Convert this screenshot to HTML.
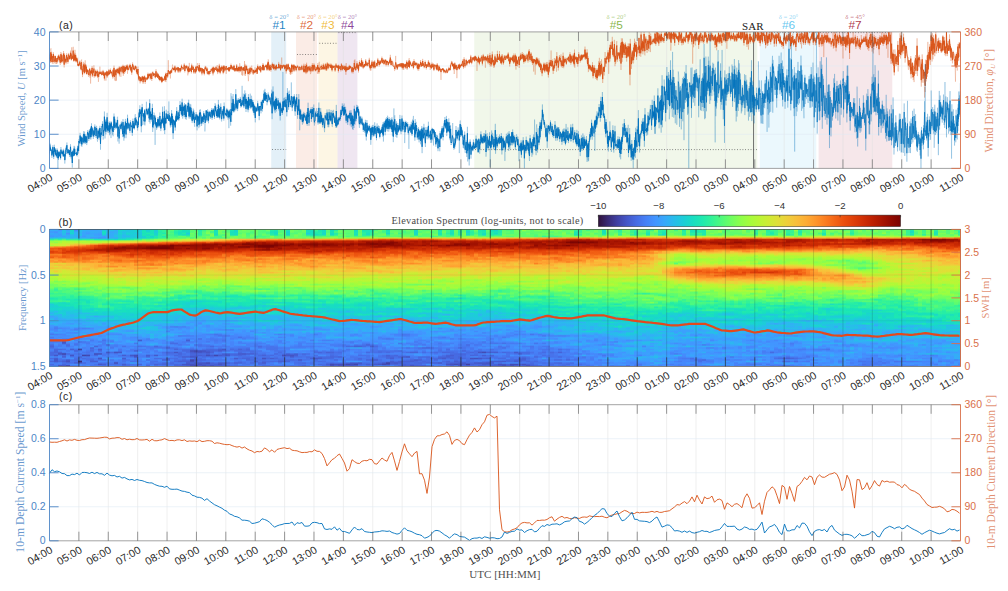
<!DOCTYPE html>
<html><head><meta charset="utf-8"><style>
html,body{margin:0;padding:0;background:#fff;width:1008px;height:591px;overflow:hidden}
#sp{position:absolute;left:49.5px;top:229.4px;width:911px;height:137px;overflow:hidden}
#sp i{position:absolute;top:0;height:100%;display:block}
svg{position:absolute;left:0;top:0}
</style></head><body>
<div id="sp"><i style="left:0px;width:4.3px;background:linear-gradient(#35abf8,#35abf8,#4196ff,#37a8fa,#3ba0fd,#4196ff,#2cb7f0,#2aefa1,#92ff47,#a1fd3d,#cdec34,#acfb38,#fe962b,#ec530f,#f05b12,#dd3d08,#e2430a,#fb7e21,#f56918,#f15d13,#fea130,#fe932a,#fe992c,#ebd339,#f4c73a,#ebd339,#f8be39,#e1dd37,#e1dd37,#d2e935,#bcf534,#b1f936,#b7f735,#a4fc3c,#b4f836,#92ff47,#88ff4e,#6dfe62,#75fe5c,#75fe5c,#59fb73,#43f787,#43f787,#2ff19b,#46f884,#38f491,#1ce6b4,#25eca7,#38f491,#1ce6b4,#1ecbda,#1ad2d2,#1bd0d5,#18d9c8,#1bd0d5,#23c3e4,#2fb2f4,#22c5e2,#3d9efe,#35abf8,#2cb7f0,#25c0e7,#3aa3fc,#2ab9ee,#4099ff,#4294ff,#458cfd,#4687fb,#3d9efe,#448ffe,#4776ee,#3e9bfe,#4778f0,#4687fb,#458cfd,#4778f0,#4680f6,#476ee6,#4664da,#4771e9,#4680f6,#467df4,#4669e0,#4669e0,#4669e0,#4391fe,#466be3,#4680f6,#4664da,#4687fb,#466be3,#4778f0)"></i><i style="left:4px;width:4.3px;background:linear-gradient(#3aa3fc,#35abf8,#4391fe,#3ba0fd,#38a5fb,#3d9efe,#28bceb,#3ff68a,#a7fc3a,#8fff49,#c6f034,#c1f334,#fc8423,#ed5510,#f46617,#e4450a,#ea4e0d,#fb8122,#f46617,#fb7e21,#fe932a,#fea431,#fd8a26,#dbe236,#f9bc39,#d9e436,#f7c13a,#d9e436,#f4c73a,#e1dd37,#bcf534,#c6f034,#b4f836,#a9fb39,#9ffd3f,#75fe5c,#9cfe40,#71fe5f,#7dff56,#52fa7a,#32f298,#32f298,#55fa76,#38f491,#43f787,#38f491,#20eaac,#25eca7,#3cf58e,#1de7b2,#18dec0,#1ad2d2,#1ad4d0,#18d7ca,#1bd0d5,#2cb7f0,#1ccdd8,#25c0e7,#31aff5,#38a5fb,#3d9efe,#23c3e4,#37a8fa,#2cb7f0,#35abf8,#4682f8,#477bf2,#4687fb,#4687fb,#37a8fa,#467df4,#448ffe,#458cfd,#4687fb,#4391fe,#4778f0,#448ffe,#448ffe,#4680f6,#4682f8,#4669e0,#4664da,#4664da,#4773eb,#4456c7,#458afc,#455ed3,#4456c7,#4559cb,#467df4,#4680f6,#4771e9)"></i><i style="left:8px;width:4.3px;background:linear-gradient(#31aff5,#4099ff,#35abf8,#3aa3fc,#3e9bfe,#3aa3fc,#25c0e7,#2aefa1,#a4fc3c,#a7fc3a,#cbed34,#d0ea34,#fd8a26,#e5470b,#ef5811,#ed5510,#e4450a,#fc8423,#f76f1a,#f56918,#fe962b,#fd8a26,#fe9e2f,#e9d539,#faba39,#e9d539,#f2c93a,#dde037,#e3db38,#d7e535,#bcf534,#b9f635,#c6f034,#b4f836,#c1f334,#80ff53,#8fff49,#88ff4e,#80ff53,#5dfc6f,#65fd69,#3ff68a,#46f884,#35f394,#4af880,#32f298,#2aefa1,#2ff19b,#43f787,#18ddc2,#18e0bd,#18e0bd,#1bd0d5,#18dec0,#1ad4d0,#1ecbda,#1ad4d0,#2fb2f4,#28bceb,#2fb2f4,#33adf7,#33adf7,#2eb4f2,#37a8fa,#38a5fb,#3e9bfe,#4682f8,#3aa3fc,#4391fe,#3d9efe,#4682f8,#4391fe,#4687fb,#4294ff,#4773eb,#4680f6,#4685fa,#467df4,#477bf2,#4294ff,#4669e0,#4687fb,#4664da,#434eba,#4778f0,#4391fe,#4778f0,#4771e9,#4666dd,#4685fa,#4778f0,#4249b1)"></i><i style="left:12px;width:4.3px;background:linear-gradient(#3d9efe,#25c0e7,#22c5e2,#28bceb,#2ab9ee,#3ba0fd,#28bceb,#46f884,#affa37,#bcf534,#cbed34,#c8ef34,#fa7b1f,#e5470b,#dd3d08,#e14109,#d43305,#f56918,#ed5510,#f15d13,#fe9e2f,#fe932a,#fc8725,#e1dd37,#f7c13a,#f2c93a,#f7c13a,#dbe236,#cdec34,#d2e935,#c6f034,#d0ea34,#cdec34,#b4f836,#acfb38,#79fe59,#a9fb39,#71fe5f,#8fff49,#59fb73,#4ef97d,#4af880,#55fa76,#35f394,#43f787,#27eea4,#27eea4,#25eca7,#3cf58e,#18d7ca,#18e0bd,#18e0bd,#18d7ca,#1ad4d0,#1ccdd8,#1ecbda,#1bd0d5,#1ccdd8,#23c3e4,#27bee9,#37a8fa,#31aff5,#35abf8,#3ba0fd,#38a5fb,#3e9bfe,#4687fb,#448ffe,#448ffe,#3e9bfe,#4685fa,#458afc,#448ffe,#4680f6,#4099ff,#4451bf,#455ccf,#4687fb,#4685fa,#458afc,#476ee6,#458afc,#467df4,#4040a2,#4669e0,#455ed3,#4685fa,#466be3,#455ed3,#4773eb,#4666dd,#4454c3)"></i><i style="left:16px;width:4.3px;background:linear-gradient(#4391fe,#3ba0fd,#2eb4f2,#4391fe,#38a5fb,#31aff5,#33adf7,#27eea4,#a4fc3c,#b4f836,#d7e535,#e7d739,#f66c19,#ec530f,#e7490c,#d23105,#e14109,#f36315,#f36315,#f36315,#fc8725,#fe962b,#fe992c,#f4c73a,#faba39,#e9d539,#f8be39,#e3db38,#d4e735,#d2e935,#c8ef34,#c8ef34,#c1f334,#bef434,#affa37,#8bff4b,#9cfe40,#8fff49,#8bff4b,#69fd66,#43f787,#55fa76,#52fa7a,#43f787,#3cf58e,#35f394,#2ff19b,#1ae4b6,#43f787,#1ae4b6,#18dbc5,#1ce6b4,#1ad4d0,#19d5cd,#1bd0d5,#23c3e4,#27bee9,#22c5e2,#28bceb,#25c0e7,#2eb4f2,#37a8fa,#3aa3fc,#4099ff,#35abf8,#4099ff,#458afc,#4196ff,#4099ff,#4685fa,#3e9bfe,#4687fb,#4294ff,#477bf2,#4099ff,#4391fe,#4680f6,#4669e0,#4771e9,#458cfd,#4682f8,#4773eb,#4685fa,#4666dd,#4680f6,#458cfd,#458cfd,#4559cb,#4451bf,#466be3,#4773eb,#3f3b97)"></i><i style="left:20px;width:4.3px;background:linear-gradient(#38a5fb,#18d7ca,#1bd0d5,#19d5cd,#2ab9ee,#2ab9ee,#35abf8,#2ff19b,#a9fb39,#c1f334,#dbe236,#fcb136,#f46617,#e5470b,#da3907,#d83706,#e2430a,#f36315,#f76f1a,#f66c19,#fc8725,#fd8a26,#fe9b2d,#f6c33a,#fbb838,#ecd13a,#ecd13a,#f1cb3a,#dde037,#dde037,#d0ea34,#dfdf37,#c6f034,#c6f034,#b7f735,#99fe42,#a4fc3c,#7dff56,#a7fc3a,#5dfc6f,#59fb73,#52fa7a,#4af880,#4ef97d,#32f298,#27eea4,#2cf09e,#1fe9af,#1fe9af,#1de7b2,#1ae4b6,#19e2bb,#1ad2d2,#18d9c8,#1bd0d5,#1fc9dd,#20c7df,#2ab9ee,#2cb7f0,#25c0e7,#35abf8,#37a8fa,#33adf7,#4294ff,#31aff5,#38a5fb,#4099ff,#4687fb,#3d9efe,#4687fb,#3e9bfe,#4294ff,#4294ff,#458afc,#37a8fa,#4391fe,#458afc,#4391fe,#4680f6,#458afc,#455ed3,#4687fb,#4685fa,#477bf2,#4454c3,#4778f0,#4391fe,#476ee6,#4776ee,#476ee6,#458cfd,#4773eb)"></i><i style="left:24px;width:4.3px;background:linear-gradient(#33adf7,#458cfd,#33adf7,#2fb2f4,#31aff5,#31aff5,#2cb7f0,#2ff19b,#a4fc3c,#b9f635,#eecf3a,#fea933,#ea4e0d,#e5470b,#d63506,#d43305,#dc3b07,#eb500e,#f26014,#f76f1a,#f66c19,#f9781e,#fe992c,#f7c13a,#f4c73a,#ecd13a,#f7c13a,#f4c73a,#d4e735,#e9d539,#cbed34,#dbe236,#c3f134,#c3f134,#b1f936,#92ff47,#96fe44,#88ff4e,#a4fc3c,#59fb73,#38f491,#69fd66,#4ef97d,#3ff68a,#43f787,#35f394,#2cf09e,#19e3b9,#22ebaa,#19e2bb,#1de7b2,#1ce6b4,#19e2bb,#18dbc5,#20c7df,#1ad2d2,#23c3e4,#23c3e4,#2cb7f0,#1ccdd8,#35abf8,#3aa3fc,#3ba0fd,#37a8fa,#33adf7,#33adf7,#4685fa,#477bf2,#37a8fa,#4682f8,#3aa3fc,#3e9bfe,#458afc,#4391fe,#4680f6,#4294ff,#4778f0,#4771e9,#448ffe,#4391fe,#4773eb,#455ed3,#467df4,#4773eb,#467df4,#4778f0,#4771e9,#466be3,#4771e9,#455ccf,#448ffe,#4773eb)"></i><i style="left:28px;width:4.3px;background:linear-gradient(#38a5fb,#27bee9,#27bee9,#2eb4f2,#22c5e2,#35abf8,#31aff5,#20eaac,#affa37,#b9f635,#ebd339,#fe962b,#f15d13,#e4450a,#d23105,#d43305,#e7490c,#ef5811,#f8721c,#fb7e21,#fb8122,#fc8423,#fe9b2d,#faba39,#f7c13a,#f1cb3a,#f1cb3a,#f5c53a,#d9e436,#e7d739,#dde037,#cdec34,#cdec34,#c6f034,#c1f334,#b4f836,#8fff49,#8bff4b,#a1fd3d,#6dfe62,#43f787,#71fe5f,#3cf58e,#55fa76,#46f884,#1de7b2,#27eea4,#18e0bd,#20eaac,#1de7b2,#25eca7,#18d9c8,#18dec0,#18d9c8,#1ecbda,#1fc9dd,#2ab9ee,#1ecbda,#1fc9dd,#1ccdd8,#35abf8,#33adf7,#35abf8,#4099ff,#35abf8,#3ba0fd,#4685fa,#4391fe,#3e9bfe,#4099ff,#37a8fa,#4391fe,#3ba0fd,#477bf2,#3e9bfe,#466be3,#4687fb,#4687fb,#448ffe,#4294ff,#4040a2,#467df4,#4685fa,#476ee6,#477bf2,#4661d6,#4776ee,#4682f8,#3b2f80,#4559cb,#458afc,#4687fb)"></i><i style="left:32px;width:4.3px;background:linear-gradient(#35abf8,#2fb2f4,#38a5fb,#38a5fb,#38a5fb,#3e9bfe,#35abf8,#2aefa1,#bcf534,#affa37,#e1dd37,#fd8a26,#ec530f,#da3907,#d02f05,#d23105,#f36315,#f05b12,#f8721c,#f46617,#f46617,#fc8423,#fb8122,#f9bc39,#f8be39,#f1cb3a,#fbb838,#f8be39,#dbe236,#e7d739,#d4e735,#d0ea34,#bef434,#affa37,#c6f034,#acfb38,#7dff56,#88ff4e,#9ffd3f,#69fd66,#4af880,#75fe5c,#52fa7a,#5dfc6f,#46f884,#27eea4,#27eea4,#19e2bb,#1fe9af,#25eca7,#27eea4,#19e2bb,#1de7b2,#1ae4b6,#18d9c8,#18d9c8,#25c0e7,#1fc9dd,#1fc9dd,#19d5cd,#2eb4f2,#2cb7f0,#38a5fb,#2fb2f4,#3ba0fd,#33adf7,#467df4,#4294ff,#38a5fb,#4294ff,#28bceb,#4687fb,#3d9efe,#4682f8,#4099ff,#4773eb,#4682f8,#4196ff,#448ffe,#477bf2,#4687fb,#4685fa,#4776ee,#4682f8,#4143a7,#4685fa,#466be3,#467df4,#4682f8,#4666dd,#4680f6,#4680f6)"></i><i style="left:36px;width:4.3px;background:linear-gradient(#3aa3fc,#33adf7,#3aa3fc,#3e9bfe,#33adf7,#33adf7,#38a5fb,#2aefa1,#a9fb39,#b1f936,#e3db38,#f66c19,#eb500e,#df3f08,#be2102,#d83706,#ed5510,#f05b12,#fb7e21,#f76f1a,#f56918,#fc8725,#fe9029,#faba39,#faba39,#f5c53a,#faba39,#fbb838,#e1dd37,#e1dd37,#d9e436,#c6f034,#c8ef34,#c1f334,#b7f735,#a7fc3a,#79fe59,#9cfe40,#9ffd3f,#6dfe62,#65fd69,#75fe5c,#52fa7a,#59fb73,#52fa7a,#25eca7,#2cf09e,#1de7b2,#18e0bd,#18e0bd,#25eca7,#19e2bb,#1fe9af,#18e0bd,#19d5cd,#18dbc5,#28bceb,#1bd0d5,#28bceb,#20c7df,#38a5fb,#22c5e2,#37a8fa,#33adf7,#37a8fa,#2ab9ee,#4680f6,#4099ff,#3aa3fc,#4099ff,#4099ff,#4196ff,#4196ff,#4682f8,#3aa3fc,#467df4,#4778f0,#4687fb,#4685fa,#4685fa,#4682f8,#4778f0,#4771e9,#4778f0,#4249b1,#477bf2,#4771e9,#476ee6,#467df4,#467df4,#4680f6,#4391fe)"></i><i style="left:40px;width:4.3px;background:linear-gradient(#37a8fa,#3aa3fc,#33adf7,#38a5fb,#35abf8,#35abf8,#4294ff,#2ff19b,#b4f836,#affa37,#fbb838,#ef5811,#e7490c,#df3f08,#af1801,#d43305,#e7490c,#f56918,#f8721c,#f76f1a,#f76f1a,#fea130,#fd8a26,#faba39,#faba39,#faba39,#f6c33a,#ecd13a,#f1cb3a,#dde037,#e1dd37,#bef434,#bef434,#b4f836,#c8ef34,#a1fd3d,#8fff49,#acfb38,#84ff51,#69fd66,#7dff56,#7dff56,#59fb73,#69fd66,#55fa76,#2ff19b,#2ff19b,#1fe9af,#2aefa1,#1fe9af,#32f298,#20eaac,#1fe9af,#19d5cd,#19d5cd,#18dec0,#1ecbda,#19d5cd,#2cb7f0,#1fc9dd,#2cb7f0,#25c0e7,#2fb2f4,#2eb4f2,#38a5fb,#33adf7,#4687fb,#4294ff,#4196ff,#3ba0fd,#3aa3fc,#458cfd,#3e9bfe,#458afc,#4778f0,#4687fb,#4391fe,#4682f8,#4196ff,#4661d6,#476ee6,#4669e0,#477bf2,#467df4,#4776ee,#4687fb,#4771e9,#4666dd,#455ed3,#467df4,#477bf2,#4778f0)"></i><i style="left:44px;width:4.3px;background:linear-gradient(#3ba0fd,#38a5fb,#35abf8,#3aa3fc,#3d9efe,#37a8fa,#4294ff,#1de7b2,#affa37,#b1f936,#faba39,#e5470b,#df3f08,#c82803,#a11201,#d63506,#ea4e0d,#f56918,#fb7e21,#f9751d,#fb8122,#fea130,#fe992c,#fbb838,#fcb336,#fcb336,#fbb838,#f2c93a,#e7d739,#e3db38,#dbe236,#c8ef34,#c1f334,#affa37,#b9f635,#a1fd3d,#9ffd3f,#a9fb39,#84ff51,#80ff53,#6dfe62,#61fc6c,#79fe59,#52fa7a,#6dfe62,#43f787,#32f298,#2aefa1,#27eea4,#2cf09e,#2aefa1,#2aefa1,#2aefa1,#18d9c8,#1fe9af,#18d7ca,#1ccdd8,#18d7ca,#38a5fb,#22c5e2,#28bceb,#1fc9dd,#25c0e7,#31aff5,#37a8fa,#3ba0fd,#3d9efe,#3ba0fd,#3e9bfe,#4196ff,#3e9bfe,#4099ff,#3e9bfe,#448ffe,#458afc,#4687fb,#448ffe,#4294ff,#4661d6,#4391fe,#477bf2,#4687fb,#4682f8,#4249b1,#4669e0,#458cfd,#4776ee,#477bf2,#455ccf,#4682f8,#4771e9,#477bf2)"></i><i style="left:48px;width:4.3px;background:linear-gradient(#2fb2f4,#37a8fa,#37a8fa,#3d9efe,#4099ff,#38a5fb,#458cfd,#1de7b2,#9ffd3f,#b9f635,#fea130,#d63506,#d43305,#c82803,#a71401,#ce2d04,#dd3d08,#f9781e,#fb8122,#fc8725,#fc8423,#fe9e2f,#fa7b1f,#f9bc39,#fea130,#fea431,#f4c73a,#eecf3a,#f8be39,#e7d739,#d7e535,#cbed34,#c1f334,#c1f334,#b1f936,#b9f635,#affa37,#99fe42,#8fff49,#96fe44,#8bff4b,#61fc6c,#7dff56,#61fc6c,#5dfc6f,#46f884,#46f884,#2ff19b,#2ff19b,#38f491,#32f298,#46f884,#3cf58e,#18dbc5,#18e0bd,#18dbc5,#19d5cd,#19d5cd,#2fb2f4,#28bceb,#22c5e2,#23c3e4,#2fb2f4,#2eb4f2,#2eb4f2,#3e9bfe,#3ba0fd,#35abf8,#35abf8,#4391fe,#3aa3fc,#4685fa,#4294ff,#3d9efe,#4196ff,#4776ee,#4099ff,#477bf2,#477bf2,#458afc,#455ccf,#466be3,#467df4,#424bb5,#458afc,#4687fb,#4454c3,#476ee6,#4687fb,#4771e9,#4456c7,#4682f8)"></i><i style="left:52px;width:4.3px;background:linear-gradient(#3e9bfe,#1ecbda,#18e0bd,#18dbc5,#1ccdd8,#3e9bfe,#4391fe,#1ce6b4,#a9fb39,#c8ef34,#fe9029,#d23105,#d02f05,#be2102,#af1801,#cc2b04,#dd3d08,#fb7e21,#f56918,#fc8725,#fc8725,#fb7e21,#fd8d27,#fbb637,#fcb136,#fea933,#f1cb3a,#eecf3a,#fbb637,#e5d938,#dfdf37,#c3f134,#cdec34,#bef434,#c1f334,#b9f635,#b7f735,#99fe42,#8fff49,#7dff56,#71fe5f,#88ff4e,#71fe5f,#4ef97d,#3ff68a,#3ff68a,#52fa7a,#35f394,#38f491,#2ff19b,#1ce6b4,#35f394,#38f491,#18e0bd,#1ae4b6,#18d7ca,#1ccdd8,#18d7ca,#2fb2f4,#23c3e4,#1ecbda,#19d5cd,#35abf8,#3e9bfe,#33adf7,#3ba0fd,#3ba0fd,#35abf8,#2cb7f0,#3ba0fd,#4099ff,#448ffe,#3e9bfe,#4687fb,#4771e9,#4680f6,#477bf2,#4680f6,#458afc,#458afc,#4687fb,#458cfd,#4682f8,#4776ee,#4776ee,#4685fa,#448ffe,#4669e0,#4687fb,#4773eb,#455ed3,#4776ee)"></i><i style="left:56px;width:4.3px;background:linear-gradient(#2eb4f2,#2cb7f0,#28bceb,#2eb4f2,#37a8fa,#35abf8,#3ba0fd,#18ddc2,#a7fc3a,#cbed34,#fd8a26,#d43305,#c12302,#b21a01,#a91601,#b41b01,#e5470b,#f8721c,#f36315,#fc8423,#fa7b1f,#fd8a26,#fd8a26,#f9bc39,#fcb136,#fe932a,#ebd339,#f7c13a,#f6c33a,#e7d739,#ebd339,#d9e436,#dde037,#c1f334,#b9f635,#c3f134,#b7f735,#a9fb39,#99fe42,#65fd69,#88ff4e,#79fe59,#8bff4b,#43f787,#4ef97d,#46f884,#6dfe62,#46f884,#2cf09e,#22ebaa,#1de7b2,#38f491,#32f298,#18dbc5,#18e0bd,#1ad4d0,#1ad4d0,#1ad4d0,#2cb7f0,#1bd0d5,#1fc9dd,#25c0e7,#31aff5,#2eb4f2,#33adf7,#4099ff,#4196ff,#37a8fa,#28bceb,#4099ff,#458afc,#38a5fb,#3aa3fc,#4196ff,#4687fb,#458cfd,#3aa3fc,#4664da,#4687fb,#3aa3fc,#4682f8,#448ffe,#4559cb,#4776ee,#4680f6,#477bf2,#3ba0fd,#4685fa,#458afc,#4773eb,#4776ee,#467df4)"></i><i style="left:60px;width:4.3px;background:linear-gradient(#2eb4f2,#28bceb,#3aa3fc,#33adf7,#35abf8,#35abf8,#35abf8,#19e2bb,#b4f836,#e3db38,#f9781e,#c82803,#b21a01,#a71401,#a91601,#be2102,#eb500e,#ed5510,#fb8122,#fc8725,#f9781e,#f8721c,#fe962b,#fe962b,#fea732,#fc8725,#f2c93a,#f7c13a,#fdae35,#ebd339,#e5d938,#d4e735,#d4e735,#b4f836,#b7f735,#b9f635,#bcf534,#a1fd3d,#a1fd3d,#71fe5f,#92ff47,#7dff56,#80ff53,#52fa7a,#61fc6c,#69fd66,#55fa76,#32f298,#2aefa1,#2cf09e,#19e2bb,#1ce6b4,#2ff19b,#25eca7,#1fe9af,#18dbc5,#1ad4d0,#18d7ca,#27bee9,#28bceb,#1bd0d5,#20c7df,#2cb7f0,#2fb2f4,#22c5e2,#3e9bfe,#2ab9ee,#2cb7f0,#1ccdd8,#4294ff,#458afc,#3aa3fc,#3d9efe,#33adf7,#4682f8,#477bf2,#31aff5,#4682f8,#467df4,#4773eb,#458cfd,#4196ff,#4669e0,#4680f6,#4685fa,#477bf2,#4099ff,#4771e9,#4680f6,#4776ee,#4771e9,#4687fb)"></i><i style="left:64px;width:4.3px;background:linear-gradient(#23c3e4,#33adf7,#33adf7,#2fb2f4,#28bceb,#27bee9,#38a5fb,#18dbc5,#a9fb39,#d4e735,#f8721c,#d83706,#a91601,#880802,#af1801,#bc2002,#e7490c,#ea4e0d,#f56918,#fa7b1f,#f9781e,#f66c19,#fb8122,#fea130,#fdae35,#fc8725,#f5c53a,#fea933,#fcb136,#e1dd37,#eecf3a,#d7e535,#e5d938,#c8ef34,#cbed34,#bef434,#b9f635,#a9fb39,#9ffd3f,#75fe5c,#9ffd3f,#88ff4e,#8bff4b,#4ef97d,#61fc6c,#71fe5f,#5dfc6f,#2ff19b,#1fe9af,#32f298,#1ce6b4,#20eaac,#20eaac,#1ce6b4,#18ddc2,#18ddc2,#18dbc5,#1bd0d5,#1ccdd8,#1ad4d0,#1bd0d5,#2ab9ee,#22c5e2,#38a5fb,#25c0e7,#2cb7f0,#2ab9ee,#37a8fa,#25c0e7,#3e9bfe,#458afc,#37a8fa,#3ba0fd,#3aa3fc,#37a8fa,#448ffe,#4196ff,#467df4,#477bf2,#448ffe,#4391fe,#4391fe,#4451bf,#477bf2,#4682f8,#4682f8,#3e9bfe,#458afc,#477bf2,#4249b1,#476ee6,#4680f6)"></i><i style="left:68px;width:4.3px;background:linear-gradient(#35abf8,#19d5cd,#1ecbda,#1ad4d0,#20c7df,#1fc9dd,#22c5e2,#1ce6b4,#b4f836,#e5d938,#f26014,#ce2d04,#9b0f01,#950d01,#ac1701,#c32503,#e7490c,#e7490c,#f36315,#fb7e21,#f9781e,#f36315,#f9781e,#fea431,#fe9e2f,#fdac34,#f6c33a,#fea933,#faba39,#dde037,#e5d938,#e1dd37,#e7d739,#b4f836,#d0ea34,#acfb38,#b4f836,#b7f735,#99fe42,#6dfe62,#96fe44,#71fe5f,#88ff4e,#52fa7a,#5dfc6f,#69fd66,#69fd66,#2aefa1,#1ce6b4,#43f787,#1ae4b6,#20eaac,#1ce6b4,#22ebaa,#18dbc5,#19e2bb,#19d5cd,#18dbc5,#1fc9dd,#1ccdd8,#1fc9dd,#20c7df,#20c7df,#2cb7f0,#22c5e2,#31aff5,#2cb7f0,#3aa3fc,#31aff5,#37a8fa,#4687fb,#3aa3fc,#4099ff,#3ba0fd,#4099ff,#458cfd,#3d9efe,#4685fa,#4687fb,#458afc,#4776ee,#4776ee,#4456c7,#448ffe,#4773eb,#4680f6,#4099ff,#467df4,#467df4,#4778f0,#4773eb,#467df4)"></i><i style="left:72px;width:4.3px;background:linear-gradient(#22c5e2,#1bd0d5,#25c0e7,#22c5e2,#28bceb,#2cb7f0,#25c0e7,#1ce6b4,#bef434,#e3db38,#f15d13,#ca2a04,#880802,#950d01,#a91601,#d02f05,#eb500e,#e5470b,#ec530f,#f9751d,#fc8725,#fa7b1f,#fc8423,#fea130,#fea431,#fe9029,#f2c93a,#fcb136,#f7c13a,#e1dd37,#f5c53a,#ebd339,#dde037,#c1f334,#c1f334,#affa37,#acfb38,#b7f735,#99fe42,#59fb73,#8fff49,#96fe44,#8fff49,#55fa76,#80ff53,#59fb73,#61fc6c,#3cf58e,#19e3b9,#38f491,#19e3b9,#1de7b2,#19e3b9,#19e2bb,#18e0bd,#18e0bd,#1ad2d2,#1ad4d0,#1ad2d2,#1ad4d0,#27bee9,#20c7df,#25c0e7,#22c5e2,#22c5e2,#35abf8,#28bceb,#38a5fb,#3ba0fd,#2eb4f2,#4099ff,#4391fe,#4391fe,#4391fe,#4196ff,#4099ff,#4099ff,#448ffe,#476ee6,#448ffe,#4687fb,#4682f8,#448ffe,#458cfd,#455ccf,#4685fa,#455ccf,#4771e9,#4771e9,#467df4,#455ccf,#476ee6)"></i><i style="left:76px;width:4.3px;background:linear-gradient(#25c0e7,#23c3e4,#20c7df,#1ad4d0,#1fc9dd,#2ab9ee,#1ad4d0,#1fe9af,#bef434,#ebd339,#f36315,#b91e02,#9b0f01,#950d01,#c32503,#ca2a04,#f15d13,#dd3d08,#eb500e,#f26014,#fc8725,#fa7b1f,#fb8122,#fea130,#fea130,#fea933,#fbb637,#fbb637,#f6c33a,#eecf3a,#e9d539,#dfdf37,#d2e935,#d0ea34,#d4e735,#c3f134,#bcf534,#c6f034,#a9fb39,#55fa76,#84ff51,#88ff4e,#79fe59,#52fa7a,#71fe5f,#38f491,#55fa76,#2ff19b,#1ae4b6,#2ff19b,#1ae4b6,#25eca7,#1de7b2,#19e3b9,#18dbc5,#18dec0,#18d7ca,#18d7ca,#1ad2d2,#1bd0d5,#1ccdd8,#28bceb,#37a8fa,#23c3e4,#1ccdd8,#35abf8,#27bee9,#3d9efe,#4196ff,#28bceb,#3d9efe,#3aa3fc,#4294ff,#448ffe,#3aa3fc,#37a8fa,#448ffe,#448ffe,#4682f8,#4685fa,#448ffe,#4778f0,#4685fa,#458cfd,#4771e9,#4778f0,#4687fb,#476ee6,#4680f6,#4687fb,#476ee6,#476ee6)"></i><i style="left:80px;width:4.3px;background:linear-gradient(#1ecbda,#1ecbda,#1ccdd8,#1bd0d5,#1fc9dd,#1fc9dd,#1ccdd8,#27eea4,#c8ef34,#f1cb3a,#ec530f,#b41b01,#a41301,#9b0f01,#ca2a04,#d63506,#df3f08,#d43305,#df3f08,#f05b12,#fe962b,#f8721c,#fd8a26,#fdae35,#fea732,#fdae35,#fdae35,#f9bc39,#f1cb3a,#f1cb3a,#dde037,#e7d739,#cbed34,#b9f635,#d7e535,#cdec34,#b7f735,#c6f034,#9cfe40,#75fe5c,#65fd69,#88ff4e,#75fe5c,#59fb73,#7dff56,#3ff68a,#59fb73,#3ff68a,#1de7b2,#27eea4,#25eca7,#22ebaa,#25eca7,#18d9c8,#19e2bb,#19e2bb,#1ad4d0,#1ecbda,#1ad2d2,#1ad4d0,#25c0e7,#19d5cd,#28bceb,#20c7df,#1ecbda,#31aff5,#1fc9dd,#3ba0fd,#4196ff,#27bee9,#3d9efe,#3ba0fd,#458afc,#448ffe,#448ffe,#2fb2f4,#4294ff,#4391fe,#4680f6,#4294ff,#4778f0,#4778f0,#458afc,#458afc,#4456c7,#4771e9,#458afc,#4682f8,#476ee6,#35abf8,#4773eb,#477bf2)"></i><i style="left:84px;width:4.3px;background:linear-gradient(#18ddc2,#19d5cd,#1ad2d2,#22c5e2,#1ad4d0,#20c7df,#1ad2d2,#3cf58e,#cbed34,#f4c73a,#e7490c,#c12302,#9b0f01,#950d01,#bc2002,#d23105,#e14109,#dc3b07,#f26014,#f56918,#fc8423,#f56918,#f8721c,#fe992c,#fc8423,#fcb136,#fea130,#fdae35,#ecd13a,#f2c93a,#dfdf37,#e9d539,#cbed34,#c1f334,#d0ea34,#cdec34,#b7f735,#bef434,#affa37,#65fd69,#80ff53,#80ff53,#69fd66,#6dfe62,#6dfe62,#38f491,#3cf58e,#38f491,#32f298,#43f787,#22ebaa,#20eaac,#1ce6b4,#18dec0,#19e3b9,#18dbc5,#18dec0,#1bd0d5,#18d9c8,#1bd0d5,#20c7df,#1ad2d2,#31aff5,#18ddc2,#25c0e7,#2fb2f4,#20c7df,#2eb4f2,#38a5fb,#22c5e2,#3e9bfe,#3aa3fc,#4687fb,#448ffe,#4391fe,#3aa3fc,#4776ee,#4099ff,#467df4,#4685fa,#467df4,#455ccf,#458cfd,#4687fb,#434eba,#4454c3,#467df4,#4776ee,#4771e9,#3d9efe,#4778f0,#4776ee)"></i><i style="left:88px;width:4.3px;background:linear-gradient(#19d5cd,#1fc9dd,#1bd0d5,#20c7df,#1ccdd8,#22c5e2,#1ccdd8,#3cf58e,#b9f635,#fcb336,#d83706,#a41301,#950d01,#950d01,#c52603,#da3907,#dc3b07,#dc3b07,#ec530f,#f26014,#fe9029,#f46617,#fe9029,#fe992c,#fb8122,#fbb838,#fd8d27,#faba39,#efcd3a,#efcd3a,#e5d938,#ecd13a,#dbe236,#cdec34,#d2e935,#c3f134,#b4f836,#bcf534,#b9f635,#79fe59,#8fff49,#9ffd3f,#65fd69,#52fa7a,#75fe5c,#4ef97d,#2ff19b,#3cf58e,#2aefa1,#2cf09e,#25eca7,#1de7b2,#1fe9af,#1de7b2,#18e0bd,#18e0bd,#1bd0d5,#1ecbda,#19d5cd,#1ecbda,#22c5e2,#1ad2d2,#2ab9ee,#1ecbda,#27bee9,#37a8fa,#1ecbda,#35abf8,#2fb2f4,#2cb7f0,#37a8fa,#3ba0fd,#4391fe,#4294ff,#4559cb,#4196ff,#3e9bfe,#458afc,#476ee6,#448ffe,#4778f0,#477bf2,#3d9efe,#4682f8,#467df4,#477bf2,#4687fb,#4680f6,#477bf2,#458afc,#4666dd,#4685fa)"></i><i style="left:92px;width:4.3px;background:linear-gradient(#18dbc5,#19e2bb,#1ce6b4,#19e2bb,#1de7b2,#19d5cd,#1ccdd8,#65fd69,#cbed34,#fea732,#d63506,#ac1701,#980e01,#8b0902,#d23105,#cc2b04,#e4450a,#e7490c,#f15d13,#ef5811,#fb8122,#f76f1a,#fc8423,#fd8a26,#fb7e21,#fbb637,#fd8d27,#fbb838,#ebd339,#f8be39,#ebd339,#eecf3a,#d9e436,#d0ea34,#bcf534,#bcf534,#b9f635,#b9f635,#acfb38,#8bff4b,#9cfe40,#88ff4e,#61fc6c,#6dfe62,#71fe5f,#32f298,#32f298,#27eea4,#2aefa1,#2cf09e,#38f491,#1fe9af,#2aefa1,#20eaac,#18ddc2,#19d5cd,#1bd0d5,#23c3e4,#18dec0,#1ecbda,#28bceb,#1ad4d0,#2cb7f0,#25c0e7,#31aff5,#2ab9ee,#19d5cd,#33adf7,#2fb2f4,#33adf7,#35abf8,#33adf7,#3d9efe,#458afc,#4685fa,#4391fe,#448ffe,#4391fe,#4773eb,#4196ff,#4778f0,#4682f8,#4682f8,#458cfd,#477bf2,#4778f0,#4196ff,#4294ff,#4680f6,#458afc,#4685fa,#458afc)"></i><i style="left:96px;width:4.3px;background:linear-gradient(#19e2bb,#1ccdd8,#18d9c8,#1fe9af,#18d9c8,#1de7b2,#18dbc5,#5dfc6f,#a7fc3a,#fea130,#dd3d08,#a91601,#850702,#850702,#c32503,#d83706,#d43305,#e14109,#e84b0c,#f05b12,#f46617,#f9781e,#fe992c,#fa7b1f,#fb8122,#f8be39,#fd8a26,#fea933,#f1cb3a,#f7c13a,#dde037,#dfdf37,#d7e535,#cbed34,#acfb38,#c6f034,#a1fd3d,#affa37,#96fe44,#96fe44,#96fe44,#8bff4b,#69fd66,#4ef97d,#80ff53,#3ff68a,#2cf09e,#35f394,#2cf09e,#32f298,#35f394,#1ae4b6,#27eea4,#2aefa1,#18dec0,#20c7df,#1ad4d0,#1fc9dd,#19d5cd,#23c3e4,#20c7df,#19d5cd,#37a8fa,#27bee9,#2fb2f4,#1fc9dd,#1bd0d5,#25c0e7,#31aff5,#28bceb,#38a5fb,#3d9efe,#3ba0fd,#477bf2,#4682f8,#4196ff,#4099ff,#3aa3fc,#4778f0,#467df4,#4685fa,#4682f8,#467df4,#458afc,#455ccf,#4666dd,#3e9bfe,#4666dd,#448ffe,#4682f8,#4773eb,#4666dd)"></i><i style="left:100px;width:4.3px;background:linear-gradient(#18e0bd,#1ae4b6,#19e3b9,#1ae4b6,#22ebaa,#19d5cd,#18e0bd,#6dfe62,#a9fb39,#fe992c,#dc3b07,#9e1001,#7a0403,#7a0403,#b71d02,#cc2b04,#c82803,#dd3d08,#f36315,#f36315,#f56918,#f76f1a,#fd8d27,#fa7b1f,#f76f1a,#f5c53a,#fe9029,#fbb838,#ecd13a,#f7c13a,#ecd13a,#ecd13a,#d4e735,#cdec34,#bcf534,#c3f134,#affa37,#92ff47,#a7fc3a,#8fff49,#96fe44,#96fe44,#69fd66,#61fc6c,#88ff4e,#59fb73,#2cf09e,#2cf09e,#2cf09e,#22ebaa,#2aefa1,#1ae4b6,#25eca7,#1ae4b6,#18ddc2,#1ccdd8,#18d7ca,#18d7ca,#1ccdd8,#2ab9ee,#20c7df,#1ad2d2,#2eb4f2,#2cb7f0,#2fb2f4,#20c7df,#23c3e4,#27bee9,#31aff5,#37a8fa,#27bee9,#2fb2f4,#27bee9,#3d9efe,#4682f8,#4196ff,#3aa3fc,#2eb4f2,#467df4,#4776ee,#467df4,#4687fb,#448ffe,#458afc,#4773eb,#4685fa,#4682f8,#4680f6,#4771e9,#4771e9,#4773eb,#4391fe)"></i><i style="left:104px;width:4.3px;background:linear-gradient(#22ebaa,#1bd0d5,#1fc9dd,#19d5cd,#1ad2d2,#20eaac,#1ce6b4,#8bff4b,#bef434,#fe992c,#da3907,#ac1701,#7a0403,#7a0403,#b71d02,#cc2b04,#d43305,#dc3b07,#ea4e0d,#f15d13,#f76f1a,#f9751d,#fe9029,#fe992c,#fb8122,#fbb838,#fe932a,#f7c13a,#ecd13a,#fbb838,#e3db38,#ebd339,#c8ef34,#c8ef34,#b9f635,#d4e735,#b4f836,#affa37,#a7fc3a,#88ff4e,#92ff47,#96fe44,#5dfc6f,#52fa7a,#79fe59,#43f787,#32f298,#3cf58e,#32f298,#1ce6b4,#43f787,#18dec0,#1de7b2,#20eaac,#19d5cd,#1ccdd8,#1ccdd8,#1ad2d2,#1fc9dd,#22c5e2,#22c5e2,#20c7df,#27bee9,#27bee9,#3d9efe,#22c5e2,#28bceb,#20c7df,#31aff5,#2fb2f4,#37a8fa,#3aa3fc,#2fb2f4,#458cfd,#4196ff,#4391fe,#37a8fa,#3ba0fd,#4666dd,#4776ee,#448ffe,#4778f0,#4680f6,#458afc,#4559cb,#4391fe,#466be3,#4682f8,#476ee6,#477bf2,#4661d6,#4776ee)"></i><i style="left:108px;width:4.3px;background:linear-gradient(#4af880,#2aefa1,#22ebaa,#2aefa1,#2aefa1,#2ff19b,#32f298,#8bff4b,#b9f635,#f9781e,#da3907,#920b01,#7a0403,#7a0403,#bc2002,#d63506,#da3907,#d83706,#e84b0c,#f05b12,#f76f1a,#fc8423,#fe9e2f,#fd8a26,#fb7e21,#fbb838,#fdac34,#f8be39,#eecf3a,#faba39,#dfdf37,#efcd3a,#cdec34,#cdec34,#b9f635,#bcf534,#c3f134,#a9fb39,#99fe42,#a1fd3d,#75fe5c,#7dff56,#7dff56,#4ef97d,#79fe59,#4ef97d,#32f298,#52fa7a,#32f298,#18dec0,#2ff19b,#1ad4d0,#1fe9af,#1fe9af,#19e3b9,#22c5e2,#1bd0d5,#1ccdd8,#27bee9,#25c0e7,#22c5e2,#1ccdd8,#27bee9,#2eb4f2,#3ba0fd,#31aff5,#38a5fb,#27bee9,#38a5fb,#2fb2f4,#35abf8,#33adf7,#2eb4f2,#3ba0fd,#448ffe,#4391fe,#4391fe,#3ba0fd,#4778f0,#4771e9,#3d9efe,#4294ff,#477bf2,#4685fa,#4778f0,#4196ff,#466be3,#458cfd,#4680f6,#4773eb,#4669e0,#4680f6)"></i><i style="left:112px;width:4.3px;background:linear-gradient(#22ebaa,#32f298,#2ff19b,#1fe9af,#43f787,#1fe9af,#35f394,#8bff4b,#cdec34,#f76f1a,#e14109,#880802,#7a0403,#7a0403,#bc2002,#d23105,#e5470b,#d23105,#f15d13,#ed5510,#f76f1a,#f9781e,#fe9b2d,#fe9e2f,#fe9029,#efcd3a,#fdac34,#fdae35,#f7c13a,#efcd3a,#e9d539,#dfdf37,#c6f034,#d4e735,#bef434,#c1f334,#bef434,#acfb38,#92ff47,#a4fc3c,#71fe5f,#84ff51,#52fa7a,#4af880,#61fc6c,#69fd66,#35f394,#2ff19b,#20eaac,#1ce6b4,#2cf09e,#19e3b9,#1fe9af,#18dbc5,#1ce6b4,#1ad4d0,#1bd0d5,#1ecbda,#2ab9ee,#23c3e4,#2cb7f0,#27bee9,#20c7df,#31aff5,#2fb2f4,#4294ff,#3aa3fc,#2eb4f2,#37a8fa,#37a8fa,#2ab9ee,#28bceb,#3ba0fd,#38a5fb,#4687fb,#458cfd,#4687fb,#3e9bfe,#4682f8,#476ee6,#458afc,#4391fe,#476ee6,#4778f0,#4778f0,#458afc,#4773eb,#455ccf,#4682f8,#4666dd,#4664da,#477bf2)"></i><i style="left:116px;width:4.3px;background:linear-gradient(#3cf58e,#52fa7a,#52fa7a,#5dfc6f,#3ff68a,#52fa7a,#4ef97d,#7dff56,#d9e436,#f46617,#d83706,#920b01,#7e0502,#7e0502,#bc2002,#d83706,#dd3d08,#e14109,#ec530f,#eb500e,#f9751d,#fd8a26,#fd8d27,#fe992c,#fea130,#f8be39,#fbb838,#fdae35,#faba39,#e9d539,#e7d739,#e9d539,#bef434,#cdec34,#cdec34,#b9f635,#bef434,#a7fc3a,#99fe42,#a9fb39,#6dfe62,#88ff4e,#4af880,#59fb73,#46f884,#5dfc6f,#25eca7,#32f298,#22ebaa,#25eca7,#19e2bb,#18ddc2,#25eca7,#18e0bd,#1ad2d2,#19d5cd,#1ecbda,#1bd0d5,#22c5e2,#25c0e7,#20c7df,#2ab9ee,#1bd0d5,#33adf7,#35abf8,#448ffe,#448ffe,#38a5fb,#4682f8,#33adf7,#2cb7f0,#3d9efe,#4294ff,#4196ff,#3ba0fd,#4685fa,#4685fa,#4196ff,#4778f0,#455ccf,#4680f6,#4685fa,#4664da,#476ee6,#4778f0,#4294ff,#4664da,#4661d6,#458cfd,#4773eb,#4773eb,#467df4)"></i><i style="left:120px;width:4.3px;background:linear-gradient(#69fd66,#55fa76,#3ff68a,#4ef97d,#43f787,#4ef97d,#55fa76,#96fe44,#dfdf37,#f76f1a,#c52603,#7a0403,#850702,#850702,#a91601,#d02f05,#d02f05,#d23105,#eb500e,#f8721c,#fd8a26,#fc8423,#fb7e21,#fe962b,#fe9b2d,#faba39,#fea732,#fea130,#f5c53a,#f1cb3a,#e9d539,#dde037,#c6f034,#d9e436,#c6f034,#a7fc3a,#c8ef34,#bcf534,#8bff4b,#96fe44,#6dfe62,#69fd66,#46f884,#5dfc6f,#7dff56,#38f491,#1de7b2,#32f298,#1de7b2,#18e0bd,#18dbc5,#18dbc5,#19e3b9,#18dbc5,#19d5cd,#18dbc5,#1bd0d5,#1fc9dd,#28bceb,#22c5e2,#27bee9,#28bceb,#22c5e2,#33adf7,#38a5fb,#477bf2,#4099ff,#458afc,#3d9efe,#3d9efe,#2fb2f4,#35abf8,#458cfd,#3ba0fd,#3d9efe,#4778f0,#4669e0,#458afc,#458afc,#476ee6,#4778f0,#4680f6,#4669e0,#476ee6,#4776ee,#4682f8,#476ee6,#4682f8,#4776ee,#4666dd,#476ee6,#4682f8)"></i><i style="left:124px;width:4.3px;background:linear-gradient(#69fd66,#2cf09e,#20eaac,#25eca7,#2ff19b,#43f787,#59fb73,#a4fc3c,#e5d938,#ef5811,#d02f05,#8b0902,#a41301,#9b0f01,#a91601,#ca2a04,#e14109,#dc3b07,#f05b12,#f46617,#fa7b1f,#fb8122,#fe992c,#fa7b1f,#faba39,#f9bc39,#fdae35,#fea431,#f1cb3a,#e1dd37,#efcd3a,#dfdf37,#c6f034,#d0ea34,#cbed34,#b4f836,#c3f134,#acfb38,#92ff47,#9ffd3f,#7dff56,#61fc6c,#3cf58e,#59fb73,#38f491,#2aefa1,#25eca7,#4af880,#19e3b9,#18ddc2,#18dec0,#18d7ca,#19e3b9,#1ad4d0,#18d9c8,#18d9c8,#20c7df,#25c0e7,#23c3e4,#2fb2f4,#28bceb,#33adf7,#2cb7f0,#37a8fa,#2fb2f4,#4776ee,#4196ff,#3e9bfe,#3d9efe,#4196ff,#35abf8,#4391fe,#4391fe,#4294ff,#4685fa,#4687fb,#466be3,#4680f6,#4687fb,#4773eb,#4661d6,#4685fa,#4454c3,#4778f0,#4666dd,#467df4,#466be3,#4771e9,#4666dd,#477bf2,#4666dd,#4664da)"></i><i style="left:128px;width:4.3px;background:linear-gradient(#55fa76,#22ebaa,#19e3b9,#19e2bb,#1de7b2,#5dfc6f,#52fa7a,#acfb38,#e3db38,#f66c19,#c12302,#8e0a01,#a41301,#9b0f01,#b21a01,#cc2b04,#d43305,#e5470b,#e5470b,#f8721c,#fc8423,#fe9029,#fd8d27,#fe9029,#f9bc39,#f7c13a,#fbb838,#fea732,#faba39,#e5d938,#dde037,#ecd13a,#cdec34,#d2e935,#c3f134,#a1fd3d,#c1f334,#b4f836,#8fff49,#88ff4e,#80ff53,#59fb73,#43f787,#5dfc6f,#25eca7,#22ebaa,#18e0bd,#2ff19b,#18dbc5,#18ddc2,#18d9c8,#1ae4b6,#18dec0,#1fc9dd,#20c7df,#1ad2d2,#18d9c8,#23c3e4,#2eb4f2,#25c0e7,#20c7df,#27bee9,#2ab9ee,#3ba0fd,#33adf7,#4680f6,#458cfd,#4294ff,#3aa3fc,#448ffe,#35abf8,#4773eb,#4391fe,#4294ff,#4685fa,#4680f6,#4680f6,#4771e9,#458afc,#467df4,#4771e9,#477bf2,#4669e0,#4664da,#466be3,#466be3,#4778f0,#476ee6,#455ed3,#477bf2,#4669e0,#4666dd)"></i><i style="left:132px;width:4.3px;background:linear-gradient(#4ef97d,#19e2bb,#18dec0,#22ebaa,#18dbc5,#5dfc6f,#52fa7a,#c3f134,#f1cb3a,#f15d13,#c82803,#7e0502,#a41301,#a71401,#b41b01,#c82803,#e4450a,#e84b0c,#f26014,#f8721c,#fe9029,#fc8423,#fe9029,#fd8d27,#f9bc39,#fcb136,#f4c73a,#fea933,#f8be39,#e5d938,#eecf3a,#eecf3a,#cdec34,#c8ef34,#b7f735,#99fe42,#bcf534,#a9fb39,#7dff56,#79fe59,#7dff56,#55fa76,#69fd66,#5dfc6f,#35f394,#1ce6b4,#25eca7,#2ff19b,#18dbc5,#18d9c8,#1ad4d0,#18ddc2,#18d7ca,#1fc9dd,#1ad2d2,#1ad2d2,#1ad2d2,#1bd0d5,#35abf8,#2cb7f0,#31aff5,#28bceb,#2fb2f4,#3aa3fc,#38a5fb,#477bf2,#4196ff,#3d9efe,#4391fe,#4391fe,#3d9efe,#4776ee,#4294ff,#4687fb,#4687fb,#4778f0,#4680f6,#467df4,#4099ff,#458afc,#466be3,#4666dd,#4778f0,#476ee6,#4773eb,#455ccf,#4771e9,#4664da,#4661d6,#4680f6,#4456c7,#4669e0)"></i><i style="left:136px;width:4.3px;background:linear-gradient(#61fc6c,#19e2bb,#18e0bd,#1ccdd8,#18dec0,#3ff68a,#75fe5c,#c1f334,#ebd339,#ed5510,#c52603,#850702,#ac1701,#8b0902,#be2102,#d43305,#e4450a,#e7490c,#f05b12,#fa7b1f,#fe9e2f,#fc8423,#fe9029,#fc8423,#fbb838,#fdac34,#f8be39,#fbb838,#e9d539,#e7d739,#d9e436,#e3db38,#d0ea34,#cdec34,#b7f735,#a7fc3a,#acfb38,#affa37,#80ff53,#80ff53,#6dfe62,#43f787,#3ff68a,#6dfe62,#1ae4b6,#25eca7,#2ff19b,#20eaac,#19e2bb,#1bd0d5,#19d5cd,#19d5cd,#18d7ca,#20c7df,#1ccdd8,#22c5e2,#1ccdd8,#19d5cd,#28bceb,#28bceb,#2ab9ee,#2fb2f4,#3d9efe,#4294ff,#35abf8,#458cfd,#458cfd,#4099ff,#3e9bfe,#4294ff,#4391fe,#4778f0,#448ffe,#467df4,#455ccf,#4778f0,#4391fe,#4778f0,#3ba0fd,#448ffe,#466be3,#4666dd,#466be3,#4778f0,#4773eb,#455ccf,#4682f8,#466be3,#455ed3,#455ccf,#4454c3,#4661d6)"></i><i style="left:140px;width:4.3px;background:linear-gradient(#4ef97d,#5dfc6f,#4ef97d,#6dfe62,#61fc6c,#69fd66,#43f787,#c6f034,#f6c33a,#e84b0c,#b41b01,#8e0a01,#9e1001,#a11201,#b71d02,#d83706,#dd3d08,#e2430a,#ef5811,#f66c19,#fe9b2d,#fd8a26,#fe9029,#fc8725,#fbb637,#fea431,#f2c93a,#fdac34,#e9d539,#e1dd37,#dfdf37,#f1cb3a,#d7e535,#cbed34,#b7f735,#a7fc3a,#a7fc3a,#9cfe40,#75fe5c,#75fe5c,#79fe59,#43f787,#3ff68a,#61fc6c,#2aefa1,#2cf09e,#52fa7a,#1ce6b4,#1ecbda,#18d7ca,#18d7ca,#19e2bb,#18dbc5,#27bee9,#1bd0d5,#1fc9dd,#1ecbda,#1ccdd8,#31aff5,#2eb4f2,#2cb7f0,#35abf8,#4196ff,#35abf8,#3aa3fc,#4099ff,#4196ff,#33adf7,#35abf8,#4196ff,#3d9efe,#477bf2,#458cfd,#4680f6,#4196ff,#477bf2,#458afc,#3e9bfe,#448ffe,#477bf2,#4669e0,#424bb5,#455ccf,#4666dd,#4664da,#4451bf,#4776ee,#4143a7,#434eba,#4664da,#4451bf,#434eba)"></i><i style="left:144px;width:4.3px;background:linear-gradient(#6dfe62,#4ef97d,#69fd66,#55fa76,#5dfc6f,#52fa7a,#5dfc6f,#c3f134,#fbb838,#e4450a,#a91601,#920b01,#9b0f01,#9e1001,#a91601,#d83706,#ec530f,#eb500e,#ea4e0d,#f8721c,#fe9e2f,#fc8725,#fc8725,#fe932a,#fea130,#fdae35,#eecf3a,#f1cb3a,#e1dd37,#ecd13a,#e3db38,#d9e436,#dbe236,#bcf534,#b1f936,#b4f836,#a1fd3d,#92ff47,#88ff4e,#8fff49,#71fe5f,#38f491,#2cf09e,#59fb73,#25eca7,#38f491,#4ef97d,#1ae4b6,#1ad4d0,#18ddc2,#18d9c8,#19e2bb,#19d5cd,#27bee9,#1ad4d0,#28bceb,#1ecbda,#27bee9,#2eb4f2,#38a5fb,#38a5fb,#3aa3fc,#3e9bfe,#3d9efe,#4294ff,#38a5fb,#31aff5,#3ba0fd,#3e9bfe,#4196ff,#4196ff,#4687fb,#458cfd,#4687fb,#4682f8,#4680f6,#4294ff,#476ee6,#4685fa,#448ffe,#4771e9,#4143a7,#4456c7,#4669e0,#4661d6,#4456c7,#4666dd,#4456c7,#455ed3,#4559cb,#4454c3,#4146ac)"></i><i style="left:148px;width:4.3px;background:linear-gradient(#5dfc6f,#20eaac,#2aefa1,#27eea4,#27eea4,#52fa7a,#69fd66,#b7f735,#f7c13a,#e2430a,#a91601,#950d01,#9e1001,#a41301,#af1801,#d23105,#ec530f,#e2430a,#ef5811,#f8721c,#fe9b2d,#fc8423,#fe9029,#fe932a,#fea933,#faba39,#f6c33a,#f4c73a,#e1dd37,#f1cb3a,#e1dd37,#cbed34,#d7e535,#b7f735,#92ff47,#c1f334,#96fe44,#9ffd3f,#84ff51,#6dfe62,#71fe5f,#3cf58e,#32f298,#35f394,#43f787,#3cf58e,#3ff68a,#20eaac,#1bd0d5,#18e0bd,#18ddc2,#18d9c8,#18d9c8,#27bee9,#22c5e2,#1ecbda,#25c0e7,#25c0e7,#31aff5,#3d9efe,#2fb2f4,#38a5fb,#4196ff,#458cfd,#35abf8,#3d9efe,#3d9efe,#3e9bfe,#38a5fb,#4196ff,#448ffe,#4685fa,#4391fe,#466be3,#4682f8,#4682f8,#4682f8,#476ee6,#4773eb,#4685fa,#4680f6,#434eba,#4454c3,#476ee6,#455ed3,#4778f0,#466be3,#4666dd,#476ee6,#4456c7,#4451bf,#455ccf)"></i><i style="left:152px;width:4.3px;background:linear-gradient(#4ef97d,#3ff68a,#55fa76,#59fb73,#52fa7a,#61fc6c,#4af880,#b9f635,#fcb336,#dd3d08,#950d01,#880802,#980e01,#8b0902,#a91601,#e4450a,#f05b12,#e84b0c,#ec530f,#fc8423,#fe992c,#fb7e21,#f9781e,#fe932a,#fdac34,#f9bc39,#f7c13a,#f5c53a,#ecd13a,#ebd339,#e9d539,#d0ea34,#dde037,#a9fb39,#9ffd3f,#c6f034,#a7fc3a,#99fe42,#5dfc6f,#84ff51,#6dfe62,#5dfc6f,#43f787,#35f394,#22ebaa,#2ff19b,#2ff19b,#1de7b2,#18d9c8,#19e3b9,#19e2bb,#18d9c8,#18d7ca,#27bee9,#19d5cd,#2ab9ee,#28bceb,#22c5e2,#33adf7,#35abf8,#37a8fa,#4099ff,#3aa3fc,#31aff5,#3e9bfe,#4196ff,#37a8fa,#3ba0fd,#37a8fa,#3ba0fd,#4687fb,#458afc,#4687fb,#458afc,#4685fa,#4682f8,#458cfd,#4778f0,#4776ee,#4685fa,#4771e9,#4451bf,#455ccf,#476ee6,#4664da,#466be3,#4776ee,#4664da,#4778f0,#4454c3,#4559cb,#434eba)"></i><i style="left:156px;width:4.3px;background:linear-gradient(#65fd69,#61fc6c,#75fe5c,#80ff53,#4af880,#71fe5f,#6dfe62,#d0ea34,#fea933,#ef5811,#950d01,#920b01,#980e01,#880802,#b71d02,#dc3b07,#ef5811,#ed5510,#f26014,#f8721c,#fd8a26,#f9781e,#fd8a26,#fcb136,#fdae35,#f1cb3a,#f6c33a,#e5d938,#dfdf37,#dde037,#e1dd37,#c8ef34,#dbe236,#affa37,#a7fc3a,#bcf534,#92ff47,#b4f836,#7dff56,#71fe5f,#79fe59,#79fe59,#3cf58e,#32f298,#27eea4,#2ff19b,#3ff68a,#22ebaa,#18dbc5,#1de7b2,#19e3b9,#18d9c8,#18dbc5,#1ad4d0,#18dbc5,#1fc9dd,#2cb7f0,#1ccdd8,#37a8fa,#31aff5,#33adf7,#33adf7,#33adf7,#2eb4f2,#448ffe,#448ffe,#3e9bfe,#4196ff,#4099ff,#37a8fa,#4682f8,#448ffe,#4196ff,#467df4,#4682f8,#4776ee,#4294ff,#4778f0,#4771e9,#467df4,#4669e0,#455ed3,#4456c7,#4666dd,#434eba,#4773eb,#4685fa,#4771e9,#4776ee,#4249b1,#455ccf,#4559cb)"></i><i style="left:160px;width:4.3px;background:linear-gradient(#43f787,#69fd66,#35f394,#69fd66,#84ff51,#71fe5f,#38f491,#cdec34,#faba39,#e4450a,#9b0f01,#920b01,#980e01,#9e1001,#bc2002,#dc3b07,#eb500e,#eb500e,#f05b12,#f36315,#fc8725,#fd8d27,#fd8d27,#fcb136,#fbb838,#f8be39,#faba39,#eecf3a,#e3db38,#e1dd37,#dbe236,#d2e935,#d7e535,#cbed34,#a9fb39,#acfb38,#9cfe40,#9ffd3f,#88ff4e,#8bff4b,#69fd66,#84ff51,#46f884,#32f298,#2ff19b,#1fe9af,#38f491,#25eca7,#18ddc2,#1ce6b4,#19e2bb,#18dbc5,#1bd0d5,#22c5e2,#19d5cd,#23c3e4,#2eb4f2,#1fc9dd,#27bee9,#31aff5,#23c3e4,#37a8fa,#37a8fa,#23c3e4,#3d9efe,#3e9bfe,#3e9bfe,#4294ff,#31aff5,#2cb7f0,#467df4,#458cfd,#4682f8,#4778f0,#467df4,#4685fa,#458afc,#4685fa,#4666dd,#467df4,#4666dd,#4664da,#4661d6,#4776ee,#455ccf,#466be3,#477bf2,#4776ee,#467df4,#4661d6,#4661d6,#434eba)"></i><i style="left:164px;width:4.3px;background:linear-gradient(#4ef97d,#19e3b9,#1ae4b6,#1ae4b6,#18dec0,#43f787,#43f787,#e1dd37,#fea431,#d23105,#8b0902,#980e01,#a11201,#b91e02,#b71d02,#d83706,#ec530f,#eb500e,#f15d13,#f76f1a,#fe9029,#fd8d27,#fc8725,#f6c33a,#fbb637,#f8be39,#f7c13a,#f1cb3a,#eecf3a,#e3db38,#d9e436,#e3db38,#d7e535,#cdec34,#a9fb39,#9ffd3f,#99fe42,#a9fb39,#8bff4b,#8bff4b,#55fa76,#71fe5f,#61fc6c,#4af880,#35f394,#20eaac,#43f787,#2ff19b,#18d9c8,#1ae4b6,#19e2bb,#18dec0,#1ad4d0,#1ecbda,#18d7ca,#1ad4d0,#28bceb,#25c0e7,#2fb2f4,#27bee9,#28bceb,#35abf8,#37a8fa,#38a5fb,#37a8fa,#38a5fb,#4196ff,#4391fe,#38a5fb,#38a5fb,#4773eb,#4680f6,#4687fb,#477bf2,#4776ee,#477bf2,#4680f6,#4294ff,#4776ee,#458cfd,#4669e0,#4664da,#467df4,#4680f6,#4146ac,#4776ee,#4680f6,#466be3,#4680f6,#4669e0,#455ed3,#455ed3)"></i><i style="left:168px;width:4.3px;background:linear-gradient(#46f884,#71fe5f,#6dfe62,#6dfe62,#55fa76,#43f787,#46f884,#efcd3a,#fe9b2d,#d63506,#980e01,#a71401,#950d01,#a11201,#b71d02,#d63506,#e84b0c,#ec530f,#f56918,#f66c19,#fe932a,#fe992c,#fe9029,#f4c73a,#f6c33a,#fcb336,#f4c73a,#fbb838,#ecd13a,#e7d739,#dde037,#dbe236,#cbed34,#c3f134,#a4fc3c,#96fe44,#92ff47,#88ff4e,#84ff51,#79fe59,#61fc6c,#69fd66,#59fb73,#38f491,#32f298,#22ebaa,#2aefa1,#22ebaa,#18dbc5,#18dec0,#1de7b2,#19e3b9,#19d5cd,#1ccdd8,#1bd0d5,#19d5cd,#1ecbda,#1fc9dd,#2fb2f4,#31aff5,#23c3e4,#3ba0fd,#35abf8,#35abf8,#3d9efe,#3d9efe,#3e9bfe,#4687fb,#35abf8,#3ba0fd,#477bf2,#4771e9,#4391fe,#467df4,#467df4,#4680f6,#4685fa,#458cfd,#4778f0,#477bf2,#455ed3,#4559cb,#4778f0,#4773eb,#4559cb,#4776ee,#477bf2,#4773eb,#467df4,#4559cb,#4454c3,#4661d6)"></i><i style="left:172px;width:4.3px;background:linear-gradient(#59fb73,#6dfe62,#4af880,#6dfe62,#3ff68a,#6dfe62,#46f884,#e7d739,#fe9029,#dd3d08,#980e01,#8b0902,#b21a01,#b41b01,#c32503,#cc2b04,#e7490c,#f9751d,#fb7e21,#f66c19,#fd8d27,#fd8a26,#fea130,#fbb637,#faba39,#fdae35,#e7d739,#f9bc39,#f9bc39,#e5d938,#dde037,#e9d539,#d2e935,#cdec34,#affa37,#a7fc3a,#affa37,#92ff47,#6dfe62,#8fff49,#61fc6c,#6dfe62,#32f298,#38f491,#32f298,#20eaac,#3cf58e,#1ae4b6,#1fe9af,#1ce6b4,#1de7b2,#19e3b9,#18d9c8,#18d7ca,#28bceb,#1fc9dd,#18dbc5,#25c0e7,#20c7df,#25c0e7,#25c0e7,#3d9efe,#37a8fa,#4099ff,#38a5fb,#4196ff,#38a5fb,#4685fa,#37a8fa,#38a5fb,#458afc,#4771e9,#4680f6,#477bf2,#4771e9,#477bf2,#4294ff,#467df4,#4776ee,#458afc,#4454c3,#4666dd,#458afc,#455ed3,#455ed3,#4776ee,#4687fb,#4771e9,#4682f8,#4559cb,#455ed3,#4661d6)"></i><i style="left:176px;width:4.3px;background:linear-gradient(#65fd69,#4ef97d,#55fa76,#69fd66,#6dfe62,#65fd69,#59fb73,#e9d539,#fa7b1f,#d83706,#8e0a01,#9b0f01,#a91601,#a71401,#be2102,#ca2a04,#ea4e0d,#f15d13,#f26014,#fb8122,#fe932a,#fe992c,#fe9029,#fcb336,#faba39,#f8be39,#f2c93a,#fdae35,#f1cb3a,#e5d938,#e7d739,#e5d938,#d2e935,#c6f034,#b9f635,#a4fc3c,#b7f735,#80ff53,#6dfe62,#5dfc6f,#61fc6c,#61fc6c,#43f787,#46f884,#2cf09e,#18dec0,#3ff68a,#1ce6b4,#2cf09e,#1ae4b6,#18ddc2,#18e0bd,#18dbc5,#20c7df,#1ccdd8,#1ad4d0,#18d7ca,#23c3e4,#28bceb,#35abf8,#2cb7f0,#4196ff,#2fb2f4,#4196ff,#37a8fa,#3ba0fd,#2eb4f2,#4680f6,#3d9efe,#4196ff,#448ffe,#4773eb,#4391fe,#448ffe,#458cfd,#458cfd,#458cfd,#4294ff,#477bf2,#4680f6,#467df4,#476ee6,#4294ff,#455ccf,#4456c7,#4682f8,#4682f8,#4682f8,#467df4,#455ed3,#4771e9,#4661d6)"></i><i style="left:180px;width:4.3px;background:linear-gradient(#6dfe62,#1fe9af,#18dec0,#19e3b9,#1ae4b6,#65fd69,#84ff51,#f2c93a,#f56918,#e14109,#980e01,#8e0a01,#9e1001,#a91601,#c12302,#ca2a04,#ed5510,#f05b12,#fd8a26,#fd8a26,#fe9029,#fea732,#fe9e2f,#faba39,#fcb136,#f8be39,#f8be39,#fbb637,#eecf3a,#e5d938,#e5d938,#d9e436,#dbe236,#c8ef34,#b4f836,#a7fc3a,#96fe44,#8bff4b,#5dfc6f,#80ff53,#61fc6c,#71fe5f,#65fd69,#4ef97d,#1fe9af,#19e3b9,#2cf09e,#18e0bd,#25eca7,#19e2bb,#22ebaa,#18e0bd,#1bd0d5,#27bee9,#18dbc5,#1ad4d0,#18dbc5,#2cb7f0,#1ad2d2,#2fb2f4,#25c0e7,#3ba0fd,#23c3e4,#3ba0fd,#38a5fb,#4196ff,#2cb7f0,#467df4,#3e9bfe,#4391fe,#3e9bfe,#4682f8,#4685fa,#467df4,#448ffe,#4685fa,#4685fa,#4685fa,#4687fb,#4778f0,#4669e0,#477bf2,#4391fe,#4666dd,#466be3,#458cfd,#4776ee,#477bf2,#4687fb,#4669e0,#4776ee,#466be3)"></i><i style="left:184px;width:4.3px;background:linear-gradient(#69fd66,#18d9c8,#18d7ca,#19e2bb,#18d9c8,#75fe5c,#75fe5c,#f7c13a,#f66c19,#d43305,#8b0902,#ac1701,#9b0f01,#af1801,#c52603,#dc3b07,#ef5811,#f66c19,#fb7e21,#fd8a26,#f9751d,#fe9029,#fe9b2d,#fcb136,#fea431,#f1cb3a,#f6c33a,#fbb637,#f5c53a,#e1dd37,#ebd339,#cdec34,#d9e436,#c6f034,#b9f635,#a7fc3a,#a1fd3d,#acfb38,#5dfc6f,#7dff56,#69fd66,#88ff4e,#4ef97d,#4ef97d,#1de7b2,#1ce6b4,#25eca7,#20eaac,#1fe9af,#19e2bb,#1ce6b4,#1ae4b6,#1ecbda,#25c0e7,#18dec0,#19d5cd,#18ddc2,#28bceb,#19d5cd,#3d9efe,#23c3e4,#3d9efe,#25c0e7,#2cb7f0,#3aa3fc,#4294ff,#31aff5,#3e9bfe,#3d9efe,#4196ff,#458afc,#4687fb,#4682f8,#4685fa,#4099ff,#4391fe,#458cfd,#4294ff,#4680f6,#477bf2,#4771e9,#4669e0,#4685fa,#4666dd,#4666dd,#4687fb,#4559cb,#4778f0,#4776ee,#455ccf,#4771e9,#4669e0)"></i><i style="left:188px;width:4.3px;background:linear-gradient(#69fd66,#61fc6c,#65fd69,#55fa76,#71fe5f,#69fd66,#71fe5f,#fcb336,#f9751d,#ca2a04,#9b0f01,#a71401,#7e0502,#b71d02,#d02f05,#d63506,#ea4e0d,#f76f1a,#fc8423,#fb8122,#fb7e21,#fc8423,#fe992c,#fdae35,#fdae35,#fbb637,#f8be39,#f2c93a,#ebd339,#ebd339,#dfdf37,#c8ef34,#dbe236,#d7e535,#bcf534,#b1f936,#9cfe40,#b7f735,#59fb73,#75fe5c,#79fe59,#80ff53,#52fa7a,#46f884,#35f394,#1ae4b6,#2cf09e,#20eaac,#2aefa1,#18dec0,#19e3b9,#18d7ca,#25c0e7,#1ecbda,#19e2bb,#19d5cd,#22c5e2,#22c5e2,#23c3e4,#37a8fa,#1bd0d5,#33adf7,#23c3e4,#1ecbda,#3aa3fc,#4391fe,#2eb4f2,#4196ff,#3d9efe,#4196ff,#448ffe,#458afc,#476ee6,#448ffe,#3d9efe,#467df4,#4680f6,#4196ff,#467df4,#4778f0,#4661d6,#476ee6,#4669e0,#4559cb,#4666dd,#4776ee,#466be3,#467df4,#476ee6,#455ed3,#4685fa,#476ee6)"></i><i style="left:192px;width:4.3px;background:linear-gradient(#6dfe62,#75fe5c,#61fc6c,#6dfe62,#79fe59,#79fe59,#69fd66,#fcb336,#ec530f,#c12302,#7a0403,#9e1001,#810602,#b91e02,#cc2b04,#e2430a,#f05b12,#f15d13,#fb8122,#fd8a26,#fb7e21,#fb7e21,#fcb136,#fe9e2f,#fbb637,#eecf3a,#f8be39,#ecd13a,#e5d938,#e9d539,#dde037,#dbe236,#d7e535,#cbed34,#b9f635,#bcf534,#a4fc3c,#acfb38,#71fe5f,#7dff56,#79fe59,#88ff4e,#75fe5c,#4af880,#4af880,#1fe9af,#1fe9af,#27eea4,#22ebaa,#1ae4b6,#19e3b9,#18e0bd,#1ecbda,#23c3e4,#19e3b9,#1ad2d2,#22c5e2,#20c7df,#1ad2d2,#38a5fb,#1bd0d5,#25c0e7,#2fb2f4,#27bee9,#38a5fb,#3aa3fc,#35abf8,#4196ff,#4391fe,#4196ff,#4391fe,#448ffe,#4680f6,#4778f0,#3ba0fd,#4391fe,#467df4,#3ba0fd,#467df4,#4776ee,#476ee6,#466be3,#4776ee,#4454c3,#476ee6,#4771e9,#4664da,#458afc,#4776ee,#466be3,#4776ee,#4776ee)"></i><i style="left:196px;width:4.3px;background:linear-gradient(#79fe59,#65fd69,#65fd69,#46f884,#4ef97d,#59fb73,#65fd69,#fdac34,#f26014,#a71401,#7a0403,#9e1001,#7a0403,#be2102,#d23105,#e4450a,#ec530f,#eb500e,#f15d13,#fe992c,#fb8122,#f8721c,#fbb637,#fe9e2f,#fdac34,#fbb838,#f6c33a,#eecf3a,#e5d938,#eecf3a,#e3db38,#d9e436,#d7e535,#bcf534,#a9fb39,#b1f936,#a9fb39,#b4f836,#71fe5f,#79fe59,#6dfe62,#92ff47,#65fd69,#55fa76,#32f298,#20eaac,#22ebaa,#1ce6b4,#20eaac,#19e3b9,#1ce6b4,#19e3b9,#1ccdd8,#20c7df,#1fe9af,#1ccdd8,#1fc9dd,#1fc9dd,#23c3e4,#33adf7,#20c7df,#27bee9,#2fb2f4,#2cb7f0,#35abf8,#3e9bfe,#2eb4f2,#3e9bfe,#3aa3fc,#448ffe,#4391fe,#4685fa,#4680f6,#4685fa,#38a5fb,#4391fe,#4682f8,#4680f6,#4682f8,#4771e9,#4666dd,#4669e0,#477bf2,#455ccf,#4776ee,#476ee6,#4664da,#4664da,#4778f0,#4778f0,#4773eb,#467df4)"></i><i style="left:200px;width:4.3px;background:linear-gradient(#6dfe62,#65fd69,#4af880,#52fa7a,#6dfe62,#71fe5f,#5dfc6f,#fcb336,#e5470b,#b41b01,#810602,#950d01,#980e01,#c32503,#c12302,#e4450a,#eb500e,#ec530f,#eb500e,#fd8a26,#fd8d27,#fc8423,#fea431,#fea431,#fbb838,#fbb637,#f1cb3a,#ebd339,#efcd3a,#e9d539,#e7d739,#dbe236,#c6f034,#bef434,#c3f134,#bcf534,#a4fc3c,#a1fd3d,#96fe44,#84ff51,#69fd66,#8fff49,#79fe59,#46f884,#25eca7,#2ff19b,#35f394,#1ce6b4,#1ae4b6,#19e3b9,#1fe9af,#19d5cd,#1ccdd8,#1bd0d5,#18e0bd,#23c3e4,#19d5cd,#1ecbda,#22c5e2,#2eb4f2,#22c5e2,#25c0e7,#31aff5,#35abf8,#38a5fb,#2eb4f2,#27bee9,#4099ff,#4685fa,#3ba0fd,#4196ff,#4099ff,#4682f8,#4685fa,#3aa3fc,#448ffe,#4680f6,#4685fa,#467df4,#4391fe,#4687fb,#4669e0,#476ee6,#455ccf,#4685fa,#466be3,#476ee6,#4669e0,#4773eb,#4666dd,#477bf2,#4685fa)"></i><i style="left:204px;width:4.3px;background:linear-gradient(#52fa7a,#69fd66,#69fd66,#61fc6c,#6dfe62,#3ff68a,#55fa76,#fe992c,#eb500e,#a11201,#920b01,#850702,#8b0902,#b91e02,#a11201,#e84b0c,#e84b0c,#ec530f,#f05b12,#fe992c,#fb7e21,#fc8725,#fc8725,#fea933,#fdae35,#fea732,#f2c93a,#f5c53a,#efcd3a,#eecf3a,#e5d938,#d7e535,#d9e436,#a4fc3c,#b7f735,#b9f635,#9ffd3f,#a7fc3a,#92ff47,#71fe5f,#52fa7a,#a1fd3d,#75fe5c,#59fb73,#25eca7,#2ff19b,#3ff68a,#1ce6b4,#19e3b9,#1de7b2,#1ae4b6,#1ccdd8,#1bd0d5,#18dbc5,#1ad4d0,#1ccdd8,#18dbc5,#1ccdd8,#20c7df,#27bee9,#1ccdd8,#1ecbda,#28bceb,#33adf7,#37a8fa,#2eb4f2,#2eb4f2,#4196ff,#4099ff,#4294ff,#2cb7f0,#4196ff,#4391fe,#4685fa,#4099ff,#458afc,#467df4,#4778f0,#4776ee,#4682f8,#4680f6,#4773eb,#4773eb,#466be3,#4773eb,#4773eb,#4669e0,#4773eb,#455ed3,#467df4,#4685fa,#4771e9)"></i><i style="left:208px;width:4.3px;background:linear-gradient(#5dfc6f,#52fa7a,#4ef97d,#52fa7a,#4ef97d,#4af880,#65fd69,#fe992c,#dd3d08,#a91601,#a11201,#7a0403,#7e0502,#b21a01,#980e01,#e14109,#e5470b,#ea4e0d,#f56918,#fd8d27,#f56918,#fea130,#fd8d27,#fdac34,#f7c13a,#fe932a,#f4c73a,#fbb637,#efcd3a,#f9bc39,#dde037,#dbe236,#d7e535,#acfb38,#c3f134,#a9fb39,#a1fd3d,#9ffd3f,#7dff56,#96fe44,#3cf58e,#92ff47,#59fb73,#4af880,#20eaac,#22ebaa,#4ef97d,#1fe9af,#18dbc5,#1ae4b6,#18dec0,#1ad4d0,#18dbc5,#1ce6b4,#23c3e4,#25c0e7,#18e0bd,#23c3e4,#28bceb,#28bceb,#23c3e4,#18dec0,#2ab9ee,#35abf8,#33adf7,#33adf7,#2fb2f4,#3e9bfe,#35abf8,#4294ff,#2cb7f0,#38a5fb,#4099ff,#4196ff,#38a5fb,#458afc,#477bf2,#4687fb,#4669e0,#4773eb,#448ffe,#4771e9,#477bf2,#4776ee,#4669e0,#4776ee,#4773eb,#476ee6,#4773eb,#4664da,#466be3,#477bf2)"></i><i style="left:212px;width:4.3px;background:linear-gradient(#5dfc6f,#4ef97d,#4af880,#59fb73,#6dfe62,#4af880,#59fb73,#fe9b2d,#e4450a,#9e1001,#950d01,#7a0403,#7a0403,#a91601,#8b0902,#e84b0c,#e2430a,#f15d13,#f26014,#fe932a,#fa7b1f,#fe9029,#fd8a26,#fea130,#fdac34,#fea130,#f8be39,#f6c33a,#f2c93a,#f8be39,#d9e436,#c6f034,#e7d739,#acfb38,#cbed34,#b4f836,#acfb38,#99fe42,#80ff53,#79fe59,#4ef97d,#99fe42,#61fc6c,#4ef97d,#25eca7,#18ddc2,#52fa7a,#19e2bb,#19e2bb,#1ad4d0,#1ae4b6,#20c7df,#18d7ca,#18dbc5,#1ad2d2,#28bceb,#18d9c8,#2cb7f0,#22c5e2,#25c0e7,#31aff5,#18d9c8,#28bceb,#2fb2f4,#3ba0fd,#22c5e2,#25c0e7,#3d9efe,#33adf7,#458afc,#2eb4f2,#4099ff,#31aff5,#4391fe,#3ba0fd,#3e9bfe,#4680f6,#458afc,#4778f0,#467df4,#458cfd,#458afc,#477bf2,#4773eb,#4661d6,#4778f0,#4451bf,#4773eb,#4664da,#4456c7,#476ee6,#466be3)"></i><i style="left:216px;width:4.3px;background:linear-gradient(#65fd69,#69fd66,#43f787,#3ff68a,#61fc6c,#52fa7a,#69fd66,#fe9029,#d43305,#b21a01,#980e01,#7a0403,#7a0403,#950d01,#8e0a01,#df3f08,#e7490c,#ef5811,#f05b12,#fe9b2d,#fb8122,#fea130,#fe9029,#fea933,#faba39,#fcb336,#f2c93a,#f7c13a,#f2c93a,#f7c13a,#d9e436,#c3f134,#dfdf37,#affa37,#dde037,#a7fc3a,#a9fb39,#9ffd3f,#84ff51,#80ff53,#43f787,#84ff51,#55fa76,#5dfc6f,#38f491,#20eaac,#55fa76,#19e3b9,#19e2bb,#18d9c8,#25eca7,#1bd0d5,#18dec0,#19e3b9,#19d5cd,#23c3e4,#27eea4,#2cb7f0,#27bee9,#27bee9,#2eb4f2,#18ddc2,#2cb7f0,#2eb4f2,#2fb2f4,#33adf7,#35abf8,#4294ff,#3e9bfe,#3e9bfe,#3d9efe,#3e9bfe,#37a8fa,#4196ff,#3ba0fd,#4685fa,#4099ff,#467df4,#4776ee,#4773eb,#4773eb,#448ffe,#467df4,#4682f8,#476ee6,#4771e9,#4666dd,#4778f0,#4669e0,#4776ee,#467df4,#4666dd)"></i><i style="left:220px;width:4.3px;background:linear-gradient(#59fb73,#25eca7,#19e2bb,#1fe9af,#27eea4,#84ff51,#71fe5f,#fe992c,#d23105,#b91e02,#a11201,#7a0403,#7e0502,#b41b01,#a41301,#e4450a,#e14109,#ec530f,#f36315,#fe9e2f,#fe962b,#fe9e2f,#fe9e2f,#fe992c,#f7c13a,#fdac34,#f8be39,#f2c93a,#e5d938,#faba39,#dbe236,#d4e735,#e3db38,#c3f134,#d0ea34,#a9fb39,#b1f936,#92ff47,#71fe5f,#7dff56,#65fd69,#75fe5c,#5dfc6f,#65fd69,#2ff19b,#1fe9af,#4ef97d,#1ae4b6,#1fe9af,#18e0bd,#2cf09e,#1ad2d2,#18dec0,#1ad4d0,#1ccdd8,#1bd0d5,#19e2bb,#23c3e4,#2fb2f4,#2cb7f0,#31aff5,#1bd0d5,#25c0e7,#1ecbda,#2ab9ee,#2fb2f4,#2cb7f0,#4099ff,#35abf8,#3ba0fd,#3d9efe,#3aa3fc,#458cfd,#3aa3fc,#4196ff,#458afc,#4391fe,#448ffe,#4773eb,#4773eb,#4771e9,#4680f6,#4682f8,#4682f8,#4669e0,#4682f8,#455ccf,#467df4,#4669e0,#4682f8,#477bf2,#467df4)"></i><i style="left:224px;width:4.3px;background:linear-gradient(#71fe5f,#1de7b2,#18dec0,#18ddc2,#1ce6b4,#59fb73,#61fc6c,#fe992c,#d83706,#a41301,#8b0902,#810602,#9b0f01,#a91601,#a41301,#dd3d08,#e7490c,#ef5811,#f8721c,#fea431,#fd8d27,#fd8d27,#fe962b,#fea130,#f6c33a,#f9bc39,#efcd3a,#f5c53a,#e7d739,#f5c53a,#d9e436,#cdec34,#e9d539,#b9f635,#d9e436,#a7fc3a,#a4fc3c,#88ff4e,#84ff51,#69fd66,#61fc6c,#69fd66,#46f884,#43f787,#38f491,#22ebaa,#55fa76,#2aefa1,#2cf09e,#1ad4d0,#35f394,#1ad4d0,#1bd0d5,#20c7df,#18d9c8,#18dbc5,#18dbc5,#22c5e2,#2fb2f4,#2eb4f2,#2ab9ee,#19d5cd,#1fc9dd,#27bee9,#2fb2f4,#3ba0fd,#3d9efe,#4099ff,#3aa3fc,#2cb7f0,#4687fb,#37a8fa,#4196ff,#4294ff,#458afc,#458cfd,#458afc,#4685fa,#4778f0,#4771e9,#4773eb,#4773eb,#477bf2,#4666dd,#4778f0,#4773eb,#4666dd,#4778f0,#466be3,#4391fe,#4687fb,#4773eb)"></i><i style="left:228px;width:4.3px;background:linear-gradient(#65fd69,#52fa7a,#4af880,#65fd69,#4af880,#5dfc6f,#6dfe62,#fd8a26,#dd3d08,#bc2002,#950d01,#8e0a01,#a71401,#950d01,#b71d02,#df3f08,#e2430a,#ed5510,#f56918,#fe9b2d,#fb8122,#fe9029,#fea130,#fe9b2d,#fcb336,#fdae35,#f9bc39,#fbb637,#e1dd37,#f1cb3a,#d4e735,#dfdf37,#e5d938,#bef434,#d4e735,#a9fb39,#b7f735,#8fff49,#9cfe40,#79fe59,#75fe5c,#84ff51,#61fc6c,#55fa76,#46f884,#32f298,#69fd66,#27eea4,#38f491,#1ad2d2,#2aefa1,#18dec0,#19d5cd,#1fc9dd,#18d7ca,#19d5cd,#18ddc2,#22c5e2,#2fb2f4,#2fb2f4,#37a8fa,#1ad4d0,#2fb2f4,#23c3e4,#2fb2f4,#4196ff,#35abf8,#38a5fb,#38a5fb,#28bceb,#467df4,#3d9efe,#4680f6,#3aa3fc,#4682f8,#467df4,#4687fb,#3e9bfe,#458afc,#4776ee,#4680f6,#4773eb,#466be3,#4776ee,#4771e9,#477bf2,#4771e9,#466be3,#455ed3,#4776ee,#4687fb,#4771e9)"></i><i style="left:232px;width:4.3px;background:linear-gradient(#4af880,#4af880,#52fa7a,#55fa76,#52fa7a,#61fc6c,#65fd69,#fea431,#df3f08,#b71d02,#a41301,#880802,#b71d02,#b21a01,#c12302,#d83706,#dd3d08,#f15d13,#f36315,#fd8a26,#f9781e,#fe932a,#fe9e2f,#fea933,#fea933,#f7c13a,#fbb838,#f9bc39,#d0ea34,#f1cb3a,#cdec34,#ecd13a,#d4e735,#c6f034,#dfdf37,#acfb38,#b7f735,#8bff4b,#9cfe40,#61fc6c,#79fe59,#80ff53,#55fa76,#52fa7a,#55fa76,#32f298,#52fa7a,#1de7b2,#25eca7,#18d9c8,#25eca7,#18e0bd,#22c5e2,#1bd0d5,#1ccdd8,#18d9c8,#1bd0d5,#23c3e4,#2eb4f2,#2cb7f0,#33adf7,#1fc9dd,#33adf7,#25c0e7,#37a8fa,#2cb7f0,#3d9efe,#4294ff,#33adf7,#33adf7,#4685fa,#4099ff,#4687fb,#4099ff,#458cfd,#4294ff,#4682f8,#3ba0fd,#458afc,#4778f0,#4680f6,#4773eb,#4778f0,#4771e9,#434eba,#4773eb,#476ee6,#466be3,#455ed3,#458cfd,#467df4,#4771e9)"></i><i style="left:236px;width:4.3px;background:linear-gradient(#4ef97d,#1ce6b4,#1ad2d2,#18dec0,#18d9c8,#52fa7a,#80ff53,#fea933,#d83706,#bc2002,#920b01,#8e0a01,#b21a01,#af1801,#b71d02,#e14109,#e7490c,#fa7b1f,#f9751d,#fc8423,#f56918,#fe962b,#fe9b2d,#fea431,#fdae35,#f7c13a,#f2c93a,#faba39,#d9e436,#e9d539,#c6f034,#f1cb3a,#d9e436,#c8ef34,#d7e535,#a9fb39,#acfb38,#8bff4b,#acfb38,#5dfc6f,#8bff4b,#5dfc6f,#65fd69,#5dfc6f,#38f491,#2ff19b,#55fa76,#25eca7,#2cf09e,#18dbc5,#1ae4b6,#18d7ca,#1bd0d5,#1fc9dd,#25c0e7,#1ad2d2,#1ecbda,#27bee9,#27bee9,#2fb2f4,#35abf8,#2eb4f2,#2cb7f0,#2fb2f4,#38a5fb,#2eb4f2,#38a5fb,#3ba0fd,#35abf8,#2fb2f4,#448ffe,#4391fe,#4099ff,#4196ff,#3ba0fd,#4687fb,#4294ff,#4294ff,#4391fe,#4778f0,#4680f6,#4687fb,#458afc,#455ed3,#4456c7,#4773eb,#4778f0,#4669e0,#4664da,#4687fb,#4685fa,#4773eb)"></i><i style="left:240px;width:4.3px;background:linear-gradient(#7dff56,#6dfe62,#6dfe62,#55fa76,#61fc6c,#61fc6c,#71fe5f,#fea130,#d63506,#be2102,#810602,#9e1001,#ac1701,#ac1701,#c12302,#e5470b,#ed5510,#f8721c,#f15d13,#fc8423,#f56918,#fe992c,#fe9029,#fdae35,#fea130,#f6c33a,#f4c73a,#f8be39,#d4e735,#f2c93a,#d7e535,#e1dd37,#cdec34,#cbed34,#d0ea34,#b4f836,#acfb38,#7dff56,#acfb38,#6dfe62,#75fe5c,#69fd66,#69fd66,#61fc6c,#25eca7,#3cf58e,#52fa7a,#25eca7,#2ff19b,#18dbc5,#18dec0,#18d9c8,#1ad2d2,#18ddc2,#20c7df,#18d9c8,#25c0e7,#27bee9,#2ab9ee,#2cb7f0,#27bee9,#2cb7f0,#23c3e4,#37a8fa,#3e9bfe,#33adf7,#38a5fb,#4391fe,#31aff5,#2fb2f4,#458afc,#4682f8,#4196ff,#4099ff,#4099ff,#4099ff,#4196ff,#4391fe,#4682f8,#477bf2,#3aa3fc,#4685fa,#458cfd,#4669e0,#4454c3,#455ccf,#4778f0,#4664da,#4778f0,#4680f6,#458cfd,#466be3)"></i><i style="left:244px;width:4.3px;background:linear-gradient(#43f787,#65fd69,#59fb73,#52fa7a,#79fe59,#75fe5c,#6dfe62,#fe9b2d,#d63506,#cc2b04,#a11201,#a41301,#b41b01,#a71401,#ca2a04,#e14109,#e7490c,#f76f1a,#f26014,#fc8423,#f9751d,#fbb838,#fe9e2f,#fe932a,#fdae35,#faba39,#efcd3a,#f5c53a,#e3db38,#e7d739,#dbe236,#e3db38,#bef434,#c3f134,#d2e935,#affa37,#acfb38,#96fe44,#b4f836,#59fb73,#84ff51,#65fd69,#65fd69,#6dfe62,#2aefa1,#4af880,#4af880,#25eca7,#35f394,#1de7b2,#18d9c8,#1ae4b6,#1ae4b6,#1ad2d2,#1ecbda,#1ccdd8,#25c0e7,#20c7df,#27bee9,#28bceb,#2fb2f4,#2ab9ee,#1ecbda,#38a5fb,#4196ff,#31aff5,#33adf7,#4391fe,#33adf7,#35abf8,#38a5fb,#4196ff,#3d9efe,#4391fe,#3e9bfe,#458afc,#4196ff,#4685fa,#467df4,#467df4,#4099ff,#4685fa,#4294ff,#455ccf,#455ed3,#476ee6,#467df4,#466be3,#4773eb,#476ee6,#4776ee,#4776ee)"></i><i style="left:248px;width:4.3px;background:linear-gradient(#61fc6c,#59fb73,#59fb73,#6dfe62,#69fd66,#65fd69,#75fe5c,#fe9e2f,#ce2d04,#c32503,#950d01,#8e0a01,#ac1701,#b71d02,#d23105,#d02f05,#e84b0c,#f8721c,#f36315,#fd8d27,#fc8725,#fd8a26,#fea431,#fd8d27,#fe992c,#faba39,#f7c13a,#f7c13a,#dfdf37,#e1dd37,#dbe236,#dbe236,#bcf534,#b1f936,#d4e735,#affa37,#b1f936,#b4f836,#b9f635,#59fb73,#6dfe62,#6dfe62,#5dfc6f,#52fa7a,#2aefa1,#2cf09e,#2cf09e,#1ce6b4,#32f298,#1de7b2,#19d5cd,#19e3b9,#18d9c8,#1ad4d0,#27bee9,#20c7df,#27bee9,#1ccdd8,#20c7df,#2ab9ee,#27bee9,#2eb4f2,#23c3e4,#2fb2f4,#3e9bfe,#37a8fa,#37a8fa,#4391fe,#35abf8,#3d9efe,#3ba0fd,#4196ff,#4685fa,#4391fe,#4099ff,#4685fa,#467df4,#467df4,#4778f0,#467df4,#3d9efe,#4687fb,#4687fb,#4771e9,#4778f0,#476ee6,#477bf2,#4454c3,#4771e9,#466be3,#4771e9,#476ee6)"></i><i style="left:252px;width:4.3px;background:linear-gradient(#6dfe62,#6dfe62,#69fd66,#59fb73,#55fa76,#65fd69,#65fd69,#fe992c,#c12302,#bc2002,#8b0902,#a11201,#9e1001,#af1801,#d23105,#ce2d04,#e4450a,#f56918,#f66c19,#f9781e,#fe9e2f,#fea933,#fdac34,#fe9b2d,#fe9b2d,#fea732,#f5c53a,#f5c53a,#e3db38,#e9d539,#e1dd37,#e1dd37,#c3f134,#acfb38,#d4e735,#a7fc3a,#acfb38,#9ffd3f,#affa37,#71fe5f,#71fe5f,#4ef97d,#55fa76,#46f884,#2aefa1,#3ff68a,#43f787,#1ce6b4,#3ff68a,#20eaac,#18ddc2,#19e2bb,#1ae4b6,#1bd0d5,#20c7df,#18dbc5,#25c0e7,#1ad4d0,#1bd0d5,#33adf7,#25c0e7,#2eb4f2,#2cb7f0,#2eb4f2,#2eb4f2,#38a5fb,#2cb7f0,#448ffe,#28bceb,#35abf8,#4099ff,#3aa3fc,#4687fb,#458afc,#4294ff,#4682f8,#4687fb,#4294ff,#477bf2,#467df4,#3d9efe,#4682f8,#4391fe,#4664da,#4773eb,#4773eb,#477bf2,#476ee6,#4680f6,#4664da,#4773eb,#4661d6)"></i><i style="left:256px;width:4.3px;background:linear-gradient(#55fa76,#18dec0,#19e3b9,#1fc9dd,#1ce6b4,#55fa76,#84ff51,#fe992c,#c32503,#b91e02,#880802,#9b0f01,#b91e02,#a71401,#d63506,#c32503,#da3907,#f05b12,#f8721c,#f8721c,#fbb838,#fe9b2d,#fea130,#fea431,#fea130,#fea130,#f6c33a,#f7c13a,#dbe236,#dde037,#d0ea34,#d9e436,#d4e735,#c6f034,#d4e735,#a4fc3c,#b1f936,#9ffd3f,#affa37,#80ff53,#84ff51,#71fe5f,#61fc6c,#4ef97d,#27eea4,#3ff68a,#3ff68a,#1ce6b4,#3cf58e,#27eea4,#18ddc2,#19e2bb,#27eea4,#18d7ca,#20c7df,#19d5cd,#1ecbda,#1ccdd8,#1ad2d2,#2fb2f4,#2cb7f0,#2cb7f0,#28bceb,#2eb4f2,#22c5e2,#4196ff,#33adf7,#3ba0fd,#2fb2f4,#4196ff,#4294ff,#448ffe,#4294ff,#448ffe,#4391fe,#4099ff,#4680f6,#458cfd,#477bf2,#4687fb,#3e9bfe,#4682f8,#4687fb,#466be3,#467df4,#4669e0,#4771e9,#4773eb,#4682f8,#4773eb,#467df4,#4773eb)"></i><i style="left:260px;width:4.3px;background:linear-gradient(#52fa7a,#18e0bd,#18d9c8,#18e0bd,#19e2bb,#43f787,#84ff51,#fea130,#c82803,#ac1701,#850702,#950d01,#a91601,#c12302,#c52603,#c52603,#d43305,#f36315,#fb8122,#fc8423,#fcb136,#fb8122,#fe9e2f,#fe9b2d,#fea933,#fd8d27,#fcb136,#f8be39,#e1dd37,#d0ea34,#d2e935,#e5d938,#e1dd37,#b4f836,#b4f836,#acfb38,#affa37,#88ff4e,#b1f936,#8bff4b,#88ff4e,#75fe5c,#55fa76,#4af880,#32f298,#25eca7,#3ff68a,#1de7b2,#1fe9af,#27eea4,#18d7ca,#18dec0,#22ebaa,#1ad4d0,#1ccdd8,#19e3b9,#25c0e7,#19d5cd,#18d9c8,#25c0e7,#27bee9,#2cb7f0,#22c5e2,#27bee9,#23c3e4,#2eb4f2,#37a8fa,#38a5fb,#28bceb,#2fb2f4,#4391fe,#4294ff,#4196ff,#4099ff,#477bf2,#3e9bfe,#4680f6,#458afc,#4778f0,#4682f8,#458cfd,#4778f0,#4685fa,#467df4,#4680f6,#4771e9,#455ed3,#4680f6,#477bf2,#4771e9,#4778f0,#3e9bfe)"></i><i style="left:264px;width:4.3px;background:linear-gradient(#65fd69,#38f491,#25eca7,#20eaac,#18dec0,#55fa76,#75fe5c,#fe9b2d,#ce2d04,#a91601,#850702,#8b0902,#a11201,#c32503,#c32503,#be2102,#df3f08,#ef5811,#fd8a26,#fb7e21,#fdae35,#fe932a,#fea130,#fea732,#fdac34,#fe992c,#faba39,#f6c33a,#e1dd37,#dbe236,#d7e535,#dde037,#e5d938,#b9f635,#b9f635,#bcf534,#a9fb39,#7dff56,#b1f936,#92ff47,#92ff47,#7dff56,#59fb73,#65fd69,#2aefa1,#38f491,#35f394,#27eea4,#1de7b2,#2aefa1,#18dec0,#18ddc2,#1fe9af,#18d9c8,#18dbc5,#1ad4d0,#1ad2d2,#18d7ca,#20c7df,#2cb7f0,#20c7df,#27bee9,#2eb4f2,#27bee9,#1ecbda,#3aa3fc,#4391fe,#4099ff,#31aff5,#3e9bfe,#467df4,#4391fe,#4196ff,#3ba0fd,#4196ff,#37a8fa,#4685fa,#4196ff,#4682f8,#4294ff,#458afc,#476ee6,#4669e0,#458afc,#476ee6,#4776ee,#4456c7,#476ee6,#4771e9,#4680f6,#4776ee,#4685fa)"></i><i style="left:268px;width:4.3px;background:linear-gradient(#6dfe62,#1ce6b4,#1fe9af,#27eea4,#1ce6b4,#4ef97d,#7dff56,#fe992c,#ca2a04,#b71d02,#8e0a01,#a11201,#a71401,#c32503,#cc2b04,#bc2002,#e14109,#f9751d,#fd8d27,#f8721c,#fe9e2f,#fea933,#fea933,#fe992c,#fea933,#fdac34,#f6c33a,#f5c53a,#e7d739,#e1dd37,#dde037,#dde037,#e9d539,#c8ef34,#c8ef34,#b7f735,#b4f836,#88ff4e,#b9f635,#92ff47,#79fe59,#79fe59,#65fd69,#69fd66,#4af880,#35f394,#55fa76,#1de7b2,#18ddc2,#27eea4,#18ddc2,#18e0bd,#19e2bb,#22c5e2,#18dec0,#19d5cd,#1ecbda,#19e2bb,#19d5cd,#2cb7f0,#23c3e4,#27bee9,#2fb2f4,#31aff5,#20c7df,#37a8fa,#4196ff,#4294ff,#28bceb,#448ffe,#458cfd,#4294ff,#4391fe,#3aa3fc,#4687fb,#3ba0fd,#4682f8,#4196ff,#4680f6,#448ffe,#4294ff,#4685fa,#4664da,#4778f0,#458cfd,#4666dd,#4559cb,#4685fa,#466be3,#4680f6,#4669e0,#4685fa)"></i><i style="left:272px;width:4.3px;background:linear-gradient(#4af880,#18d9c8,#18e0bd,#1ad4d0,#19e3b9,#59fb73,#8fff49,#fe932a,#bc2002,#ac1701,#850702,#920b01,#a91601,#c12302,#bc2002,#d83706,#e4450a,#f46617,#fc8423,#f9781e,#fea431,#fdac34,#fe9e2f,#fe9e2f,#faba39,#fea130,#f7c13a,#ecd13a,#e3db38,#ebd339,#d7e535,#d7e535,#e9d539,#cdec34,#bef434,#bef434,#a9fb39,#88ff4e,#acfb38,#84ff51,#84ff51,#61fc6c,#5dfc6f,#7dff56,#43f787,#2ff19b,#4ef97d,#20eaac,#18e0bd,#1de7b2,#1ad2d2,#19d5cd,#18e0bd,#23c3e4,#18d9c8,#1ccdd8,#19e2bb,#18dbc5,#22c5e2,#20c7df,#1ecbda,#1bd0d5,#2eb4f2,#35abf8,#1ccdd8,#2fb2f4,#38a5fb,#448ffe,#2cb7f0,#38a5fb,#4294ff,#4294ff,#3d9efe,#4099ff,#467df4,#4099ff,#4680f6,#4099ff,#4685fa,#448ffe,#4294ff,#4776ee,#476ee6,#4778f0,#458afc,#466be3,#4666dd,#477bf2,#476ee6,#4778f0,#476ee6,#476ee6)"></i><i style="left:276px;width:4.3px;background:linear-gradient(#6dfe62,#59fb73,#4ef97d,#65fd69,#61fc6c,#59fb73,#99fe42,#fe9029,#c12302,#b41b01,#8e0a01,#8b0902,#b21a01,#c32503,#af1801,#ca2a04,#ea4e0d,#ed5510,#fa7b1f,#fc8423,#fe962b,#fe992c,#fea933,#fea431,#eecf3a,#fcb136,#f7c13a,#efcd3a,#e5d938,#ebd339,#ecd13a,#cbed34,#efcd3a,#c6f034,#cbed34,#b7f735,#a1fd3d,#96fe44,#acfb38,#88ff4e,#96fe44,#7dff56,#55fa76,#71fe5f,#46f884,#2aefa1,#3ff68a,#20eaac,#27eea4,#32f298,#18e0bd,#18dbc5,#1ad4d0,#1ad2d2,#1ecbda,#20c7df,#18dbc5,#18d7ca,#23c3e4,#19d5cd,#1ccdd8,#1fc9dd,#31aff5,#2cb7f0,#27bee9,#31aff5,#37a8fa,#4391fe,#35abf8,#3e9bfe,#3d9efe,#38a5fb,#2eb4f2,#37a8fa,#477bf2,#3ba0fd,#4685fa,#458cfd,#4391fe,#4687fb,#4391fe,#4682f8,#4661d6,#4778f0,#477bf2,#4669e0,#4669e0,#4680f6,#477bf2,#476ee6,#455ed3,#476ee6)"></i><i style="left:280px;width:4.3px;background:linear-gradient(#4af880,#18dec0,#1ae4b6,#18dbc5,#18ddc2,#65fd69,#a1fd3d,#fe962b,#ca2a04,#b21a01,#8e0a01,#950d01,#a91601,#be2102,#b41b01,#cc2b04,#e5470b,#f66c19,#fa7b1f,#fb7e21,#fd8d27,#fdae35,#fcb336,#fea431,#f4c73a,#fbb838,#f7c13a,#f6c33a,#efcd3a,#eecf3a,#ebd339,#c6f034,#e5d938,#c8ef34,#cbed34,#acfb38,#b1f936,#80ff53,#acfb38,#79fe59,#8fff49,#71fe5f,#6dfe62,#69fd66,#35f394,#20eaac,#4af880,#2cf09e,#22ebaa,#2ff19b,#19e3b9,#18ddc2,#18ddc2,#1ad4d0,#1ccdd8,#1ccdd8,#18e0bd,#1bd0d5,#1fc9dd,#1fc9dd,#1bd0d5,#28bceb,#37a8fa,#28bceb,#1fc9dd,#3aa3fc,#2cb7f0,#35abf8,#2ab9ee,#3ba0fd,#38a5fb,#37a8fa,#35abf8,#3ba0fd,#4680f6,#3e9bfe,#458cfd,#4778f0,#458afc,#4196ff,#4778f0,#4776ee,#4664da,#4771e9,#466be3,#4664da,#466be3,#4778f0,#477bf2,#466be3,#4249b1,#4454c3)"></i><i style="left:284px;width:4.3px;background:linear-gradient(#6dfe62,#27eea4,#4ef97d,#27eea4,#2cf09e,#6dfe62,#92ff47,#fc8725,#c82803,#b41b01,#9b0f01,#950d01,#ac1701,#bc2002,#b91e02,#d63506,#f05b12,#fb7e21,#f66c19,#fb7e21,#fb7e21,#fe992c,#fdae35,#fea130,#f4c73a,#fbb637,#f8be39,#e3db38,#efcd3a,#ecd13a,#e7d739,#c8ef34,#cdec34,#d0ea34,#d2e935,#a9fb39,#a9fb39,#88ff4e,#a4fc3c,#84ff51,#7dff56,#46f884,#75fe5c,#8bff4b,#32f298,#20eaac,#2ff19b,#2ff19b,#20eaac,#1de7b2,#18ddc2,#18d9c8,#18ddc2,#19d5cd,#1ad2d2,#20c7df,#18d9c8,#18d9c8,#20c7df,#1fc9dd,#22c5e2,#1ad2d2,#33adf7,#2cb7f0,#22c5e2,#31aff5,#33adf7,#4099ff,#2eb4f2,#38a5fb,#3d9efe,#4099ff,#2ab9ee,#4099ff,#448ffe,#448ffe,#4687fb,#467df4,#467df4,#3d9efe,#448ffe,#467df4,#476ee6,#4776ee,#4773eb,#4666dd,#467df4,#4664da,#4680f6,#4771e9,#4451bf,#4664da)"></i><i style="left:288px;width:4.3px;background:linear-gradient(#3ff68a,#65fd69,#71fe5f,#52fa7a,#71fe5f,#5dfc6f,#7dff56,#fc8423,#c32503,#bc2002,#9b0f01,#ac1701,#a71401,#be2102,#c12302,#df3f08,#ec530f,#f76f1a,#f66c19,#fc8725,#fd8a26,#fea732,#fcb336,#fdae35,#fbb838,#fcb336,#f9bc39,#e9d539,#f6c33a,#dde037,#e7d739,#d9e436,#d4e735,#c6f034,#cdec34,#affa37,#a9fb39,#88ff4e,#a4fc3c,#80ff53,#9ffd3f,#55fa76,#69fd66,#71fe5f,#38f491,#25eca7,#38f491,#32f298,#1fe9af,#2cf09e,#18dec0,#18d9c8,#19e3b9,#1ad2d2,#1ad2d2,#28bceb,#1ccdd8,#19d5cd,#22c5e2,#1ecbda,#1ccdd8,#1ecbda,#27bee9,#37a8fa,#2fb2f4,#2ab9ee,#37a8fa,#38a5fb,#31aff5,#3aa3fc,#4196ff,#4196ff,#2cb7f0,#4294ff,#458afc,#4294ff,#4687fb,#4778f0,#467df4,#4294ff,#467df4,#4776ee,#466be3,#4773eb,#467df4,#455ed3,#477bf2,#477bf2,#4391fe,#4771e9,#434eba,#4456c7)"></i><i style="left:292px;width:4.3px;background:linear-gradient(#4af880,#55fa76,#69fd66,#5dfc6f,#6dfe62,#61fc6c,#9ffd3f,#fe9029,#be2102,#b71d02,#9e1001,#a11201,#bc2002,#cc2b04,#c32503,#da3907,#ed5510,#f76f1a,#f9781e,#f36315,#fd8d27,#fcb336,#fe992c,#fea933,#f5c53a,#fcb336,#faba39,#e9d539,#f9bc39,#e3db38,#e5d938,#d9e436,#e5d938,#c8ef34,#b9f635,#b1f936,#b1f936,#96fe44,#99fe42,#65fd69,#96fe44,#65fd69,#7dff56,#69fd66,#3ff68a,#43f787,#2cf09e,#20eaac,#20eaac,#32f298,#1de7b2,#18ddc2,#1fe9af,#18d7ca,#1ad4d0,#22c5e2,#1ad2d2,#1ad2d2,#28bceb,#22c5e2,#22c5e2,#1ad4d0,#2fb2f4,#3e9bfe,#38a5fb,#2eb4f2,#3aa3fc,#3ba0fd,#33adf7,#4099ff,#3e9bfe,#4294ff,#2cb7f0,#3e9bfe,#4294ff,#4682f8,#458cfd,#4773eb,#4776ee,#448ffe,#458afc,#4771e9,#4682f8,#458afc,#458afc,#4778f0,#4687fb,#4778f0,#4778f0,#466be3,#4451bf,#455ed3)"></i><i style="left:296px;width:4.3px;background:linear-gradient(#69fd66,#59fb73,#61fc6c,#52fa7a,#61fc6c,#4af880,#9cfe40,#fc8423,#bc2002,#be2102,#980e01,#950d01,#b91e02,#af1801,#c12302,#d43305,#ef5811,#f26014,#ea4e0d,#fc8725,#fe962b,#fea933,#fe992c,#fea130,#faba39,#fdae35,#fcb136,#f6c33a,#f7c13a,#ebd339,#e5d938,#e3db38,#d9e436,#bef434,#b7f735,#b7f735,#affa37,#a4fc3c,#96fe44,#79fe59,#92ff47,#65fd69,#69fd66,#61fc6c,#65fd69,#52fa7a,#25eca7,#19e3b9,#19e2bb,#2aefa1,#1ce6b4,#18e0bd,#20eaac,#18d9c8,#1ecbda,#2eb4f2,#18dbc5,#18ddc2,#23c3e4,#2cb7f0,#22c5e2,#27bee9,#35abf8,#38a5fb,#33adf7,#2ab9ee,#4099ff,#33adf7,#3d9efe,#3d9efe,#3e9bfe,#3d9efe,#3aa3fc,#35abf8,#3e9bfe,#467df4,#458cfd,#4682f8,#4666dd,#4099ff,#4773eb,#467df4,#4687fb,#4685fa,#4680f6,#4685fa,#477bf2,#4776ee,#4294ff,#4666dd,#4146ac,#4664da)"></i><i style="left:300px;width:4.3px;background:linear-gradient(#65fd69,#5dfc6f,#5dfc6f,#5dfc6f,#5dfc6f,#65fd69,#9cfe40,#fd8a26,#be2102,#b41b01,#8e0a01,#a91601,#b71d02,#b71d02,#c52603,#d43305,#f36315,#f26014,#f66c19,#fa7b1f,#fd8d27,#fe962b,#fdac34,#fcb336,#fbb838,#fcb336,#fea933,#f4c73a,#f5c53a,#e3db38,#dfdf37,#e3db38,#d7e535,#affa37,#b1f936,#bcf534,#9ffd3f,#99fe42,#a4fc3c,#84ff51,#96fe44,#61fc6c,#61fc6c,#80ff53,#59fb73,#4af880,#27eea4,#27eea4,#27eea4,#25eca7,#19e3b9,#19e3b9,#1ce6b4,#1ad4d0,#18d9c8,#22c5e2,#1ad4d0,#1ccdd8,#20c7df,#27bee9,#1bd0d5,#23c3e4,#25c0e7,#3e9bfe,#38a5fb,#2eb4f2,#37a8fa,#33adf7,#3aa3fc,#33adf7,#458cfd,#4685fa,#35abf8,#37a8fa,#4099ff,#4773eb,#4682f8,#4391fe,#4669e0,#33adf7,#4680f6,#458afc,#448ffe,#4294ff,#4680f6,#4773eb,#477bf2,#4778f0,#4196ff,#4559cb,#434eba,#455ed3)"></i><i style="left:304px;width:4.3px;background:linear-gradient(#69fd66,#18ddc2,#19e3b9,#1ce6b4,#18ddc2,#4ef97d,#9cfe40,#fc8725,#d23105,#be2102,#a11201,#bc2002,#b91e02,#bc2002,#d02f05,#d43305,#eb500e,#ed5510,#ef5811,#f9751d,#fe962b,#fc8725,#fe992c,#fdae35,#fdac34,#f9bc39,#fea130,#eecf3a,#f1cb3a,#e7d739,#d7e535,#d9e436,#d7e535,#affa37,#bef434,#b4f836,#a9fb39,#a1fd3d,#9cfe40,#75fe5c,#88ff4e,#65fd69,#3ff68a,#61fc6c,#65fd69,#52fa7a,#1de7b2,#32f298,#27eea4,#1ce6b4,#18e0bd,#18d9c8,#1ae4b6,#18ddc2,#18d7ca,#1ad2d2,#1ad4d0,#18dec0,#20c7df,#2cb7f0,#22c5e2,#23c3e4,#1fc9dd,#4294ff,#3aa3fc,#35abf8,#35abf8,#28bceb,#31aff5,#35abf8,#4685fa,#448ffe,#2fb2f4,#38a5fb,#448ffe,#4682f8,#4099ff,#4776ee,#455ed3,#37a8fa,#4682f8,#4687fb,#477bf2,#448ffe,#4685fa,#4776ee,#4773eb,#4771e9,#4099ff,#455ccf,#4146ac,#4669e0)"></i><i style="left:308px;width:4.3px;background:linear-gradient(#69fd66,#65fd69,#5dfc6f,#65fd69,#6dfe62,#59fb73,#a9fb39,#f8721c,#b71d02,#b41b01,#8e0a01,#a41301,#c32503,#b41b01,#be2102,#d63506,#eb500e,#ef5811,#f36315,#f8721c,#fe962b,#fc8423,#fe962b,#fea431,#fdae35,#f9bc39,#fea933,#f4c73a,#f1cb3a,#dde037,#d9e436,#dbe236,#d0ea34,#acfb38,#c1f334,#a7fc3a,#a7fc3a,#b1f936,#92ff47,#88ff4e,#6dfe62,#80ff53,#55fa76,#80ff53,#5dfc6f,#2ff19b,#2cf09e,#27eea4,#2aefa1,#1ae4b6,#19d5cd,#18d7ca,#19e3b9,#18d7ca,#19d5cd,#1fc9dd,#18d9c8,#1ce6b4,#20c7df,#25c0e7,#27bee9,#2ab9ee,#20c7df,#37a8fa,#3ba0fd,#2eb4f2,#33adf7,#3aa3fc,#3ba0fd,#3aa3fc,#4196ff,#458afc,#3aa3fc,#35abf8,#4682f8,#458afc,#448ffe,#467df4,#455ed3,#2eb4f2,#4680f6,#4682f8,#467df4,#4680f6,#476ee6,#4682f8,#4669e0,#466be3,#4196ff,#4454c3,#4664da,#477bf2)"></i><i style="left:312px;width:4.3px;background:linear-gradient(#65fd69,#1ae4b6,#22ebaa,#2cf09e,#22ebaa,#4ef97d,#b4f836,#f9751d,#a91601,#b21a01,#920b01,#a41301,#b91e02,#b41b01,#ca2a04,#d83706,#f05b12,#f36315,#f56918,#f66c19,#fd8d27,#fa7b1f,#fd8a26,#fdae35,#fdac34,#f4c73a,#fea933,#f5c53a,#f2c93a,#e1dd37,#d9e436,#cdec34,#c6f034,#a9fb39,#bef434,#affa37,#92ff47,#acfb38,#88ff4e,#84ff51,#6dfe62,#69fd66,#5dfc6f,#79fe59,#4af880,#3ff68a,#2cf09e,#32f298,#22ebaa,#19e2bb,#18dec0,#1ad2d2,#20eaac,#1ae4b6,#18dec0,#1ad4d0,#1bd0d5,#1ae4b6,#1ecbda,#20c7df,#1ad2d2,#31aff5,#1ccdd8,#3ba0fd,#37a8fa,#37a8fa,#35abf8,#2eb4f2,#33adf7,#448ffe,#3aa3fc,#3ba0fd,#3aa3fc,#3ba0fd,#3d9efe,#458afc,#467df4,#4771e9,#4669e0,#4294ff,#458afc,#458afc,#4680f6,#4391fe,#4771e9,#4680f6,#4776ee,#477bf2,#4680f6,#476ee6,#466be3,#4680f6)"></i><i style="left:316px;width:4.3px;background:linear-gradient(#55fa76,#1ce6b4,#1de7b2,#19e2bb,#19e2bb,#59fb73,#affa37,#f9781e,#af1801,#950d01,#8e0a01,#9e1001,#b21a01,#be2102,#d43305,#d63506,#ec530f,#ed5510,#fa7b1f,#f8721c,#fe962b,#fa7b1f,#fd8a26,#fea431,#fbb637,#ecd13a,#f5c53a,#f6c33a,#fbb838,#dbe236,#dfdf37,#c8ef34,#c8ef34,#b1f936,#bef434,#affa37,#99fe42,#b1f936,#92ff47,#8bff4b,#52fa7a,#5dfc6f,#52fa7a,#5dfc6f,#65fd69,#52fa7a,#22ebaa,#43f787,#22ebaa,#18dbc5,#18ddc2,#18d9c8,#18ddc2,#18d7ca,#1ad4d0,#1ad2d2,#19d5cd,#1ae4b6,#25c0e7,#1bd0d5,#23c3e4,#2cb7f0,#1ad2d2,#38a5fb,#35abf8,#3aa3fc,#35abf8,#37a8fa,#33adf7,#4391fe,#35abf8,#37a8fa,#3d9efe,#3e9bfe,#3ba0fd,#458cfd,#477bf2,#455ed3,#4778f0,#4294ff,#458afc,#4685fa,#4669e0,#4687fb,#4773eb,#4773eb,#4776ee,#4661d6,#467df4,#4771e9,#455ed3,#477bf2)"></i><i style="left:320px;width:4.3px;background:linear-gradient(#59fb73,#1fe9af,#25eca7,#2ff19b,#2ff19b,#75fe5c,#b4f836,#f66c19,#b21a01,#980e01,#7a0403,#9e1001,#a11201,#c52603,#ca2a04,#d02f05,#ef5811,#f36315,#f56918,#ec530f,#fe9b2d,#fd8a26,#fd8d27,#fe962b,#fea933,#f2c93a,#f7c13a,#f2c93a,#fcb136,#e5d938,#e7d739,#cbed34,#cbed34,#bef434,#bef434,#a4fc3c,#92ff47,#b9f635,#99fe42,#8fff49,#59fb73,#35f394,#55fa76,#52fa7a,#38f491,#4ef97d,#19e2bb,#32f298,#2cf09e,#19e3b9,#1ae4b6,#18dec0,#1ce6b4,#1ae4b6,#20c7df,#1fc9dd,#18e0bd,#1bd0d5,#27bee9,#1bd0d5,#22c5e2,#2eb4f2,#20c7df,#2cb7f0,#38a5fb,#4391fe,#3ba0fd,#35abf8,#31aff5,#458afc,#3d9efe,#4294ff,#4099ff,#4294ff,#4391fe,#448ffe,#458afc,#4771e9,#455ccf,#4680f6,#4776ee,#4773eb,#4773eb,#448ffe,#477bf2,#4680f6,#4778f0,#455ed3,#4771e9,#4778f0,#4669e0,#4778f0)"></i><i style="left:324px;width:4.3px;background:linear-gradient(#52fa7a,#4af880,#75fe5c,#59fb73,#61fc6c,#6dfe62,#c1f334,#f15d13,#a91601,#9e1001,#7a0403,#a11201,#920b01,#c82803,#ce2d04,#df3f08,#ea4e0d,#f26014,#f9751d,#f26014,#fd8a26,#fb8122,#fa7b1f,#fe932a,#fea732,#eecf3a,#ecd13a,#f7c13a,#fbb838,#e1dd37,#d9e436,#b9f635,#d0ea34,#acfb38,#c8ef34,#a7fc3a,#a1fd3d,#b4f836,#9cfe40,#8bff4b,#6dfe62,#55fa76,#46f884,#2ff19b,#46f884,#4ef97d,#22ebaa,#35f394,#1ce6b4,#1ce6b4,#1ae4b6,#19e2bb,#18dec0,#18d7ca,#18e0bd,#22c5e2,#18d7ca,#18e0bd,#2eb4f2,#1ccdd8,#22c5e2,#27bee9,#28bceb,#2cb7f0,#33adf7,#448ffe,#37a8fa,#3ba0fd,#37a8fa,#4196ff,#3ba0fd,#3d9efe,#3e9bfe,#4294ff,#4391fe,#4687fb,#3aa3fc,#477bf2,#4669e0,#4778f0,#4776ee,#4773eb,#476ee6,#4687fb,#4687fb,#4680f6,#4773eb,#4456c7,#4771e9,#4669e0,#4559cb,#4682f8)"></i><i style="left:328px;width:4.3px;background:linear-gradient(#55fa76,#69fd66,#55fa76,#5dfc6f,#71fe5f,#5dfc6f,#c6f034,#e5470b,#9e1001,#980e01,#8b0902,#920b01,#950d01,#d02f05,#ce2d04,#ea4e0d,#ed5510,#f56918,#f36315,#f46617,#fea130,#fdac34,#fd8d27,#fe9b2d,#fea431,#f5c53a,#e9d539,#f2c93a,#fbb838,#f7c13a,#d9e436,#cbed34,#dbe236,#cbed34,#b1f936,#b4f836,#a1fd3d,#b4f836,#acfb38,#8fff49,#69fd66,#65fd69,#55fa76,#32f298,#3cf58e,#46f884,#1ce6b4,#2cf09e,#25eca7,#1de7b2,#2cf09e,#1ce6b4,#18e0bd,#19d5cd,#18d9c8,#22c5e2,#1de7b2,#1ad2d2,#35abf8,#1ad4d0,#18d9c8,#23c3e4,#28bceb,#2fb2f4,#3ba0fd,#4196ff,#2fb2f4,#31aff5,#31aff5,#3ba0fd,#3ba0fd,#4099ff,#4680f6,#4682f8,#4391fe,#448ffe,#458afc,#4682f8,#477bf2,#4685fa,#4687fb,#466be3,#4669e0,#4687fb,#4776ee,#4771e9,#4778f0,#476ee6,#4771e9,#4666dd,#4454c3,#4294ff)"></i><i style="left:332px;width:4.3px;background:linear-gradient(#7dff56,#46f884,#3cf58e,#61fc6c,#75fe5c,#52fa7a,#d0ea34,#e2430a,#ac1701,#a11201,#7a0403,#980e01,#9e1001,#d63506,#cc2b04,#e14109,#ea4e0d,#f15d13,#f56918,#f66c19,#fe9029,#fea130,#fe962b,#fd8d27,#fea130,#f4c73a,#f2c93a,#e9d539,#f8be39,#ecd13a,#dfdf37,#d4e735,#d7e535,#affa37,#bcf534,#c1f334,#a7fc3a,#9ffd3f,#a9fb39,#8fff49,#79fe59,#55fa76,#55fa76,#2aefa1,#65fd69,#4af880,#27eea4,#2aefa1,#1de7b2,#2ff19b,#32f298,#22ebaa,#1ce6b4,#19d5cd,#18dbc5,#1fc9dd,#18e0bd,#18dec0,#27bee9,#18dec0,#18dec0,#20c7df,#33adf7,#35abf8,#35abf8,#37a8fa,#2fb2f4,#37a8fa,#27bee9,#37a8fa,#3e9bfe,#448ffe,#458cfd,#4778f0,#4294ff,#458afc,#38a5fb,#448ffe,#4687fb,#4778f0,#467df4,#476ee6,#4771e9,#4687fb,#476ee6,#476ee6,#477bf2,#477bf2,#4776ee,#4559cb,#4249b1,#4687fb)"></i><i style="left:336px;width:4.3px;background:linear-gradient(#61fc6c,#1ae4b6,#20eaac,#18ddc2,#32f298,#55fa76,#d0ea34,#ea4e0d,#ac1701,#8e0a01,#7a0403,#980e01,#b41b01,#d63506,#dc3b07,#eb500e,#e7490c,#f15d13,#f76f1a,#fe992c,#fe9029,#fea130,#fd8d27,#fe9b2d,#fea732,#f5c53a,#fbb637,#ecd13a,#f7c13a,#f1cb3a,#d0ea34,#d4e735,#dde037,#b9f635,#affa37,#cdec34,#9ffd3f,#8fff49,#a4fc3c,#a7fc3a,#61fc6c,#65fd69,#52fa7a,#38f491,#43f787,#46f884,#35f394,#2cf09e,#35f394,#1ae4b6,#35f394,#27eea4,#18ddc2,#22c5e2,#19d5cd,#1ccdd8,#19d5cd,#18d9c8,#2cb7f0,#18ddc2,#18ddc2,#28bceb,#25c0e7,#3d9efe,#2fb2f4,#37a8fa,#38a5fb,#37a8fa,#35abf8,#3e9bfe,#3e9bfe,#3e9bfe,#458cfd,#4771e9,#448ffe,#4391fe,#4196ff,#4687fb,#4099ff,#448ffe,#4685fa,#4771e9,#4669e0,#4687fb,#4661d6,#4666dd,#4669e0,#4685fa,#4773eb,#3f3e9c,#434eba,#4685fa)"></i><i style="left:340px;width:4.3px;background:linear-gradient(#6dfe62,#59fb73,#65fd69,#52fa7a,#69fd66,#61fc6c,#dfdf37,#dc3b07,#a11201,#850702,#850702,#920b01,#b91e02,#c82803,#e14109,#e2430a,#e2430a,#f9751d,#f8721c,#fd8d27,#fe992c,#fe9e2f,#fe9029,#fea933,#fe9e2f,#f8be39,#f8be39,#ebd339,#f6c33a,#fbb838,#d2e935,#dde037,#c6f034,#c6f034,#b7f735,#d0ea34,#9ffd3f,#99fe42,#99fe42,#8bff4b,#6dfe62,#65fd69,#65fd69,#4ef97d,#46f884,#3cf58e,#2ff19b,#25eca7,#25eca7,#2ff19b,#46f884,#19e3b9,#18e0bd,#22c5e2,#1ad4d0,#1fc9dd,#18d7ca,#19e3b9,#27bee9,#1bd0d5,#19d5cd,#20c7df,#25c0e7,#3e9bfe,#33adf7,#3ba0fd,#2ab9ee,#37a8fa,#35abf8,#3ba0fd,#458afc,#4099ff,#4391fe,#4776ee,#4391fe,#3d9efe,#458cfd,#3aa3fc,#458cfd,#4685fa,#458cfd,#476ee6,#4773eb,#4687fb,#466be3,#4666dd,#455ed3,#477bf2,#455ed3,#4559cb,#4666dd,#448ffe)"></i><i style="left:344px;width:4.3px;background:linear-gradient(#52fa7a,#59fb73,#69fd66,#71fe5f,#61fc6c,#61fc6c,#d9e436,#dc3b07,#bc2002,#8e0a01,#9b0f01,#920b01,#a71401,#c32503,#e2430a,#e14109,#e5470b,#f05b12,#f76f1a,#fc8423,#fe9e2f,#fea431,#fe962b,#fea130,#fcb336,#f6c33a,#fbb838,#dde037,#eecf3a,#f2c93a,#d9e436,#d9e436,#c6f034,#b9f635,#a4fc3c,#d7e535,#a1fd3d,#99fe42,#a7fc3a,#96fe44,#65fd69,#7dff56,#71fe5f,#43f787,#3cf58e,#3ff68a,#4af880,#2cf09e,#1ae4b6,#32f298,#22ebaa,#22ebaa,#20eaac,#23c3e4,#1fc9dd,#1ecbda,#19d5cd,#19e3b9,#2fb2f4,#22c5e2,#23c3e4,#28bceb,#22c5e2,#37a8fa,#23c3e4,#37a8fa,#25c0e7,#33adf7,#37a8fa,#37a8fa,#4682f8,#4687fb,#3e9bfe,#4687fb,#38a5fb,#4099ff,#3aa3fc,#3e9bfe,#4099ff,#4680f6,#4687fb,#4669e0,#477bf2,#4687fb,#4666dd,#476ee6,#4773eb,#4680f6,#466be3,#4454c3,#4664da,#4778f0)"></i><i style="left:348px;width:4.3px;background:linear-gradient(#69fd66,#4ef97d,#59fb73,#3cf58e,#61fc6c,#55fa76,#d4e735,#e5470b,#bc2002,#a41301,#980e01,#920b01,#b41b01,#cc2b04,#e4450a,#eb500e,#e4450a,#f76f1a,#fc8423,#fd8d27,#fea732,#fe9e2f,#fe962b,#fcb136,#fcb136,#f8be39,#fcb336,#e7d739,#ecd13a,#f5c53a,#dde037,#d0ea34,#c6f034,#c8ef34,#b1f936,#c6f034,#99fe42,#8fff49,#a4fc3c,#79fe59,#6dfe62,#79fe59,#79fe59,#52fa7a,#4ef97d,#27eea4,#35f394,#1fe9af,#18e0bd,#3cf58e,#2cf09e,#27eea4,#1de7b2,#27bee9,#1ad4d0,#22c5e2,#1bd0d5,#18dbc5,#28bceb,#2eb4f2,#2cb7f0,#38a5fb,#2fb2f4,#3aa3fc,#20c7df,#3ba0fd,#38a5fb,#458cfd,#4294ff,#448ffe,#4682f8,#4685fa,#4099ff,#458afc,#4294ff,#33adf7,#4776ee,#3d9efe,#3e9bfe,#467df4,#4294ff,#4664da,#467df4,#4682f8,#4776ee,#4661d6,#4773eb,#4682f8,#455ed3,#455ed3,#466be3,#4666dd)"></i><i style="left:352px;width:4.3px;background:linear-gradient(#69fd66,#55fa76,#3ff68a,#55fa76,#61fc6c,#79fe59,#dbe236,#e4450a,#a91601,#b21a01,#af1801,#a41301,#a41301,#c12302,#df3f08,#e84b0c,#e84b0c,#ed5510,#f66c19,#fb7e21,#fd8a26,#fea933,#fe992c,#fe962b,#fcb336,#f5c53a,#fbb637,#e3db38,#eecf3a,#dfdf37,#d2e935,#d4e735,#b4f836,#bef434,#affa37,#c3f134,#8fff49,#8bff4b,#96fe44,#8fff49,#6dfe62,#80ff53,#69fd66,#55fa76,#65fd69,#2ff19b,#4af880,#25eca7,#1fe9af,#2aefa1,#32f298,#1de7b2,#22ebaa,#25c0e7,#1ad2d2,#1ecbda,#18dec0,#1ad2d2,#1fc9dd,#22c5e2,#27bee9,#4196ff,#25c0e7,#37a8fa,#2ab9ee,#37a8fa,#2fb2f4,#2eb4f2,#4196ff,#4196ff,#4776ee,#477bf2,#4294ff,#458afc,#38a5fb,#35abf8,#458afc,#4685fa,#3d9efe,#4776ee,#458cfd,#467df4,#4773eb,#458cfd,#4778f0,#4456c7,#477bf2,#4773eb,#4661d6,#466be3,#4661d6,#455ed3)"></i><i style="left:356px;width:4.3px;background:linear-gradient(#59fb73,#69fd66,#55fa76,#55fa76,#65fd69,#71fe5f,#dfdf37,#e4450a,#b71d02,#af1801,#950d01,#ac1701,#b41b01,#c52603,#d83706,#f36315,#ed5510,#f46617,#f9751d,#f9781e,#fd8a26,#fe9b2d,#fdac34,#fd8d27,#f7c13a,#faba39,#f8be39,#e1dd37,#ecd13a,#d0ea34,#cdec34,#d0ea34,#bcf534,#d2e935,#affa37,#bcf534,#a9fb39,#6dfe62,#9ffd3f,#a4fc3c,#6dfe62,#75fe5c,#5dfc6f,#61fc6c,#75fe5c,#32f298,#4af880,#2aefa1,#1ce6b4,#2cf09e,#1ae4b6,#1fe9af,#25eca7,#23c3e4,#19d5cd,#18dec0,#18e0bd,#19d5cd,#1ecbda,#22c5e2,#2cb7f0,#31aff5,#25c0e7,#2eb4f2,#27bee9,#33adf7,#2fb2f4,#37a8fa,#4099ff,#4196ff,#4778f0,#467df4,#458cfd,#458afc,#4196ff,#4294ff,#467df4,#4391fe,#3d9efe,#466be3,#4687fb,#4687fb,#4669e0,#4294ff,#4680f6,#434eba,#477bf2,#476ee6,#4661d6,#466be3,#4666dd,#4661d6)"></i><i style="left:360px;width:4.3px;background:linear-gradient(#43f787,#4ef97d,#52fa7a,#5dfc6f,#65fd69,#55fa76,#dfdf37,#e84b0c,#a91601,#b71d02,#a41301,#a91601,#c52603,#b71d02,#d83706,#f26014,#f46617,#f66c19,#f56918,#f9751d,#fe9029,#fe9b2d,#fea732,#fc8725,#f7c13a,#efcd3a,#f7c13a,#f1cb3a,#e3db38,#d2e935,#c8ef34,#d7e535,#bcf534,#c1f334,#affa37,#bef434,#a9fb39,#6dfe62,#9cfe40,#a1fd3d,#75fe5c,#75fe5c,#6dfe62,#75fe5c,#4ef97d,#32f298,#4ef97d,#3cf58e,#1ae4b6,#46f884,#18e0bd,#19e3b9,#1de7b2,#1ccdd8,#18ddc2,#19e2bb,#1bd0d5,#18dbc5,#1bd0d5,#25c0e7,#2fb2f4,#31aff5,#22c5e2,#1bd0d5,#37a8fa,#2ab9ee,#33adf7,#33adf7,#4391fe,#4196ff,#4685fa,#4687fb,#4391fe,#4391fe,#3e9bfe,#4196ff,#4682f8,#4680f6,#33adf7,#4776ee,#4687fb,#4682f8,#4661d6,#4391fe,#4680f6,#4778f0,#4773eb,#4664da,#455ed3,#4771e9,#4664da,#434eba)"></i><i style="left:364px;width:4.3px;background:linear-gradient(#59fb73,#18dbc5,#18d9c8,#18dbc5,#18dec0,#69fd66,#d4e735,#eb500e,#a71401,#af1801,#b21a01,#a91601,#c82803,#c32503,#d83706,#f05b12,#f9781e,#f76f1a,#f05b12,#f46617,#fb7e21,#fdae35,#fcb336,#fe9029,#f6c33a,#f6c33a,#f4c73a,#ecd13a,#e9d539,#cdec34,#c6f034,#d4e735,#bcf534,#bef434,#b1f936,#bef434,#a7fc3a,#69fd66,#a1fd3d,#9cfe40,#99fe42,#79fe59,#88ff4e,#65fd69,#4af880,#3cf58e,#52fa7a,#35f394,#1de7b2,#32f298,#19e3b9,#18dbc5,#1de7b2,#1ad4d0,#18e0bd,#1ae4b6,#1ad4d0,#18d7ca,#19d5cd,#23c3e4,#27bee9,#33adf7,#2eb4f2,#22c5e2,#37a8fa,#25c0e7,#31aff5,#38a5fb,#3d9efe,#3d9efe,#4687fb,#458afc,#4099ff,#458cfd,#458afc,#4778f0,#4685fa,#4778f0,#458cfd,#4773eb,#4680f6,#4778f0,#4661d6,#3d9efe,#4391fe,#4773eb,#4680f6,#4456c7,#4666dd,#4669e0,#4669e0,#455ccf)"></i><i style="left:368px;width:4.3px;background:linear-gradient(#4ef97d,#65fd69,#46f884,#6dfe62,#69fd66,#52fa7a,#dde037,#df3f08,#b71d02,#b71d02,#b71d02,#a41301,#c82803,#cc2b04,#d02f05,#ef5811,#f05b12,#f15d13,#f9781e,#f76f1a,#fc8725,#fe9b2d,#f9bc39,#fe932a,#f9bc39,#efcd3a,#f7c13a,#f7c13a,#ebd339,#dde037,#d0ea34,#dde037,#bef434,#d2e935,#96fe44,#99fe42,#a9fb39,#6dfe62,#bcf534,#92ff47,#a9fb39,#61fc6c,#71fe5f,#65fd69,#46f884,#32f298,#3ff68a,#22ebaa,#2ff19b,#27eea4,#1ae4b6,#18dec0,#18e0bd,#19e3b9,#19e3b9,#1ae4b6,#22c5e2,#18d7ca,#19e3b9,#27bee9,#1fc9dd,#31aff5,#1fc9dd,#1ecbda,#2ab9ee,#1fc9dd,#25c0e7,#3aa3fc,#4294ff,#4196ff,#4391fe,#3aa3fc,#448ffe,#458cfd,#4680f6,#4687fb,#477bf2,#4680f6,#3aa3fc,#466be3,#477bf2,#458afc,#477bf2,#4196ff,#4099ff,#4666dd,#476ee6,#455ed3,#476ee6,#4664da,#466be3,#455ccf)"></i><i style="left:372px;width:4.3px;background:linear-gradient(#52fa7a,#55fa76,#65fd69,#61fc6c,#55fa76,#61fc6c,#d2e935,#e2430a,#a11201,#a41301,#ac1701,#980e01,#d43305,#c12302,#cc2b04,#e4450a,#ef5811,#f56918,#f66c19,#fc8725,#fd8a26,#fe962b,#fea732,#fea732,#fcb336,#f4c73a,#f4c73a,#f5c53a,#ecd13a,#e1dd37,#d4e735,#d2e935,#d0ea34,#d7e535,#a7fc3a,#affa37,#a4fc3c,#75fe5c,#bcf534,#9cfe40,#99fe42,#3ff68a,#69fd66,#4ef97d,#3ff68a,#35f394,#20eaac,#2ff19b,#32f298,#1ce6b4,#19e3b9,#19d5cd,#1de7b2,#1ecbda,#1ae4b6,#18dbc5,#23c3e4,#18e0bd,#18d7ca,#28bceb,#1fc9dd,#31aff5,#28bceb,#27bee9,#35abf8,#1ccdd8,#25c0e7,#3ba0fd,#3ba0fd,#4294ff,#3e9bfe,#3ba0fd,#4099ff,#3ba0fd,#4682f8,#448ffe,#4687fb,#4773eb,#4294ff,#4661d6,#4680f6,#477bf2,#466be3,#458afc,#448ffe,#4664da,#467df4,#4771e9,#4666dd,#4669e0,#4778f0,#4456c7)"></i><i style="left:376px;width:4.3px;background:linear-gradient(#55fa76,#52fa7a,#75fe5c,#5dfc6f,#55fa76,#61fc6c,#dde037,#e7490c,#a91601,#ac1701,#a11201,#af1801,#c52603,#ce2d04,#d63506,#dd3d08,#e7490c,#f56918,#f46617,#fc8423,#fc8423,#fea732,#fcb136,#fdae35,#fbb838,#efcd3a,#f7c13a,#f7c13a,#dfdf37,#e3db38,#dbe236,#c3f134,#e5d938,#d0ea34,#99fe42,#acfb38,#b1f936,#65fd69,#b1f936,#96fe44,#a4fc3c,#59fb73,#75fe5c,#3cf58e,#46f884,#3ff68a,#22ebaa,#2ff19b,#52fa7a,#19e3b9,#1ce6b4,#19e2bb,#1ce6b4,#20c7df,#18dbc5,#19e2bb,#20c7df,#1ccdd8,#1ad4d0,#25c0e7,#25c0e7,#2ab9ee,#28bceb,#2ab9ee,#27bee9,#25c0e7,#31aff5,#3d9efe,#38a5fb,#3aa3fc,#3ba0fd,#3aa3fc,#4099ff,#4196ff,#458afc,#467df4,#4294ff,#4687fb,#4685fa,#455ed3,#4687fb,#4391fe,#4778f0,#458afc,#4687fb,#4664da,#476ee6,#476ee6,#466be3,#4661d6,#4391fe,#455ed3)"></i><i style="left:380px;width:4.3px;background:linear-gradient(#69fd66,#69fd66,#43f787,#61fc6c,#65fd69,#3ff68a,#dde037,#e5470b,#9b0f01,#b71d02,#c12302,#980e01,#d23105,#cc2b04,#dc3b07,#e2430a,#e5470b,#fb8122,#f26014,#fe992c,#fea732,#fe992c,#fcb136,#fdac34,#f9bc39,#f6c33a,#f6c33a,#f7c13a,#e5d938,#dbe236,#c8ef34,#d2e935,#e5d938,#d4e735,#a7fc3a,#9ffd3f,#a1fd3d,#65fd69,#b1f936,#99fe42,#8fff49,#61fc6c,#5dfc6f,#35f394,#3ff68a,#3cf58e,#27eea4,#27eea4,#3ff68a,#18d7ca,#19e3b9,#1ae4b6,#19e2bb,#20c7df,#19e3b9,#18dbc5,#1ccdd8,#1ecbda,#20c7df,#31aff5,#1ad4d0,#22c5e2,#2cb7f0,#2ab9ee,#28bceb,#2ab9ee,#38a5fb,#28bceb,#4294ff,#3d9efe,#38a5fb,#35abf8,#4687fb,#448ffe,#458afc,#4196ff,#4687fb,#458afc,#4687fb,#4666dd,#467df4,#458cfd,#476ee6,#4682f8,#458cfd,#4773eb,#4669e0,#4776ee,#4778f0,#455ccf,#4685fa,#4664da)"></i><i style="left:384px;width:4.3px;background:linear-gradient(#6dfe62,#61fc6c,#61fc6c,#5dfc6f,#80ff53,#4ef97d,#dfdf37,#ef5811,#980e01,#b71d02,#b21a01,#a41301,#ca2a04,#c52603,#df3f08,#ec530f,#e4450a,#f66c19,#f9781e,#fa7b1f,#fe9b2d,#fea130,#fea431,#fea933,#f9bc39,#f8be39,#f4c73a,#faba39,#cdec34,#e3db38,#dfdf37,#d2e935,#ebd339,#bcf534,#9ffd3f,#a1fd3d,#b1f936,#8bff4b,#b1f936,#96fe44,#80ff53,#65fd69,#71fe5f,#3cf58e,#65fd69,#35f394,#27eea4,#25eca7,#35f394,#19e3b9,#1ce6b4,#20eaac,#19e3b9,#25c0e7,#18dbc5,#18dbc5,#20c7df,#25c0e7,#1ad2d2,#31aff5,#20c7df,#1bd0d5,#2cb7f0,#35abf8,#2eb4f2,#23c3e4,#3d9efe,#27bee9,#458cfd,#3e9bfe,#38a5fb,#35abf8,#4682f8,#4391fe,#3e9bfe,#4682f8,#4685fa,#4682f8,#4391fe,#4773eb,#4682f8,#4682f8,#4669e0,#4778f0,#458afc,#467df4,#4669e0,#4666dd,#4778f0,#455ccf,#467df4,#4682f8)"></i><i style="left:388px;width:4.3px;background:linear-gradient(#59fb73,#19e2bb,#22ebaa,#1ae4b6,#20eaac,#5dfc6f,#dde037,#f36315,#ac1701,#bc2002,#b91e02,#980e01,#b21a01,#d63506,#d63506,#ed5510,#ec530f,#f9751d,#f9751d,#fa7b1f,#fea933,#fe9b2d,#fcb336,#fe9e2f,#f4c73a,#f8be39,#eecf3a,#f4c73a,#dde037,#d9e436,#e7d739,#c8ef34,#e9d539,#cdec34,#96fe44,#8fff49,#affa37,#96fe44,#a1fd3d,#99fe42,#79fe59,#69fd66,#71fe5f,#32f298,#61fc6c,#3cf58e,#2cf09e,#2cf09e,#2aefa1,#19e3b9,#2aefa1,#20eaac,#18dec0,#1bd0d5,#19e2bb,#22ebaa,#23c3e4,#1ecbda,#1ad4d0,#1ccdd8,#25c0e7,#1ecbda,#1ecbda,#2cb7f0,#31aff5,#1ccdd8,#458afc,#33adf7,#4391fe,#35abf8,#33adf7,#4196ff,#4680f6,#4685fa,#3aa3fc,#4685fa,#4776ee,#4680f6,#4680f6,#4776ee,#4773eb,#476ee6,#4773eb,#4685fa,#467df4,#4664da,#4661d6,#4682f8,#4680f6,#4451bf,#477bf2,#4776ee)"></i><i style="left:392px;width:4.3px;background:linear-gradient(#52fa7a,#59fb73,#71fe5f,#59fb73,#52fa7a,#59fb73,#e9d539,#f8721c,#b21a01,#c32503,#b21a01,#a11201,#b21a01,#ce2d04,#d63506,#ea4e0d,#e84b0c,#f8721c,#fa7b1f,#fe992c,#fdac34,#fc8725,#fea431,#fcb136,#fcb136,#fdae35,#eecf3a,#eecf3a,#d4e735,#dde037,#e3db38,#d4e735,#d9e436,#acfb38,#8fff49,#9ffd3f,#acfb38,#8fff49,#9cfe40,#a4fc3c,#9ffd3f,#88ff4e,#79fe59,#5dfc6f,#43f787,#52fa7a,#32f298,#2cf09e,#2ff19b,#19e2bb,#2cf09e,#1fe9af,#22ebaa,#18d9c8,#23c3e4,#19e2bb,#1ad4d0,#2eb4f2,#18e0bd,#1ccdd8,#1ad4d0,#27bee9,#23c3e4,#25c0e7,#33adf7,#23c3e4,#4099ff,#37a8fa,#448ffe,#3d9efe,#2eb4f2,#3e9bfe,#4778f0,#458afc,#3d9efe,#4391fe,#4682f8,#467df4,#458afc,#467df4,#4685fa,#467df4,#4664da,#4685fa,#476ee6,#4666dd,#4559cb,#477bf2,#4669e0,#4771e9,#4771e9,#458afc)"></i><i style="left:396px;width:4.3px;background:linear-gradient(#55fa76,#3ff68a,#3cf58e,#2cf09e,#43f787,#46f884,#dbe236,#f66c19,#ac1701,#c12302,#b71d02,#850702,#b71d02,#d02f05,#dd3d08,#e2430a,#f36315,#f05b12,#fb7e21,#fd8d27,#fea732,#fc8423,#fea933,#fcb336,#fea933,#fea933,#ebd339,#ebd339,#d2e935,#e1dd37,#e3db38,#d4e735,#d9e436,#b4f836,#a4fc3c,#96fe44,#bef434,#a7fc3a,#a4fc3c,#88ff4e,#8fff49,#6dfe62,#79fe59,#52fa7a,#59fb73,#4ef97d,#20eaac,#1fe9af,#35f394,#18dbc5,#1ce6b4,#19e3b9,#18d7ca,#18e0bd,#23c3e4,#18dec0,#18d7ca,#35abf8,#18dec0,#1fc9dd,#18dbc5,#2cb7f0,#28bceb,#2eb4f2,#2cb7f0,#28bceb,#3d9efe,#3e9bfe,#448ffe,#33adf7,#38a5fb,#4099ff,#4687fb,#458afc,#37a8fa,#4196ff,#4680f6,#4680f6,#4391fe,#477bf2,#466be3,#4773eb,#4666dd,#4680f6,#4661d6,#455ed3,#466be3,#477bf2,#4661d6,#4666dd,#4454c3,#4773eb)"></i><i style="left:400px;width:4.3px;background:linear-gradient(#59fb73,#1ae4b6,#19e3b9,#18ddc2,#20eaac,#52fa7a,#dde037,#f36315,#b71d02,#ac1701,#a41301,#950d01,#c32503,#ce2d04,#d23105,#f36315,#ef5811,#f26014,#fc8423,#fb7e21,#fea431,#fc8725,#fea130,#fdae35,#fea732,#fea130,#efcd3a,#e3db38,#d9e436,#dbe236,#e9d539,#e1dd37,#c8ef34,#acfb38,#b1f936,#80ff53,#c3f134,#a4fc3c,#a4fc3c,#a4fc3c,#8bff4b,#59fb73,#71fe5f,#61fc6c,#3ff68a,#46f884,#19e3b9,#20eaac,#2ff19b,#18e0bd,#22ebaa,#20eaac,#1ae4b6,#1fc9dd,#1ecbda,#18ddc2,#18dec0,#22c5e2,#19e2bb,#1ccdd8,#1ccdd8,#23c3e4,#23c3e4,#2fb2f4,#35abf8,#2fb2f4,#3ba0fd,#4687fb,#448ffe,#33adf7,#3e9bfe,#4099ff,#3e9bfe,#4776ee,#4294ff,#448ffe,#467df4,#4294ff,#448ffe,#477bf2,#458cfd,#4773eb,#466be3,#476ee6,#455ed3,#4669e0,#4661d6,#477bf2,#4771e9,#4661d6,#4451bf,#466be3)"></i><i style="left:404px;width:4.3px;background:linear-gradient(#69fd66,#69fd66,#69fd66,#61fc6c,#5dfc6f,#65fd69,#d2e935,#ec530f,#c12302,#b41b01,#880802,#920b01,#c82803,#c82803,#da3907,#f26014,#f26014,#ef5811,#fd8a26,#fc8725,#fe9029,#fe9029,#fea933,#fcb136,#fea732,#fea431,#efcd3a,#e1dd37,#d9e436,#e7d739,#dde037,#e5d938,#c3f134,#bef434,#acfb38,#acfb38,#bcf534,#a4fc3c,#99fe42,#a9fb39,#8bff4b,#5dfc6f,#79fe59,#4af880,#2ff19b,#59fb73,#1ae4b6,#25eca7,#55fa76,#18e0bd,#1fe9af,#18ddc2,#1ce6b4,#1de7b2,#1ad4d0,#1ad2d2,#1ad4d0,#1ccdd8,#1ad2d2,#18d9c8,#1ccdd8,#28bceb,#25c0e7,#2cb7f0,#2fb2f4,#3aa3fc,#35abf8,#3e9bfe,#4391fe,#3aa3fc,#4687fb,#4687fb,#4391fe,#4687fb,#4294ff,#458afc,#458cfd,#458afc,#4685fa,#4778f0,#4680f6,#4773eb,#4771e9,#4669e0,#466be3,#466be3,#466be3,#466be3,#455ccf,#4664da,#424bb5,#4685fa)"></i><i style="left:408px;width:4.3px;background:linear-gradient(#4ef97d,#27eea4,#20eaac,#2aefa1,#27eea4,#6dfe62,#c8ef34,#ed5510,#b41b01,#b21a01,#8b0902,#9b0f01,#c82803,#ca2a04,#e14109,#e84b0c,#f46617,#f8721c,#fd8a26,#fc8725,#fd8d27,#fe962b,#fea933,#fea933,#fea732,#fea130,#f5c53a,#e1dd37,#e1dd37,#c3f134,#dfdf37,#dbe236,#bcf534,#c1f334,#affa37,#affa37,#b4f836,#a7fc3a,#9ffd3f,#99fe42,#71fe5f,#6dfe62,#69fd66,#6dfe62,#25eca7,#43f787,#18d7ca,#32f298,#43f787,#18dbc5,#2ff19b,#1de7b2,#18d9c8,#20eaac,#1ccdd8,#18d7ca,#18e0bd,#20c7df,#19d5cd,#1bd0d5,#25c0e7,#28bceb,#27bee9,#27bee9,#25c0e7,#37a8fa,#2ab9ee,#4687fb,#3e9bfe,#4099ff,#4294ff,#4687fb,#4391fe,#4778f0,#448ffe,#4687fb,#4682f8,#4778f0,#4680f6,#4666dd,#4685fa,#4776ee,#467df4,#4666dd,#466be3,#4664da,#4666dd,#4773eb,#4664da,#455ed3,#4451bf,#455ccf)"></i><i style="left:412px;width:4.3px;background:linear-gradient(#6dfe62,#5dfc6f,#69fd66,#7dff56,#79fe59,#7dff56,#c6f034,#ea4e0d,#b21a01,#a41301,#950d01,#8b0902,#ca2a04,#cc2b04,#dd3d08,#e7490c,#f36315,#f76f1a,#fd8d27,#fc8423,#fe9029,#fea130,#fea431,#fea933,#fbb637,#fcb336,#e9d539,#d9e436,#e7d739,#d0ea34,#e9d539,#e3db38,#bef434,#c8ef34,#9cfe40,#a9fb39,#a7fc3a,#a1fd3d,#a1fd3d,#84ff51,#84ff51,#92ff47,#75fe5c,#5dfc6f,#2ff19b,#32f298,#1ae4b6,#2aefa1,#3ff68a,#22ebaa,#27eea4,#18ddc2,#19e3b9,#1ae4b6,#19d5cd,#1ad4d0,#18e0bd,#18d7ca,#18dbc5,#1fc9dd,#1fc9dd,#28bceb,#2eb4f2,#22c5e2,#20c7df,#3e9bfe,#3ba0fd,#448ffe,#4099ff,#37a8fa,#4687fb,#448ffe,#3e9bfe,#477bf2,#4391fe,#477bf2,#467df4,#467df4,#4778f0,#4771e9,#4778f0,#4661d6,#467df4,#4664da,#466be3,#4771e9,#4666dd,#4680f6,#4771e9,#4456c7,#4559cb,#476ee6)"></i><i style="left:416px;width:4.3px;background:linear-gradient(#71fe5f,#1ae4b6,#1bd0d5,#1ae4b6,#18dbc5,#88ff4e,#c8ef34,#f66c19,#b91e02,#b71d02,#810602,#8e0a01,#b71d02,#b21a01,#dc3b07,#e7490c,#ed5510,#ef5811,#fc8423,#fc8423,#fe9029,#fd8a26,#fcb336,#fea933,#faba39,#f7c13a,#e5d938,#ecd13a,#dde037,#d4e735,#dbe236,#cdec34,#bef434,#c8ef34,#99fe42,#b4f836,#acfb38,#a7fc3a,#92ff47,#7dff56,#8fff49,#79fe59,#75fe5c,#4ef97d,#46f884,#43f787,#25eca7,#2cf09e,#35f394,#22ebaa,#20eaac,#19e2bb,#1de7b2,#18d7ca,#1bd0d5,#18dbc5,#1ad2d2,#1bd0d5,#1ccdd8,#1ccdd8,#1ecbda,#2eb4f2,#38a5fb,#2fb2f4,#1ad2d2,#38a5fb,#2eb4f2,#4099ff,#3aa3fc,#4099ff,#4196ff,#458cfd,#4099ff,#4685fa,#4687fb,#477bf2,#4682f8,#4669e0,#4776ee,#467df4,#4682f8,#4773eb,#466be3,#4771e9,#4776ee,#4776ee,#476ee6,#476ee6,#4669e0,#466be3,#4040a2,#476ee6)"></i><i style="left:420px;width:4.3px;background:linear-gradient(#71fe5f,#38f491,#27eea4,#2cf09e,#35f394,#8bff4b,#d0ea34,#f8721c,#b71d02,#a71401,#9e1001,#a71401,#b41b01,#be2102,#df3f08,#ea4e0d,#ec530f,#f46617,#f66c19,#fc8423,#fc8725,#fea933,#fea933,#f4c73a,#f8be39,#fbb838,#e9d539,#e7d739,#e9d539,#e3db38,#e5d938,#c8ef34,#b9f635,#c3f134,#a1fd3d,#acfb38,#9cfe40,#8fff49,#a4fc3c,#80ff53,#8bff4b,#65fd69,#71fe5f,#59fb73,#4af880,#35f394,#2cf09e,#22ebaa,#2cf09e,#1ae4b6,#35f394,#20eaac,#18d9c8,#19e3b9,#23c3e4,#19e2bb,#22c5e2,#1ccdd8,#1ecbda,#22c5e2,#20c7df,#23c3e4,#37a8fa,#28bceb,#18dbc5,#38a5fb,#3ba0fd,#4391fe,#3e9bfe,#3e9bfe,#3d9efe,#458cfd,#3d9efe,#4682f8,#458cfd,#4687fb,#4778f0,#4685fa,#4687fb,#4776ee,#4778f0,#4680f6,#4666dd,#477bf2,#4664da,#458cfd,#4451bf,#4773eb,#4773eb,#4666dd,#4661d6,#476ee6)"></i><i style="left:424px;width:4.3px;background:linear-gradient(#61fc6c,#71fe5f,#55fa76,#46f884,#69fd66,#71fe5f,#cdec34,#f36315,#af1801,#a41301,#9e1001,#a71401,#c32503,#bc2002,#d43305,#e4450a,#f46617,#fd8a26,#fd8a26,#fb8122,#f9781e,#fe9b2d,#fea431,#efcd3a,#f7c13a,#faba39,#e7d739,#f4c73a,#e7d739,#e9d539,#e5d938,#c8ef34,#cdec34,#bcf534,#8bff4b,#a7fc3a,#9cfe40,#9cfe40,#99fe42,#75fe5c,#9cfe40,#69fd66,#65fd69,#5dfc6f,#69fd66,#2ff19b,#2cf09e,#1de7b2,#35f394,#19e2bb,#2ff19b,#18d7ca,#18e0bd,#18e0bd,#2ab9ee,#18d9c8,#1ad2d2,#1ecbda,#1ccdd8,#1fc9dd,#1fc9dd,#2ab9ee,#3d9efe,#25c0e7,#18d9c8,#3e9bfe,#4196ff,#38a5fb,#4687fb,#3ba0fd,#4294ff,#4685fa,#38a5fb,#458cfd,#458afc,#4685fa,#4685fa,#4773eb,#4682f8,#4685fa,#4687fb,#466be3,#476ee6,#476ee6,#4666dd,#448ffe,#434eba,#4680f6,#4776ee,#4456c7,#4666dd,#4771e9)"></i><i style="left:428px;width:4.3px;background:linear-gradient(#5dfc6f,#1fe9af,#20eaac,#27eea4,#27eea4,#5dfc6f,#c8ef34,#f9781e,#c32503,#a91601,#af1801,#af1801,#c32503,#b71d02,#d23105,#ea4e0d,#ef5811,#f9751d,#f9751d,#fe992c,#fc8423,#fcb136,#fe9e2f,#f5c53a,#f2c93a,#f8be39,#efcd3a,#eecf3a,#e7d739,#e5d938,#dbe236,#d7e535,#dfdf37,#cdec34,#96fe44,#acfb38,#a7fc3a,#92ff47,#99fe42,#84ff51,#a4fc3c,#7dff56,#6dfe62,#59fb73,#79fe59,#35f394,#25eca7,#22ebaa,#32f298,#1de7b2,#1fe9af,#19e3b9,#18dbc5,#19e2bb,#22c5e2,#1bd0d5,#22c5e2,#2eb4f2,#23c3e4,#1ecbda,#1ccdd8,#28bceb,#35abf8,#23c3e4,#18ddc2,#31aff5,#4196ff,#4196ff,#4099ff,#4099ff,#448ffe,#4687fb,#3d9efe,#458afc,#4294ff,#4680f6,#467df4,#4778f0,#4685fa,#4294ff,#4773eb,#4771e9,#4454c3,#4680f6,#4771e9,#477bf2,#4456c7,#4778f0,#467df4,#4451bf,#4666dd,#4661d6)"></i><i style="left:432px;width:4.3px;background:linear-gradient(#55fa76,#19e2bb,#20eaac,#18ddc2,#18dec0,#65fd69,#d7e535,#f26014,#c32503,#a91601,#a11201,#ac1701,#ac1701,#bc2002,#e4450a,#ed5510,#ec530f,#f8721c,#fa7b1f,#fc8423,#fc8725,#fea130,#fea431,#f5c53a,#f7c13a,#fbb637,#e5d938,#e7d739,#efcd3a,#dfdf37,#d4e735,#d9e436,#d0ea34,#c3f134,#a7fc3a,#b9f635,#9ffd3f,#a7fc3a,#92ff47,#88ff4e,#96fe44,#69fd66,#80ff53,#46f884,#5dfc6f,#27eea4,#3cf58e,#19e2bb,#1de7b2,#27eea4,#25eca7,#19e3b9,#19e3b9,#19e2bb,#19d5cd,#1ecbda,#1fc9dd,#22c5e2,#1ecbda,#28bceb,#25c0e7,#2eb4f2,#33adf7,#25c0e7,#1ecbda,#33adf7,#4099ff,#4099ff,#3ba0fd,#4680f6,#4099ff,#4685fa,#4099ff,#4687fb,#3e9bfe,#4773eb,#467df4,#4196ff,#467df4,#4391fe,#4680f6,#477bf2,#4249b1,#458afc,#455ed3,#4776ee,#4661d6,#4687fb,#4771e9,#4456c7,#4559cb,#4669e0)"></i><i style="left:436px;width:4.3px;background:linear-gradient(#65fd69,#65fd69,#59fb73,#4ef97d,#55fa76,#5dfc6f,#d4e735,#f8721c,#cc2b04,#bc2002,#920b01,#ac1701,#b91e02,#c52603,#e5470b,#e7490c,#f05b12,#f9751d,#f8721c,#fea130,#fb7e21,#fdac34,#fdae35,#fbb838,#faba39,#f8be39,#e7d739,#f4c73a,#dfdf37,#d7e535,#d0ea34,#e1dd37,#c6f034,#b9f635,#bef434,#9cfe40,#9ffd3f,#92ff47,#75fe5c,#88ff4e,#84ff51,#5dfc6f,#65fd69,#52fa7a,#43f787,#35f394,#32f298,#1ae4b6,#20eaac,#18dec0,#22ebaa,#1fe9af,#19e3b9,#1ce6b4,#27bee9,#2ab9ee,#20c7df,#1ccdd8,#23c3e4,#27bee9,#2ab9ee,#2fb2f4,#2fb2f4,#2eb4f2,#31aff5,#38a5fb,#3d9efe,#33adf7,#3d9efe,#458cfd,#4099ff,#458cfd,#4687fb,#4685fa,#4682f8,#448ffe,#4680f6,#458afc,#4687fb,#4196ff,#477bf2,#467df4,#455ed3,#448ffe,#476ee6,#4773eb,#455ed3,#4687fb,#476ee6,#4451bf,#455ccf,#476ee6)"></i><i style="left:440px;width:4.3px;background:linear-gradient(#79fe59,#18e0bd,#1fe9af,#22ebaa,#22ebaa,#61fc6c,#d0ea34,#f15d13,#c82803,#a41301,#8e0a01,#a91601,#a41301,#ce2d04,#e5470b,#e2430a,#ed5510,#f26014,#ef5811,#fea431,#fe932a,#fea732,#fea431,#f9bc39,#faba39,#f2c93a,#eecf3a,#f7c13a,#f8be39,#dfdf37,#cdec34,#e1dd37,#bef434,#bcf534,#bef434,#a1fd3d,#acfb38,#8fff49,#84ff51,#92ff47,#80ff53,#3ff68a,#55fa76,#5dfc6f,#4ef97d,#25eca7,#3cf58e,#25eca7,#1de7b2,#1ae4b6,#2aefa1,#2cf09e,#19e2bb,#18ddc2,#18d7ca,#27bee9,#1fc9dd,#20c7df,#1ccdd8,#22c5e2,#2ab9ee,#38a5fb,#2ab9ee,#2ab9ee,#37a8fa,#2ab9ee,#35abf8,#3e9bfe,#4196ff,#3d9efe,#3aa3fc,#4687fb,#448ffe,#4778f0,#458cfd,#467df4,#4773eb,#4099ff,#4687fb,#4294ff,#476ee6,#4778f0,#455ed3,#4099ff,#4664da,#476ee6,#467df4,#4294ff,#455ccf,#455ed3,#4664da,#455ed3)"></i><i style="left:444px;width:4.3px;background:linear-gradient(#5dfc6f,#19d5cd,#1de7b2,#18dec0,#2aefa1,#69fd66,#e3db38,#ec530f,#ca2a04,#c12302,#810602,#b41b01,#a71401,#d43305,#f05b12,#df3f08,#ec530f,#f05b12,#f36315,#fe932a,#fe9e2f,#fe9e2f,#fea130,#fbb637,#faba39,#f4c73a,#e9d539,#f6c33a,#f8be39,#d7e535,#d2e935,#d9e436,#c1f334,#b1f936,#b9f635,#92ff47,#92ff47,#8fff49,#88ff4e,#92ff47,#88ff4e,#3cf58e,#4ef97d,#46f884,#35f394,#38f491,#55fa76,#27eea4,#19e2bb,#1ce6b4,#2cf09e,#25eca7,#1ae4b6,#18d9c8,#19d5cd,#20c7df,#18d7ca,#22c5e2,#28bceb,#1fc9dd,#31aff5,#38a5fb,#37a8fa,#28bceb,#4099ff,#2fb2f4,#38a5fb,#4196ff,#4391fe,#35abf8,#4294ff,#467df4,#458afc,#4391fe,#4294ff,#458afc,#4771e9,#3ba0fd,#4687fb,#4680f6,#4778f0,#477bf2,#455ccf,#4391fe,#467df4,#4771e9,#4771e9,#4687fb,#455ccf,#4680f6,#4661d6,#455ed3)"></i><i style="left:448px;width:4.3px;background:linear-gradient(#75fe5c,#25eca7,#20eaac,#2aefa1,#27eea4,#65fd69,#e9d539,#ef5811,#c52603,#b21a01,#a11201,#a91601,#a41301,#c32503,#e84b0c,#d63506,#f66c19,#f36315,#fb7e21,#fe992c,#fd8a26,#fe992c,#fbb838,#fdae35,#f6c33a,#f8be39,#eecf3a,#f2c93a,#efcd3a,#d4e735,#cbed34,#d7e535,#affa37,#b9f635,#a4fc3c,#c1f334,#99fe42,#96fe44,#8fff49,#80ff53,#65fd69,#2aefa1,#3ff68a,#7dff56,#3ff68a,#5dfc6f,#4ef97d,#2ff19b,#1de7b2,#18d9c8,#1fe9af,#38f491,#18d7ca,#18d7ca,#19d5cd,#1bd0d5,#27bee9,#1bd0d5,#23c3e4,#1fc9dd,#2fb2f4,#37a8fa,#25c0e7,#2cb7f0,#4099ff,#2fb2f4,#37a8fa,#4391fe,#33adf7,#37a8fa,#3e9bfe,#458cfd,#4687fb,#4685fa,#458afc,#458afc,#4778f0,#4391fe,#4773eb,#4776ee,#477bf2,#4685fa,#4773eb,#4687fb,#4680f6,#477bf2,#4669e0,#4680f6,#455ccf,#4776ee,#4451bf,#455ccf)"></i><i style="left:452px;width:4.3px;background:linear-gradient(#52fa7a,#5dfc6f,#65fd69,#65fd69,#79fe59,#61fc6c,#e3db38,#e84b0c,#ca2a04,#b21a01,#9e1001,#a91601,#ac1701,#d43305,#e5470b,#dd3d08,#ef5811,#f26014,#f9751d,#fd8d27,#fe9029,#fe992c,#fcb136,#fea933,#f9bc39,#fdae35,#f2c93a,#f1cb3a,#ecd13a,#dde037,#cbed34,#cdec34,#bcf534,#cbed34,#b4f836,#b9f635,#99fe42,#a4fc3c,#7dff56,#92ff47,#61fc6c,#3cf58e,#43f787,#7dff56,#3cf58e,#32f298,#38f491,#2cf09e,#1ae4b6,#18e0bd,#1ae4b6,#38f491,#1de7b2,#18dbc5,#18d7ca,#18d7ca,#22c5e2,#1ad4d0,#25c0e7,#1ad2d2,#3aa3fc,#31aff5,#20c7df,#2eb4f2,#3ba0fd,#3aa3fc,#37a8fa,#3ba0fd,#3ba0fd,#3ba0fd,#4099ff,#458afc,#4776ee,#3e9bfe,#4294ff,#4685fa,#476ee6,#3e9bfe,#4682f8,#4669e0,#4685fa,#458cfd,#4666dd,#448ffe,#4778f0,#4776ee,#4669e0,#467df4,#4559cb,#458cfd,#4454c3,#434eba)"></i><i style="left:456px;width:4.3px;background:linear-gradient(#61fc6c,#4ef97d,#65fd69,#55fa76,#6dfe62,#59fb73,#f1cb3a,#da3907,#ca2a04,#b21a01,#9e1001,#950d01,#be2102,#ca2a04,#e84b0c,#da3907,#ea4e0d,#f15d13,#fb7e21,#fc8423,#fe932a,#fe9029,#fdae35,#fbb637,#f1cb3a,#fcb336,#faba39,#e9d539,#e5d938,#dde037,#d0ea34,#d2e935,#b9f635,#c3f134,#b7f735,#a9fb39,#88ff4e,#9ffd3f,#75fe5c,#79fe59,#52fa7a,#46f884,#43f787,#61fc6c,#3cf58e,#43f787,#46f884,#32f298,#19e3b9,#19e3b9,#1de7b2,#25eca7,#20eaac,#19e2bb,#18dec0,#18dbc5,#1ccdd8,#18d7ca,#1fc9dd,#19d5cd,#37a8fa,#37a8fa,#20c7df,#22c5e2,#4294ff,#4196ff,#37a8fa,#458afc,#3aa3fc,#4391fe,#458afc,#4682f8,#4685fa,#38a5fb,#3d9efe,#4687fb,#477bf2,#4685fa,#4778f0,#4682f8,#458afc,#4687fb,#466be3,#4773eb,#4773eb,#476ee6,#4682f8,#4666dd,#4666dd,#448ffe,#4661d6,#455ccf)"></i><i style="left:460px;width:4.3px;background:linear-gradient(#4af880,#46f884,#4ef97d,#4ef97d,#71fe5f,#55fa76,#f4c73a,#e14109,#cc2b04,#c12302,#a11201,#a91601,#be2102,#b91e02,#e84b0c,#d63506,#ea4e0d,#f15d13,#f9781e,#f8721c,#fe9e2f,#fe932a,#faba39,#f9bc39,#f8be39,#fcb336,#f8be39,#e5d938,#dde037,#e9d539,#cdec34,#cdec34,#b7f735,#c6f034,#c3f134,#acfb38,#99fe42,#92ff47,#75fe5c,#84ff51,#71fe5f,#4ef97d,#61fc6c,#69fd66,#55fa76,#65fd69,#2ff19b,#3cf58e,#19e2bb,#18d9c8,#1de7b2,#1fe9af,#1de7b2,#1bd0d5,#18d7ca,#18dec0,#2cb7f0,#1ecbda,#22c5e2,#19e2bb,#33adf7,#35abf8,#31aff5,#2cb7f0,#4196ff,#4196ff,#37a8fa,#4196ff,#3e9bfe,#4687fb,#458cfd,#4680f6,#4099ff,#3d9efe,#3aa3fc,#458afc,#4778f0,#4391fe,#458afc,#458cfd,#4687fb,#4391fe,#4771e9,#4778f0,#448ffe,#4776ee,#4771e9,#466be3,#4669e0,#458afc,#424bb5,#4454c3)"></i><i style="left:464px;width:4.3px;background:linear-gradient(#55fa76,#71fe5f,#69fd66,#65fd69,#61fc6c,#6dfe62,#f4c73a,#dc3b07,#d02f05,#a91601,#8e0a01,#af1801,#ca2a04,#d43305,#d83706,#dd3d08,#f36315,#f9781e,#fb7e21,#f9781e,#fe9b2d,#fe962b,#fbb637,#f2c93a,#f1cb3a,#fcb336,#f2c93a,#e7d739,#ebd339,#ebd339,#d2e935,#bcf534,#c3f134,#b9f635,#bcf534,#9cfe40,#b4f836,#8fff49,#6dfe62,#88ff4e,#8fff49,#55fa76,#61fc6c,#55fa76,#55fa76,#43f787,#2ff19b,#46f884,#25eca7,#18e0bd,#18e0bd,#18e0bd,#1ce6b4,#18ddc2,#1ecbda,#19e3b9,#20c7df,#1ccdd8,#1fc9dd,#18dec0,#38a5fb,#31aff5,#20c7df,#2ab9ee,#3aa3fc,#4196ff,#38a5fb,#3aa3fc,#4685fa,#4196ff,#467df4,#458cfd,#4294ff,#38a5fb,#31aff5,#448ffe,#477bf2,#458cfd,#4391fe,#4196ff,#458afc,#448ffe,#4559cb,#4771e9,#4685fa,#4776ee,#4778f0,#4664da,#455ccf,#4391fe,#424bb5,#4666dd)"></i><i style="left:468px;width:4.3px;background:linear-gradient(#61fc6c,#59fb73,#6dfe62,#5dfc6f,#69fd66,#6dfe62,#fbb838,#dd3d08,#ca2a04,#a41301,#ac1701,#b91e02,#b21a01,#ce2d04,#df3f08,#e14109,#ec530f,#f9781e,#fb7e21,#f9751d,#fd8d27,#fea431,#faba39,#fcb336,#f4c73a,#fdae35,#f9bc39,#e5d938,#e5d938,#e1dd37,#c3f134,#c8ef34,#b7f735,#b7f735,#c3f134,#80ff53,#c6f034,#a4fc3c,#79fe59,#8fff49,#79fe59,#75fe5c,#4af880,#5dfc6f,#6dfe62,#27eea4,#3ff68a,#5dfc6f,#27eea4,#1ce6b4,#1ae4b6,#18dec0,#1ad4d0,#18ddc2,#1fc9dd,#1ae4b6,#18d9c8,#22c5e2,#1ccdd8,#18e0bd,#35abf8,#37a8fa,#27bee9,#23c3e4,#2ab9ee,#37a8fa,#3e9bfe,#3d9efe,#458cfd,#4391fe,#4687fb,#4196ff,#3e9bfe,#3e9bfe,#3aa3fc,#38a5fb,#467df4,#3e9bfe,#458cfd,#3e9bfe,#458afc,#4391fe,#4669e0,#455ccf,#458cfd,#4773eb,#4666dd,#455ed3,#4666dd,#477bf2,#455ccf,#476ee6)"></i><i style="left:472px;width:4.3px;background:linear-gradient(#61fc6c,#8fff49,#5dfc6f,#61fc6c,#61fc6c,#61fc6c,#f2c93a,#e5470b,#b91e02,#ac1701,#b21a01,#c32503,#b71d02,#c12302,#df3f08,#e4450a,#eb500e,#fa7b1f,#fb7e21,#f8721c,#fc8423,#fe962b,#fea933,#fdae35,#f5c53a,#fbb838,#eecf3a,#ebd339,#e7d739,#d9e436,#dbe236,#d4e735,#b4f836,#b4f836,#c3f134,#88ff4e,#bef434,#a4fc3c,#92ff47,#80ff53,#9ffd3f,#4ef97d,#5dfc6f,#6dfe62,#55fa76,#2aefa1,#4af880,#55fa76,#35f394,#20eaac,#18e0bd,#19e3b9,#19e3b9,#19d5cd,#1ecbda,#19d5cd,#1bd0d5,#25c0e7,#22c5e2,#18dbc5,#31aff5,#2ab9ee,#27bee9,#28bceb,#3ba0fd,#3aa3fc,#38a5fb,#33adf7,#458cfd,#4099ff,#4682f8,#448ffe,#448ffe,#31aff5,#4294ff,#38a5fb,#4685fa,#4391fe,#467df4,#458cfd,#448ffe,#448ffe,#466be3,#476ee6,#448ffe,#466be3,#455ed3,#455ed3,#476ee6,#477bf2,#4451bf,#4666dd)"></i><i style="left:476px;width:4.3px;background:linear-gradient(#6dfe62,#71fe5f,#5dfc6f,#75fe5c,#65fd69,#61fc6c,#f7c13a,#dd3d08,#c52603,#9e1001,#b21a01,#c82803,#a91601,#b71d02,#df3f08,#e14109,#f15d13,#f36315,#f9751d,#f8721c,#f9751d,#fbb838,#fcb336,#fdae35,#f4c73a,#faba39,#f2c93a,#ecd13a,#ecd13a,#dde037,#e3db38,#d7e535,#a9fb39,#b1f936,#b7f735,#96fe44,#bcf534,#a7fc3a,#a4fc3c,#75fe5c,#99fe42,#61fc6c,#6dfe62,#75fe5c,#3ff68a,#25eca7,#4ef97d,#4ef97d,#38f491,#25eca7,#19e2bb,#25eca7,#18dec0,#18d9c8,#20c7df,#19d5cd,#18dec0,#1fc9dd,#22c5e2,#18dec0,#37a8fa,#33adf7,#1ccdd8,#2eb4f2,#33adf7,#37a8fa,#3aa3fc,#3aa3fc,#2eb4f2,#3aa3fc,#458cfd,#4391fe,#3d9efe,#4294ff,#4196ff,#37a8fa,#4196ff,#3d9efe,#477bf2,#4294ff,#4682f8,#467df4,#466be3,#466be3,#4294ff,#4771e9,#466be3,#4771e9,#4666dd,#4778f0,#455ed3,#434eba)"></i><i style="left:480px;width:4.3px;background:linear-gradient(#69fd66,#59fb73,#5dfc6f,#55fa76,#61fc6c,#5dfc6f,#f1cb3a,#e5470b,#a91601,#980e01,#a91601,#b71d02,#9b0f01,#c32503,#e14109,#e4450a,#ed5510,#f56918,#fc8725,#fc8423,#fc8725,#fea130,#fe9e2f,#fea732,#f2c93a,#faba39,#f5c53a,#e3db38,#efcd3a,#ebd339,#dfdf37,#d0ea34,#c3f134,#b7f735,#b9f635,#8bff4b,#c8ef34,#99fe42,#b1f936,#80ff53,#a9fb39,#69fd66,#55fa76,#8fff49,#59fb73,#27eea4,#3cf58e,#52fa7a,#3cf58e,#2aefa1,#1ce6b4,#20eaac,#19e3b9,#18ddc2,#1ad4d0,#18dbc5,#18dec0,#25c0e7,#1ad4d0,#1ad2d2,#2cb7f0,#37a8fa,#3aa3fc,#2eb4f2,#3ba0fd,#3e9bfe,#4196ff,#2eb4f2,#3ba0fd,#3aa3fc,#4773eb,#4294ff,#3aa3fc,#458afc,#458cfd,#4196ff,#458afc,#4196ff,#4773eb,#4778f0,#467df4,#4682f8,#4771e9,#477bf2,#458afc,#4680f6,#4773eb,#477bf2,#476ee6,#466be3,#4666dd,#455ccf)"></i><i style="left:484px;width:4.3px;background:linear-gradient(#61fc6c,#79fe59,#59fb73,#5dfc6f,#4ef97d,#4ef97d,#faba39,#df3f08,#b41b01,#9b0f01,#9e1001,#920b01,#a11201,#cc2b04,#e2430a,#e7490c,#ea4e0d,#f46617,#fd8d27,#fc8423,#fc8725,#fe932a,#fea130,#fb7e21,#f6c33a,#faba39,#f6c33a,#e5d938,#e9d539,#ecd13a,#dde037,#c1f334,#b1f936,#b4f836,#b1f936,#a7fc3a,#b9f635,#9ffd3f,#b1f936,#8bff4b,#99fe42,#59fb73,#61fc6c,#75fe5c,#4af880,#32f298,#3cf58e,#4ef97d,#2ff19b,#22ebaa,#18e0bd,#27eea4,#18dec0,#18d9c8,#1ccdd8,#18dbc5,#18d7ca,#1bd0d5,#1fc9dd,#1fc9dd,#1ecbda,#28bceb,#33adf7,#38a5fb,#4196ff,#4391fe,#4196ff,#3aa3fc,#2fb2f4,#4099ff,#4682f8,#4196ff,#3ba0fd,#4682f8,#3d9efe,#4294ff,#4773eb,#4294ff,#4687fb,#4685fa,#4687fb,#4680f6,#4680f6,#467df4,#477bf2,#4664da,#467df4,#4778f0,#4669e0,#4776ee,#4771e9,#455ed3)"></i><i style="left:488px;width:4.3px;background:linear-gradient(#80ff53,#7dff56,#55fa76,#65fd69,#6dfe62,#5dfc6f,#fea933,#ed5510,#ac1701,#9b0f01,#a11201,#a71401,#a91601,#bc2002,#d63506,#e4450a,#ec530f,#f66c19,#fe9b2d,#fc8725,#fd8d27,#fe962b,#fea933,#fe962b,#f6c33a,#f9bc39,#f2c93a,#f1cb3a,#e7d739,#e9d539,#dde037,#b9f635,#bcf534,#cbed34,#b1f936,#9cfe40,#acfb38,#96fe44,#a4fc3c,#88ff4e,#9cfe40,#65fd69,#5dfc6f,#88ff4e,#52fa7a,#25eca7,#2ff19b,#4ef97d,#2aefa1,#32f298,#1ce6b4,#1ae4b6,#18ddc2,#1ae4b6,#18d9c8,#20eaac,#19e3b9,#23c3e4,#28bceb,#1ecbda,#23c3e4,#2fb2f4,#3d9efe,#3aa3fc,#3d9efe,#458afc,#38a5fb,#37a8fa,#35abf8,#2ab9ee,#467df4,#4685fa,#3e9bfe,#4687fb,#4391fe,#4196ff,#4685fa,#458cfd,#4680f6,#467df4,#4778f0,#4687fb,#4773eb,#4773eb,#4680f6,#4773eb,#458afc,#4682f8,#4776ee,#4771e9,#4680f6,#455ed3)"></i><i style="left:492px;width:4.3px;background:linear-gradient(#59fb73,#65fd69,#6dfe62,#61fc6c,#65fd69,#35f394,#fcb336,#e5470b,#a71401,#b91e02,#920b01,#a41301,#b21a01,#be2102,#da3907,#e5470b,#e5470b,#eb500e,#fe992c,#fd8d27,#fa7b1f,#fdac34,#fe9e2f,#fea732,#fcb336,#f7c13a,#f8be39,#ecd13a,#e7d739,#e7d739,#dfdf37,#bcf534,#c3f134,#d0ea34,#a7fc3a,#a1fd3d,#b7f735,#9ffd3f,#b7f735,#8bff4b,#8bff4b,#46f884,#65fd69,#79fe59,#52fa7a,#22ebaa,#2aefa1,#35f394,#35f394,#22ebaa,#2aefa1,#18e0bd,#18e0bd,#22ebaa,#18dec0,#19e3b9,#1ae4b6,#18d9c8,#1fc9dd,#25c0e7,#31aff5,#23c3e4,#2cb7f0,#2eb4f2,#2eb4f2,#4294ff,#31aff5,#31aff5,#23c3e4,#38a5fb,#458afc,#4773eb,#3e9bfe,#4687fb,#35abf8,#4391fe,#4778f0,#4294ff,#4776ee,#458afc,#4773eb,#4778f0,#466be3,#467df4,#476ee6,#4680f6,#3aa3fc,#4771e9,#467df4,#466be3,#4778f0,#4773eb)"></i><i style="left:496px;width:4.3px;background:linear-gradient(#7dff56,#69fd66,#71fe5f,#55fa76,#75fe5c,#43f787,#fea431,#dd3d08,#a11201,#ac1701,#b91e02,#980e01,#bc2002,#ac1701,#dd3d08,#ec530f,#e4450a,#f26014,#fe992c,#fe9029,#fa7b1f,#fea431,#fea130,#fe9e2f,#f8be39,#f8be39,#f5c53a,#e9d539,#f2c93a,#e5d938,#dfdf37,#c8ef34,#d0ea34,#d2e935,#8fff49,#a9fb39,#affa37,#92ff47,#99fe42,#79fe59,#80ff53,#4af880,#5dfc6f,#71fe5f,#59fb73,#2ff19b,#46f884,#2aefa1,#35f394,#25eca7,#25eca7,#18e0bd,#18ddc2,#22ebaa,#18e0bd,#1fe9af,#1fe9af,#20c7df,#1bd0d5,#23c3e4,#25c0e7,#2ab9ee,#2eb4f2,#22c5e2,#3aa3fc,#4099ff,#35abf8,#31aff5,#27bee9,#35abf8,#458cfd,#4687fb,#3aa3fc,#4196ff,#27bee9,#458cfd,#458cfd,#4294ff,#4776ee,#467df4,#4773eb,#467df4,#477bf2,#4685fa,#4776ee,#4773eb,#458cfd,#477bf2,#4682f8,#4771e9,#4778f0,#476ee6)"></i><i style="left:500px;width:4.3px;background:linear-gradient(#3ff68a,#7dff56,#4ef97d,#69fd66,#59fb73,#46f884,#fdae35,#df3f08,#a41301,#a91601,#b91e02,#950d01,#be2102,#b91e02,#dc3b07,#ec530f,#e84b0c,#f56918,#fe932a,#f8721c,#fb8122,#fea130,#fea130,#fcb336,#fdac34,#f8be39,#fbb838,#e9d539,#f2c93a,#e7d739,#dbe236,#c8ef34,#d0ea34,#d7e535,#96fe44,#bef434,#bcf534,#a7fc3a,#b4f836,#8fff49,#8bff4b,#75fe5c,#55fa76,#3ff68a,#3cf58e,#22ebaa,#55fa76,#1de7b2,#38f491,#19e2bb,#2cf09e,#1ce6b4,#18d7ca,#20eaac,#18dbc5,#1ae4b6,#1de7b2,#1fc9dd,#18dec0,#1fc9dd,#25c0e7,#27bee9,#27bee9,#31aff5,#2fb2f4,#3d9efe,#33adf7,#35abf8,#2ab9ee,#31aff5,#4099ff,#4680f6,#4294ff,#458cfd,#31aff5,#448ffe,#458afc,#3e9bfe,#3d9efe,#4778f0,#477bf2,#4680f6,#4669e0,#4773eb,#4773eb,#4771e9,#4682f8,#4778f0,#4685fa,#476ee6,#466be3,#476ee6)"></i><i style="left:504px;width:4.3px;background:linear-gradient(#69fd66,#75fe5c,#71fe5f,#65fd69,#71fe5f,#43f787,#fdae35,#c82803,#a41301,#b41b01,#a71401,#920b01,#a91601,#a91601,#dd3d08,#e84b0c,#e7490c,#f46617,#fe932a,#f46617,#f76f1a,#fe962b,#fe9029,#fcb336,#f6c33a,#f5c53a,#fdac34,#ebd339,#f2c93a,#e5d938,#dbe236,#d7e535,#cbed34,#c3f134,#a4fc3c,#a4fc3c,#b9f635,#a4fc3c,#8fff49,#88ff4e,#80ff53,#80ff53,#61fc6c,#4ef97d,#61fc6c,#32f298,#4ef97d,#2aefa1,#2cf09e,#22ebaa,#35f394,#18e0bd,#18ddc2,#22ebaa,#19e3b9,#1ad2d2,#1de7b2,#1ad4d0,#18dec0,#1ad2d2,#1ecbda,#31aff5,#31aff5,#2eb4f2,#3aa3fc,#35abf8,#2ab9ee,#37a8fa,#38a5fb,#31aff5,#31aff5,#4680f6,#4099ff,#4687fb,#38a5fb,#4682f8,#4687fb,#35abf8,#4196ff,#4685fa,#4680f6,#4685fa,#4773eb,#477bf2,#4776ee,#4773eb,#467df4,#4666dd,#4685fa,#4664da,#4778f0,#4773eb)"></i><i style="left:508px;width:4.3px;background:linear-gradient(#59fb73,#75fe5c,#5dfc6f,#61fc6c,#6dfe62,#55fa76,#fea933,#d63506,#b71d02,#9b0f01,#b21a01,#9e1001,#b21a01,#b41b01,#df3f08,#f15d13,#f05b12,#f26014,#fd8a26,#f9781e,#f9751d,#fa7b1f,#fe9b2d,#f9bc39,#f6c33a,#eecf3a,#f7c13a,#efcd3a,#f1cb3a,#dde037,#dbe236,#cbed34,#cdec34,#c3f134,#b1f936,#c1f334,#c8ef34,#a1fd3d,#84ff51,#99fe42,#80ff53,#99fe42,#5dfc6f,#52fa7a,#61fc6c,#3cf58e,#4af880,#35f394,#3ff68a,#25eca7,#38f491,#22ebaa,#1ad4d0,#1ce6b4,#20eaac,#1ad4d0,#20eaac,#1ad2d2,#25eca7,#1ad4d0,#1bd0d5,#33adf7,#2cb7f0,#2eb4f2,#31aff5,#28bceb,#25c0e7,#38a5fb,#3d9efe,#27bee9,#33adf7,#477bf2,#3ba0fd,#3d9efe,#3d9efe,#458cfd,#458cfd,#37a8fa,#448ffe,#458afc,#466be3,#467df4,#4661d6,#4687fb,#467df4,#4666dd,#4680f6,#4664da,#4687fb,#4661d6,#4771e9,#476ee6)"></i><i style="left:512px;width:4.3px;background:linear-gradient(#75fe5c,#59fb73,#71fe5f,#84ff51,#79fe59,#6dfe62,#fdae35,#ca2a04,#a71401,#9b0f01,#a91601,#920b01,#b41b01,#bc2002,#df3f08,#ea4e0d,#f15d13,#ed5510,#fa7b1f,#fc8423,#fc8725,#fc8725,#fe932a,#f9bc39,#f4c73a,#f1cb3a,#efcd3a,#e3db38,#efcd3a,#d4e735,#d4e735,#d2e935,#c1f334,#c6f034,#a9fb39,#cdec34,#b7f735,#9cfe40,#7dff56,#79fe59,#88ff4e,#88ff4e,#52fa7a,#4ef97d,#75fe5c,#46f884,#43f787,#2ff19b,#3ff68a,#27eea4,#32f298,#2aefa1,#18d9c8,#19e2bb,#27eea4,#18d7ca,#1de7b2,#18d7ca,#1ce6b4,#18ddc2,#18d7ca,#37a8fa,#28bceb,#31aff5,#2fb2f4,#22c5e2,#25c0e7,#27bee9,#35abf8,#2cb7f0,#2fb2f4,#477bf2,#4099ff,#2eb4f2,#3e9bfe,#448ffe,#3e9bfe,#3d9efe,#4099ff,#4099ff,#4776ee,#4687fb,#4776ee,#4680f6,#467df4,#4778f0,#4685fa,#4776ee,#4687fb,#4773eb,#476ee6,#4669e0)"></i><i style="left:516px;width:4.3px;background:linear-gradient(#52fa7a,#61fc6c,#5dfc6f,#52fa7a,#71fe5f,#7dff56,#fea130,#b71d02,#a11201,#810602,#b21a01,#810602,#b91e02,#c32503,#dd3d08,#ec530f,#f66c19,#f15d13,#fc8725,#fe9029,#fb8122,#fd8d27,#fa7b1f,#faba39,#faba39,#f7c13a,#eecf3a,#efcd3a,#f9bc39,#e1dd37,#dde037,#d2e935,#affa37,#b1f936,#b9f635,#d7e535,#c3f134,#88ff4e,#8fff49,#79fe59,#80ff53,#80ff53,#75fe5c,#43f787,#80ff53,#4ef97d,#4af880,#35f394,#2ff19b,#3cf58e,#25eca7,#2cf09e,#18d9c8,#20eaac,#22ebaa,#18d7ca,#2aefa1,#19e3b9,#1ad4d0,#19d5cd,#1ad4d0,#2eb4f2,#28bceb,#2cb7f0,#31aff5,#2ab9ee,#27bee9,#27bee9,#31aff5,#2cb7f0,#33adf7,#4682f8,#38a5fb,#37a8fa,#3ba0fd,#4099ff,#448ffe,#3ba0fd,#458cfd,#4294ff,#4773eb,#467df4,#477bf2,#4685fa,#4680f6,#4778f0,#4776ee,#4661d6,#458cfd,#476ee6,#4669e0,#4776ee)"></i><i style="left:520px;width:4.3px;background:linear-gradient(#69fd66,#5dfc6f,#80ff53,#65fd69,#65fd69,#8bff4b,#fe992c,#c32503,#8e0a01,#7a0403,#a11201,#980e01,#be2102,#b41b01,#d63506,#e7490c,#f9751d,#f15d13,#f76f1a,#fea130,#fd8a26,#fe932a,#fd8a26,#f6c33a,#f6c33a,#f5c53a,#e9d539,#eecf3a,#eecf3a,#dde037,#d9e436,#cbed34,#c1f334,#b1f936,#b1f936,#bef434,#b4f836,#96fe44,#92ff47,#79fe59,#7dff56,#84ff51,#61fc6c,#52fa7a,#55fa76,#4af880,#75fe5c,#43f787,#2ff19b,#4ef97d,#38f491,#2ff19b,#18d9c8,#27eea4,#18e0bd,#1ae4b6,#18dec0,#18d9c8,#19e3b9,#19d5cd,#18dbc5,#28bceb,#2fb2f4,#28bceb,#37a8fa,#2fb2f4,#27bee9,#2ab9ee,#2eb4f2,#28bceb,#3d9efe,#448ffe,#38a5fb,#33adf7,#4294ff,#3ba0fd,#3aa3fc,#33adf7,#448ffe,#448ffe,#4682f8,#4294ff,#4687fb,#477bf2,#4687fb,#4778f0,#4685fa,#4771e9,#448ffe,#4669e0,#4778f0,#4778f0)"></i><i style="left:524px;width:4.3px;background:linear-gradient(#5dfc6f,#35f394,#1ce6b4,#1fe9af,#18e0bd,#84ff51,#fe9b2d,#bc2002,#8e0a01,#7e0502,#a41301,#9e1001,#bc2002,#d02f05,#da3907,#e7490c,#f8721c,#f9751d,#f8721c,#fe962b,#fe9029,#fc8423,#fea431,#fbb637,#f1cb3a,#f5c53a,#f6c33a,#dfdf37,#e3db38,#ebd339,#e5d938,#bef434,#b4f836,#b7f735,#b9f635,#affa37,#a4fc3c,#a9fb39,#92ff47,#75fe5c,#7dff56,#65fd69,#7dff56,#69fd66,#5dfc6f,#5dfc6f,#55fa76,#32f298,#43f787,#59fb73,#43f787,#1de7b2,#19e3b9,#1fe9af,#20eaac,#20eaac,#19d5cd,#18ddc2,#18d7ca,#18d9c8,#18d9c8,#25c0e7,#2ab9ee,#27bee9,#2fb2f4,#1fc9dd,#23c3e4,#31aff5,#20c7df,#2ab9ee,#3aa3fc,#458afc,#3d9efe,#38a5fb,#4294ff,#3ba0fd,#35abf8,#2cb7f0,#458cfd,#4099ff,#4685fa,#448ffe,#4680f6,#4778f0,#3e9bfe,#4682f8,#4778f0,#476ee6,#4685fa,#4685fa,#467df4,#467df4)"></i><i style="left:528px;width:4.3px;background:linear-gradient(#59fb73,#35f394,#32f298,#4af880,#27eea4,#84ff51,#fea130,#b21a01,#9b0f01,#7a0403,#af1801,#b41b01,#b91e02,#c52603,#d23105,#ef5811,#f56918,#fa7b1f,#f8721c,#fe962b,#fe9029,#fb7e21,#fea933,#fbb637,#f5c53a,#faba39,#f1cb3a,#e9d539,#efcd3a,#ecd13a,#d4e735,#c1f334,#c1f334,#b9f635,#b9f635,#cdec34,#a7fc3a,#b9f635,#8bff4b,#6dfe62,#88ff4e,#84ff51,#7dff56,#79fe59,#59fb73,#4ef97d,#79fe59,#3ff68a,#43f787,#5dfc6f,#38f491,#19e3b9,#18d7ca,#27eea4,#19e3b9,#35f394,#18dec0,#1ad4d0,#18ddc2,#18dec0,#19d5cd,#18d7ca,#33adf7,#1ccdd8,#2ab9ee,#22c5e2,#27bee9,#28bceb,#25c0e7,#28bceb,#35abf8,#3e9bfe,#35abf8,#3d9efe,#3d9efe,#458cfd,#31aff5,#2eb4f2,#4196ff,#4294ff,#458afc,#448ffe,#4196ff,#4778f0,#4294ff,#467df4,#467df4,#4685fa,#4099ff,#477bf2,#476ee6,#467df4)"></i><i style="left:532px;width:4.3px;background:linear-gradient(#59fb73,#61fc6c,#61fc6c,#65fd69,#71fe5f,#80ff53,#fe962b,#c32503,#950d01,#7a0403,#a91601,#ac1701,#b21a01,#ca2a04,#d83706,#eb500e,#ed5510,#f9781e,#fa7b1f,#fd8d27,#fe932a,#fd8d27,#fe9b2d,#fcb136,#faba39,#f4c73a,#eecf3a,#e9d539,#dde037,#e7d739,#eecf3a,#b4f836,#c1f334,#b1f936,#b9f635,#bef434,#a4fc3c,#b7f735,#a4fc3c,#69fd66,#7dff56,#88ff4e,#75fe5c,#61fc6c,#75fe5c,#55fa76,#61fc6c,#4af880,#38f491,#4ef97d,#20eaac,#1fe9af,#19e3b9,#2ff19b,#1ce6b4,#25eca7,#18dec0,#1ad4d0,#18ddc2,#1ce6b4,#1fc9dd,#18d9c8,#2eb4f2,#22c5e2,#28bceb,#2ab9ee,#22c5e2,#3aa3fc,#1ccdd8,#2eb4f2,#3d9efe,#458cfd,#37a8fa,#4099ff,#3ba0fd,#38a5fb,#38a5fb,#3aa3fc,#448ffe,#4196ff,#35abf8,#4680f6,#4685fa,#4687fb,#35abf8,#4771e9,#467df4,#458afc,#4294ff,#467df4,#4778f0,#4680f6)"></i><i style="left:536px;width:4.3px;background:linear-gradient(#65fd69,#43f787,#79fe59,#59fb73,#5dfc6f,#92ff47,#fe962b,#b21a01,#9e1001,#8b0902,#9b0f01,#af1801,#b21a01,#d43305,#e7490c,#e5470b,#ef5811,#fd8a26,#fb8122,#f76f1a,#fe962b,#fcb336,#fcb336,#f6c33a,#faba39,#f5c53a,#ecd13a,#eecf3a,#e9d539,#eecf3a,#d2e935,#c6f034,#cdec34,#b7f735,#bef434,#b4f836,#a1fd3d,#affa37,#b1f936,#88ff4e,#7dff56,#84ff51,#88ff4e,#5dfc6f,#75fe5c,#7dff56,#52fa7a,#4af880,#38f491,#52fa7a,#2ff19b,#2aefa1,#1ce6b4,#1fe9af,#22ebaa,#25eca7,#18d7ca,#1bd0d5,#19e3b9,#18dec0,#20c7df,#1ccdd8,#20c7df,#22c5e2,#23c3e4,#27bee9,#23c3e4,#2ab9ee,#1ad2d2,#2ab9ee,#38a5fb,#4196ff,#3e9bfe,#38a5fb,#458afc,#4391fe,#2fb2f4,#4196ff,#4391fe,#3aa3fc,#38a5fb,#4687fb,#458cfd,#467df4,#4391fe,#4685fa,#4687fb,#4680f6,#4685fa,#4685fa,#467df4,#476ee6)"></i><i style="left:540px;width:4.3px;background:linear-gradient(#71fe5f,#5dfc6f,#65fd69,#79fe59,#75fe5c,#80ff53,#fea732,#ce2d04,#980e01,#850702,#af1801,#a71401,#c32503,#d02f05,#e84b0c,#f26014,#f05b12,#f56918,#f9751d,#fa7b1f,#fea431,#fe9e2f,#fea732,#fcb336,#fcb136,#f5c53a,#ecd13a,#eecf3a,#dbe236,#d9e436,#ecd13a,#cbed34,#d0ea34,#bcf534,#b1f936,#a9fb39,#b7f735,#b1f936,#a9fb39,#7dff56,#8bff4b,#84ff51,#6dfe62,#65fd69,#71fe5f,#79fe59,#59fb73,#43f787,#3ff68a,#55fa76,#1fe9af,#35f394,#1de7b2,#20eaac,#1ce6b4,#22ebaa,#18dbc5,#18dec0,#1bd0d5,#18ddc2,#27bee9,#18d7ca,#1ccdd8,#25c0e7,#23c3e4,#33adf7,#2ab9ee,#37a8fa,#1bd0d5,#2fb2f4,#35abf8,#4294ff,#3d9efe,#38a5fb,#4294ff,#448ffe,#3d9efe,#3e9bfe,#4196ff,#3d9efe,#3ba0fd,#3d9efe,#4294ff,#4685fa,#4294ff,#4680f6,#467df4,#477bf2,#448ffe,#458cfd,#4685fa,#4778f0)"></i><i style="left:544px;width:4.3px;background:linear-gradient(#61fc6c,#6dfe62,#79fe59,#52fa7a,#6dfe62,#99fe42,#fcb136,#d43305,#9b0f01,#8e0a01,#a71401,#9e1001,#b21a01,#ce2d04,#e84b0c,#f15d13,#f26014,#f36315,#fc8423,#f8721c,#fe992c,#f7c13a,#fcb336,#faba39,#fea933,#f2c93a,#e3db38,#e9d539,#d4e735,#dbe236,#e3db38,#c8ef34,#d9e436,#b7f735,#b9f635,#b7f735,#9cfe40,#b4f836,#a9fb39,#99fe42,#88ff4e,#a1fd3d,#79fe59,#43f787,#80ff53,#6dfe62,#6dfe62,#3cf58e,#35f394,#52fa7a,#2ff19b,#32f298,#1de7b2,#2aefa1,#2aefa1,#19e3b9,#19d5cd,#1ce6b4,#1ad4d0,#18d7ca,#23c3e4,#18d9c8,#1ad2d2,#2fb2f4,#23c3e4,#2cb7f0,#23c3e4,#28bceb,#1ecbda,#31aff5,#3e9bfe,#38a5fb,#3aa3fc,#458afc,#4682f8,#4294ff,#3d9efe,#448ffe,#3d9efe,#3e9bfe,#37a8fa,#4196ff,#3d9efe,#4687fb,#458afc,#4685fa,#4294ff,#4391fe,#4685fa,#4680f6,#4685fa,#448ffe)"></i><i style="left:548px;width:4.3px;background:linear-gradient(#71fe5f,#59fb73,#61fc6c,#5dfc6f,#59fb73,#75fe5c,#fdac34,#b41b01,#a41301,#a41301,#ac1701,#a91601,#b21a01,#ca2a04,#e7490c,#f15d13,#f15d13,#f56918,#fc8423,#fc8423,#fdac34,#f9bc39,#fbb637,#fbb637,#fea431,#e9d539,#e1dd37,#e9d539,#dfdf37,#d0ea34,#dfdf37,#c8ef34,#c8ef34,#cdec34,#bef434,#a9fb39,#9ffd3f,#b9f635,#9ffd3f,#96fe44,#99fe42,#92ff47,#5dfc6f,#55fa76,#71fe5f,#8fff49,#55fa76,#3ff68a,#35f394,#38f491,#2cf09e,#32f298,#25eca7,#1ce6b4,#19e3b9,#27eea4,#1ad4d0,#1fe9af,#1bd0d5,#1ae4b6,#1fc9dd,#1ad2d2,#1ecbda,#23c3e4,#1ecbda,#25c0e7,#2cb7f0,#2cb7f0,#1ecbda,#23c3e4,#3aa3fc,#3e9bfe,#3e9bfe,#4099ff,#4391fe,#3e9bfe,#3ba0fd,#4687fb,#4099ff,#3d9efe,#4294ff,#3e9bfe,#35abf8,#477bf2,#458afc,#4196ff,#3e9bfe,#4778f0,#4687fb,#4682f8,#4685fa,#467df4)"></i><i style="left:552px;width:4.3px;background:linear-gradient(#52fa7a,#19e2bb,#18e0bd,#19e3b9,#2cf09e,#b1f936,#f6c33a,#be2102,#a91601,#a41301,#af1801,#ac1701,#af1801,#dd3d08,#e2430a,#f66c19,#f56918,#f36315,#fb8122,#fa7b1f,#fe9b2d,#f6c33a,#f6c33a,#fea933,#fdac34,#ebd339,#e1dd37,#e1dd37,#d2e935,#c8ef34,#e3db38,#d0ea34,#cdec34,#b7f735,#bcf534,#b1f936,#a4fc3c,#c1f334,#9cfe40,#79fe59,#99fe42,#92ff47,#65fd69,#5dfc6f,#6dfe62,#4ef97d,#52fa7a,#38f491,#4af880,#38f491,#27eea4,#3cf58e,#19e2bb,#1ce6b4,#2aefa1,#1de7b2,#18e0bd,#2cf09e,#1ecbda,#18d9c8,#1fc9dd,#28bceb,#18d7ca,#25c0e7,#1ad2d2,#25c0e7,#28bceb,#1ecbda,#25c0e7,#2cb7f0,#37a8fa,#38a5fb,#4196ff,#4294ff,#3e9bfe,#4196ff,#4391fe,#4680f6,#2eb4f2,#37a8fa,#4196ff,#37a8fa,#2eb4f2,#458afc,#4776ee,#4687fb,#3ba0fd,#4687fb,#4391fe,#4680f6,#4196ff,#4687fb)"></i><i style="left:556px;width:4.3px;background:linear-gradient(#61fc6c,#75fe5c,#61fc6c,#59fb73,#71fe5f,#bef434,#f9bc39,#c82803,#9b0f01,#a11201,#b71d02,#af1801,#a91601,#d83706,#f05b12,#f9751d,#f9751d,#f8721c,#fc8423,#f9751d,#fea933,#f5c53a,#f4c73a,#fdae35,#fbb637,#f9bc39,#e7d739,#e3db38,#e5d938,#cdec34,#d7e535,#dde037,#d0ea34,#bef434,#acfb38,#b4f836,#a1fd3d,#bef434,#a9fb39,#80ff53,#99fe42,#99fe42,#69fd66,#71fe5f,#52fa7a,#75fe5c,#59fb73,#3ff68a,#52fa7a,#3ff68a,#32f298,#2ff19b,#19e2bb,#20eaac,#1ae4b6,#2ff19b,#1ad4d0,#20eaac,#1ecbda,#18ddc2,#18dec0,#20c7df,#19d5cd,#2cb7f0,#19d5cd,#1fc9dd,#25c0e7,#1fc9dd,#2fb2f4,#20c7df,#35abf8,#35abf8,#4099ff,#3e9bfe,#37a8fa,#4391fe,#3aa3fc,#448ffe,#31aff5,#37a8fa,#4099ff,#3ba0fd,#35abf8,#458afc,#458afc,#3e9bfe,#31aff5,#4687fb,#4099ff,#467df4,#448ffe,#4685fa)"></i><i style="left:560px;width:4.3px;background:linear-gradient(#4ef97d,#69fd66,#61fc6c,#5dfc6f,#5dfc6f,#a1fd3d,#f8be39,#b71d02,#a91601,#a91601,#a11201,#b41b01,#a71401,#e2430a,#e7490c,#f46617,#f56918,#f76f1a,#fc8725,#fc8423,#fe9e2f,#fdac34,#f7c13a,#fcb136,#fdac34,#f5c53a,#e9d539,#ebd339,#e5d938,#c8ef34,#d7e535,#dfdf37,#d4e735,#acfb38,#affa37,#a1fd3d,#a9fb39,#b7f735,#a1fd3d,#7dff56,#a1fd3d,#99fe42,#75fe5c,#75fe5c,#6dfe62,#71fe5f,#4af880,#35f394,#59fb73,#38f491,#25eca7,#35f394,#22ebaa,#1ae4b6,#1fe9af,#1ce6b4,#18ddc2,#2ff19b,#18d7ca,#20c7df,#1ad4d0,#27bee9,#18e0bd,#25c0e7,#18d7ca,#1ccdd8,#25c0e7,#23c3e4,#35abf8,#2cb7f0,#28bceb,#33adf7,#35abf8,#3d9efe,#2fb2f4,#4685fa,#4294ff,#4685fa,#3aa3fc,#3ba0fd,#4294ff,#3aa3fc,#2eb4f2,#4685fa,#4682f8,#458cfd,#31aff5,#3e9bfe,#4196ff,#4685fa,#4196ff,#4771e9)"></i><i style="left:564px;width:4.3px;background:linear-gradient(#75fe5c,#52fa7a,#52fa7a,#6dfe62,#88ff4e,#9cfe40,#fcb336,#c52603,#9b0f01,#a91601,#ac1701,#b71d02,#a41301,#e14109,#e84b0c,#f56918,#f76f1a,#f8721c,#fa7b1f,#f9751d,#f8be39,#fdac34,#f7c13a,#fcb136,#fcb336,#f5c53a,#e1dd37,#e1dd37,#ebd339,#d4e735,#dbe236,#d2e935,#dfdf37,#b1f936,#b1f936,#acfb38,#a1fd3d,#acfb38,#a4fc3c,#88ff4e,#84ff51,#92ff47,#84ff51,#6dfe62,#69fd66,#69fd66,#69fd66,#3cf58e,#59fb73,#46f884,#19e3b9,#3ff68a,#1ce6b4,#20eaac,#1ce6b4,#2aefa1,#1ce6b4,#2cf09e,#18dbc5,#1ad4d0,#18ddc2,#27bee9,#1ad4d0,#1ecbda,#23c3e4,#18e0bd,#31aff5,#2cb7f0,#38a5fb,#25c0e7,#2ab9ee,#2ab9ee,#38a5fb,#4391fe,#3d9efe,#467df4,#35abf8,#448ffe,#4294ff,#28bceb,#3ba0fd,#38a5fb,#37a8fa,#4196ff,#3e9bfe,#458afc,#37a8fa,#3ba0fd,#3d9efe,#448ffe,#448ffe,#467df4)"></i><i style="left:568px;width:4.3px;background:linear-gradient(#6dfe62,#2aefa1,#2ff19b,#3cf58e,#2aefa1,#bef434,#fea732,#be2102,#a11201,#ac1701,#a71401,#bc2002,#a41301,#dc3b07,#ea4e0d,#f8721c,#f8721c,#fe932a,#f9781e,#fb7e21,#f9bc39,#fdae35,#fbb637,#fea732,#fe9b2d,#f5c53a,#f1cb3a,#f2c93a,#e1dd37,#d2e935,#d9e436,#d4e735,#cdec34,#a9fb39,#b7f735,#acfb38,#96fe44,#a1fd3d,#99fe42,#8fff49,#a4fc3c,#7dff56,#80ff53,#5dfc6f,#6dfe62,#6dfe62,#59fb73,#4ef97d,#4af880,#4af880,#1ce6b4,#3ff68a,#19e2bb,#22ebaa,#19e2bb,#2aefa1,#1ce6b4,#32f298,#22ebaa,#1bd0d5,#1ccdd8,#1ecbda,#1ad2d2,#27bee9,#1ad4d0,#1ae4b6,#20c7df,#23c3e4,#38a5fb,#2fb2f4,#22c5e2,#28bceb,#35abf8,#3aa3fc,#3e9bfe,#3d9efe,#2fb2f4,#3e9bfe,#448ffe,#31aff5,#3ba0fd,#37a8fa,#3e9bfe,#4196ff,#4099ff,#4196ff,#35abf8,#3d9efe,#4099ff,#458cfd,#4099ff,#477bf2)"></i><i style="left:572px;width:4.3px;background:linear-gradient(#65fd69,#71fe5f,#59fb73,#80ff53,#75fe5c,#a9fb39,#fdac34,#c32503,#a11201,#9e1001,#a11201,#b71d02,#ac1701,#d63506,#e84b0c,#f15d13,#f76f1a,#fe9029,#fc8423,#fa7b1f,#fbb838,#faba39,#faba39,#fbb838,#fcb136,#f2c93a,#e9d539,#ecd13a,#e5d938,#e5d938,#dfdf37,#d4e735,#cdec34,#a1fd3d,#c8ef34,#b9f635,#7dff56,#96fe44,#9cfe40,#9cfe40,#96fe44,#8bff4b,#88ff4e,#59fb73,#7dff56,#69fd66,#3cf58e,#65fd69,#55fa76,#27eea4,#38f491,#32f298,#22ebaa,#1de7b2,#1de7b2,#2aefa1,#22ebaa,#22ebaa,#1fe9af,#1ccdd8,#19d5cd,#1ad4d0,#19d5cd,#23c3e4,#20c7df,#19d5cd,#27bee9,#20c7df,#35abf8,#2ab9ee,#22c5e2,#28bceb,#33adf7,#37a8fa,#4099ff,#4196ff,#35abf8,#33adf7,#3e9bfe,#2eb4f2,#35abf8,#2fb2f4,#4294ff,#3aa3fc,#3d9efe,#3e9bfe,#33adf7,#448ffe,#3d9efe,#4685fa,#4099ff,#4680f6)"></i><i style="left:576px;width:4.3px;background:linear-gradient(#65fd69,#75fe5c,#65fd69,#61fc6c,#79fe59,#acfb38,#fe932a,#bc2002,#b71d02,#a41301,#9e1001,#c32503,#b41b01,#d83706,#df3f08,#f66c19,#fb7e21,#fe9029,#fd8d27,#fc8725,#fdac34,#fbb838,#fbb838,#f9bc39,#fcb336,#f9bc39,#ebd339,#e1dd37,#d4e735,#ecd13a,#d9e436,#dde037,#c3f134,#acfb38,#cdec34,#affa37,#84ff51,#92ff47,#9cfe40,#a7fc3a,#92ff47,#75fe5c,#80ff53,#69fd66,#75fe5c,#59fb73,#4ef97d,#61fc6c,#3ff68a,#3cf58e,#35f394,#55fa76,#25eca7,#20eaac,#1de7b2,#27eea4,#19e2bb,#25eca7,#20eaac,#18dbc5,#18d7ca,#18d7ca,#1ecbda,#1fc9dd,#18d9c8,#1fc9dd,#31aff5,#25c0e7,#31aff5,#1fc9dd,#1ccdd8,#25c0e7,#31aff5,#33adf7,#458cfd,#3d9efe,#27bee9,#38a5fb,#4099ff,#23c3e4,#2eb4f2,#37a8fa,#37a8fa,#3ba0fd,#4099ff,#3aa3fc,#33adf7,#4391fe,#458afc,#458afc,#458cfd,#4664da)"></i><i style="left:580px;width:4.3px;background:linear-gradient(#55fa76,#3ff68a,#35f394,#4af880,#2ff19b,#b7f735,#fd8d27,#c12302,#cc2b04,#880802,#9b0f01,#be2102,#ca2a04,#d43305,#d23105,#f76f1a,#fd8d27,#fe9b2d,#fb7e21,#fe9e2f,#fe9029,#fea732,#f5c53a,#fdac34,#eecf3a,#f1cb3a,#efcd3a,#ebd339,#dde037,#ebd339,#e7d739,#dde037,#cbed34,#acfb38,#c3f134,#acfb38,#8fff49,#80ff53,#8fff49,#acfb38,#8bff4b,#71fe5f,#65fd69,#61fc6c,#65fd69,#6dfe62,#59fb73,#55fa76,#3ff68a,#32f298,#3ff68a,#55fa76,#25eca7,#20eaac,#1ae4b6,#19e2bb,#20eaac,#27eea4,#19e3b9,#19e2bb,#18d7ca,#19d5cd,#19d5cd,#18d7ca,#1fc9dd,#22c5e2,#20c7df,#20c7df,#31aff5,#20c7df,#20c7df,#2cb7f0,#2ab9ee,#28bceb,#448ffe,#37a8fa,#2ab9ee,#35abf8,#4294ff,#27bee9,#2ab9ee,#2cb7f0,#31aff5,#2fb2f4,#4196ff,#35abf8,#3e9bfe,#4099ff,#458cfd,#4682f8,#458cfd,#4687fb)"></i><i style="left:584px;width:4.3px;background:linear-gradient(#6dfe62,#32f298,#1fe9af,#22ebaa,#20eaac,#a9fb39,#fea431,#b71d02,#c52603,#a11201,#8e0a01,#c12302,#cc2b04,#dd3d08,#df3f08,#f36315,#fd8a26,#fe962b,#fe9029,#fe9029,#fe962b,#fcb136,#fcb136,#f8be39,#e9d539,#f4c73a,#e5d938,#e7d739,#dde037,#e3db38,#e1dd37,#d9e436,#acfb38,#a4fc3c,#b7f735,#affa37,#88ff4e,#8bff4b,#8fff49,#a1fd3d,#79fe59,#69fd66,#6dfe62,#35f394,#7dff56,#71fe5f,#4af880,#61fc6c,#3ff68a,#3cf58e,#46f884,#3ff68a,#32f298,#27eea4,#22ebaa,#1ae4b6,#1fe9af,#18dbc5,#18ddc2,#18ddc2,#19e2bb,#18e0bd,#1ccdd8,#18d7ca,#19d5cd,#27bee9,#28bceb,#23c3e4,#1ccdd8,#1ad2d2,#28bceb,#28bceb,#2eb4f2,#2eb4f2,#3e9bfe,#27bee9,#28bceb,#33adf7,#38a5fb,#2fb2f4,#25c0e7,#38a5fb,#4196ff,#4099ff,#4391fe,#4099ff,#31aff5,#4196ff,#458cfd,#4687fb,#4682f8,#4776ee)"></i><i style="left:588px;width:4.3px;background:linear-gradient(#71fe5f,#6dfe62,#61fc6c,#55fa76,#5dfc6f,#a4fc3c,#fe962b,#b41b01,#d02f05,#a11201,#a41301,#ca2a04,#cc2b04,#ca2a04,#ec530f,#f9751d,#fc8423,#fe9e2f,#fc8725,#fea431,#fea431,#fdae35,#f9bc39,#fdac34,#f2c93a,#f7c13a,#d7e535,#efcd3a,#d9e436,#e9d539,#ebd339,#c6f034,#acfb38,#96fe44,#b1f936,#b1f936,#9ffd3f,#75fe5c,#92ff47,#9ffd3f,#92ff47,#79fe59,#6dfe62,#35f394,#7dff56,#65fd69,#61fc6c,#5dfc6f,#55fa76,#52fa7a,#46f884,#46f884,#2cf09e,#20eaac,#25eca7,#18d9c8,#1de7b2,#18dbc5,#18dbc5,#25eca7,#18dec0,#19e3b9,#1bd0d5,#18d9c8,#1ad2d2,#33adf7,#20c7df,#20c7df,#22c5e2,#27bee9,#22c5e2,#31aff5,#2eb4f2,#2cb7f0,#4391fe,#2ab9ee,#33adf7,#2fb2f4,#37a8fa,#31aff5,#31aff5,#35abf8,#4099ff,#3e9bfe,#4682f8,#2cb7f0,#2fb2f4,#38a5fb,#4294ff,#458afc,#4778f0,#4680f6)"></i><i style="left:592px;width:4.3px;background:linear-gradient(#6dfe62,#5dfc6f,#61fc6c,#4ef97d,#6dfe62,#a9fb39,#fe932a,#be2102,#be2102,#950d01,#980e01,#ca2a04,#d63506,#d63506,#e84b0c,#f9751d,#fb7e21,#fdae35,#fb7e21,#fe9e2f,#fe962b,#faba39,#f7c13a,#fea933,#ecd13a,#ecd13a,#e3db38,#e5d938,#d7e535,#ecd13a,#e9d539,#c6f034,#a9fb39,#acfb38,#b7f735,#9ffd3f,#acfb38,#88ff4e,#92ff47,#7dff56,#84ff51,#88ff4e,#79fe59,#22ebaa,#7dff56,#6dfe62,#5dfc6f,#80ff53,#59fb73,#59fb73,#3cf58e,#38f491,#3cf58e,#1fe9af,#1fe9af,#18dbc5,#27eea4,#18dec0,#22c5e2,#18dec0,#18e0bd,#1de7b2,#1ccdd8,#1ad4d0,#19d5cd,#31aff5,#1ecbda,#27bee9,#20c7df,#28bceb,#35abf8,#38a5fb,#2cb7f0,#2eb4f2,#3d9efe,#2ab9ee,#27bee9,#33adf7,#4682f8,#35abf8,#3ba0fd,#2ab9ee,#3ba0fd,#3d9efe,#4196ff,#2ab9ee,#3aa3fc,#38a5fb,#4196ff,#458afc,#458afc,#4196ff)"></i><i style="left:596px;width:4.3px;background:linear-gradient(#80ff53,#32f298,#25eca7,#1ce6b4,#1de7b2,#b7f735,#fe962b,#d02f05,#c82803,#af1801,#a11201,#ce2d04,#c12302,#d23105,#ec530f,#fc8423,#fb7e21,#fbb637,#fe9b2d,#fe9e2f,#fcb136,#fbb637,#f7c13a,#fcb136,#f4c73a,#f1cb3a,#e3db38,#dfdf37,#d7e535,#e1dd37,#efcd3a,#b1f936,#b9f635,#b4f836,#a7fc3a,#a7fc3a,#9ffd3f,#88ff4e,#99fe42,#84ff51,#7dff56,#9ffd3f,#80ff53,#27eea4,#7dff56,#75fe5c,#4ef97d,#80ff53,#55fa76,#71fe5f,#3cf58e,#46f884,#35f394,#2cf09e,#1ae4b6,#18dbc5,#1ce6b4,#19e3b9,#1ad2d2,#18ddc2,#18e0bd,#1ae4b6,#18d7ca,#25c0e7,#18d7ca,#3aa3fc,#1ad2d2,#23c3e4,#28bceb,#2cb7f0,#2cb7f0,#31aff5,#35abf8,#35abf8,#3d9efe,#27bee9,#2ab9ee,#2eb4f2,#3aa3fc,#3aa3fc,#3e9bfe,#3d9efe,#3d9efe,#3aa3fc,#3e9bfe,#33adf7,#3aa3fc,#3ba0fd,#4196ff,#448ffe,#4391fe,#4391fe)"></i><i style="left:600px;width:4.3px;background:linear-gradient(#46f884,#43f787,#69fd66,#65fd69,#71fe5f,#c8ef34,#fe9b2d,#d63506,#c52603,#ac1701,#ac1701,#ca2a04,#c52603,#d83706,#f36315,#fe932a,#fc8423,#fcb136,#faba39,#fea732,#fea130,#fbb838,#f1cb3a,#f6c33a,#ecd13a,#ebd339,#e9d539,#d7e535,#cbed34,#e9d539,#e5d938,#b9f635,#a4fc3c,#c1f334,#b1f936,#96fe44,#a1fd3d,#8fff49,#9ffd3f,#96fe44,#84ff51,#a4fc3c,#8bff4b,#3ff68a,#75fe5c,#7dff56,#4ef97d,#61fc6c,#52fa7a,#88ff4e,#2ff19b,#4af880,#43f787,#32f298,#22ebaa,#18ddc2,#27eea4,#18ddc2,#18d7ca,#18dec0,#18d7ca,#18ddc2,#1ae4b6,#1fc9dd,#18dec0,#28bceb,#1ad2d2,#1ecbda,#1fc9dd,#1fc9dd,#2eb4f2,#33adf7,#28bceb,#2cb7f0,#4294ff,#1fc9dd,#3ba0fd,#35abf8,#4099ff,#28bceb,#4099ff,#33adf7,#4196ff,#4391fe,#3ba0fd,#2ab9ee,#38a5fb,#3aa3fc,#35abf8,#458afc,#3d9efe,#4680f6)"></i><i style="left:604px;width:4.3px;background:linear-gradient(#71fe5f,#84ff51,#71fe5f,#52fa7a,#61fc6c,#cbed34,#fea431,#d23105,#bc2002,#bc2002,#b41b01,#d63506,#c82803,#d23105,#f15d13,#fcb136,#fe992c,#f4c73a,#f9bc39,#faba39,#f9bc39,#efcd3a,#efcd3a,#dde037,#e9d539,#d7e535,#d9e436,#dbe236,#c8ef34,#e3db38,#ecd13a,#cbed34,#b7f735,#c1f334,#b9f635,#8fff49,#88ff4e,#79fe59,#a1fd3d,#9ffd3f,#7dff56,#9cfe40,#84ff51,#46f884,#59fb73,#7dff56,#84ff51,#71fe5f,#4ef97d,#61fc6c,#32f298,#4ef97d,#1fe9af,#35f394,#20eaac,#1ae4b6,#22ebaa,#18dec0,#18dbc5,#19d5cd,#1ad4d0,#2aefa1,#18e0bd,#1fc9dd,#1ecbda,#23c3e4,#23c3e4,#1bd0d5,#22c5e2,#27bee9,#2ab9ee,#2fb2f4,#23c3e4,#23c3e4,#3aa3fc,#27bee9,#37a8fa,#2cb7f0,#33adf7,#2eb4f2,#33adf7,#33adf7,#4196ff,#3ba0fd,#2fb2f4,#25c0e7,#35abf8,#3d9efe,#4196ff,#2fb2f4,#3d9efe,#458cfd)"></i><i style="left:608px;width:4.3px;background:linear-gradient(#6dfe62,#2ff19b,#25eca7,#32f298,#19e3b9,#d9e436,#fea933,#ca2a04,#c52603,#b71d02,#a71401,#ca2a04,#c12302,#ca2a04,#f05b12,#fe9e2f,#fea933,#e5d938,#e9d539,#ecd13a,#fbb637,#ebd339,#d9e436,#b9f635,#dbe236,#d9e436,#dfdf37,#e1dd37,#e1dd37,#dbe236,#e7d739,#d4e735,#d0ea34,#c6f034,#c3f134,#96fe44,#a1fd3d,#84ff51,#9cfe40,#84ff51,#96fe44,#92ff47,#88ff4e,#59fb73,#3cf58e,#80ff53,#79fe59,#88ff4e,#46f884,#35f394,#35f394,#59fb73,#32f298,#32f298,#1ce6b4,#19e2bb,#19d5cd,#18d9c8,#18dbc5,#1ad4d0,#18ddc2,#1ae4b6,#18d9c8,#22c5e2,#18e0bd,#20c7df,#27bee9,#1ad4d0,#35abf8,#1ecbda,#2cb7f0,#2ab9ee,#22c5e2,#28bceb,#4099ff,#23c3e4,#2fb2f4,#25c0e7,#38a5fb,#35abf8,#33adf7,#28bceb,#3e9bfe,#3e9bfe,#38a5fb,#2eb4f2,#4099ff,#2fb2f4,#4196ff,#2fb2f4,#4391fe,#4680f6)"></i><i style="left:612px;width:4.3px;background:linear-gradient(#75fe5c,#27eea4,#1ce6b4,#19e3b9,#18dbc5,#d4e735,#fe9b2d,#d23105,#d02f05,#b91e02,#b21a01,#d43305,#cc2b04,#d02f05,#f05b12,#fbb838,#fbb637,#e7d739,#e5d938,#e5d938,#f4c73a,#dde037,#bef434,#affa37,#d0ea34,#dbe236,#ecd13a,#f1cb3a,#f9bc39,#f9bc39,#eecf3a,#dfdf37,#d2e935,#c3f134,#cdec34,#92ff47,#a7fc3a,#9ffd3f,#a4fc3c,#84ff51,#8bff4b,#96fe44,#88ff4e,#69fd66,#35f394,#61fc6c,#75fe5c,#80ff53,#4ef97d,#4ef97d,#35f394,#43f787,#20eaac,#22ebaa,#1ae4b6,#1ae4b6,#1ae4b6,#18d7ca,#1bd0d5,#18dec0,#18d7ca,#18dec0,#1ad4d0,#25c0e7,#1ad2d2,#25c0e7,#31aff5,#1ecbda,#31aff5,#25c0e7,#31aff5,#37a8fa,#2ab9ee,#31aff5,#33adf7,#2fb2f4,#3aa3fc,#31aff5,#2fb2f4,#3aa3fc,#27bee9,#3aa3fc,#3d9efe,#3ba0fd,#35abf8,#38a5fb,#4294ff,#4099ff,#4687fb,#3aa3fc,#458cfd,#4294ff)"></i><i style="left:616px;width:4.3px;background:linear-gradient(#52fa7a,#65fd69,#69fd66,#6dfe62,#6dfe62,#c1f334,#fdac34,#d23105,#ca2a04,#b71d02,#bc2002,#d02f05,#cc2b04,#e84b0c,#f8721c,#fbb637,#f9bc39,#d4e735,#d9e436,#d0ea34,#cbed34,#c8ef34,#a1fd3d,#9cfe40,#cdec34,#d7e535,#eecf3a,#fbb838,#fdac34,#fcb336,#fbb838,#f5c53a,#eecf3a,#d9e436,#cbed34,#a9fb39,#a1fd3d,#a7fc3a,#a7fc3a,#9ffd3f,#80ff53,#84ff51,#7dff56,#69fd66,#55fa76,#61fc6c,#75fe5c,#65fd69,#65fd69,#3ff68a,#27eea4,#35f394,#35f394,#22ebaa,#1de7b2,#25eca7,#1ad2d2,#18d7ca,#1ad2d2,#18d7ca,#1ad4d0,#18dbc5,#1ad2d2,#27bee9,#18ddc2,#20c7df,#33adf7,#25c0e7,#37a8fa,#2cb7f0,#2ab9ee,#31aff5,#27bee9,#33adf7,#2eb4f2,#3ba0fd,#3ba0fd,#27bee9,#2cb7f0,#38a5fb,#2cb7f0,#3ba0fd,#4294ff,#4196ff,#3aa3fc,#38a5fb,#448ffe,#38a5fb,#458afc,#3ba0fd,#4682f8,#448ffe)"></i><i style="left:620px;width:4.3px;background:linear-gradient(#65fd69,#71fe5f,#5dfc6f,#79fe59,#7dff56,#bcf534,#f7c13a,#d63506,#ca2a04,#a71401,#af1801,#d43305,#da3907,#e7490c,#f66c19,#f9bc39,#e5d938,#cdec34,#cbed34,#b9f635,#a7fc3a,#b9f635,#88ff4e,#92ff47,#d2e935,#e3db38,#f9bc39,#fcb136,#fdac34,#fe9e2f,#fcb336,#fbb838,#f8be39,#dbe236,#d0ea34,#b4f836,#b4f836,#9cfe40,#9ffd3f,#a1fd3d,#69fd66,#6dfe62,#80ff53,#59fb73,#61fc6c,#43f787,#65fd69,#69fd66,#52fa7a,#22ebaa,#25eca7,#2ff19b,#3ff68a,#1de7b2,#22ebaa,#19e3b9,#1ad4d0,#1bd0d5,#22c5e2,#1ad2d2,#18d7ca,#1ad4d0,#22c5e2,#2cb7f0,#1fc9dd,#1ccdd8,#38a5fb,#2eb4f2,#3ba0fd,#28bceb,#2cb7f0,#37a8fa,#25c0e7,#2ab9ee,#3aa3fc,#37a8fa,#4294ff,#37a8fa,#2ab9ee,#448ffe,#3aa3fc,#4196ff,#4687fb,#4682f8,#3d9efe,#3e9bfe,#4391fe,#35abf8,#458cfd,#4391fe,#467df4,#458cfd)"></i><i style="left:624px;width:4.3px;background:linear-gradient(#69fd66,#46f884,#6dfe62,#61fc6c,#69fd66,#cbed34,#fbb838,#d83706,#b91e02,#b71d02,#be2102,#c52603,#dc3b07,#ed5510,#fc8423,#fbb838,#dfdf37,#b1f936,#b4f836,#9ffd3f,#92ff47,#b1f936,#80ff53,#52fa7a,#cdec34,#ebd339,#fea130,#fe932a,#fe9029,#fb7e21,#fe992c,#fea431,#faba39,#ecd13a,#d0ea34,#c8ef34,#c1f334,#a9fb39,#88ff4e,#8bff4b,#71fe5f,#71fe5f,#80ff53,#61fc6c,#5dfc6f,#55fa76,#61fc6c,#6dfe62,#59fb73,#32f298,#25eca7,#20eaac,#38f491,#19e3b9,#1ae4b6,#2aefa1,#1ad2d2,#1ad2d2,#1ecbda,#1fc9dd,#1fc9dd,#1ccdd8,#20c7df,#20c7df,#1bd0d5,#2cb7f0,#2eb4f2,#35abf8,#3ba0fd,#3d9efe,#28bceb,#3aa3fc,#33adf7,#31aff5,#35abf8,#35abf8,#458afc,#35abf8,#35abf8,#4196ff,#3ba0fd,#4687fb,#4391fe,#4778f0,#2eb4f2,#4196ff,#4687fb,#3d9efe,#4680f6,#448ffe,#4687fb,#4680f6)"></i><i style="left:628px;width:4.3px;background:linear-gradient(#6dfe62,#71fe5f,#65fd69,#61fc6c,#5dfc6f,#bcf534,#faba39,#da3907,#a11201,#bc2002,#af1801,#c82803,#d23105,#f36315,#fe992c,#fbb637,#d7e535,#a9fb39,#affa37,#96fe44,#9cfe40,#a1fd3d,#65fd69,#8fff49,#b9f635,#f2c93a,#fcb136,#fe932a,#fd8a26,#f9781e,#fe9029,#fe9e2f,#fbb637,#f2c93a,#e1dd37,#d4e735,#d0ea34,#84ff51,#8fff49,#a7fc3a,#7dff56,#7dff56,#84ff51,#6dfe62,#71fe5f,#69fd66,#52fa7a,#55fa76,#2cf09e,#2aefa1,#20eaac,#1fe9af,#27eea4,#27eea4,#22ebaa,#1ae4b6,#19d5cd,#25c0e7,#22c5e2,#18d9c8,#1ccdd8,#18dbc5,#1ecbda,#20c7df,#23c3e4,#35abf8,#37a8fa,#3aa3fc,#3ba0fd,#28bceb,#38a5fb,#3e9bfe,#2fb2f4,#38a5fb,#3ba0fd,#37a8fa,#4391fe,#3d9efe,#3aa3fc,#4391fe,#4294ff,#458cfd,#4294ff,#4682f8,#33adf7,#4685fa,#467df4,#4687fb,#477bf2,#448ffe,#4680f6,#477bf2)"></i><i style="left:632px;width:4.3px;background:linear-gradient(#65fd69,#20eaac,#2cf09e,#27eea4,#2aefa1,#bcf534,#efcd3a,#ca2a04,#980e01,#ac1701,#af1801,#bc2002,#dd3d08,#f46617,#fea130,#fdae35,#d7e535,#acfb38,#acfb38,#a9fb39,#8fff49,#92ff47,#75fe5c,#84ff51,#b9f635,#eecf3a,#fea130,#fb7e21,#fc8725,#fb8122,#fe962b,#fea130,#fcb136,#eecf3a,#dde037,#d7e535,#bef434,#a1fd3d,#8bff4b,#92ff47,#7dff56,#6dfe62,#80ff53,#75fe5c,#59fb73,#61fc6c,#6dfe62,#2ff19b,#43f787,#2cf09e,#25eca7,#1fe9af,#1ce6b4,#20eaac,#19e3b9,#18d9c8,#1ad2d2,#22c5e2,#1ad2d2,#1ad4d0,#18d7ca,#18d9c8,#1fc9dd,#22c5e2,#28bceb,#2ab9ee,#2ab9ee,#3ba0fd,#3ba0fd,#3ba0fd,#2fb2f4,#4294ff,#27bee9,#31aff5,#3aa3fc,#38a5fb,#3e9bfe,#458afc,#33adf7,#4391fe,#448ffe,#4196ff,#3ba0fd,#458cfd,#458cfd,#4687fb,#4778f0,#4685fa,#4687fb,#458afc,#4687fb,#4680f6)"></i><i style="left:636px;width:4.3px;background:linear-gradient(#5dfc6f,#69fd66,#75fe5c,#69fd66,#61fc6c,#c6f034,#f5c53a,#d02f05,#920b01,#a91601,#a91601,#ce2d04,#e2430a,#f36315,#fe9029,#fcb136,#dfdf37,#bcf534,#b4f836,#b4f836,#a1fd3d,#99fe42,#7dff56,#affa37,#b4f836,#f1cb3a,#fe9b2d,#fb8122,#fb7e21,#f36315,#fe9029,#fe932a,#fdae35,#fcb136,#ebd339,#d9e436,#c6f034,#affa37,#84ff51,#a7fc3a,#8bff4b,#7dff56,#75fe5c,#69fd66,#71fe5f,#5dfc6f,#61fc6c,#4af880,#52fa7a,#27eea4,#38f491,#1ce6b4,#1ae4b6,#22ebaa,#18ddc2,#18ddc2,#1ecbda,#18d7ca,#1ecbda,#1ad2d2,#1fc9dd,#19e3b9,#23c3e4,#1fc9dd,#2ab9ee,#1fc9dd,#20c7df,#3ba0fd,#3ba0fd,#2cb7f0,#2eb4f2,#3aa3fc,#27bee9,#38a5fb,#3d9efe,#3d9efe,#4099ff,#3d9efe,#25c0e7,#458cfd,#4391fe,#3e9bfe,#4294ff,#4294ff,#3d9efe,#4294ff,#4778f0,#458afc,#4685fa,#4196ff,#458afc,#467df4)"></i><i style="left:640px;width:4.3px;background:linear-gradient(#75fe5c,#19e3b9,#1ae4b6,#2aefa1,#22ebaa,#b4f836,#fbb637,#d63506,#950d01,#a91601,#b71d02,#ce2d04,#d63506,#f05b12,#fb8122,#fe962b,#dfdf37,#cbed34,#a9fb39,#a9fb39,#9cfe40,#a7fc3a,#8bff4b,#b9f635,#c1f334,#f4c73a,#fdac34,#f9751d,#fa7b1f,#f05b12,#fe9b2d,#fe962b,#fe992c,#fcb336,#e5d938,#d9e436,#c6f034,#affa37,#9ffd3f,#a9fb39,#7dff56,#a7fc3a,#61fc6c,#65fd69,#71fe5f,#4ef97d,#55fa76,#3ff68a,#4af880,#4af880,#52fa7a,#27eea4,#1fe9af,#18ddc2,#18dec0,#18ddc2,#19d5cd,#1ccdd8,#1ccdd8,#1fc9dd,#18d9c8,#1ad4d0,#23c3e4,#23c3e4,#2fb2f4,#33adf7,#2ab9ee,#38a5fb,#3ba0fd,#2fb2f4,#4196ff,#4196ff,#25c0e7,#4099ff,#2ab9ee,#4099ff,#4196ff,#4099ff,#31aff5,#458afc,#4196ff,#458cfd,#4099ff,#3d9efe,#38a5fb,#3e9bfe,#476ee6,#467df4,#4680f6,#4196ff,#467df4,#4685fa)"></i><i style="left:644px;width:4.3px;background:linear-gradient(#79fe59,#1ae4b6,#1ce6b4,#2aefa1,#1de7b2,#b7f735,#fcb136,#ca2a04,#a11201,#a71401,#b21a01,#d02f05,#d02f05,#ea4e0d,#fb7e21,#fea130,#e5d938,#c8ef34,#c1f334,#a9fb39,#9cfe40,#8fff49,#9cfe40,#cbed34,#bef434,#f8be39,#fdae35,#f76f1a,#f15d13,#f46617,#fd8a26,#fe932a,#fe992c,#f9bc39,#f4c73a,#ebd339,#c1f334,#acfb38,#acfb38,#b7f735,#84ff51,#a4fc3c,#59fb73,#61fc6c,#79fe59,#52fa7a,#75fe5c,#43f787,#4ef97d,#4ef97d,#3ff68a,#2ff19b,#1de7b2,#1ae4b6,#1fe9af,#18dbc5,#18e0bd,#20c7df,#18e0bd,#1ecbda,#25c0e7,#1ad4d0,#20c7df,#1ad4d0,#27bee9,#27bee9,#25c0e7,#2eb4f2,#31aff5,#37a8fa,#3ba0fd,#458cfd,#1fc9dd,#3aa3fc,#38a5fb,#3e9bfe,#4099ff,#4294ff,#38a5fb,#3e9bfe,#3ba0fd,#448ffe,#3d9efe,#3ba0fd,#4099ff,#3e9bfe,#4682f8,#4773eb,#4687fb,#458cfd,#4685fa,#477bf2)"></i><i style="left:648px;width:4.3px;background:linear-gradient(#52fa7a,#27eea4,#1ce6b4,#3ff68a,#2ff19b,#b4f836,#fbb637,#dd3d08,#a11201,#a41301,#b91e02,#dd3d08,#d02f05,#e5470b,#f8721c,#fe992c,#e9d539,#d7e535,#c1f334,#c8ef34,#9cfe40,#a7fc3a,#b1f936,#cdec34,#cdec34,#f6c33a,#fea933,#f9751d,#ea4e0d,#f66c19,#f8721c,#fd8a26,#fd8d27,#fea732,#fbb838,#f1cb3a,#d0ea34,#b1f936,#92ff47,#b4f836,#9cfe40,#96fe44,#79fe59,#71fe5f,#75fe5c,#46f884,#61fc6c,#59fb73,#2aefa1,#52fa7a,#3ff68a,#32f298,#2cf09e,#18ddc2,#2aefa1,#1ad4d0,#18dec0,#19d5cd,#18dbc5,#28bceb,#1ecbda,#1ecbda,#27bee9,#1bd0d5,#2cb7f0,#23c3e4,#31aff5,#3ba0fd,#33adf7,#2ab9ee,#4391fe,#3d9efe,#25c0e7,#3aa3fc,#31aff5,#448ffe,#3ba0fd,#458cfd,#38a5fb,#4391fe,#38a5fb,#3ba0fd,#3aa3fc,#4294ff,#4196ff,#3ba0fd,#4687fb,#466be3,#476ee6,#4682f8,#4687fb,#4778f0)"></i><i style="left:652px;width:4.3px;background:linear-gradient(#65fd69,#1de7b2,#20eaac,#20eaac,#1ce6b4,#b1f936,#fea130,#dd3d08,#af1801,#b41b01,#af1801,#e14109,#dc3b07,#da3907,#f8721c,#fcb136,#ebd339,#e3db38,#bef434,#c6f034,#a1fd3d,#acfb38,#bef434,#cbed34,#e5d938,#f1cb3a,#fe9b2d,#f66c19,#f56918,#f26014,#f9751d,#fd8a26,#fe9029,#fea431,#faba39,#e3db38,#d9e436,#c1f334,#b1f936,#b4f836,#9cfe40,#99fe42,#6dfe62,#84ff51,#69fd66,#4af880,#55fa76,#61fc6c,#35f394,#4ef97d,#3cf58e,#2aefa1,#27eea4,#20eaac,#35f394,#18dec0,#18dec0,#1ccdd8,#18e0bd,#1fc9dd,#1ecbda,#20c7df,#1fc9dd,#1bd0d5,#28bceb,#2eb4f2,#1bd0d5,#37a8fa,#37a8fa,#2eb4f2,#3aa3fc,#3e9bfe,#28bceb,#4196ff,#35abf8,#38a5fb,#33adf7,#4776ee,#31aff5,#4391fe,#3d9efe,#3e9bfe,#31aff5,#4391fe,#3aa3fc,#3d9efe,#4294ff,#4661d6,#4680f6,#4685fa,#4196ff,#4771e9)"></i><i style="left:656px;width:4.3px;background:linear-gradient(#65fd69,#84ff51,#65fd69,#6dfe62,#69fd66,#c6f034,#fea130,#e5470b,#b71d02,#b41b01,#c52603,#d23105,#e14109,#d63506,#f8721c,#fe9e2f,#f2c93a,#e3db38,#d0ea34,#b9f635,#a1fd3d,#acfb38,#affa37,#c1f334,#e5d938,#f2c93a,#fd8d27,#f76f1a,#f26014,#ed5510,#f9751d,#fa7b1f,#fc8423,#fdae35,#fcb336,#f1cb3a,#e1dd37,#c1f334,#b1f936,#b1f936,#9ffd3f,#92ff47,#69fd66,#9cfe40,#71fe5f,#5dfc6f,#59fb73,#59fb73,#2aefa1,#4ef97d,#2ff19b,#27eea4,#2cf09e,#2cf09e,#3ff68a,#18d9c8,#18dec0,#1ae4b6,#18dbc5,#22c5e2,#22c5e2,#1ad2d2,#23c3e4,#1fc9dd,#20c7df,#25c0e7,#1ad2d2,#35abf8,#33adf7,#22c5e2,#3aa3fc,#4196ff,#2eb4f2,#3d9efe,#37a8fa,#33adf7,#4196ff,#4682f8,#37a8fa,#467df4,#4294ff,#3ba0fd,#4391fe,#4099ff,#3d9efe,#3e9bfe,#3d9efe,#467df4,#4778f0,#4687fb,#3ba0fd,#4776ee)"></i><i style="left:660px;width:4.3px;background:linear-gradient(#7dff56,#75fe5c,#61fc6c,#7dff56,#5dfc6f,#b7f735,#fea130,#d23105,#b71d02,#a11201,#b91e02,#dc3b07,#dd3d08,#df3f08,#fc8423,#fea130,#f2c93a,#cbed34,#c3f134,#cbed34,#a4fc3c,#b9f635,#a4fc3c,#affa37,#dbe236,#f4c73a,#fe9b2d,#fa7b1f,#f56918,#f26014,#fc8725,#fb7e21,#fc8725,#fea732,#fbb838,#eecf3a,#d9e436,#b7f735,#bef434,#acfb38,#9cfe40,#71fe5f,#75fe5c,#80ff53,#75fe5c,#69fd66,#65fd69,#69fd66,#38f491,#52fa7a,#3cf58e,#2cf09e,#1de7b2,#2cf09e,#46f884,#18dec0,#1ae4b6,#18dbc5,#19e3b9,#22c5e2,#20c7df,#1ad2d2,#18d9c8,#20c7df,#1ad4d0,#22c5e2,#1ad2d2,#2eb4f2,#27bee9,#27bee9,#3aa3fc,#38a5fb,#38a5fb,#4099ff,#4687fb,#37a8fa,#2fb2f4,#4687fb,#2fb2f4,#477bf2,#35abf8,#3e9bfe,#4196ff,#4391fe,#33adf7,#448ffe,#3d9efe,#4680f6,#467df4,#4685fa,#3ba0fd,#448ffe)"></i><i style="left:664px;width:4.3px;background:linear-gradient(#7dff56,#6dfe62,#79fe59,#6dfe62,#59fb73,#affa37,#fe9b2d,#c32503,#b21a01,#a71401,#b41b01,#dc3b07,#dd3d08,#e4450a,#fe992c,#fea933,#eecf3a,#c8ef34,#c8ef34,#c3f134,#affa37,#b1f936,#a7fc3a,#c1f334,#e7d739,#f6c33a,#fe962b,#f15d13,#f76f1a,#eb500e,#fb7e21,#f26014,#fd8a26,#fdae35,#f9bc39,#f5c53a,#dfdf37,#c1f334,#b9f635,#affa37,#96fe44,#a1fd3d,#79fe59,#80ff53,#75fe5c,#7dff56,#59fb73,#4af880,#20eaac,#4af880,#2cf09e,#22ebaa,#2ff19b,#1fe9af,#35f394,#19e2bb,#18dbc5,#19d5cd,#18d7ca,#1ccdd8,#22c5e2,#18d9c8,#1ad4d0,#25c0e7,#19d5cd,#1fc9dd,#1ad2d2,#35abf8,#31aff5,#1fc9dd,#2fb2f4,#3aa3fc,#38a5fb,#38a5fb,#4196ff,#33adf7,#38a5fb,#4294ff,#3aa3fc,#4687fb,#458cfd,#3ba0fd,#458cfd,#4099ff,#3d9efe,#4099ff,#458afc,#448ffe,#448ffe,#3e9bfe,#33adf7,#458afc)"></i><i style="left:668px;width:4.3px;background:linear-gradient(#5dfc6f,#7dff56,#8fff49,#59fb73,#52fa7a,#b4f836,#fdae35,#bc2002,#b91e02,#a41301,#9b0f01,#d83706,#dd3d08,#e4450a,#fe9029,#fcb136,#eecf3a,#c8ef34,#cdec34,#b1f936,#a7fc3a,#a7fc3a,#a1fd3d,#a7fc3a,#e3db38,#fcb136,#fa7b1f,#fc8423,#fb8122,#ef5811,#f9751d,#f56918,#fe9029,#fdac34,#f4c73a,#eecf3a,#e7d739,#c1f334,#cbed34,#b7f735,#9cfe40,#96fe44,#8bff4b,#8fff49,#84ff51,#80ff53,#65fd69,#55fa76,#38f491,#3cf58e,#2aefa1,#38f491,#25eca7,#18dec0,#32f298,#1de7b2,#1ad4d0,#20c7df,#18ddc2,#1ad4d0,#23c3e4,#1ecbda,#18e0bd,#2ab9ee,#22c5e2,#23c3e4,#22c5e2,#38a5fb,#2fb2f4,#37a8fa,#33adf7,#35abf8,#35abf8,#4099ff,#37a8fa,#35abf8,#35abf8,#4391fe,#33adf7,#448ffe,#4196ff,#3ba0fd,#458afc,#4196ff,#3aa3fc,#3ba0fd,#4687fb,#458afc,#458cfd,#4294ff,#33adf7,#4682f8)"></i><i style="left:672px;width:4.3px;background:linear-gradient(#71fe5f,#5dfc6f,#4ef97d,#61fc6c,#6dfe62,#b7f735,#fe962b,#b91e02,#b41b01,#b21a01,#980e01,#d23105,#d23105,#e7490c,#fe962b,#f8be39,#e5d938,#d7e535,#cdec34,#c1f334,#affa37,#a1fd3d,#96fe44,#b1f936,#dfdf37,#fcb136,#fe962b,#f8721c,#f9751d,#ed5510,#f66c19,#f15d13,#fc8725,#f8be39,#f6c33a,#f1cb3a,#eecf3a,#bef434,#dbe236,#b4f836,#a1fd3d,#9cfe40,#96fe44,#84ff51,#92ff47,#80ff53,#59fb73,#5dfc6f,#43f787,#2cf09e,#2cf09e,#2ff19b,#2aefa1,#18dec0,#2ff19b,#18e0bd,#1ecbda,#25c0e7,#18dec0,#18d9c8,#28bceb,#1ad2d2,#19e2bb,#23c3e4,#22c5e2,#2eb4f2,#1ccdd8,#3aa3fc,#37a8fa,#23c3e4,#33adf7,#33adf7,#3d9efe,#38a5fb,#3e9bfe,#31aff5,#38a5fb,#3d9efe,#4196ff,#4778f0,#4391fe,#31aff5,#4391fe,#3aa3fc,#31aff5,#4196ff,#448ffe,#4685fa,#3e9bfe,#4196ff,#3aa3fc,#4680f6)"></i><i style="left:676px;width:4.3px;background:linear-gradient(#61fc6c,#55fa76,#61fc6c,#65fd69,#65fd69,#a4fc3c,#fea732,#a71401,#c82803,#b41b01,#ac1701,#dc3b07,#d43305,#e5470b,#fd8a26,#fea933,#f2c93a,#d4e735,#c1f334,#b9f635,#bcf534,#9cfe40,#a7fc3a,#a4fc3c,#ecd13a,#fdae35,#fe962b,#f66c19,#eb500e,#f15d13,#f36315,#f76f1a,#fe962b,#fdac34,#faba39,#e5d938,#e9d539,#c3f134,#d4e735,#b4f836,#b9f635,#b7f735,#96fe44,#8fff49,#88ff4e,#88ff4e,#79fe59,#6dfe62,#43f787,#3ff68a,#27eea4,#3cf58e,#27eea4,#18dec0,#1ae4b6,#18ddc2,#20c7df,#28bceb,#18e0bd,#18e0bd,#25c0e7,#1ecbda,#18d7ca,#1ccdd8,#27bee9,#37a8fa,#22c5e2,#38a5fb,#2eb4f2,#2cb7f0,#2ab9ee,#2eb4f2,#35abf8,#4196ff,#38a5fb,#35abf8,#33adf7,#3e9bfe,#3e9bfe,#458afc,#3e9bfe,#38a5fb,#4196ff,#35abf8,#4294ff,#4685fa,#448ffe,#4776ee,#3e9bfe,#4685fa,#3e9bfe,#477bf2)"></i><i style="left:680px;width:4.3px;background:linear-gradient(#71fe5f,#71fe5f,#5dfc6f,#61fc6c,#59fb73,#c8ef34,#fea933,#af1801,#b41b01,#a71401,#a91601,#d43305,#be2102,#df3f08,#fa7b1f,#f5c53a,#ebd339,#cdec34,#c6f034,#a9fb39,#b1f936,#8fff49,#b1f936,#9ffd3f,#d9e436,#fdac34,#fe932a,#f15d13,#ed5510,#e5470b,#ef5811,#f66c19,#fd8d27,#fdac34,#fcb336,#e1dd37,#e9d539,#bcf534,#cbed34,#bcf534,#b9f635,#a9fb39,#8fff49,#8bff4b,#7dff56,#8fff49,#96fe44,#69fd66,#2ff19b,#2ff19b,#22ebaa,#35f394,#2ff19b,#18dbc5,#20eaac,#18d9c8,#1ccdd8,#22c5e2,#18d9c8,#18e0bd,#28bceb,#19d5cd,#1bd0d5,#1bd0d5,#2fb2f4,#38a5fb,#1fc9dd,#35abf8,#2ab9ee,#2ab9ee,#3ba0fd,#35abf8,#3ba0fd,#3ba0fd,#4099ff,#2eb4f2,#2cb7f0,#37a8fa,#3d9efe,#458cfd,#3e9bfe,#3aa3fc,#4294ff,#38a5fb,#31aff5,#4773eb,#448ffe,#4685fa,#4687fb,#4294ff,#4294ff,#4294ff)"></i><i style="left:684px;width:4.3px;background:linear-gradient(#71fe5f,#61fc6c,#65fd69,#5dfc6f,#75fe5c,#b9f635,#fea933,#ac1701,#a91601,#950d01,#b91e02,#c82803,#bc2002,#e2430a,#fb7e21,#fcb336,#dfdf37,#d0ea34,#b7f735,#b1f936,#affa37,#a9fb39,#acfb38,#a7fc3a,#d9e436,#fea933,#fe962b,#f46617,#eb500e,#eb500e,#e84b0c,#f9781e,#fd8d27,#fbb838,#f9bc39,#ebd339,#ecd13a,#d0ea34,#c1f334,#c1f334,#a7fc3a,#acfb38,#96fe44,#88ff4e,#61fc6c,#80ff53,#88ff4e,#80ff53,#4af880,#3ff68a,#2cf09e,#43f787,#38f491,#18d9c8,#19e2bb,#18e0bd,#18d7ca,#1ccdd8,#18ddc2,#1ad2d2,#2cb7f0,#18dbc5,#18ddc2,#1ad2d2,#1fc9dd,#35abf8,#23c3e4,#25c0e7,#35abf8,#35abf8,#35abf8,#2eb4f2,#38a5fb,#3e9bfe,#3d9efe,#37a8fa,#35abf8,#31aff5,#4196ff,#4294ff,#4099ff,#4099ff,#4391fe,#38a5fb,#3d9efe,#458afc,#4099ff,#477bf2,#4294ff,#4680f6,#4685fa,#477bf2)"></i><i style="left:688px;width:4.3px;background:linear-gradient(#52fa7a,#69fd66,#69fd66,#5dfc6f,#65fd69,#bef434,#fea933,#b91e02,#a91601,#950d01,#c12302,#c32503,#b41b01,#e4450a,#fd8a26,#fdac34,#ebd339,#dde037,#c6f034,#a9fb39,#a9fb39,#8bff4b,#affa37,#acfb38,#c6f034,#fcb336,#fb8122,#ec530f,#f05b12,#f05b12,#ea4e0d,#f8721c,#fe9b2d,#fea431,#f8be39,#e3db38,#e1dd37,#d2e935,#b7f735,#b7f735,#9ffd3f,#b7f735,#99fe42,#88ff4e,#71fe5f,#79fe59,#79fe59,#61fc6c,#38f491,#2cf09e,#22ebaa,#3cf58e,#35f394,#18e0bd,#18dbc5,#19e2bb,#18dec0,#1ad2d2,#19d5cd,#1ad4d0,#28bceb,#1ad2d2,#1bd0d5,#1fc9dd,#1ecbda,#35abf8,#33adf7,#1ecbda,#2eb4f2,#2cb7f0,#3ba0fd,#35abf8,#37a8fa,#3e9bfe,#37a8fa,#3aa3fc,#2fb2f4,#2ab9ee,#458cfd,#4685fa,#4196ff,#4099ff,#4391fe,#4391fe,#4099ff,#4687fb,#4196ff,#477bf2,#4294ff,#4196ff,#4680f6,#4685fa)"></i><i style="left:692px;width:4.3px;background:linear-gradient(#7dff56,#88ff4e,#79fe59,#79fe59,#59fb73,#b9f635,#fe992c,#c82803,#af1801,#a11201,#ac1701,#ce2d04,#c52603,#df3f08,#fb8122,#fe9029,#efcd3a,#d9e436,#bcf534,#affa37,#a7fc3a,#96fe44,#affa37,#acfb38,#d2e935,#fcb136,#fd8d27,#ed5510,#ec530f,#df3f08,#ed5510,#f8721c,#fe932a,#fea130,#f4c73a,#efcd3a,#d7e535,#c6f034,#a1fd3d,#a9fb39,#96fe44,#affa37,#96fe44,#9cfe40,#84ff51,#80ff53,#75fe5c,#52fa7a,#3cf58e,#43f787,#2ff19b,#38f491,#2cf09e,#19e3b9,#18dbc5,#22ebaa,#1ae4b6,#18d9c8,#20c7df,#19d5cd,#23c3e4,#18d7ca,#1ad2d2,#1ecbda,#1ecbda,#1fc9dd,#27bee9,#2eb4f2,#31aff5,#2eb4f2,#3d9efe,#3ba0fd,#2fb2f4,#4099ff,#4196ff,#4099ff,#3aa3fc,#33adf7,#3e9bfe,#3d9efe,#3e9bfe,#35abf8,#458cfd,#3ba0fd,#37a8fa,#4391fe,#4294ff,#4687fb,#4196ff,#458cfd,#4682f8,#4682f8)"></i><i style="left:696px;width:4.3px;background:linear-gradient(#7dff56,#55fa76,#59fb73,#75fe5c,#65fd69,#a9fb39,#fe9e2f,#b91e02,#b71d02,#ac1701,#bc2002,#d83706,#ce2d04,#e2430a,#fd8d27,#fd8a26,#f5c53a,#d2e935,#bef434,#a1fd3d,#a9fb39,#9ffd3f,#bcf534,#affa37,#cbed34,#eecf3a,#fe932a,#ea4e0d,#ed5510,#eb500e,#f8721c,#fc8725,#fd8a26,#fea431,#f6c33a,#f1cb3a,#e5d938,#c8ef34,#99fe42,#affa37,#79fe59,#b7f735,#99fe42,#92ff47,#6dfe62,#92ff47,#65fd69,#43f787,#32f298,#32f298,#20eaac,#22ebaa,#25eca7,#25eca7,#1ce6b4,#1de7b2,#19e3b9,#1bd0d5,#1ccdd8,#20c7df,#18d7ca,#19d5cd,#1ad2d2,#18dbc5,#1fc9dd,#2eb4f2,#2fb2f4,#1fc9dd,#2fb2f4,#31aff5,#4099ff,#448ffe,#3ba0fd,#3d9efe,#458cfd,#4099ff,#4294ff,#31aff5,#458afc,#4685fa,#4099ff,#4685fa,#4196ff,#4391fe,#33adf7,#448ffe,#458cfd,#448ffe,#33adf7,#477bf2,#477bf2,#4682f8)"></i><i style="left:700px;width:4.3px;background:linear-gradient(#80ff53,#65fd69,#7dff56,#7dff56,#69fd66,#a9fb39,#fe962b,#b91e02,#a11201,#ac1701,#b41b01,#d83706,#d02f05,#ea4e0d,#fe992c,#fe9e2f,#eecf3a,#cdec34,#b7f735,#99fe42,#9cfe40,#8bff4b,#a4fc3c,#92ff47,#cdec34,#e7d739,#fe9e2f,#ec530f,#e84b0c,#dd3d08,#f9781e,#fb8122,#fe9029,#fea431,#f8be39,#ecd13a,#dfdf37,#a7fc3a,#a7fc3a,#b1f936,#75fe5c,#bcf534,#a9fb39,#5dfc6f,#80ff53,#79fe59,#69fd66,#3cf58e,#43f787,#4af880,#27eea4,#2ff19b,#25eca7,#22ebaa,#18dec0,#27eea4,#18e0bd,#1ccdd8,#18dbc5,#20c7df,#1ad2d2,#19e2bb,#18d7ca,#1ad4d0,#22c5e2,#27bee9,#2ab9ee,#1ecbda,#2eb4f2,#2ab9ee,#3d9efe,#4099ff,#37a8fa,#3e9bfe,#4682f8,#3ba0fd,#4294ff,#3ba0fd,#4687fb,#4687fb,#37a8fa,#4099ff,#458afc,#4099ff,#38a5fb,#4687fb,#458afc,#4776ee,#38a5fb,#458afc,#4778f0,#4687fb)"></i><i style="left:704px;width:4.3px;background:linear-gradient(#69fd66,#2cf09e,#38f491,#27eea4,#3cf58e,#a4fc3c,#fe9b2d,#b91e02,#9e1001,#b41b01,#b71d02,#dd3d08,#d23105,#ec530f,#fe962b,#fea130,#e3db38,#d2e935,#96fe44,#acfb38,#88ff4e,#99fe42,#b1f936,#8bff4b,#cdec34,#ecd13a,#fe932a,#e7490c,#e14109,#dc3b07,#f9751d,#f9751d,#fc8725,#fea431,#fcb336,#e9d539,#e5d938,#acfb38,#a1fd3d,#99fe42,#61fc6c,#b1f936,#99fe42,#75fe5c,#99fe42,#79fe59,#65fd69,#55fa76,#43f787,#35f394,#20eaac,#27eea4,#1ce6b4,#22ebaa,#2aefa1,#20eaac,#18d7ca,#18dbc5,#18d9c8,#20c7df,#18d7ca,#18d7ca,#1bd0d5,#1ad4d0,#1bd0d5,#22c5e2,#27bee9,#22c5e2,#25c0e7,#2fb2f4,#4294ff,#38a5fb,#3ba0fd,#3d9efe,#4294ff,#4294ff,#3aa3fc,#4196ff,#448ffe,#4196ff,#35abf8,#4687fb,#4680f6,#458afc,#3ba0fd,#4680f6,#4294ff,#4682f8,#2fb2f4,#4687fb,#467df4,#4294ff)"></i><i style="left:708px;width:4.3px;background:linear-gradient(#6dfe62,#61fc6c,#75fe5c,#75fe5c,#88ff4e,#b4f836,#fe992c,#c52603,#a11201,#b91e02,#b21a01,#ce2d04,#d43305,#e7490c,#fe962b,#fdae35,#ebd339,#cbed34,#b7f735,#a4fc3c,#9cfe40,#92ff47,#8bff4b,#75fe5c,#cdec34,#e3db38,#fe9e2f,#ed5510,#ec530f,#d63506,#f9781e,#fa7b1f,#fc8423,#fdae35,#fcb136,#e7d739,#e3db38,#b4f836,#a9fb39,#acfb38,#79fe59,#b4f836,#a9fb39,#7dff56,#84ff51,#80ff53,#79fe59,#4af880,#4af880,#2aefa1,#27eea4,#2aefa1,#19e3b9,#19e2bb,#18e0bd,#1de7b2,#19e2bb,#1fc9dd,#19d5cd,#1fc9dd,#18dbc5,#19d5cd,#1bd0d5,#1ad2d2,#20c7df,#22c5e2,#2fb2f4,#22c5e2,#23c3e4,#28bceb,#4196ff,#4099ff,#2fb2f4,#3d9efe,#4294ff,#458afc,#3d9efe,#448ffe,#37a8fa,#4294ff,#3d9efe,#448ffe,#4391fe,#458cfd,#2eb4f2,#467df4,#38a5fb,#4391fe,#37a8fa,#4687fb,#477bf2,#4294ff)"></i><i style="left:712px;width:4.3px;background:linear-gradient(#59fb73,#6dfe62,#75fe5c,#5dfc6f,#65fd69,#a9fb39,#fcb136,#c32503,#be2102,#a41301,#c12302,#d02f05,#d02f05,#f15d13,#fd8d27,#fcb136,#f2c93a,#d0ea34,#bef434,#affa37,#99fe42,#92ff47,#99fe42,#84ff51,#dfdf37,#ebd339,#fd8d27,#f46617,#e84b0c,#da3907,#fb7e21,#fb7e21,#fe992c,#fea933,#f7c13a,#e1dd37,#f2c93a,#affa37,#affa37,#a9fb39,#75fe5c,#a1fd3d,#9cfe40,#80ff53,#84ff51,#7dff56,#5dfc6f,#65fd69,#43f787,#46f884,#22ebaa,#32f298,#19e3b9,#25eca7,#1ae4b6,#19e3b9,#18dec0,#1ecbda,#18ddc2,#1bd0d5,#1ad2d2,#1ecbda,#1ecbda,#1ccdd8,#22c5e2,#2cb7f0,#22c5e2,#27bee9,#27bee9,#25c0e7,#31aff5,#3ba0fd,#33adf7,#3d9efe,#3aa3fc,#4294ff,#4391fe,#38a5fb,#3ba0fd,#4687fb,#4099ff,#467df4,#467df4,#4685fa,#37a8fa,#4687fb,#4294ff,#4680f6,#3d9efe,#4685fa,#448ffe,#4682f8)"></i><i style="left:716px;width:4.3px;background:linear-gradient(#75fe5c,#27eea4,#2aefa1,#32f298,#27eea4,#b7f735,#fea431,#ca2a04,#c52603,#a71401,#c82803,#cc2b04,#c12302,#ea4e0d,#f9781e,#f9bc39,#ebd339,#d4e735,#a1fd3d,#a4fc3c,#9ffd3f,#92ff47,#92ff47,#79fe59,#e1dd37,#ecd13a,#fd8a26,#f05b12,#eb500e,#d02f05,#fa7b1f,#fb8122,#fd8d27,#fea732,#fcb336,#d2e935,#e7d739,#c1f334,#b4f836,#9ffd3f,#88ff4e,#84ff51,#75fe5c,#79fe59,#52fa7a,#7dff56,#4ef97d,#6dfe62,#61fc6c,#2cf09e,#2aefa1,#1de7b2,#38f491,#27eea4,#19e3b9,#18ddc2,#1ad4d0,#1fc9dd,#19e2bb,#19d5cd,#1ad2d2,#1ccdd8,#22c5e2,#2ab9ee,#25c0e7,#2cb7f0,#28bceb,#2cb7f0,#35abf8,#37a8fa,#3e9bfe,#3e9bfe,#3aa3fc,#3aa3fc,#4294ff,#4685fa,#3d9efe,#4196ff,#38a5fb,#448ffe,#458cfd,#458cfd,#4680f6,#458cfd,#3e9bfe,#4391fe,#4294ff,#4391fe,#4099ff,#448ffe,#4778f0,#458afc)"></i><i style="left:720px;width:4.3px;background:linear-gradient(#3ff68a,#3cf58e,#25eca7,#1de7b2,#2cf09e,#b9f635,#fdac34,#c52603,#c12302,#af1801,#bc2002,#c82803,#d83706,#ed5510,#f9751d,#f8be39,#e9d539,#c8ef34,#acfb38,#a4fc3c,#a7fc3a,#9ffd3f,#6dfe62,#80ff53,#ebd339,#f5c53a,#fe9e2f,#f56918,#e7490c,#d23105,#f46617,#fa7b1f,#fe932a,#fe9b2d,#f9bc39,#d7e535,#dbe236,#bcf534,#bcf534,#99fe42,#8fff49,#88ff4e,#88ff4e,#84ff51,#52fa7a,#8bff4b,#3ff68a,#61fc6c,#65fd69,#35f394,#4af880,#1de7b2,#2cf09e,#2aefa1,#1fe9af,#1fe9af,#18ddc2,#25c0e7,#18ddc2,#1ad2d2,#19d5cd,#22c5e2,#27bee9,#35abf8,#22c5e2,#2ab9ee,#25c0e7,#2fb2f4,#2ab9ee,#35abf8,#3aa3fc,#38a5fb,#3e9bfe,#35abf8,#4391fe,#4391fe,#4196ff,#4196ff,#4099ff,#4196ff,#3e9bfe,#4687fb,#4669e0,#4391fe,#4196ff,#4682f8,#458afc,#4685fa,#4680f6,#458afc,#4685fa,#4771e9)"></i><i style="left:724px;width:4.3px;background:linear-gradient(#52fa7a,#3cf58e,#3cf58e,#3ff68a,#38f491,#b7f735,#fe9029,#c12302,#ce2d04,#a91601,#c52603,#c32503,#cc2b04,#f36315,#fa7b1f,#f9bc39,#eecf3a,#e1dd37,#b7f735,#9cfe40,#a7fc3a,#99fe42,#75fe5c,#a1fd3d,#f1cb3a,#f1cb3a,#fe932a,#f8721c,#dd3d08,#dd3d08,#f26014,#f8721c,#fea130,#fea732,#f6c33a,#d9e436,#d7e535,#cdec34,#b4f836,#affa37,#a7fc3a,#96fe44,#7dff56,#6dfe62,#5dfc6f,#71fe5f,#35f394,#5dfc6f,#55fa76,#3cf58e,#35f394,#19e3b9,#2ff19b,#1fe9af,#19e2bb,#18ddc2,#18e0bd,#20c7df,#18d7ca,#1bd0d5,#20c7df,#1bd0d5,#1ecbda,#3d9efe,#22c5e2,#25c0e7,#2ab9ee,#3ba0fd,#33adf7,#37a8fa,#3d9efe,#4294ff,#3aa3fc,#33adf7,#4685fa,#4294ff,#4196ff,#4294ff,#4196ff,#4687fb,#4680f6,#4685fa,#467df4,#4196ff,#4196ff,#467df4,#476ee6,#458cfd,#458cfd,#35abf8,#4682f8,#4778f0)"></i><i style="left:728px;width:4.3px;background:linear-gradient(#61fc6c,#61fc6c,#4ef97d,#6dfe62,#79fe59,#a1fd3d,#fea732,#bc2002,#d23105,#b71d02,#c32503,#d23105,#d63506,#f15d13,#fa7b1f,#fdae35,#e3db38,#d4e735,#acfb38,#a4fc3c,#9cfe40,#88ff4e,#8bff4b,#8bff4b,#eecf3a,#fbb637,#fe9e2f,#f36315,#e84b0c,#e4450a,#f15d13,#fb8122,#fe992c,#fcb336,#eecf3a,#e9d539,#d4e735,#d0ea34,#a9fb39,#9cfe40,#a1fd3d,#8bff4b,#84ff51,#5dfc6f,#46f884,#6dfe62,#35f394,#65fd69,#71fe5f,#38f491,#3ff68a,#18ddc2,#2aefa1,#1fe9af,#1ce6b4,#18e0bd,#18dec0,#1ad2d2,#19e2bb,#1ad4d0,#22c5e2,#20c7df,#25c0e7,#35abf8,#22c5e2,#2ab9ee,#28bceb,#2fb2f4,#1ecbda,#4196ff,#4196ff,#4294ff,#2ab9ee,#38a5fb,#4391fe,#4099ff,#458cfd,#4294ff,#4196ff,#3d9efe,#4680f6,#477bf2,#4680f6,#3ba0fd,#4099ff,#4776ee,#4669e0,#4391fe,#4685fa,#3d9efe,#4685fa,#476ee6)"></i><i style="left:732px;width:4.3px;background:linear-gradient(#65fd69,#59fb73,#6dfe62,#6dfe62,#65fd69,#99fe42,#fcb336,#b41b01,#ca2a04,#af1801,#bc2002,#bc2002,#d83706,#ed5510,#f9751d,#fdac34,#e3db38,#d4e735,#b1f936,#a1fd3d,#9cfe40,#99fe42,#88ff4e,#9cfe40,#dde037,#fbb637,#fe9b2d,#f26014,#ea4e0d,#eb500e,#f05b12,#f9751d,#fe9029,#fe9e2f,#f6c33a,#e5d938,#e1dd37,#d0ea34,#a9fb39,#a1fd3d,#9ffd3f,#6dfe62,#75fe5c,#7dff56,#75fe5c,#84ff51,#46f884,#55fa76,#65fd69,#3ff68a,#3ff68a,#1ae4b6,#2aefa1,#19e2bb,#18d7ca,#25eca7,#18ddc2,#1ad2d2,#20eaac,#18e0bd,#1bd0d5,#1ccdd8,#2fb2f4,#35abf8,#1ecbda,#27bee9,#20c7df,#3aa3fc,#28bceb,#3aa3fc,#37a8fa,#4099ff,#2fb2f4,#38a5fb,#4099ff,#38a5fb,#4685fa,#4294ff,#4687fb,#38a5fb,#458cfd,#4687fb,#458cfd,#33adf7,#4687fb,#4680f6,#4666dd,#458cfd,#476ee6,#3ba0fd,#4391fe,#4661d6)"></i><i style="left:736px;width:4.3px;background:linear-gradient(#55fa76,#2aefa1,#35f394,#2aefa1,#1de7b2,#acfb38,#fea732,#b41b01,#a41301,#a91601,#c32503,#af1801,#df3f08,#e7490c,#f8721c,#fdae35,#d4e735,#cbed34,#a9fb39,#a7fc3a,#92ff47,#8fff49,#99fe42,#a4fc3c,#dbe236,#f5c53a,#fdac34,#f8721c,#ea4e0d,#ef5811,#f15d13,#f66c19,#fea431,#fdae35,#f7c13a,#e5d938,#dde037,#c8ef34,#bef434,#96fe44,#9ffd3f,#7dff56,#88ff4e,#71fe5f,#92ff47,#6dfe62,#59fb73,#52fa7a,#61fc6c,#2ff19b,#43f787,#25eca7,#20eaac,#1ae4b6,#19e3b9,#1de7b2,#22ebaa,#18d7ca,#18dec0,#18dec0,#1bd0d5,#1ad4d0,#2cb7f0,#28bceb,#2ab9ee,#31aff5,#1fc9dd,#38a5fb,#20c7df,#38a5fb,#2fb2f4,#458afc,#27bee9,#4099ff,#4099ff,#35abf8,#448ffe,#448ffe,#4196ff,#458afc,#4687fb,#458cfd,#458afc,#4196ff,#4685fa,#476ee6,#455ed3,#458afc,#466be3,#3d9efe,#3e9bfe,#4664da)"></i><i style="left:740px;width:4.3px;background:linear-gradient(#75fe5c,#3cf58e,#32f298,#3ff68a,#2cf09e,#9ffd3f,#fdae35,#b21a01,#a91601,#b41b01,#ca2a04,#c52603,#e4450a,#ed5510,#f9751d,#fea732,#d2e935,#d0ea34,#affa37,#b4f836,#99fe42,#99fe42,#acfb38,#b4f836,#dfdf37,#f4c73a,#fbb637,#f66c19,#ef5811,#f46617,#ec530f,#fd8a26,#fe9e2f,#fcb136,#fdac34,#eecf3a,#d7e535,#cbed34,#99fe42,#92ff47,#92ff47,#84ff51,#80ff53,#99fe42,#84ff51,#5dfc6f,#59fb73,#59fb73,#5dfc6f,#22ebaa,#3ff68a,#1ae4b6,#18e0bd,#19e2bb,#1fe9af,#22ebaa,#1ae4b6,#18d7ca,#19e3b9,#19d5cd,#18d7ca,#23c3e4,#22c5e2,#35abf8,#2cb7f0,#33adf7,#28bceb,#37a8fa,#22c5e2,#4196ff,#3aa3fc,#458cfd,#2cb7f0,#33adf7,#38a5fb,#4196ff,#477bf2,#4682f8,#458cfd,#4099ff,#4685fa,#4685fa,#4685fa,#4099ff,#4099ff,#477bf2,#4664da,#458cfd,#4778f0,#35abf8,#458cfd,#4776ee)"></i><i style="left:744px;width:4.3px;background:linear-gradient(#61fc6c,#92ff47,#65fd69,#6dfe62,#7dff56,#79fe59,#fea130,#af1801,#9e1001,#be2102,#ca2a04,#c52603,#e84b0c,#ef5811,#fc8725,#fea732,#d7e535,#d4e735,#b1f936,#acfb38,#8fff49,#99fe42,#acfb38,#b4f836,#dde037,#f1cb3a,#fcb136,#f46617,#ea4e0d,#eb500e,#e7490c,#fd8a26,#fe9029,#fe962b,#fdac34,#ebd339,#dbe236,#cbed34,#affa37,#9cfe40,#88ff4e,#80ff53,#92ff47,#6dfe62,#84ff51,#6dfe62,#79fe59,#4af880,#4af880,#20eaac,#22ebaa,#2cf09e,#18dbc5,#19e2bb,#1fe9af,#19e2bb,#1ae4b6,#18dbc5,#20eaac,#18d7ca,#1ad4d0,#23c3e4,#1bd0d5,#2fb2f4,#28bceb,#2eb4f2,#27bee9,#31aff5,#28bceb,#3e9bfe,#28bceb,#4685fa,#2eb4f2,#2cb7f0,#3ba0fd,#4687fb,#458cfd,#4099ff,#4099ff,#4294ff,#4685fa,#4391fe,#458afc,#4391fe,#448ffe,#467df4,#466be3,#4682f8,#466be3,#4294ff,#4294ff,#467df4)"></i><i style="left:748px;width:4.3px;background:linear-gradient(#6dfe62,#27eea4,#1ce6b4,#25eca7,#2cf09e,#99fe42,#fea431,#ac1701,#a91601,#c82803,#c82803,#be2102,#dd3d08,#ed5510,#f9781e,#fea130,#d7e535,#d4e735,#b4f836,#affa37,#88ff4e,#8fff49,#a1fd3d,#acfb38,#d4e735,#eecf3a,#fdac34,#f26014,#f36315,#f56918,#ea4e0d,#f9781e,#fea130,#fea130,#fcb136,#d7e535,#d7e535,#d2e935,#b4f836,#7dff56,#a1fd3d,#79fe59,#9ffd3f,#80ff53,#75fe5c,#5dfc6f,#65fd69,#59fb73,#59fb73,#25eca7,#2ff19b,#25eca7,#18dec0,#1ce6b4,#1ae4b6,#19e3b9,#18d9c8,#18dec0,#1de7b2,#1ad2d2,#1bd0d5,#2eb4f2,#1bd0d5,#2ab9ee,#25c0e7,#35abf8,#2cb7f0,#37a8fa,#27bee9,#4294ff,#2fb2f4,#4196ff,#37a8fa,#27bee9,#33adf7,#4196ff,#458cfd,#3e9bfe,#4294ff,#4196ff,#467df4,#4685fa,#448ffe,#458afc,#458cfd,#4687fb,#4773eb,#4294ff,#4680f6,#4294ff,#458afc,#4685fa)"></i><i style="left:752px;width:4.3px;background:linear-gradient(#65fd69,#52fa7a,#55fa76,#75fe5c,#79fe59,#96fe44,#fea732,#b91e02,#b41b01,#b21a01,#d63506,#cc2b04,#e84b0c,#f15d13,#fc8423,#fcb136,#d7e535,#cdec34,#cbed34,#a9fb39,#7dff56,#9cfe40,#a1fd3d,#9cfe40,#d7e535,#ecd13a,#fcb136,#f56918,#f9781e,#f46617,#f66c19,#fc8423,#fea933,#fcb136,#f9bc39,#dfdf37,#c1f334,#d2e935,#9ffd3f,#9ffd3f,#9cfe40,#79fe59,#99fe42,#69fd66,#79fe59,#65fd69,#7dff56,#38f491,#46f884,#3cf58e,#2cf09e,#22ebaa,#18e0bd,#1de7b2,#1ce6b4,#1ce6b4,#18dbc5,#18d9c8,#19e3b9,#18d7ca,#1fc9dd,#33adf7,#1bd0d5,#22c5e2,#22c5e2,#27bee9,#23c3e4,#38a5fb,#31aff5,#4391fe,#33adf7,#3d9efe,#38a5fb,#38a5fb,#2eb4f2,#3e9bfe,#3aa3fc,#4099ff,#38a5fb,#458afc,#477bf2,#458cfd,#448ffe,#4687fb,#4687fb,#4680f6,#477bf2,#4294ff,#467df4,#3d9efe,#4391fe,#458afc)"></i><i style="left:756px;width:4.3px;background:linear-gradient(#69fd66,#5dfc6f,#4ef97d,#55fa76,#61fc6c,#a9fb39,#fdae35,#be2102,#b71d02,#d23105,#c52603,#ca2a04,#e4450a,#f15d13,#fd8a26,#fbb637,#d7e535,#d2e935,#c8ef34,#a4fc3c,#99fe42,#a1fd3d,#99fe42,#a1fd3d,#d4e735,#dde037,#f6c33a,#fc8423,#fc8423,#fb8122,#fb7e21,#fb8122,#fea933,#fea732,#fbb838,#dfdf37,#d7e535,#d7e535,#acfb38,#9ffd3f,#99fe42,#99fe42,#a4fc3c,#8bff4b,#75fe5c,#79fe59,#71fe5f,#61fc6c,#32f298,#38f491,#38f491,#2ff19b,#19e2bb,#20eaac,#25eca7,#19e3b9,#1ccdd8,#18d9c8,#18d7ca,#1ad2d2,#18ddc2,#38a5fb,#23c3e4,#22c5e2,#25c0e7,#27bee9,#31aff5,#38a5fb,#2cb7f0,#4196ff,#2eb4f2,#38a5fb,#31aff5,#2fb2f4,#2fb2f4,#3d9efe,#37a8fa,#4196ff,#33adf7,#3aa3fc,#4687fb,#448ffe,#3e9bfe,#4391fe,#4680f6,#4771e9,#4687fb,#458afc,#4778f0,#4099ff,#4099ff,#3e9bfe)"></i><i style="left:760px;width:4.3px;background:linear-gradient(#61fc6c,#5dfc6f,#80ff53,#59fb73,#6dfe62,#c1f334,#f5c53a,#cc2b04,#c12302,#d02f05,#cc2b04,#c82803,#dd3d08,#f46617,#fd8d27,#fcb136,#d7e535,#d2e935,#bef434,#acfb38,#92ff47,#a1fd3d,#9ffd3f,#a9fb39,#c8ef34,#e3db38,#f5c53a,#fb8122,#fe992c,#fe9029,#fd8d27,#fc8725,#fdac34,#fea431,#fbb637,#dbe236,#d4e735,#c8ef34,#c3f134,#a1fd3d,#99fe42,#8bff4b,#a9fb39,#7dff56,#6dfe62,#7dff56,#6dfe62,#69fd66,#3ff68a,#2cf09e,#22ebaa,#3cf58e,#1de7b2,#1fe9af,#1ce6b4,#1de7b2,#18dec0,#18d9c8,#1ad4d0,#18d7ca,#1ccdd8,#28bceb,#1bd0d5,#22c5e2,#1ad2d2,#23c3e4,#35abf8,#35abf8,#31aff5,#3ba0fd,#23c3e4,#31aff5,#38a5fb,#25c0e7,#2ab9ee,#3e9bfe,#31aff5,#3aa3fc,#4294ff,#4391fe,#4682f8,#448ffe,#3e9bfe,#458cfd,#4682f8,#4682f8,#448ffe,#467df4,#4391fe,#4687fb,#4682f8,#4682f8)"></i><i style="left:764px;width:4.3px;background:linear-gradient(#6dfe62,#6dfe62,#69fd66,#6dfe62,#6dfe62,#bef434,#fdae35,#c52603,#c12302,#ce2d04,#c82803,#cc2b04,#ea4e0d,#f26014,#fc8725,#fea933,#dbe236,#d4e735,#c3f134,#a9fb39,#9cfe40,#9ffd3f,#84ff51,#96fe44,#a1fd3d,#d9e436,#e9d539,#fea732,#fea732,#fe9b2d,#fe9b2d,#fe9e2f,#fcb136,#fea130,#f6c33a,#f5c53a,#c6f034,#c6f034,#c1f334,#9ffd3f,#a9fb39,#8fff49,#88ff4e,#75fe5c,#6dfe62,#84ff51,#88ff4e,#65fd69,#3cf58e,#43f787,#25eca7,#32f298,#27eea4,#2ff19b,#20eaac,#1ae4b6,#27eea4,#18ddc2,#1ecbda,#1ecbda,#1ccdd8,#38a5fb,#1ccdd8,#25c0e7,#18d9c8,#1ccdd8,#2eb4f2,#31aff5,#23c3e4,#3e9bfe,#31aff5,#33adf7,#3ba0fd,#2ab9ee,#2cb7f0,#4099ff,#35abf8,#3d9efe,#2fb2f4,#3ba0fd,#467df4,#4687fb,#38a5fb,#4099ff,#4685fa,#4682f8,#38a5fb,#467df4,#4196ff,#477bf2,#3e9bfe,#477bf2)"></i><i style="left:768px;width:4.3px;background:linear-gradient(#8bff4b,#80ff53,#71fe5f,#46f884,#71fe5f,#cdec34,#fdae35,#c82803,#c52603,#d63506,#c52603,#dd3d08,#f46617,#f26014,#f9781e,#fdae35,#d9e436,#d4e735,#b9f635,#9ffd3f,#92ff47,#9ffd3f,#92ff47,#96fe44,#a9fb39,#dbe236,#e9d539,#f7c13a,#f5c53a,#fea431,#fe9e2f,#fe992c,#fcb136,#faba39,#fbb637,#e9d539,#cbed34,#c6f034,#c8ef34,#9ffd3f,#a9fb39,#8fff49,#99fe42,#88ff4e,#65fd69,#59fb73,#8fff49,#4ef97d,#52fa7a,#4ef97d,#38f491,#3cf58e,#22ebaa,#18dec0,#1ae4b6,#19e2bb,#18dec0,#22ebaa,#19d5cd,#18d9c8,#18d7ca,#2fb2f4,#23c3e4,#20c7df,#1ad4d0,#1bd0d5,#37a8fa,#2eb4f2,#2fb2f4,#2fb2f4,#35abf8,#33adf7,#4196ff,#28bceb,#25c0e7,#4099ff,#3aa3fc,#2fb2f4,#4294ff,#4391fe,#477bf2,#4685fa,#38a5fb,#4099ff,#4099ff,#458cfd,#4099ff,#458cfd,#3e9bfe,#458cfd,#458cfd,#4682f8)"></i><i style="left:772px;width:4.3px;background:linear-gradient(#6dfe62,#32f298,#35f394,#1de7b2,#1ce6b4,#d2e935,#fbb838,#b91e02,#be2102,#cc2b04,#be2102,#d63506,#f36315,#f76f1a,#fe932a,#fbb637,#d9e436,#d4e735,#cbed34,#b4f836,#a9fb39,#96fe44,#84ff51,#a7fc3a,#92ff47,#cdec34,#dfdf37,#f1cb3a,#f7c13a,#f9bc39,#fcb136,#fea130,#fdae35,#fe9b2d,#fea732,#f2c93a,#cdec34,#b9f635,#c6f034,#80ff53,#9ffd3f,#a1fd3d,#80ff53,#71fe5f,#71fe5f,#71fe5f,#5dfc6f,#52fa7a,#46f884,#59fb73,#25eca7,#2ff19b,#22ebaa,#1ad2d2,#19e3b9,#1ce6b4,#1de7b2,#22ebaa,#19d5cd,#18d7ca,#20c7df,#27bee9,#1ccdd8,#1fc9dd,#25c0e7,#18d7ca,#2ab9ee,#35abf8,#33adf7,#4196ff,#35abf8,#3e9bfe,#4196ff,#33adf7,#35abf8,#4391fe,#33adf7,#4294ff,#458cfd,#3e9bfe,#4778f0,#4391fe,#3d9efe,#4196ff,#37a8fa,#458afc,#4099ff,#4099ff,#3e9bfe,#4685fa,#4294ff,#458afc)"></i><i style="left:776px;width:4.3px;background:linear-gradient(#69fd66,#84ff51,#71fe5f,#80ff53,#71fe5f,#c6f034,#fdac34,#ac1701,#c12302,#d23105,#b21a01,#df3f08,#f46617,#f66c19,#fc8423,#f9bc39,#eecf3a,#dfdf37,#bef434,#a7fc3a,#affa37,#79fe59,#99fe42,#a4fc3c,#75fe5c,#c8ef34,#d0ea34,#f5c53a,#f6c33a,#fdae35,#fcb336,#fe9b2d,#fdae35,#fdae35,#fdae35,#efcd3a,#dbe236,#c6f034,#cbed34,#a1fd3d,#a7fc3a,#9cfe40,#75fe5c,#75fe5c,#71fe5f,#65fd69,#65fd69,#38f491,#4ef97d,#5dfc6f,#2aefa1,#25eca7,#25eca7,#22c5e2,#18d7ca,#18dbc5,#18ddc2,#19e3b9,#18d9c8,#19d5cd,#18dec0,#25c0e7,#1ecbda,#1fc9dd,#2ab9ee,#1fc9dd,#2ab9ee,#2fb2f4,#20c7df,#3d9efe,#2eb4f2,#2eb4f2,#31aff5,#3d9efe,#33adf7,#4391fe,#33adf7,#4099ff,#4099ff,#458afc,#4773eb,#4687fb,#3e9bfe,#4099ff,#4099ff,#4391fe,#4687fb,#4294ff,#4294ff,#458afc,#4196ff,#4680f6)"></i><i style="left:780px;width:4.3px;background:linear-gradient(#69fd66,#80ff53,#75fe5c,#46f884,#5dfc6f,#cbed34,#fbb838,#b21a01,#b71d02,#df3f08,#c12302,#df3f08,#ea4e0d,#f66c19,#fe932a,#f6c33a,#f1cb3a,#ebd339,#c6f034,#a9fb39,#a7fc3a,#6dfe62,#9ffd3f,#a7fc3a,#71fe5f,#bcf534,#c6f034,#e5d938,#ecd13a,#faba39,#fdae35,#fea732,#fe9e2f,#fe962b,#fbb838,#f8be39,#e7d739,#d2e935,#cbed34,#a4fc3c,#acfb38,#92ff47,#79fe59,#88ff4e,#69fd66,#84ff51,#61fc6c,#25eca7,#35f394,#52fa7a,#18dbc5,#32f298,#19e2bb,#18dbc5,#18dbc5,#1fe9af,#18ddc2,#1de7b2,#1ccdd8,#1ad2d2,#18e0bd,#28bceb,#1ecbda,#23c3e4,#27bee9,#25c0e7,#27bee9,#28bceb,#31aff5,#35abf8,#2fb2f4,#33adf7,#35abf8,#3aa3fc,#3d9efe,#3d9efe,#2fb2f4,#448ffe,#3d9efe,#3e9bfe,#458cfd,#4685fa,#3e9bfe,#3aa3fc,#33adf7,#3e9bfe,#4294ff,#458cfd,#458afc,#458cfd,#3e9bfe,#3d9efe)"></i><i style="left:784px;width:4.3px;background:linear-gradient(#79fe59,#79fe59,#55fa76,#6dfe62,#80ff53,#c8ef34,#fcb336,#b71d02,#be2102,#ce2d04,#bc2002,#e14109,#e14109,#f66c19,#fc8725,#f7c13a,#f6c33a,#dfdf37,#b9f635,#b7f735,#a1fd3d,#79fe59,#8fff49,#96fe44,#6dfe62,#b4f836,#c6f034,#e3db38,#e7d739,#f4c73a,#fbb637,#fd8d27,#fbb637,#fea130,#fea431,#f8be39,#e9d539,#dde037,#d2e935,#acfb38,#b1f936,#8bff4b,#7dff56,#79fe59,#59fb73,#7dff56,#4af880,#38f491,#43f787,#4af880,#1fe9af,#27eea4,#1fe9af,#19e3b9,#18d7ca,#20eaac,#1de7b2,#18ddc2,#1ecbda,#1ad2d2,#19e2bb,#1ad4d0,#1ad4d0,#23c3e4,#27bee9,#38a5fb,#25c0e7,#23c3e4,#31aff5,#3aa3fc,#33adf7,#38a5fb,#2fb2f4,#3d9efe,#458cfd,#458afc,#35abf8,#4687fb,#4196ff,#3ba0fd,#4196ff,#458cfd,#448ffe,#3e9bfe,#3ba0fd,#448ffe,#4099ff,#4099ff,#4196ff,#3e9bfe,#3ba0fd,#458cfd)"></i><i style="left:788px;width:4.3px;background:linear-gradient(#65fd69,#7dff56,#79fe59,#55fa76,#71fe5f,#c8ef34,#fbb637,#cc2b04,#c32503,#e4450a,#be2102,#d83706,#d83706,#fb8122,#fe9029,#faba39,#f5c53a,#dbe236,#b9f635,#affa37,#b1f936,#6dfe62,#6dfe62,#88ff4e,#80ff53,#a1fd3d,#affa37,#dbe236,#dde037,#f1cb3a,#fdac34,#fd8a26,#fdac34,#fea130,#fcb336,#fbb838,#ecd13a,#e9d539,#d7e535,#b1f936,#bef434,#75fe5c,#65fd69,#8fff49,#59fb73,#6dfe62,#4ef97d,#46f884,#46f884,#3ff68a,#19e3b9,#32f298,#27eea4,#18ddc2,#18ddc2,#1de7b2,#19e2bb,#18dbc5,#1fc9dd,#1bd0d5,#1ce6b4,#1bd0d5,#18d7ca,#2cb7f0,#25c0e7,#22c5e2,#22c5e2,#2cb7f0,#31aff5,#3ba0fd,#3aa3fc,#28bceb,#35abf8,#3aa3fc,#4294ff,#458afc,#2fb2f4,#4099ff,#4294ff,#37a8fa,#4391fe,#4685fa,#4391fe,#4099ff,#3e9bfe,#4294ff,#3d9efe,#458afc,#467df4,#4687fb,#3aa3fc,#4391fe)"></i><i style="left:792px;width:4.3px;background:linear-gradient(#61fc6c,#59fb73,#84ff51,#75fe5c,#80ff53,#c1f334,#fea933,#ca2a04,#ce2d04,#dc3b07,#b71d02,#eb500e,#e5470b,#f9781e,#fd8d27,#fcb336,#f8be39,#dbe236,#bcf534,#bef434,#8bff4b,#6dfe62,#84ff51,#a1fd3d,#69fd66,#a4fc3c,#96fe44,#c8ef34,#d4e735,#e9d539,#fdae35,#fe9029,#fea130,#fe9b2d,#f8be39,#faba39,#f2c93a,#eecf3a,#d0ea34,#b7f735,#bef434,#84ff51,#8bff4b,#88ff4e,#69fd66,#61fc6c,#4af880,#5dfc6f,#35f394,#38f491,#1ce6b4,#38f491,#22ebaa,#1ce6b4,#1ce6b4,#1de7b2,#1de7b2,#18d7ca,#1ecbda,#19d5cd,#18d7ca,#20c7df,#1ad4d0,#28bceb,#23c3e4,#2ab9ee,#1ccdd8,#28bceb,#2fb2f4,#38a5fb,#35abf8,#3ba0fd,#33adf7,#3e9bfe,#38a5fb,#4099ff,#3e9bfe,#4685fa,#4391fe,#37a8fa,#3ba0fd,#4687fb,#37a8fa,#4196ff,#4196ff,#3e9bfe,#31aff5,#3d9efe,#4391fe,#4099ff,#4099ff,#458afc)"></i><i style="left:796px;width:4.3px;background:linear-gradient(#5dfc6f,#65fd69,#8bff4b,#5dfc6f,#6dfe62,#d9e436,#fdac34,#be2102,#cc2b04,#d83706,#bc2002,#e84b0c,#e14109,#fd8d27,#fe992c,#fcb136,#f9bc39,#e3db38,#c1f334,#b7f735,#99fe42,#55fa76,#79fe59,#7dff56,#71fe5f,#8fff49,#79fe59,#b4f836,#c1f334,#dde037,#faba39,#fe9e2f,#fbb838,#fea933,#f6c33a,#fbb637,#f7c13a,#eecf3a,#e3db38,#b9f635,#cdec34,#88ff4e,#7dff56,#99fe42,#80ff53,#71fe5f,#71fe5f,#46f884,#38f491,#2ff19b,#22ebaa,#2cf09e,#32f298,#1ce6b4,#19e3b9,#1fe9af,#1ae4b6,#18ddc2,#22c5e2,#18d7ca,#1bd0d5,#1ecbda,#25c0e7,#2fb2f4,#23c3e4,#33adf7,#27bee9,#2ab9ee,#2cb7f0,#37a8fa,#2eb4f2,#3d9efe,#3aa3fc,#35abf8,#31aff5,#35abf8,#33adf7,#458cfd,#4687fb,#3ba0fd,#4196ff,#458afc,#35abf8,#33adf7,#4294ff,#3e9bfe,#35abf8,#467df4,#4196ff,#458afc,#4294ff,#467df4)"></i><i style="left:800px;width:4.3px;background:linear-gradient(#71fe5f,#35f394,#32f298,#25eca7,#3cf58e,#cbed34,#fdac34,#bc2002,#ca2a04,#d63506,#af1801,#e7490c,#df3f08,#f9781e,#fe9e2f,#f6c33a,#efcd3a,#d9e436,#c3f134,#b1f936,#92ff47,#71fe5f,#69fd66,#71fe5f,#84ff51,#79fe59,#6dfe62,#92ff47,#c6f034,#d2e935,#f7c13a,#fbb637,#fcb136,#fdae35,#f4c73a,#fcb136,#f8be39,#f1cb3a,#dde037,#b9f635,#c8ef34,#7dff56,#84ff51,#9ffd3f,#84ff51,#71fe5f,#71fe5f,#35f394,#3ff68a,#2aefa1,#25eca7,#20eaac,#25eca7,#18e0bd,#1ae4b6,#1ce6b4,#1fe9af,#1ad4d0,#18dbc5,#18d9c8,#1bd0d5,#1bd0d5,#22c5e2,#1fc9dd,#27bee9,#27bee9,#22c5e2,#31aff5,#23c3e4,#37a8fa,#33adf7,#2cb7f0,#4294ff,#4099ff,#35abf8,#31aff5,#3ba0fd,#467df4,#4294ff,#2ab9ee,#35abf8,#4391fe,#2cb7f0,#3ba0fd,#3d9efe,#3ba0fd,#4294ff,#4682f8,#4687fb,#477bf2,#4687fb,#4682f8)"></i><i style="left:804px;width:4.3px;background:linear-gradient(#7dff56,#69fd66,#59fb73,#59fb73,#61fc6c,#bef434,#fdac34,#ce2d04,#b41b01,#ca2a04,#b71d02,#e4450a,#e5470b,#f76f1a,#fea732,#fcb136,#e5d938,#d0ea34,#c3f134,#b9f635,#a7fc3a,#80ff53,#69fd66,#79fe59,#7dff56,#6dfe62,#5dfc6f,#9cfe40,#c1f334,#bef434,#e1dd37,#f1cb3a,#f8be39,#fea431,#f5c53a,#fea933,#f2c93a,#d4e735,#e1dd37,#b7f735,#d0ea34,#79fe59,#88ff4e,#a7fc3a,#71fe5f,#71fe5f,#80ff53,#4ef97d,#46f884,#1fe9af,#2cf09e,#1ce6b4,#27eea4,#19e3b9,#19e2bb,#20eaac,#19e2bb,#18e0bd,#18ddc2,#1ad2d2,#1fc9dd,#25c0e7,#20c7df,#1fc9dd,#2ab9ee,#23c3e4,#25c0e7,#38a5fb,#1bd0d5,#31aff5,#2cb7f0,#37a8fa,#37a8fa,#2ab9ee,#28bceb,#31aff5,#3aa3fc,#4685fa,#458cfd,#3d9efe,#4196ff,#4099ff,#38a5fb,#4391fe,#4099ff,#4391fe,#4099ff,#458cfd,#4687fb,#4685fa,#458cfd,#4776ee)"></i><i style="left:808px;width:4.3px;background:linear-gradient(#5dfc6f,#7dff56,#75fe5c,#61fc6c,#6dfe62,#c6f034,#fc8725,#c12302,#be2102,#c32503,#b91e02,#e14109,#eb500e,#fd8a26,#fcb336,#f9bc39,#ecd13a,#bcf534,#d2e935,#affa37,#affa37,#96fe44,#71fe5f,#59fb73,#80ff53,#75fe5c,#43f787,#71fe5f,#a7fc3a,#c1f334,#e1dd37,#efcd3a,#f5c53a,#fea431,#f2c93a,#faba39,#f6c33a,#e1dd37,#ecd13a,#b7f735,#d0ea34,#8bff4b,#8bff4b,#a1fd3d,#92ff47,#79fe59,#8bff4b,#46f884,#55fa76,#1ce6b4,#20eaac,#22ebaa,#38f491,#1ce6b4,#18dec0,#1ce6b4,#1ce6b4,#1ae4b6,#18d9c8,#1bd0d5,#23c3e4,#1ecbda,#1ecbda,#1bd0d5,#2fb2f4,#2ab9ee,#2ab9ee,#38a5fb,#25c0e7,#38a5fb,#2ab9ee,#37a8fa,#35abf8,#3d9efe,#2eb4f2,#2eb4f2,#4099ff,#4294ff,#4391fe,#37a8fa,#35abf8,#3d9efe,#3e9bfe,#3e9bfe,#4099ff,#38a5fb,#448ffe,#4680f6,#4773eb,#458afc,#4680f6,#467df4)"></i><i style="left:812px;width:4.3px;background:linear-gradient(#80ff53,#59fb73,#65fd69,#69fd66,#79fe59,#c3f134,#fe962b,#c32503,#a41301,#b71d02,#bc2002,#e4450a,#e5470b,#fb8122,#fea732,#f5c53a,#e1dd37,#d7e535,#d2e935,#b1f936,#b1f936,#80ff53,#55fa76,#65fd69,#80ff53,#6dfe62,#3ff68a,#84ff51,#a1fd3d,#affa37,#cdec34,#d0ea34,#eecf3a,#fcb336,#f1cb3a,#fea732,#f6c33a,#e9d539,#f5c53a,#c8ef34,#c3f134,#8fff49,#96fe44,#b1f936,#75fe5c,#75fe5c,#92ff47,#3ff68a,#65fd69,#25eca7,#22ebaa,#2ff19b,#3cf58e,#1ae4b6,#18dbc5,#18d9c8,#19e2bb,#18dbc5,#1ad4d0,#1ad2d2,#22c5e2,#1ecbda,#1ccdd8,#18dec0,#35abf8,#28bceb,#37a8fa,#2cb7f0,#1ecbda,#2ab9ee,#2fb2f4,#3d9efe,#3ba0fd,#3ba0fd,#2cb7f0,#33adf7,#3aa3fc,#448ffe,#4391fe,#4099ff,#4099ff,#3e9bfe,#4196ff,#458afc,#448ffe,#4391fe,#4685fa,#4687fb,#4773eb,#467df4,#4771e9,#4778f0)"></i><i style="left:816px;width:4.3px;background:linear-gradient(#59fb73,#7dff56,#69fd66,#69fd66,#5dfc6f,#b4f836,#fe9b2d,#a71401,#9e1001,#bc2002,#a91601,#da3907,#ef5811,#fb8122,#fea732,#efcd3a,#ecd13a,#dfdf37,#dbe236,#b7f735,#b7f735,#84ff51,#79fe59,#69fd66,#92ff47,#80ff53,#52fa7a,#96fe44,#a4fc3c,#b1f936,#c3f134,#cbed34,#e3db38,#f5c53a,#e9d539,#fbb838,#e3db38,#e3db38,#ebd339,#c6f034,#b4f836,#affa37,#a1fd3d,#a7fc3a,#84ff51,#79fe59,#84ff51,#3cf58e,#61fc6c,#32f298,#38f491,#2ff19b,#32f298,#1fe9af,#18d9c8,#18dec0,#19d5cd,#18d9c8,#1ad2d2,#1ccdd8,#1bd0d5,#1fc9dd,#1ccdd8,#19e2bb,#2cb7f0,#27bee9,#2ab9ee,#2eb4f2,#27bee9,#33adf7,#27bee9,#37a8fa,#3aa3fc,#37a8fa,#25c0e7,#37a8fa,#38a5fb,#3aa3fc,#458cfd,#3d9efe,#3e9bfe,#4099ff,#38a5fb,#4196ff,#458afc,#4294ff,#467df4,#4682f8,#4778f0,#477bf2,#4778f0,#4773eb)"></i><i style="left:820px;width:4.3px;background:linear-gradient(#55fa76,#4af880,#71fe5f,#61fc6c,#75fe5c,#c3f134,#fe9e2f,#a71401,#c32503,#b41b01,#b91e02,#e5470b,#f36315,#fe932a,#fe9e2f,#f4c73a,#ebd339,#d9e436,#d9e436,#c6f034,#bcf534,#a1fd3d,#96fe44,#6dfe62,#8bff4b,#84ff51,#5dfc6f,#a9fb39,#9ffd3f,#a9fb39,#bcf534,#c6f034,#f4c73a,#f7c13a,#e5d938,#f6c33a,#d7e535,#d9e436,#eecf3a,#bef434,#b1f936,#a4fc3c,#acfb38,#84ff51,#75fe5c,#9cfe40,#61fc6c,#38f491,#61fc6c,#2ff19b,#2cf09e,#32f298,#25eca7,#27eea4,#1ad4d0,#1ae4b6,#19d5cd,#18dbc5,#18ddc2,#18d7ca,#18ddc2,#20c7df,#2ab9ee,#19d5cd,#23c3e4,#27bee9,#1fc9dd,#31aff5,#23c3e4,#2eb4f2,#2ab9ee,#31aff5,#458afc,#31aff5,#1ad4d0,#37a8fa,#4294ff,#4099ff,#4196ff,#4196ff,#33adf7,#458afc,#31aff5,#4196ff,#4685fa,#4687fb,#4682f8,#4685fa,#4778f0,#467df4,#4778f0,#4680f6)"></i><i style="left:824px;width:4.3px;background:linear-gradient(#59fb73,#80ff53,#75fe5c,#5dfc6f,#75fe5c,#bcf534,#fe992c,#b41b01,#b71d02,#b41b01,#b71d02,#e2430a,#f9781e,#f9751d,#fdac34,#f2c93a,#e9d539,#dfdf37,#dfdf37,#d7e535,#d0ea34,#bef434,#8fff49,#80ff53,#acfb38,#9cfe40,#61fc6c,#a7fc3a,#a7fc3a,#a7fc3a,#cbed34,#c1f334,#e5d938,#eecf3a,#efcd3a,#e7d739,#dbe236,#d7e535,#dbe236,#b9f635,#acfb38,#a7fc3a,#92ff47,#96fe44,#79fe59,#88ff4e,#5dfc6f,#1fe9af,#52fa7a,#3cf58e,#35f394,#22ebaa,#32f298,#27eea4,#1ad2d2,#19e2bb,#1ad4d0,#18ddc2,#18d9c8,#18d7ca,#18d7ca,#1ecbda,#1fc9dd,#28bceb,#38a5fb,#22c5e2,#22c5e2,#28bceb,#20c7df,#33adf7,#2cb7f0,#22c5e2,#3d9efe,#31aff5,#20c7df,#33adf7,#4391fe,#3d9efe,#37a8fa,#4294ff,#4099ff,#3ba0fd,#31aff5,#4294ff,#4680f6,#4687fb,#4685fa,#4682f8,#4680f6,#4778f0,#477bf2,#458afc)"></i><i style="left:828px;width:4.3px;background:linear-gradient(#75fe5c,#6dfe62,#61fc6c,#6dfe62,#65fd69,#b7f735,#fdac34,#af1801,#bc2002,#c52603,#c52603,#da3907,#fb8122,#fd8a26,#fea933,#f9bc39,#efcd3a,#e9d539,#cbed34,#dfdf37,#cbed34,#b4f836,#a9fb39,#a9fb39,#b7f735,#a4fc3c,#79fe59,#b4f836,#b9f635,#a4fc3c,#d2e935,#c1f334,#dbe236,#f7c13a,#e9d539,#e1dd37,#cdec34,#d7e535,#c8ef34,#a1fd3d,#99fe42,#96fe44,#79fe59,#96fe44,#4af880,#61fc6c,#52fa7a,#25eca7,#32f298,#2ff19b,#3ff68a,#27eea4,#38f491,#35f394,#1ad2d2,#1fe9af,#1ad4d0,#18dec0,#18e0bd,#1ce6b4,#19d5cd,#18d9c8,#19d5cd,#23c3e4,#27bee9,#1bd0d5,#1bd0d5,#2eb4f2,#20c7df,#2eb4f2,#20c7df,#2cb7f0,#3aa3fc,#3aa3fc,#2cb7f0,#2cb7f0,#38a5fb,#38a5fb,#4391fe,#458cfd,#38a5fb,#4294ff,#35abf8,#3e9bfe,#458cfd,#3d9efe,#467df4,#4685fa,#4776ee,#4680f6,#477bf2,#4682f8)"></i><i style="left:832px;width:4.3px;background:linear-gradient(#71fe5f,#69fd66,#79fe59,#8fff49,#52fa7a,#bcf534,#fcb136,#ac1701,#be2102,#b71d02,#c82803,#e4450a,#f56918,#fa7b1f,#f9bc39,#fdae35,#efcd3a,#e9d539,#d7e535,#e1dd37,#e1dd37,#cdec34,#b1f936,#b4f836,#affa37,#a1fd3d,#9ffd3f,#affa37,#affa37,#b7f735,#c1f334,#c3f134,#dde037,#f2c93a,#dfdf37,#d4e735,#bef434,#c8ef34,#bcf534,#a4fc3c,#8bff4b,#7dff56,#80ff53,#80ff53,#55fa76,#61fc6c,#3ff68a,#3ff68a,#32f298,#3cf58e,#25eca7,#35f394,#43f787,#35f394,#19e2bb,#1ce6b4,#18d9c8,#18dbc5,#19d5cd,#18d7ca,#18dec0,#19d5cd,#1ad2d2,#20c7df,#1ccdd8,#22c5e2,#22c5e2,#25c0e7,#2fb2f4,#3aa3fc,#2eb4f2,#33adf7,#2fb2f4,#35abf8,#1fc9dd,#33adf7,#3e9bfe,#3e9bfe,#33adf7,#458cfd,#3e9bfe,#3e9bfe,#38a5fb,#4294ff,#448ffe,#3d9efe,#4099ff,#4680f6,#4685fa,#476ee6,#4685fa,#448ffe)"></i><i style="left:836px;width:4.3px;background:linear-gradient(#61fc6c,#79fe59,#52fa7a,#65fd69,#65fd69,#b4f836,#fea431,#b71d02,#b21a01,#bc2002,#c82803,#e84b0c,#f05b12,#f9781e,#fe9029,#fbb637,#f6c33a,#f8be39,#dbe236,#e7d739,#dde037,#dde037,#d2e935,#a1fd3d,#c8ef34,#9cfe40,#acfb38,#bcf534,#c3f134,#cbed34,#c8ef34,#cbed34,#d4e735,#e3db38,#dde037,#cdec34,#b7f735,#c1f334,#b9f635,#99fe42,#84ff51,#96fe44,#92ff47,#6dfe62,#55fa76,#43f787,#5dfc6f,#4af880,#2ff19b,#35f394,#35f394,#25eca7,#2cf09e,#27eea4,#19e2bb,#22ebaa,#19d5cd,#18dbc5,#18ddc2,#19e3b9,#1bd0d5,#19d5cd,#18dbc5,#1bd0d5,#1ecbda,#1fc9dd,#1ad4d0,#2cb7f0,#37a8fa,#3ba0fd,#23c3e4,#2fb2f4,#2ab9ee,#28bceb,#23c3e4,#2fb2f4,#35abf8,#3aa3fc,#4294ff,#458afc,#33adf7,#3e9bfe,#33adf7,#38a5fb,#458afc,#448ffe,#4196ff,#4687fb,#467df4,#477bf2,#4687fb,#4680f6)"></i><i style="left:840px;width:4.3px;background:linear-gradient(#6dfe62,#5dfc6f,#75fe5c,#79fe59,#84ff51,#affa37,#fcb336,#af1801,#a41301,#c32503,#c32503,#e4450a,#f8721c,#fb7e21,#fb8122,#fbb838,#f9bc39,#fbb838,#e5d938,#e7d739,#e9d539,#d9e436,#d0ea34,#b7f735,#cbed34,#b7f735,#bef434,#affa37,#bcf534,#bef434,#d4e735,#d2e935,#c1f334,#dde037,#cbed34,#cdec34,#acfb38,#b9f635,#a1fd3d,#84ff51,#6dfe62,#79fe59,#80ff53,#5dfc6f,#61fc6c,#4af880,#3ff68a,#52fa7a,#25eca7,#2cf09e,#2aefa1,#20eaac,#32f298,#1fe9af,#19e3b9,#25eca7,#18d9c8,#18dec0,#18dec0,#18e0bd,#18dbc5,#1ecbda,#18dec0,#19d5cd,#1ad2d2,#1ad4d0,#19d5cd,#25c0e7,#35abf8,#31aff5,#28bceb,#2cb7f0,#2fb2f4,#33adf7,#25c0e7,#35abf8,#3e9bfe,#4391fe,#4099ff,#4685fa,#448ffe,#4099ff,#38a5fb,#4099ff,#4391fe,#458afc,#4099ff,#4680f6,#4685fa,#4391fe,#4682f8,#4685fa)"></i><i style="left:844px;width:4.3px;background:linear-gradient(#59fb73,#71fe5f,#71fe5f,#6dfe62,#71fe5f,#a9fb39,#fea933,#af1801,#b91e02,#ca2a04,#c32503,#f05b12,#f56918,#f9751d,#fb7e21,#f6c33a,#fdae35,#f4c73a,#e5d938,#e9d539,#dde037,#d7e535,#e3db38,#b4f836,#c8ef34,#c3f134,#b9f635,#b1f936,#d0ea34,#c1f334,#dbe236,#b9f635,#c6f034,#dde037,#d2e935,#d2e935,#b4f836,#affa37,#a1fd3d,#92ff47,#79fe59,#88ff4e,#8bff4b,#79fe59,#75fe5c,#3ff68a,#52fa7a,#38f491,#2cf09e,#38f491,#20eaac,#22ebaa,#35f394,#27eea4,#1de7b2,#1ae4b6,#1ae4b6,#1ce6b4,#1ce6b4,#1de7b2,#1ad2d2,#18dec0,#1bd0d5,#18dbc5,#1ecbda,#1fc9dd,#1ad4d0,#37a8fa,#33adf7,#2fb2f4,#27bee9,#3aa3fc,#2eb4f2,#2cb7f0,#22c5e2,#33adf7,#4294ff,#3e9bfe,#4391fe,#458afc,#4294ff,#3d9efe,#37a8fa,#37a8fa,#458afc,#4687fb,#3d9efe,#4196ff,#4773eb,#458afc,#458afc,#4776ee)"></i><i style="left:848px;width:4.3px;background:linear-gradient(#75fe5c,#75fe5c,#65fd69,#7dff56,#61fc6c,#a9fb39,#fdae35,#af1801,#b41b01,#d23105,#cc2b04,#ea4e0d,#f66c19,#fd8a26,#fa7b1f,#fbb838,#fdae35,#f5c53a,#eecf3a,#ecd13a,#d0ea34,#d0ea34,#ebd339,#b7f735,#d2e935,#d7e535,#c8ef34,#affa37,#d4e735,#b7f735,#e5d938,#cbed34,#c8ef34,#e3db38,#cbed34,#d2e935,#c1f334,#bef434,#9cfe40,#a9fb39,#80ff53,#92ff47,#92ff47,#8bff4b,#71fe5f,#52fa7a,#65fd69,#3cf58e,#2aefa1,#2cf09e,#2aefa1,#1ce6b4,#1ce6b4,#2ff19b,#32f298,#19e3b9,#1ce6b4,#18dec0,#1ce6b4,#1ce6b4,#19d5cd,#18d9c8,#18ddc2,#18dbc5,#20c7df,#2fb2f4,#1bd0d5,#33adf7,#31aff5,#28bceb,#2cb7f0,#2fb2f4,#2eb4f2,#27bee9,#3d9efe,#35abf8,#33adf7,#4099ff,#4294ff,#448ffe,#3aa3fc,#37a8fa,#35abf8,#3e9bfe,#4682f8,#448ffe,#38a5fb,#3d9efe,#4776ee,#458cfd,#458cfd,#4680f6)"></i><i style="left:852px;width:4.3px;background:linear-gradient(#52fa7a,#65fd69,#6dfe62,#69fd66,#52fa7a,#b1f936,#fc8423,#a91601,#be2102,#cc2b04,#be2102,#ea4e0d,#fb8122,#f56918,#fa7b1f,#fbb838,#fe992c,#f8be39,#e9d539,#e7d739,#d4e735,#d9e436,#ecd13a,#acfb38,#dfdf37,#d7e535,#d0ea34,#affa37,#dde037,#bcf534,#dbe236,#c1f334,#c8ef34,#e1dd37,#cdec34,#d0ea34,#c1f334,#affa37,#9ffd3f,#b4f836,#8fff49,#99fe42,#99fe42,#69fd66,#61fc6c,#52fa7a,#52fa7a,#52fa7a,#27eea4,#35f394,#38f491,#2cf09e,#20eaac,#1fe9af,#32f298,#18d9c8,#20eaac,#22ebaa,#1fe9af,#19e3b9,#1ccdd8,#18dbc5,#1bd0d5,#18d9c8,#22c5e2,#35abf8,#1ad2d2,#37a8fa,#2cb7f0,#2eb4f2,#28bceb,#2ab9ee,#35abf8,#35abf8,#2fb2f4,#3e9bfe,#2fb2f4,#38a5fb,#4391fe,#4391fe,#38a5fb,#3ba0fd,#3d9efe,#3aa3fc,#458cfd,#4294ff,#4687fb,#4196ff,#4776ee,#3e9bfe,#4687fb,#4682f8)"></i><i style="left:856px;width:4.3px;background:linear-gradient(#84ff51,#35f394,#35f394,#38f491,#32f298,#a4fc3c,#f8721c,#b91e02,#b91e02,#c52603,#dc3b07,#ef5811,#f9751d,#f15d13,#f9781e,#fcb136,#fea130,#f4c73a,#eecf3a,#f2c93a,#d7e535,#d7e535,#ebd339,#b1f936,#e3db38,#d0ea34,#dde037,#b9f635,#d7e535,#bef434,#e1dd37,#bcf534,#c1f334,#c3f134,#bcf534,#c3f134,#c8ef34,#b9f635,#99fe42,#c1f334,#79fe59,#6dfe62,#7dff56,#88ff4e,#79fe59,#46f884,#6dfe62,#46f884,#22ebaa,#4af880,#2aefa1,#35f394,#20eaac,#2ff19b,#1fe9af,#1ae4b6,#18ddc2,#1ce6b4,#2ff19b,#1ad4d0,#18d7ca,#18ddc2,#18dbc5,#1ad4d0,#27bee9,#23c3e4,#1ccdd8,#2ab9ee,#25c0e7,#20c7df,#2cb7f0,#2ab9ee,#2eb4f2,#38a5fb,#3e9bfe,#37a8fa,#2ab9ee,#3ba0fd,#3e9bfe,#4196ff,#4196ff,#3d9efe,#35abf8,#4294ff,#4099ff,#3ba0fd,#3ba0fd,#33adf7,#477bf2,#448ffe,#448ffe,#467df4)"></i><i style="left:860px;width:4.3px;background:linear-gradient(#52fa7a,#1de7b2,#18d7ca,#1fe9af,#19e2bb,#b4f836,#fd8a26,#ac1701,#af1801,#cc2b04,#d83706,#e7490c,#f26014,#f46617,#f8721c,#fbb838,#fe9b2d,#f4c73a,#f1cb3a,#f2c93a,#d2e935,#efcd3a,#efcd3a,#bcf534,#e9d539,#cbed34,#dfdf37,#acfb38,#dfdf37,#cdec34,#d7e535,#d2e935,#cbed34,#d0ea34,#d7e535,#bcf534,#acfb38,#b4f836,#9ffd3f,#c3f134,#8bff4b,#75fe5c,#84ff51,#6dfe62,#71fe5f,#4af880,#5dfc6f,#52fa7a,#38f491,#32f298,#32f298,#3ff68a,#20eaac,#2ff19b,#2aefa1,#19e2bb,#1ce6b4,#1ce6b4,#2ff19b,#19d5cd,#1ad2d2,#18d7ca,#1ad2d2,#18ddc2,#28bceb,#2fb2f4,#22c5e2,#2eb4f2,#2cb7f0,#1bd0d5,#2eb4f2,#28bceb,#28bceb,#33adf7,#4099ff,#35abf8,#2eb4f2,#3ba0fd,#37a8fa,#3e9bfe,#3e9bfe,#3aa3fc,#3d9efe,#3aa3fc,#4196ff,#4099ff,#4391fe,#33adf7,#4778f0,#4294ff,#4294ff,#4776ee)"></i><i style="left:864px;width:4.3px;background:linear-gradient(#79fe59,#69fd66,#4ef97d,#4ef97d,#65fd69,#affa37,#fc8725,#ac1701,#b91e02,#af1801,#c32503,#e84b0c,#f9751d,#f8721c,#fe992c,#fea732,#fe9e2f,#f6c33a,#f2c93a,#f4c73a,#d4e735,#efcd3a,#e9d539,#c8ef34,#dde037,#dbe236,#d0ea34,#cbed34,#d0ea34,#cdec34,#d0ea34,#c6f034,#cbed34,#c6f034,#b4f836,#b7f735,#bef434,#affa37,#9cfe40,#b4f836,#8fff49,#6dfe62,#80ff53,#6dfe62,#92ff47,#71fe5f,#52fa7a,#3cf58e,#52fa7a,#32f298,#4ef97d,#4af880,#27eea4,#1fe9af,#25eca7,#25eca7,#18ddc2,#22ebaa,#27eea4,#18dbc5,#1ad4d0,#18d9c8,#1ecbda,#1ae4b6,#2ab9ee,#27bee9,#1bd0d5,#27bee9,#31aff5,#20c7df,#35abf8,#23c3e4,#23c3e4,#3d9efe,#35abf8,#37a8fa,#2cb7f0,#2ab9ee,#33adf7,#3e9bfe,#3d9efe,#3d9efe,#4391fe,#3ba0fd,#4391fe,#4196ff,#458cfd,#31aff5,#477bf2,#3e9bfe,#458afc,#467df4)"></i><i style="left:868px;width:4.3px;background:linear-gradient(#69fd66,#6dfe62,#6dfe62,#6dfe62,#65fd69,#a9fb39,#fd8a26,#9b0f01,#be2102,#ac1701,#d02f05,#dc3b07,#f66c19,#f9751d,#fe9b2d,#fea431,#fe932a,#fea933,#f9bc39,#f2c93a,#dde037,#f1cb3a,#e1dd37,#dde037,#dfdf37,#dbe236,#d7e535,#d0ea34,#bef434,#d9e436,#d4e735,#dfdf37,#b9f635,#bef434,#bcf534,#b4f836,#bef434,#a7fc3a,#a4fc3c,#b4f836,#99fe42,#75fe5c,#65fd69,#8bff4b,#99fe42,#6dfe62,#6dfe62,#71fe5f,#59fb73,#4ef97d,#61fc6c,#59fb73,#2cf09e,#35f394,#27eea4,#32f298,#19e3b9,#18e0bd,#2cf09e,#18e0bd,#18d9c8,#18d7ca,#1ecbda,#1ce6b4,#27bee9,#1ecbda,#28bceb,#35abf8,#20c7df,#1fc9dd,#2fb2f4,#2ab9ee,#23c3e4,#38a5fb,#3aa3fc,#3aa3fc,#33adf7,#4294ff,#3aa3fc,#3ba0fd,#3d9efe,#4099ff,#3d9efe,#31aff5,#4391fe,#458cfd,#4294ff,#33adf7,#4680f6,#4196ff,#448ffe,#4391fe)"></i><i style="left:872px;width:4.3px;background:linear-gradient(#6dfe62,#3ff68a,#3ff68a,#4af880,#25eca7,#affa37,#fe9029,#850702,#a41301,#a11201,#ca2a04,#df3f08,#f05b12,#fb7e21,#fe932a,#fd8d27,#fe962b,#fe9e2f,#f9bc39,#efcd3a,#e7d739,#faba39,#eecf3a,#e3db38,#dde037,#e5d938,#c3f134,#dbe236,#b1f936,#e1dd37,#b9f635,#d9e436,#c8ef34,#c1f334,#c6f034,#bef434,#b7f735,#a4fc3c,#acfb38,#affa37,#99fe42,#80ff53,#75fe5c,#7dff56,#84ff51,#80ff53,#88ff4e,#59fb73,#4ef97d,#3ff68a,#38f491,#4ef97d,#27eea4,#22ebaa,#27eea4,#2cf09e,#18e0bd,#19e3b9,#32f298,#1de7b2,#19d5cd,#18d7ca,#1ad2d2,#20eaac,#1bd0d5,#1fc9dd,#25c0e7,#33adf7,#1fc9dd,#20c7df,#31aff5,#35abf8,#27bee9,#3ba0fd,#3e9bfe,#37a8fa,#31aff5,#4687fb,#31aff5,#37a8fa,#4099ff,#3d9efe,#3aa3fc,#33adf7,#4687fb,#4099ff,#4685fa,#3d9efe,#4685fa,#458afc,#448ffe,#458afc)"></i><i style="left:876px;width:4.3px;background:linear-gradient(#6dfe62,#7dff56,#6dfe62,#80ff53,#65fd69,#bef434,#fe962b,#8b0902,#a41301,#ac1701,#c82803,#d23105,#f36315,#f8721c,#fb7e21,#fd8d27,#fa7b1f,#fdae35,#fe9e2f,#f5c53a,#e5d938,#fdae35,#e3db38,#e3db38,#e1dd37,#dfdf37,#bef434,#d7e535,#bef434,#e5d938,#d0ea34,#d9e436,#d4e735,#b9f635,#b9f635,#bcf534,#c8ef34,#affa37,#9cfe40,#b7f735,#96fe44,#84ff51,#75fe5c,#79fe59,#96fe44,#79fe59,#7dff56,#5dfc6f,#5dfc6f,#55fa76,#32f298,#43f787,#3cf58e,#46f884,#32f298,#2ff19b,#19e3b9,#19e3b9,#2ff19b,#2cf09e,#1ad4d0,#1ccdd8,#1fc9dd,#18e0bd,#1ad2d2,#19d5cd,#27bee9,#31aff5,#1fc9dd,#27bee9,#3aa3fc,#2eb4f2,#23c3e4,#3e9bfe,#3e9bfe,#4196ff,#3aa3fc,#3d9efe,#3ba0fd,#3e9bfe,#3e9bfe,#4196ff,#4294ff,#27bee9,#458cfd,#4391fe,#4687fb,#4294ff,#4685fa,#448ffe,#4687fb,#448ffe)"></i><i style="left:880px;width:4.3px;background:linear-gradient(#59fb73,#71fe5f,#88ff4e,#71fe5f,#75fe5c,#b9f635,#fea431,#810602,#880802,#af1801,#dc3b07,#d02f05,#ea4e0d,#fb7e21,#fb7e21,#f76f1a,#fd8d27,#fbb637,#fe9b2d,#f7c13a,#ecd13a,#f8be39,#e1dd37,#ecd13a,#e1dd37,#ecd13a,#cbed34,#dde037,#c6f034,#e1dd37,#cbed34,#c3f134,#bcf534,#c8ef34,#b9f635,#b1f936,#b1f936,#99fe42,#a1fd3d,#a9fb39,#7dff56,#8bff4b,#65fd69,#96fe44,#a4fc3c,#8bff4b,#69fd66,#5dfc6f,#3cf58e,#4ef97d,#3ff68a,#4ef97d,#3cf58e,#52fa7a,#35f394,#32f298,#18dec0,#19e3b9,#38f491,#1ae4b6,#1ad2d2,#1bd0d5,#1ecbda,#18dec0,#18d9c8,#27bee9,#1bd0d5,#2fb2f4,#1bd0d5,#25c0e7,#37a8fa,#2ab9ee,#1fc9dd,#28bceb,#3d9efe,#3e9bfe,#3aa3fc,#4196ff,#31aff5,#3d9efe,#3aa3fc,#3d9efe,#37a8fa,#23c3e4,#467df4,#4391fe,#4391fe,#3e9bfe,#458afc,#4680f6,#4687fb,#4099ff)"></i><i style="left:884px;width:4.3px;background:linear-gradient(#65fd69,#2cf09e,#1ce6b4,#1de7b2,#1fe9af,#a7fc3a,#fea130,#7a0403,#8e0a01,#b41b01,#d02f05,#d43305,#ef5811,#f8721c,#fb7e21,#fa7b1f,#fe9e2f,#fe9e2f,#fea732,#f9bc39,#f5c53a,#f4c73a,#e9d539,#ebd339,#e5d938,#d7e535,#d7e535,#c1f334,#c6f034,#e3db38,#d2e935,#cdec34,#b7f735,#c1f334,#bef434,#bef434,#bcf534,#a9fb39,#a4fc3c,#affa37,#79fe59,#8fff49,#79fe59,#a1fd3d,#88ff4e,#75fe5c,#79fe59,#5dfc6f,#3cf58e,#3ff68a,#43f787,#59fb73,#52fa7a,#3cf58e,#2ff19b,#2aefa1,#22ebaa,#19d5cd,#1fe9af,#1de7b2,#18dbc5,#18d7ca,#18d7ca,#18ddc2,#1ad2d2,#1bd0d5,#1ccdd8,#28bceb,#25c0e7,#27bee9,#2eb4f2,#31aff5,#23c3e4,#33adf7,#3e9bfe,#3e9bfe,#4294ff,#35abf8,#2cb7f0,#4196ff,#37a8fa,#458cfd,#38a5fb,#27bee9,#4685fa,#458cfd,#4196ff,#3ba0fd,#4196ff,#448ffe,#467df4,#448ffe)"></i><i style="left:888px;width:4.3px;background:linear-gradient(#7dff56,#71fe5f,#5dfc6f,#7dff56,#71fe5f,#7dff56,#fe9b2d,#8b0902,#850702,#a71401,#d83706,#dc3b07,#dc3b07,#ef5811,#fc8725,#fb7e21,#fe9e2f,#fe9b2d,#fe9b2d,#fbb637,#f2c93a,#fcb136,#efcd3a,#ebd339,#f4c73a,#d9e436,#dbe236,#dde037,#dbe236,#dfdf37,#c3f134,#bcf534,#b4f836,#a9fb39,#b7f735,#c1f334,#b7f735,#9ffd3f,#96fe44,#bcf534,#96fe44,#9ffd3f,#96fe44,#99fe42,#79fe59,#79fe59,#6dfe62,#59fb73,#55fa76,#3ff68a,#43f787,#46f884,#4af880,#3cf58e,#3ff68a,#27eea4,#2cf09e,#1fe9af,#1fe9af,#19e2bb,#1ad4d0,#18ddc2,#1bd0d5,#18e0bd,#22c5e2,#1ad4d0,#1ecbda,#22c5e2,#1fc9dd,#2ab9ee,#2fb2f4,#1ad2d2,#19d5cd,#3aa3fc,#3ba0fd,#3d9efe,#448ffe,#3aa3fc,#31aff5,#4099ff,#33adf7,#3d9efe,#3d9efe,#2fb2f4,#4099ff,#4196ff,#448ffe,#458afc,#477bf2,#4099ff,#4196ff,#458afc)"></i><i style="left:892px;width:4.3px;background:linear-gradient(#52fa7a,#7dff56,#5dfc6f,#7dff56,#65fd69,#8bff4b,#fc8725,#7e0502,#920b01,#ac1701,#df3f08,#d02f05,#e2430a,#ef5811,#fb7e21,#f36315,#fea933,#fd8d27,#fe932a,#fdae35,#f6c33a,#fbb838,#f6c33a,#f7c13a,#eecf3a,#dbe236,#dbe236,#dbe236,#e1dd37,#d7e535,#c6f034,#a9fb39,#acfb38,#bef434,#c8ef34,#b4f836,#b9f635,#84ff51,#9ffd3f,#a1fd3d,#9ffd3f,#a1fd3d,#8bff4b,#a1fd3d,#88ff4e,#75fe5c,#6dfe62,#55fa76,#46f884,#3cf58e,#4ef97d,#46f884,#32f298,#3cf58e,#2cf09e,#25eca7,#27eea4,#1de7b2,#19e3b9,#18e0bd,#1de7b2,#1de7b2,#18d7ca,#19e2bb,#1fc9dd,#19d5cd,#1ad4d0,#23c3e4,#25c0e7,#2fb2f4,#2ab9ee,#20c7df,#1ccdd8,#35abf8,#4294ff,#4196ff,#3d9efe,#35abf8,#28bceb,#3aa3fc,#2eb4f2,#35abf8,#3aa3fc,#2cb7f0,#3e9bfe,#4294ff,#3d9efe,#458afc,#4687fb,#37a8fa,#4099ff,#4391fe)"></i><i style="left:896px;width:4.3px;background:linear-gradient(#61fc6c,#52fa7a,#55fa76,#55fa76,#75fe5c,#7dff56,#fe932a,#920b01,#9e1001,#bc2002,#ce2d04,#df3f08,#da3907,#df3f08,#f66c19,#f8721c,#fdac34,#fc8725,#fea130,#fea431,#fbb838,#efcd3a,#faba39,#f5c53a,#efcd3a,#d9e436,#d4e735,#dfdf37,#e1dd37,#cdec34,#bef434,#b9f635,#b1f936,#bcf534,#c3f134,#b7f735,#b7f735,#99fe42,#99fe42,#acfb38,#8bff4b,#9cfe40,#9cfe40,#99fe42,#8fff49,#6dfe62,#7dff56,#69fd66,#59fb73,#4af880,#46f884,#43f787,#32f298,#2cf09e,#43f787,#32f298,#27eea4,#1ce6b4,#25eca7,#22ebaa,#18e0bd,#2cf09e,#1ad2d2,#18e0bd,#27bee9,#20c7df,#23c3e4,#20c7df,#22c5e2,#38a5fb,#1ecbda,#1ad4d0,#1fc9dd,#3d9efe,#2eb4f2,#3e9bfe,#3d9efe,#2eb4f2,#28bceb,#3aa3fc,#25c0e7,#38a5fb,#4391fe,#2fb2f4,#3d9efe,#3aa3fc,#35abf8,#4687fb,#4682f8,#3e9bfe,#458afc,#4682f8)"></i><i style="left:900px;width:4.3px;background:linear-gradient(#84ff51,#71fe5f,#6dfe62,#84ff51,#59fb73,#8bff4b,#fe962b,#9b0f01,#8e0a01,#be2102,#d23105,#d23105,#df3f08,#e5470b,#f26014,#fb7e21,#fea732,#fea933,#fe9b2d,#fea130,#f8be39,#f9bc39,#f8be39,#f6c33a,#ecd13a,#dbe236,#dfdf37,#e5d938,#e3db38,#d0ea34,#bcf534,#b1f936,#b7f735,#cdec34,#b4f836,#bcf534,#bcf534,#a1fd3d,#92ff47,#affa37,#9cfe40,#84ff51,#71fe5f,#84ff51,#9cfe40,#71fe5f,#80ff53,#5dfc6f,#61fc6c,#4af880,#46f884,#4af880,#32f298,#3ff68a,#3cf58e,#2aefa1,#27eea4,#18ddc2,#1fe9af,#20eaac,#22ebaa,#20eaac,#1ad4d0,#18dbc5,#31aff5,#1ccdd8,#28bceb,#1ad2d2,#31aff5,#28bceb,#20c7df,#20c7df,#27bee9,#3d9efe,#27bee9,#4391fe,#33adf7,#33adf7,#33adf7,#38a5fb,#2ab9ee,#33adf7,#3e9bfe,#37a8fa,#3aa3fc,#3e9bfe,#3d9efe,#448ffe,#4687fb,#4682f8,#4294ff,#458afc)"></i><i style="left:904px;width:4.3px;background:linear-gradient(#7dff56,#4af880,#6dfe62,#55fa76,#84ff51,#96fe44,#fa7b1f,#980e01,#a41301,#ca2a04,#c52603,#cc2b04,#d63506,#f15d13,#f15d13,#f9781e,#fe962b,#fea732,#fe962b,#fea732,#f5c53a,#fcb336,#f4c73a,#faba39,#eecf3a,#dbe236,#e1dd37,#dbe236,#dbe236,#cdec34,#c8ef34,#cbed34,#cbed34,#c3f134,#b7f735,#b4f836,#b9f635,#affa37,#a7fc3a,#b9f635,#a4fc3c,#8fff49,#79fe59,#75fe5c,#92ff47,#65fd69,#79fe59,#69fd66,#69fd66,#5dfc6f,#5dfc6f,#2ff19b,#3cf58e,#3ff68a,#2aefa1,#2aefa1,#20eaac,#1fe9af,#25eca7,#20eaac,#1fe9af,#1ae4b6,#18ddc2,#19e2bb,#2cb7f0,#1ecbda,#2ab9ee,#18d7ca,#33adf7,#22c5e2,#1ccdd8,#20c7df,#2fb2f4,#3aa3fc,#35abf8,#37a8fa,#4196ff,#3aa3fc,#31aff5,#35abf8,#2ab9ee,#2eb4f2,#4099ff,#35abf8,#31aff5,#35abf8,#33adf7,#467df4,#4391fe,#4196ff,#3ba0fd,#467df4)"></i><i style="left:908px;width:3.3px;background:linear-gradient(#80ff53,#35f394,#1fe9af,#38f491,#32f298,#99fe42,#fa7b1f,#b91e02,#980e01,#be2102,#c32503,#cc2b04,#e2430a,#ed5510,#ef5811,#fe932a,#fe992c,#fcb136,#fea933,#fea933,#fbb838,#f7c13a,#f1cb3a,#f4c73a,#f4c73a,#d4e735,#e1dd37,#d0ea34,#b9f635,#c3f134,#c8ef34,#cdec34,#c8ef34,#c6f034,#a7fc3a,#bcf534,#b1f936,#9ffd3f,#96fe44,#a7fc3a,#8bff4b,#88ff4e,#7dff56,#65fd69,#80ff53,#46f884,#84ff51,#6dfe62,#61fc6c,#55fa76,#4af880,#25eca7,#3cf58e,#3ff68a,#2aefa1,#35f394,#19e3b9,#1ae4b6,#18e0bd,#27eea4,#1fe9af,#27eea4,#1ad4d0,#19e2bb,#20c7df,#1bd0d5,#2ab9ee,#18d7ca,#35abf8,#27bee9,#1fc9dd,#25c0e7,#3aa3fc,#2fb2f4,#33adf7,#35abf8,#3e9bfe,#4099ff,#2cb7f0,#2ab9ee,#2fb2f4,#3aa3fc,#3aa3fc,#38a5fb,#35abf8,#38a5fb,#2eb4f2,#4687fb,#4294ff,#458afc,#4682f8,#4685fa)"></i></div>
<svg width="1008" height="591" viewBox="0 0 1008 591">
<rect x="271.2" y="31.9" width="15" height="136.5" fill="#0072BD" fill-opacity="0.11"/>
<rect x="296" y="31.9" width="21.1" height="136.5" fill="#D95319" fill-opacity="0.11"/>
<rect x="318.4" y="31.9" width="19.1" height="136.5" fill="#EDB120" fill-opacity="0.12"/>
<rect x="337.5" y="31.9" width="19.9" height="136.5" fill="#7E2F8E" fill-opacity="0.12"/>
<rect x="474.2" y="31.9" width="283.1" height="136.5" fill="#77AC30" fill-opacity="0.1"/>
<rect x="759.8" y="31.9" width="56.5" height="136.5" fill="#4DBEEE" fill-opacity="0.11"/>
<rect x="818.6" y="31.9" width="73.7" height="136.5" fill="#A2142F" fill-opacity="0.1"/>
<path d="M78.89 31.9V168.4M108.27 31.9V168.4M137.66 31.9V168.4M167.05 31.9V168.4M196.44 31.9V168.4M225.82 31.9V168.4M255.21 31.9V168.4M284.6 31.9V168.4M313.98 31.9V168.4M343.37 31.9V168.4M372.76 31.9V168.4M402.15 31.9V168.4M431.53 31.9V168.4M460.92 31.9V168.4M490.31 31.9V168.4M519.69 31.9V168.4M549.08 31.9V168.4M578.47 31.9V168.4M607.85 31.9V168.4M637.24 31.9V168.4M666.63 31.9V168.4M696.02 31.9V168.4M725.4 31.9V168.4M754.79 31.9V168.4M784.18 31.9V168.4M813.56 31.9V168.4M842.95 31.9V168.4M872.34 31.9V168.4M901.73 31.9V168.4M931.11 31.9V168.4" stroke="#dedede" stroke-width="0.5" fill="none"/>
<path d="M49.5 134.28H960.5M49.5 100.15H960.5M49.5 66.03H960.5" stroke="#dfe9f3" stroke-width="0.6" fill="none"/>
<path d="M272.2 149.5H286.2" stroke="#333" stroke-width="0.7" stroke-dasharray="0.8 1.9" fill="none"/>
<path d="M297 54.5H317.1" stroke="#333" stroke-width="0.7" stroke-dasharray="0.8 1.9" fill="none"/>
<path d="M319.4 43.3H337.5" stroke="#333" stroke-width="0.7" stroke-dasharray="0.8 1.9" fill="none"/>
<path d="M338.5 32.6H357.4" stroke="#333" stroke-width="0.7" stroke-dasharray="0.8 1.9" fill="none"/>
<path d="M475.2 149.6H757.3" stroke="#333" stroke-width="0.7" stroke-dasharray="0.8 1.9" fill="none"/>
<path d="M760.8 32.6H890" stroke="#333" stroke-width="0.7" stroke-dasharray="0.8 1.9" fill="none"/>
<path d="M753.5 31.9V168.4" stroke="#555" stroke-width="0.8"/>
<clipPath id="ca"><rect x="49.5" y="31.9" width="911" height="136.5"/></clipPath><g clip-path="url(#ca)">
<path fill="none" stroke="#D95319" stroke-width=".6" stroke-opacity=".4" stroke-linejoin="round"  d="M49.5 52.9l.3 6.8.3-4.1.3 7.4.3-13.4.3-1.3.3 11.5.3-8 .3 10.5.3 1.1.3-6.4.3 1.7.3 5.2.3-11.6.3 5 .3-1.9.3 5.5.3 2.4.3-3.9.3-1.4.3-2.3.3 8.1.3-5.4.3 5.5.3-.8.3-1.1.3 1.4.3-5.4.3.9.3-3.4.3 2.3.3-3.4.3 7.3.3-5.4.3 1.6.3 5.1.3 1.8.3-4.6.3-8.2.3 8.8.3 2.4.3-9.7.3 4.5.3 2.3.3 2.3.3-1.2.3-5.7.3-4.7.3 11.2.3 5.3.3-14 .3 3.2.3 6 .3-.8.3-2.9.3 5.3.3-5.2.3-5.8.3 2.3.3 5 .3-3.3.3 6.4.3-.6.3-10.2.3.5.3 1.3.3 5.1.3-4.3.3 3.9.3-.7.3-8.1.3 5.1.3-2.7.3 7.5.3-13.2.3 8.2.3-.3.3 3.7.3-2.4.3-9.7.3 14.8.3-3 .3-3.5.3-2.4.3 8.6.3-11.5.3 11.5.3-7.8.3 3.1.3 5.9.3-5.1.3 3 .3-2.4.3.8.3-1.1.3 8.4.3-2.6.3 2.9.3-2.1.3.5.3-4 .3 1.7.3-1.8.3 5.3.3-.7.3 5 .3-9.2.3-1.6.3 10.7.3-.7.3 7.6.3-2.9.3-9.4.3.3.3-3.3.3 10.7.3-9.4.3 11.1.3-2.7.3-11.2.3 4.9.3 3.8.3 3.2.3-7.5.3 6.1.3-1.8.3 3.6.3-1.3.3-1.6.3 5 .3 2.1.3-4.5.3-.8.3-1 .3-2.6.3 9.8.3-6 .3 11.9.3-9.8.3-4 .3 4.2.3-3.2.3-4.9.3 11.2.3-4 .3-3 .3 2.3.3-.1.3-7 .3 12.4.3-1.3.3-.1.3-2.2.3-4.5.3 7.5.3-2.5.3-.8.3-2.3.3 1.1.3-3.1.3 7.6.3.9.3-4.3.3 8.2.3-3.6.3-7.2.3 3.2.3-1.1.3-6.6.3 6.4.3 1.2.3-2.9.3-.4.3.9.3 3.4.3-.8.3.7.3-3.7.3-1.5.3.1.3 5.8.3-3.9.3-.1.3 8.7.3-6.8.3 1.2.3-2.9.3.3.3 8.4.3-4.3.3-5.7.3.6.3 6.6.3-1.3.3-5.5.3.6.3 4.1.3-.6.3-6.1.3 1.7.3 3.9.3-1.6.3.1.3-4.7.3 3.9.3-.2.3 1.1.3-2 .3 1.6.3 3 .3 1.5.3 1.2.3-9.6.3 3.7.3 4.7.3-11.8.3 12.1.3 1.2.3 1.7.3-11.1.3 3.1.3 8.5.3-12.1.3 11.6.3-10.2.3-1.8.3-.8.3 3.5.3 2.6.3-4.9.3 5.1.3-.5.3-7.1.3 9.9.3-5.2.3-4.9.3 4.7.3 1.3.3 4.6.3-8 .3-3 .3 1.9.3 5.5.3-5.6.3.4.3-3.4.3 11.1.3-6.8.3-3.1.3.1.3 7.9.3-6.6.3-2.2.3 7.3.3-5.9.3 3.7.3-1.7.3-3.4.3 3.2.3-4.1.3 9.6.3-6.5.3 1.1.3 1.8.3.1.3-3.5.3-2.3.3 2.2.3.4.3-3.4.3 6.3.3 1.7.3-5.2.3 1.3.3 7 .3-2.4.3-7.1.3-2.9.3 3.5.3-1.1.3 5 .3-2.1.3 1.2.3 1.7.3-1.4.3-2.5.3-1.5.3 3.4.3-2.7.3 2.8.3 4.9.3-4.5.3 1.2.3 4.9.3-6.4.3-2.3.3 6.2.3 6.9.3 1.5.3-2.3.3-2.7.3 1.6.3 5.7.3-3.6.3-3 .3 5.3.3-3.5.3 2.3.3-1.6.3-3.1.3 3.4.3-3.8.3 8.2.3-7.4.3 3.8.3-2.9.3 1.7.3-3.8.3 6.1.3 2.4.3-3.8.3-2.6.3.7.3 1.1.3 1.1.3-.6.3-2.3.3 2.5.3-7.3.3 3.5.3-1.1.3 1 .3-3.1.3 2 .3.8.3-2.3.3 6.2.3-.8.3-6.1.3.7.3 4.9.3 2.6.3-7.4.3-2 .3.2.3.8.3-.8.3 1.4.3 1.3.3 2.8.3-2.7.3-1.2.3 2.6.3 2.4.3-5.6.3-3.6.3 5.4.3 2.2.3-.1.3-4.5.3 5.8.3-2.1.3-2.3.3 0 .3 4.2.3 2.3.3-4.7.3 5.8.3-4 .3-.3.3.5.3 3.7.3-4.9.3.6.3 6.3.3-6.4.3 5.5.3-2.7.3-1.3.3 2 .3.3.3-.7.3-1.2.3-.1.3-3 .3 6 .3-4.7.3-4.1.3 9.4.3-6.8.3.2.3 1.7.3-4.2.3 1.9.3 3.2.3-5.6.3-12.3.3 11.4.3.8.3 2.3.3-2.8.3-.1.3-1 .3 7.7.3-7.8.3-.7.3.5.3 2.8.3-4.8.3-.2.3-3.7.3 2 .3 1.9.3 1.9.3-2.1.3 2.2.3-2.2.3 1.4.3-4.3.3 7.4.3-.6.3-3.6.3.1.3-1.1.3.9.3 2 .3-3.7.3 1.1.3 2.5.3 2.6.3-6 .3 3.3.3-.3.3-.8.3-.8.3 4.4.3-4.7.3 3.2.3.1.3-3.4.3-3.5.3 3.5.3-.6.3-.3.3 1.3.3 1.5.3-.5.3-1.1.3-2.8.3-2.2.3.7.3 8.4.3-2.1.3-3.2.3-1.7.3 1.4.3 1.5.3-3.3.3 0 .3 2.1.3 4 .3 4.3.3-2.5.3-6.9.3 7.3.3-4.1.3-6.3.3 5.3.3.6.3 1.2.3.2.3 1 .3-4 .3 6.2.3-9.8.3 3.2.3 3.1.3-.4.3-.6.3-3.3.3 3.9.3 4.2.3-4.6.3-.1.3 0 .3 3 .3 1.9.3-2.4.3-5.7.3 6.5.3-3.5.3-.9.3-3 .3-1.8.3 2.3.3.6.3 4.5.3-3.2.3 4.8.3-9 .3 3.1.3 6.4.3-1.1.3-4 .3 4.1.3-2.9.3-1.1.3 2.2.3 5.5.3-1.2.3-5.1.3 2.6.3-1.7.3-.7.3 4.2.3-4.1.3 6 .3-7 .3.8.3-3.3.3 1.7.3-1.5.3 1.9.3 1.3.3 1.6.3-3.6.3 7.1.3-5.8.3 5.8.3.5.3-.4.3-3.4.3 4.3.3-3.2.3-.1.3-1.2.3 1.5.3 1.7.3-2.6.3-2.8.3 1.1.3.3.3.9.3-4.1.3 6.6.3 2 .3-1.2.3-7.7.3 2.8.3 3.3.3-4.9.3.5.3.1.3 1.1.3.8.3-4.2.3 2.8.3.8.3 1.9.3-6.5.3 9.1.3-.6.3-4.9.3 2 .3 1.6.3-4 .3-4.4.3 8.6.3-1.4.3 3.2.3-7.2.3.7.3 3.7.3-5.9.3 1.6.3 2.3.3-1.4.3.4.3-2.7.3 8.5.3-8.7.3 7.3.3-7.8.3 2.5.3 1 .3 2.4.3-1.5.3-1.9.3-.8.3 7.2.3-3.9.3.3.3-.8.3-.1.3-1.4.3 2.1.3-2.8.3 4.4.3-2 .3-2.8.3 4.9.3-1.6.3-3.2.3 1.2.3.8.3-5.4.3 4.8.3-3.2.3 2.3.3 2.5.3-1.1.3-2.1.3-.5.3 4.3.3-1.8.3-4.1.3 2.6.3 4.6.3-3.3.3-.7.3 2.9.3.9.3-3.9.3 1.6.3-5.4.3 7.7.3-3.3.3-.6.3 4.1.3-4.5.3 3.1.3-4.2.3 6.2.3-3.2.3-6.1.3 3.1.3 4.4.3 1.4.3-5.8.3 2.8.3-2.9.3 8.7.3-4.4.3 5.3.3-5.3.3-3.3.3 3.6.3-3.7.3 3.8.3 4.5.3-14.4.3 7.1.3-4.2.3 12 .3-4.5.3-2.9.3 1.6.3-5.3.3 5.8.3-1.9.3 2.1.3 4.1.3 1.6.3 4.7.3-5.3.3-5.8.3-.1.3 4.8.3-5.6.3-2.5.3 7.4.3-.8.3-1.1.3-2 .3-4.6.3 3.3.3.3.3 1 .3 1.9.3 2.9.3-5.3.3.1.3 2.9.3-1.4.3 2.1.3-6.2.3 2 .3 3.4.3-1.9.3 1.2.3-.4.3-4 .3 3.2.3.9.3-7.2.3 4.6.3.1.3-1.5.3-1.2.3 1.7.3 2.5.3-1.1.3-.4.3 1.3.3 2.5.3-4.7.3-.8.3-.1.3.1.3 3 .3-5.4.3-1.7.3 7.3.3-6.9.3 2.9.3 4.4.3-3.2.3-.4.3-1.5.3.5.3-1.1.3 1.3.3-2.5.3 3.6.3-2.5.3 5.7.3-3.7.3-5.4.3 7.9.3-10.3.3 1.2.3 6.4.3 4.1.3-5.1.3 4.9.3-6.7.3 5.5.3-2.2.3 4.1.3-3.9.3-.7.3-1.5.3-1.5.3-1.5.3 3.7.3 2.6.3-4.7.3 5.9.3-6.3.3 2.5.3.9.3 3.5.3-.2.3-2 .3-2.2.3 4.3.3-6.5.3 4.5.3-.7.3.8.3-1.1.3-.6.3-.3.3 1.8.3-6.5.3 3.2.3 1.1.3 1.9.3.4.3-4.7.3 7.1.3-2 .3-.3.3-3.7.3-7.4.3 6.5.3 4.7.3-3 .3.7.3.2.3-1.5.3-1 .3 1.5.3-.6.3 4.6.3-3.4.3 2.3.3-1.5.3-2.4.3 9 .3-5.3.3-4.6.3.2.3 6.1.3-1.7.3 2.3.3-7.1.3 3.8.3-.3.3 3.5.3-2.9.3.7.3 5.9.3-3.1.3 3.8.3-6.6.3.2.3-4.7.3 10.1.3-9.6.3 2.4.3-.9.3 2.4.3 1.1.3-5.2.3 8 .3-7.5.3.5.3 1.3.3 1.9.3-2.5.3.9.3 4.7.3-4.4.3.6.3-1.1.3-1.2.3-.2.3 1.4.3 1.7.3 1 .3 0 .3 1.9.3-4.7.3.7.3 0 .3-.2.3 1.1.3 2.5.3-.7.3-1.3.3-3.7.3 2.6.3.9.3.9.3 0 .3.5.3 2.4.3-8.4.3 9.2.3-3.7.3 2.2.3.4.3-7.5.3 4.3.3 5.5.3-7.7.3-3.7.3 4.5.3 6 .3-6.5.3 2.8.3-2.9.3-.6.3 2.4.3 3.3.3-3.4.3 2.2.3-4.9.3 2.3.3 6.2.3-1.4.3 0 .3-4.8.3-1.3.3.5.3-3.8.3 3.2.3 5.5.3-8.6.3 1.7.3 4.8.3-.2.3-6.1.3 2.3.3-.1.3 5.6.3-2 .3 1.7.3-.9.3-.2.3-3.2.3-.3.3 7.3.3-10.3.3-.4.3 6 .3-2.1.3 6.9.3-12.1.3 6 .3 2.6.3-3.6.3.1.3-.6.3 0 .3-1.8.3 2.6.3 2.8.3-1.7.3-1.1.3 1.7.3-4.7.3-.7.3 6.5.3-1.7.3-1.5.3.4.3 3 .3-6.4.3-.4.3.2.3 7.4.3-5 .3 5 .3-4.9.3-3.9.3 3.9.3 2.8.3.4.3-4.6.3-1.6.3 2.9.3-.5.3-.7.3 1.6.3 1.4.3-2.7.3-1.6.3 5 .3-3.9.3 6.2.3.8.3-4.2.3-2.5.3 3.4.3-1.4.3-1 .3 1.4.3-1.2.3-.8.3.6.3 6 .3-3.2.3-.9.3-4.6.3 3.5.3-1.1.3 0 .3 2.7.3-2.8.3-.2.3-.2.3 7.5.3-7.8.3 2.5.3 2.1.3-2.1.3-1.3.3.5.3-.3.3 5.3.3-2.6.3-5.7.3 2.2.3 1.1.3 4.3.3-3.5.3-2.3.3 1.8.3 2.3.3-1.8.3-.6.3 3.8.3-3.3.3-2.3.3 5 .3-2.3.3 7.3.3-11.8.3 7.6.3-.8.3-.9.3 1.7.3-3.9.3-.1.3 3.3.3-2 .3 1.6.3-4.7.3 4 .3-3.7.3 2.8.3.2.3-1.9.3-.1.3 2.6.3.3.3 4.2.3-5.8.3-.5.3 4.8.3 1.8.3-5.1.3 2 .3-3.2.3-6.9.3 8.2.3-9.1.3 6.7.3 4.4.3.4.3-1.9.3-4.9.3 3.2.3-6.1.3 4.3.3 1.1.3 2.7.3-5.2.3 8.4.3-6.1.3-.5.3-5.6.3 1.5.3 3.4.3 1.4.3-.2.3-1.6.3.9.3-7.5.3 9.1.3-4.6.3 2.2.3-4.5.3 8.4.3 0 .3-2.4.3.2.3-2.2.3 3.2.3-3.8.3 2.2.3-.4.3-6.5.3 7.3.3-2.5.3 1.3.3-3.1.3.6.3 1.5.3 2.4.3-3.8.3.2.3.4.3-1 .3-4.6.3 10.2.3-1.1.3 3.4.3-4.6.3 5 .3-.8.3-6.6.3 3.1.3-6.1.3 5.6.3-1.7.3 1.4.3 2.9.3-7.4.3 1.8.3 5.4.3-5.9.3-2.2.3 8.5.3-.9.3-1 .3-.1.3-.1.3-3.9.3 2.4.3 1.6.3-1.7.3-6.9.3.1.3 4.5.3.7.3-1.7.3 4.8.3-3.8.3 2.3.3-4.7.3 3.9.3-2 .3-.1.3-.4.3-1 .3-4.1.3 7.1.3-1.7.3-3.6.3 2.6.3-1.4.3-.3.3 5.8.3-4.5.3 2.2.3-1.9.3-.9.3.8.3-1.4.3 6.9.3-5.6.3 1.6.3-.7.3 1.2.3-2.1.3 1.9.3 3.8.3-3.7.3 1 .3 0 .3-1.9.3-2.6.3.9.3-5.3.3 4.9.3 4.8.3 1.1.3-6.1.3 1.2.3-.1.3.4.3.6.3 4.7.3.3.3-.1.3.2.3.6.3 3.5.3-.1.3-6.3.3 0 .3-8.5.3 13.9.3-1.5.3-2.3.3-1.5.3 2 .3 3.5.3-5.4.3.5.3-.4.3-.4.3 3 .3-3.7.3.1.3 1.6.3 1.5.3.4.3-4.2.3.7.3 3.9.3-3.8.3-.9.3 6.5.3-5.9.3.4.3 5.6.3-6 .3 6.3.3-4.8.3 2.5.3-1.7.3-2.2.3.7.3 4.5.3-4.4.3 1.5.3-4.2.3-1.5.3 9.7.3-7.7.3 1 .3-.4.3-1.1.3 3.9.3-6.4.3-1.1.3 10.1.3-7.6.3 3.1.3-2.5.3 1.3.3 2.4.3-.2.3 1.4.3-.1.3.1.3-.3.3-4.5.3 1 .3 7 .3-2.3.3-7.9.3 4.6.3 1.2.3-1.4.3 2 .3-3.7.3 2.5.3.1.3-.1.3-2.1.3 1.6.3 5.4.3-4.2.3 5.5.3-7.4.3 3 .3 4.5.3-3.5.3-3 .3 3.3.3-1.1.3-2.8.3-3.5.3 4.8.3-2.7.3 4.6.3-1.5.3 1 .3-1.4.3-5.9.3 7.3.3-3.2.3.3.3 1.9.3 3.1.3-.7.3-2 .3-5.1.3 1.8.3 3.9.3-2 .3 5.3.3-2.2.3-3.4.3 3.3.3-1.1.3-2 .3-.7.3-3.4.3 5.2.3 2.2.3-2.7.3-2.9.3 3 .3 5.2.3-2.2.3-1.2.3-1.8.3 4.2.3-3.1.3-3.5.3 3.3.3 1.7.3-1.8.3-2.4.3 4.5.3 3.2.3 0 .3-6.9.3.5.3.6.3-.6.3 1.5.3-.6.3 3.1.3 1.3.3-6.1.3 7.1.3-7.6.3 2.1.3.5.3-.5.3 6.4.3-1.2.3-.6.3-4.3.3 4.8.3-1.6.3-.8.3 2.1.3 9.8.3-11 .3.1.3.9.3-.1.3-1.7.3 2.1.3-2.2.3 2.7.3-1.4.3 3.9.3-1.9.3-1.6.3 1.7.3.5.3-.3.3 1.8.3-2.7.3-1.8.3-.6.3 3.7.3 1.2.3-.8.3-1.6.3-1.1.3.5.3-3.3.3 3.5.3-2.1.3.5.3 2.1.3-3.9.3-3.1.3-.3.3-.6.3-2.1.3 1.8.3-1.3.3 5.2.3-2.3.3 1.9.3-2.8.3 6.8.3-3.6.3 7.4.3-3.6.3-8 .3 6.2.3-3.3.3 4.3.3-2.4.3-2.6.3.3.3 13.3.3-10.6.3.4.3.3.3-1.3.3-2.9.3 3.6.3-3.7.3 5.9.3-6.3.3 3.3.3 1 .3-2.9.3 1 .3-1.3.3-1 .3 2.1.3.9.3-5 .3-2.2.3 2.8.3 3.1.3 3.3.3-6.9.3-4.6.3 6.5.3-.7.3 4.8.3-4 .3-.4.3-.5.3-4.1.3 5.2.3 1.9.3-5.3.3 2.2.3 1 .3-1.4.3.3.3-.8.3-2.4.3 1 .3 3.8.3-4 .3-1.2.3 3.9.3-8.1.3.9.3 4.3.3 4.2.3-.4.3-4.3.3-1.5.3-1.1.3 3.7.3-3 .3.6.3-1.8.3 1.2.3 4.2.3-6.2.3 1.9.3-1.8.3 4.8.3-4 .3 4.4.3-1.7.3 11.6.3-10.7.3-1.7.3 4.5.3-.1.3-7.2.3 6.7.3-4.2.3 7 .3-6.5.3-1.1.3 4 .3-.2.3.4.3-4.1.3-2.4.3 2.7.3 1.7.3 5.7.3-9.9.3-.4.3-1.2.3 4.5.3 3.1.3-4.9.3-.2.3 2.7.3 1.7.3 7 .3-11.7.3 5 .3-3.7.3 2.1.3 2 .3-1.8.3-.7.3-4.8.3 10.1.3-6.3.3 1.3.3-.8.3 4.4.3 1.9.3-11.9.3 13.8.3-3.7.3 2.7.3-8.8.3 2.9.3 6.7.3-6.4.3-8.6.3 11.4.3-3.3.3 1.3.3-.6.3 7.5.3-3.8.3 3.3.3-6.9.3-6 .3 10.5.3-6 .3-1.7.3 1.2.3 2.6.3 0 .3 1.7.3-11.9.3 8.8.3-.3.3.5.3-3.4.3 1.9.3.1.3-7.3.3 9.5.3-3.8.3-.4.3 7.5.3-1.3.3-7.2.3 9.3.3-10.5.3 6.8.3-6.5.3 7.6.3-4.4.3 7.1.3-3.6.3 1.2.3-7.2.3 1.5.3-1.3.3 4.7.3-1 .3.4.3-4.4.3 1.6.3-1.1.3.8.3 2.1.3-.8.3-5 .3 4.4.3-4.5.3 9.1.3-2.2.3.4.3 6.6.3-9.8.3 6.2.3-4.5.3-1 .3.7.3.6.3 1.2.3-3.1.3 4.5.3-6.1.3 4.4.3 2.8.3 1.5.3-10.4.3 4.6.3 5.1.3-4.3.3-1.9.3-3.4.3 12.9.3 3.1.3-13.9.3 5 .3 5 .3-4.1.3 4.8.3-5.2.3-.4.3-1.6.3-3.1.3 10.2.3 1.7.3-7.8.3.9.3-6.3.3 5.3.3-7.2.3 6.5.3-.6.3-2.2.3-1.1.3-3.5.3 6.1.3-.7.3 2.3.3-6.3.3 10.2.3-9 .3 7.5.3-1.8.3-5.7.3 4.1.3 3.6.3-4 .3 1 .3-1.8.3-.9.3-3.1.3 1.9.3 5.3.3 1.9.3-1.9.3-10.1.3 3.8.3-5.3.3 10.2.3-2.1.3 4.6.3-6.9.3-1 .3-1.7.3 1 .3 9.3.3-7.1.3 3.5.3 6.1.3-5 .3-1.1.3 6.4.3 6.3.3-12.3.3 2.5.3-2.5.3.5.3 14.9.3-15 .3 5.7.3.1.3-8.4.3 7.7.3-7.2.3 4.5.3-4.3.3 5.3.3-2.1.3-1.2.3-1.2.3 0 .3 9 .3-4.7.3 3.3.3-3.6.3 9.1.3-5.5.3-2.7.3 1.7.3 4.5.3 6.5.3-7.3.3.6.3 1 .3-.7.3-7.1.3 3.2.3 5.4.3-8.5.3 9.9.3-3.3.3-5.9.3.8.3 5.6.3-7.6.3 3.9.3 5.9.3-10.2.3 9.9.3-6 .3 7.2.3 4.5.3-10.6.3 6 .3-13 .3 8.5.3-5.8.3 1.5.3-3.9.3 5.5.3-15.2.3 15.9.3 0 .3.4.3-.5.3-6.8.3 10.2.3 4.3.3-3.9.3-3.4.3 4.3.3-13 .3 9.5.3-6.7.3.6.3 1.9.3-4.9.3 3.1.3 10.2.3-19.6.3 5.8.3 4.7.3-.1.3-2.2.3 10.2.3-3 .3-7.1.3-3.5.3-1.8.3 5 .3-3.9.3 5.2.3-1.5.3-5.5.3 12.9.3-2 .3-5.4.3 4.6.3 3.3.3-6.2.3-9 .3 3.9.3 11.7.3-10.5.3-.2.3 5 .3-3.3.3.2.3-1.7.3 4.4.3-.3.3 3.1.3-3.4.3-3.7.3-.3.3 2 .3-.1.3 0 .3-3.5.3 6.1.3-1.1.3 2 .3-.6.3-10.1.3 8.1.3-5.8.3 10.2.3-5.9.3.2.3-4.1.3 7.4.3-1.6.3-2.1.3 3.1.3-8.2.3 10.7.3-9.5.3 11.7.3-16.9.3 18.3.3-11.7.3 2.8.3-1.5.3 1.3.3-2.5.3 7.7.3-4.7.3 1.1.3-3.3.3 9.6.3-5.8.3.2.3-8.9.3 2.3.3.9.3 2.2.3 0 .3 5.1.3-1.2.3-6 .3-.9.3 6 .3-6.4.3 6.3.3-4.5.3 2.1.3-3.7.3 2.1.3 1.1.3-3.2.3 1.6.3-1.6.3 2.6.3-10.3.3 13.4.3-8 .3 5.4.3-4.5.3 6 .3-3.9.3-5.7.3 14 .3 2.3.3-9.3.3 15.8.3-1 .3-6.1.3 5.2.3-.3.3-5.4.3 3.3.3-2.6.3 4.5.3-1.2.3 2.8.3-3.1.3-2.5.3 6.2.3-9.7.3 11.7.3 4.4.3-3.9.3-9 .3 7.9.3-2.3.3-5.7.3 6.5.3-3.7.3 9.9.3.9.3-5.4.3-5 .3 11.3.3-5.1.3 5.7.3-12.1.3 5.1.3 3.4.3-2.3.3-13.4.3 11.3.3-14.6.3 15.8.3 3.3.3-6 .3-9.8.3 13.7.3-3.4.3-12.1.3 4.6.3 5 .3 4.8.3 9.3.3-8.9.3-7.4.3 5 .3-5.1.3 8.9.3-8.8.3-.2.3-14.5.3 8.9.3 6.3.3-3.1.3-3.9.3-4.1.3 2 .3 1.3.3-5.7.3 0 .3-3.6.3 5.7.3 18.1.3-20.8.3 2.9.3-11.2.3 16.7.3-4.6.3-6.6.3-8.3.3 6.3.3-1.9.3.9.3.2.3-10.7.3 12.9.3 6.8.3-9.1.3 1.7.3 3.1.3 6.2.3-18.6.3 12.6.3 13.8.3-9 .3 6.7.3-1.3.3-4.8.3-14.1.3-2.6.3 17.6.3 3.1.3-7.2.3-2.6.3 1.3.3 1.8.3 1.2.3-4.1.3 9.1.3-7.3.3 1.3.3-9.5.3-2.8.3 27 .3-31.7.3.7.3 15.8.3 7 .3-23.4.3 19.6.3-9.7.3-6 .3 12.4.3-11.7.3 2 .3 10 .3-1.2.3 4.3.3-15.6.3 6.2.3-3 .3.7.3 15.2.3-11.7.3-3.9.3 8.2.3 1.7.3-12.5.3 4.9.3 9 .3-9.1.3-4.7.3 13.3.3 28.5.3-46.4.3 9.6.3 3.7.3 2.4.3 14.3.3-10.7.3 4.9.3-11.3.3-1.6.3 10.9.3 2.4.3-.3.3-18.3.3 13.3.3-19.5.3 12.3.3-3 .3-6.4.3 8 .3 2.8.3-10.4.3 17.9.3-6.3.3-2.9.3 2.8.3-4.3.3-3 .3 4 .3-3.4.3 1.2.3 8.1.3-10.8.3 2.5.3.6.3 4.4.3 4 .3-24.9.3 19.6.3-8.8.3 5.2.3.8.3-9.3.3 14.9.3-13.7.3 8.8.3-6 .3-11.5.3 12.3.3 10.4.3.8.3-18.1.3 4.3.3-5.4.3 6.3.3 1 .3 6.3.3 3.1.3-11 .3-2.6.3 4.6.3-4.4.3 11.1.3.7.3-19.4.3 4.4.3 7.1.3-.8.3 9.5.3-18.6.3 10 .3-.1.3 1 .3.7.3-4.2.3 0 .3 1.2.3-3.6.3-.1.3 3.5.3-1.6.3 3.7.3-10.7.3 5.7.3-7.1.3 6.4.3 7.4.3-8.9.3 2.4.3 2.6.3-9.9.3 3.2.3 7.6.3-10.8.3 5.4.3-.9.3 9.5.3-11.4.3 3.6.3 1.9.3-7.2.3 9.7.3-6.7.3.6.3 6.2.3-10.4.3 7.6.3.4.3-3 .3 2.1.3 2.7.3-3 .3-.4.3 4.4.3-5.5.3-4.9.3-.7.3 2.3.3-.7.3-.8.3 3.2.3-4 .3 6.6.3.3.3.1.3-5.9.3 6.8.3-2.8.3-5 .3-.1.3 1.2.3-1.2.3 3.8.3 4.4.3-4.9.3-3.1.3 18.5.3-4.9.3-13.8.3 7 .3-3.3.3-2.5.3 1.7.3-.7.3 6.3.3-8.5.3 0 .3 4.7.3-3.4.3 12.5.3-13.8.3 2.6.3 0 .3-1.6.3.5.3 5.3.3-2.5.3 3 .3-1.6.3 3.2.3-4.4.3-.7.3 9.3.3-5.6.3-7.5.3 2.6.3 4.6.3 3.6.3-8.8.3.9.3-2.9.3 4.9.3-4.9.3 13.4.3-5.7.3 2.2.3-2.4.3 5.1.3 0 .3-1.8.3-6.5.3 4.4.3-1 .3 2 .3 0 .3 1.1.3-9.2.3-.1.3-1.5.3 5.3.3.7.3-1.4.3-1.9.3 3.4.3 5.7.3-9.8.3 6.4.3.9.3-7.1.3 4.2.3-6.4.3 2.4.3-.1.3-2.3.3 1.1.3 8.8.3 2.6.3-11.4.3 4.8.3 25.9.3-23.8.3-2 .3 9.4.3-11 .3 1.6.3-6 .3 9.5.3 1.9.3 2 .3-12.6.3 7 .3-5 .3-2.8.3 2.3.3 7.4.3-3 .3-.2.3-1 .3 1.2.3 10.3.3-13.9.3 8.7.3-10 .3 9.4.3-4.7.3-6.5.3 0 .3 4.7.3.9.3-1 .3 6.1.3-2.6.3-5.6.3.9.3 5.6.3 2.7.3-1.8.3.7.3-9.6.3 4.1.3-5.1.3 2.6.3 1.2.3-1.6.3.9.3-1.7.3 6.9.3 3.7.3-6.5.3 1.8.3 1.6.3-4.9.3-4 .3 4.5.3.5.3 1.8.3 2.7.3-8.4.3 5.2.3 3.8.3-3.5.3-6.6.3 4.7.3 2.5.3 1.5.3-7.2.3 2.8.3 1.5.3 3.7.3-6 .3.7.3 3.7.3-4.4.3.2.3 12.3.3-8.9.3 4.7.3-5.2.3 5.5.3 6.3.3-14.1.3 5.9.3-6 .3 6.7.3-3.4.3-7.5.3 4.8.3 7.1.3-10.1.3 9.3.3-2.4.3 2.9.3-10 .3 6.6.3-1.3.3 2.1.3 4.8.3-12.4.3-.3.3 3.5.3-.9.3-3.7.3 9.4.3 0 .3-2.5.3-.4.3-6 .3 9.2.3-2.2.3 3.2.3-8.8.3-1.9.3 4.8.3 12.1.3-16.9.3 0 .3.7.3 8.1.3-8.8.3 6.7.3-1.6.3.3.3-5.4.3 6.7.3-2.8.3 5.1.3-.2.3-.8.3-8 .3 5.8.3 1.4.3-.7.3-2.7.3 4.1.3-4.8.3-3.1.3 4.4.3-.4.3 6.1.3-.3.3-7.4.3 3 .3 1.3.3-3 .3 6 .3-4.5.3 4.5.3-9.5.3 5.5.3-.9.3-3.3.3 4.9.3-6.4.3 6.8.3-3.6.3 2.7.3-.8.3.2.3-5.3.3 8 .3-1.5.3 2 .3-5.5.3-3 .3 4.2.3 2.1.3-6.3.3 0 .3 8.8.3 0 .3 4.8.3-10.6.3-3 .3 8.9.3-4.1.3-2.2.3 5.7.3-8.1.3 5.5.3-5.7.3 15 .3-6.2.3-8.3.3 6.8.3 1.8.3 8.6.3-5.9.3-2.3.3-4.9.3 3.2.3-7.6.3 11.5.3-4.8.3-2.8.3 5.2.3-4.2.3 2.3.3-.3.3 1.6.3.4.3 2.3.3-9.7.3 4.5.3 5.1.3-2.6.3.4.3-1.2.3-4 .3-3.9.3 5.7.3-1.9.3-3.2.3 1.4.3 1.2.3 3.8.3 2.3.3-9.3.3 6.3.3 2 .3-8.3.3 10.7.3-1.7.3-5.5.3-3.5.3 14.3.3-12.2.3-2.1.3 9.8.3-4.4.3-5.4.3 0 .3 5.7.3 6 .3-11.7.3 2.1.3 1.2.3-3.3.3 1.7.3.1.3 9.2.3-9.1.3 4.7.3 9.8.3-1.6.3-14.8.3 0 .3 0 .3 11.3.3 2.8.3-10.7.3 10 .3-10.5.3 4.8.3-3.7.3-4 .3 8.1.3 2.1.3 0 .3-1.8.3 4.2.3-3 .3-9.6.3 4.6.3 4.3.3-8.9.3 1 .3-.6.3 4 .3 1.5.3-1.5.3-2.1.3 12.6.3-4.3.3-6.4.3 1 .3-3.4.3-.7.3 3.7.3 9.7.3-8.5.3-5.6.3 5.6.3-2.6.3 1.4.3.2.3-5 .3 0 .3 6 .3 5.7.3-4.2.3 4.8.3-8.9.3 8.3.3-2.2.3 2.4.3-2.7.3 5.9.3-5.2.3 3.5.3-2.5.3 3.3.3 2.6.3-5.1.3-7.1.3 2.7.3-7.3.3 6.8.3-2.3.3.8.3 7.8.3.5.3-9.4.3 4.5.3-7.3.3 3.3.3 4.3.3 1 .3-4.5.3-3.4.3 5.6.3-7.7.3 8 .3-2.9.3 4 .3-9.1.3 17.3.3-9.4.3-.4.3 6.4.3-10.8.3 3.9.3 4.1.3-7 .3-2.5.3 7.7.3 5.1.3-6.6.3 3.4.3 1.3.3-5.6.3 5.6.3-2.6.3.9.3 8.1.3-14.6.3 8.1.3-12.4.3 2.3.3 1.3.3-3.6.3 5.8.3 3.7.3-5.3.3.3.3 1.6.3 2.1.3-5 .3-3 .3 12.1.3-5.4.3 2.1.3-.7.3 8.2.3-16.5.3 7.3.3-3.3.3-.7.3 8.4.3-7.1.3 8.5.3-12.8.3 5 .3-1.6.3-3.7.3 8.1.3 4.9.3-3.2.3-9.5.3 4.4.3 3.4.3-8.1.3 6 .3-6 .3 5.3.3 7.2.3-7.6.3 2.1.3 2.7.3 1.2.3 2.7.3-6.6.3 2 .3-2.5.3-1.6.3-1 .3 1.4.3-4.5.3 7.2.3-8 .3 3.8.3-3.7.3 13 .3-9.6.3-3.5.3 3.2.3 6.5.3-3.5.3 4.6.3 2.7.3-4.6.3 4.2.3-7.7.3 3.2.3-4.5.3.1.3-2.4.3 4.6.3-.4.3 1.1.3-7.1.3 12.3.3 2.8.3-15.1.3 6.1.3 1.2.3 1.7.3-4.1.3 7.8.3 1.7.3 0 .3-13.8.3 6.7.3.6.3 6.4.3-9.9.3-.9.3 21.7.3-13.8.3-9.3.3 2 .3-3.3.3 3.5.3 2.8.3 0 .3.5.3 3.6.3-11.2.3 9.2.3-4.7.3-3.3.3 9.8.3-1.1.3-4.5.3-.4.3 7 .3-2.8.3-2.1.3-1.2.3 2.9.3.4.3 5.2.3.3.3-1.9.3-3.2.3 1.6.3-4.6.3 2.7.3-9.3.3 16.7.3-5 .3 4.3.3-7.7.3-1.3.3-6.7.3 3.6.3-3.9.3 10.1.3 9.3.3-12.3.3 6.7.3-9.5.3-2.6.3 5 .3 3.2.3-5.2.3 7.6.3.5.3-4.6.3-7.4.3 2.1.3 3.3.3-2.9.3 9.8.3-8.8.3 10.1.3-4.3.3-4 .3-.4.3 3.1.3-2.4.3 20.2.3-22.9.3 5.5.3.3.3-4.7.3 4.1.3 5.1.3-9.8.3 3.9.3 10.4.3-14 .3 6.9.3-5.2.3 9.6.3-14.9.3 11.9.3-4.4.3 5.6.3-14 .3 3.6.3 2.2.3.6.3 20.7.3-21.7.3 8 .3-2.7.3-2.5.3-.4.3-2.6.3 6.6.3-2.5.3 2.5.3-.8.3-7.1.3-3.9.3 7 .3 5.7.3-4.6.3-1.3.3.4.3-2.1.3-2.3.3 4.1.3 10.2.3-7.2.3 2.6.3-4.4.3-1.3.3-2.7.3 9.1.3.6.3 1.6.3-1.3.3-3.1.3-4.8.3 10.8.3-5.6.3.4.3 6.1.3-7.2.3 2.5.3-10.1.3 9.1.3-5.7.3 5.1.3-3.5.3-.7.3 3.1.3-3.1.3 2.1.3-5.3.3 5.8.3-.6.3-1.8.3 1.6.3.5.3-7.4.3 8.2.3 4.5.3-8.8.3-6 .3 13.6.3 3.7.3-5.4.3-2.8.3-2.4.3 12.1.3-11.9.3-.7.3-3.6.3 9.1.3-1.9.3 4.8.3-14.8.3 11.4.3-3.1.3-.9.3 12.3.3-4.8.3-12.7.3 13.2.3 6.1.3-5.7.3 1.8.3-14.7.3 1.3.3 9.3.3-5.2.3 3.2.3-7.1.3 6.5.3 1.6.3 3.6.3-6.1.3 3.8.3-2.7.3-3.1.3-2.5.3 3 .3 7.8.3 4.5.3 2.4.3-17.1.3-2.8.3 8.7.3-3.7.3-4.2.3 4.8.3 2 .3-10.9.3 2.8.3 7 .3 2.3.3-7 .3 8.8.3-5.4.3-3.7.3-4.2.3 11.5.3-1.3.3-7.2.3 5.2.3-1.5.3-.3.3-5.7.3 15.5.3-13.5.3 7.2.3-4.5.3-1.1.3 21 .3-20.1.3-2.2.3-3.6.3 10.4.3-1.2.3-.3.3-8.9.3 0 .3 20.2.3 11.8.3-10.5.3-21.5.3 23.3.3 8.5.3-11.2.3 12.1.3-8.9.3-6.1.3 17.7.3-.2.3 8.3.3-10.7.3-15.3.3 3.9.3 2.2.3 8 .3 2.7.3-7.7.3-2.7.3 8.8.3-6.1.3-10.1.3-7.5.3 30.6.3-16.1.3-5.3.3 3.1.3 3.5.3-3.3.3-20.1.3 9.7.3 15.5.3-9.8.3-16.8.3 7.7.3 15.7.3-9.3.3-1.7.3.7.3 8.7.3-11.7.3-8.3.3 12.4.3-.7.3-4.5.3 11.9.3 9.8.3-2.6.3-16.5.3 4.1.3 5.8.3-5.9.3 6.4.3 3 .3.9.3-.2.3 8.7.3 3.5.3-.8.3-8.2.3 6.2.3-2 .3 1 .3 2.2.3 6.2.3-18.3.3 22.3.3-10.2.3 3.5.3-7.6.3 8 .3 5.3.3-13.9.3 16.6.3-2 .3-4.9.3 8.9.3-11.7.3-4.8.3-8 .3.3.3-2.9.3 19 .3-14.6.3.4.3 6.1.3-27.6.3 37.8.3-17.6.3 11.9.3-10.1.3-3.9.3 3.1.3-4.6.3 2.8.3-.8.3 10.1.3 1.4.3.8.3 3.9.3 13.5.3-24 .3 19.9.3-28.1.3 8.9.3-.4.3 19.9.3-13.2.3 1.2.3 7.1.3-2.4.3 22.1.3-10.6.3 5 .3-32.3.3 16.4.3-2 .3 7.3.3-17.6.3-8.4.3 21.4.3-19.6.3-15.3.3 31.1.3-4.1.3-13.8.3-5.3.3 10.7.3-16.4.3.4.3 20.5.3-12.4.3 0 .3-18.9.3 19.9.3-9.7.3 17.6.3-28.3.3 16 .3 10 .3-12.8.3-11.2.3 15 .3-7.4.3 6.4.3 7 .3-13.8.3-6.3.3-4.2.3 0 .3 21.7.3-4.3.3-.3.3-2.6.3-.2.3-6.4.3-1.2.3 14.4.3-15.3.3 9.4.3.7.3-7.5.3 8.5.3-2.9.3-5.6.3 3.3.3 8.9.3-2.6.3 2.8.3-11.6.3-.6.3 11 .3-16.1.3 7.3.3-5.1.3 2 .3 11.6.3-14.2.3 15.5.3 2.8.3-9.5.3.3.3 10.1.3-7 .3-17.3.3 15.4.3-6.3.3 15.1.3-8.4.3 2.3.3-6.3.3-2.8.3 8.8.3-.4.3-14.9.3 6.8.3 11.5.3-8.8.3 9.8.3 7.3.3-13.7.3 2.7.3 7.4.3 2.5.3 3.5.3-11 .3-1.7.3 1.4.3.3.3 7.1.3.3.3 3.7.3.1.3 6.1.3 12 .3-26.8.3 9.6.3-12 .3 2.4.3 3.9.3 11.8.3-11.8.3-14.9.3 17.3.3-6.8.3 6.1.3-18.2.3 5.2.3 1.3.3-6.8.3 2.3"/>
<path fill="none" stroke="#D95319" stroke-width=".9" stroke-linejoin="round"  d="M49.5 54.6l.3 4.5.3-1.8.3 4.1.3-9 .3 3.2.3 3.6.3-5.3.3 8.1.3-6.1.3 1.4.3 1.2.3 3.4.3-7.7.3 3.3.3-1.3.3 3.7.3 1.6.3-2.6.3-1 .3-1.6.3 5.4.3-3.6.3 3.7.3-.5.3-.7.3.9.3-3.6.3.7.3-2.3.3 1.6.3-2.3.3 4.6.3-3.2.3 1 .3 3.5.3 1.2.3-3 .3-5.5.3 5.9.3 1.6.3-6.5.3 3 .3 1.6.3 1.5.3-.8.3-3.8.3-3.1.3 7.4.3 3.6.3-9.4.3 2.2.3 3.9.3-.4.3-2 .3 3.5.3-3.5.3-3.8.3 1.4.3 3.3.3-2.1.3 4.2.3-.5.3-6.9.3.3.3.9.3 3.3.3-2.9.3 2.6.3-.5.3-5.4.3 3.4.3-1.7.3 5 .3-2.3.3-1 .3-.1.3 2.5.3-1.5.3-6.5.3 9.9.3-2 .3-2.3.3-1.6.3 5.7.3-3.7.3 3.7.3-5.2.3 2.1.3 4.2.3-3.1.3 2.3.3-1.3.3.8.3 3.5.3 2 .3-1.6.3 2 .3-1.3.3.4.3-2.6.3 1.2.3-1.1.3 3.6.3.3.3 2.8.3-6.1.3-.9.3 7.2.3-.4.3 5.3.3-1.9.3-6.2.3.3.3-2.1.3 7.2.3-6.2.3 7.4.3-1.7.3-6.6.3 2.4.3 2.6.3 2.1.3-5 .3 7.5.3-4.6.3 2.4.3-.9.3-1 .3 3.3.3 1.4.3-2.3.3-1.3.3-.6.3-1.7.3 6.5.3-3.9.3-.2.3 1.7.3-2.7.3 2.9.3-2.2.3-3.1.3 7.5.3-2.6.3-2 .3 1.6.3 0 .3-3.8.3 7.5.3-.8.3-.1.3-1.4.3-2.9.3 5 .3-1.6.3-.6.3-1.5.3.8.3-2.1.3 5.1.3.5.3-2.8.3 1.8.3 1.2.3-4.8.3 2.2.3-.8.3-.9.3.8.3.8.3-1.9.3-.2.3.6.3 2.3.3-.3.3.3.3-2.5.3-.9.3 0 .3 3.9.3-2.6.3 0 .3 5.7.3-4.5.3.8.3-2 .3.1.3 2 .3.6.3-3.8.3.3.3 4.4.3-.9.3-3.7.3.4.3 2.7.3-.4.3-4 .3 1.1.3 2.6.3-1.1.3.1.3-3.1.3 2.6.3-.1.3.7.3-1.3.3 1 .3 2 .3 1 .3.8.3-6.4.3 2.4.3 3.1.3-7.9.3 8 .3.9.3-5 .3-1.4.3 2 .3 2.8.3-5.3.3 2.3.3-1.5.3-1.2.3-.6.3 2.3.3 1.7.3-3.3.3 3.4.3-.4.3-4.7.3 6.4.3-3.4.3-3.4.3 3.1.3.8.3-1.8.3-1.9.3-.7.3 1.2.3 3.6.3-3.8.3.2.3-2.3.3 7.4.3-4.6.3-2.1.3.1.3 5.2.3-4.4.3.1.3 3.4.3-4 .3 2.5.3-1.1.3-2.3.3 2.2.3-2.7.3 4 .3-2 .3.8.3 1.1.3.2.3-2.4.3-1.5.3 1.4.3.2.3-2.3.3 4.2.3 1.1.3-3.4.3.8.3 4.7.3-1.6.3-4.8.3-1.8.3 2.3.3-.8.3 3.4.3-1.4.3.8.3 1.2.3-1 .3-1.7.3-.9.3 2.2.3-1.7.3 1.9.3 3.6.3-2.7.3 1.1.3 3.5.3-3.9.3-1.2.3 4.4.3 4.8.3 1.3.3-1.3.3-1.5.3 1.3.3 3.1.3-1.7.3-2 .3 3.6.3-2.4.3 1.6.3-1.1.3-2.4.3 2.6.3-2.5.3 5.4.3-4.9.3 2.6.3-1.9.3 1.1.3-2.6.3 4 .3 1.5.3-2.5.3-1.8.3.4.3.7.3.6.3-.4.3-1.6.3 1.6.3-4.8.3 4.1.3-2.7.3.7.3-2.2.3 1.3.3.5.3-1.6.3 4.1.3-.6.3-4.1.3.4.3 3.2.3 1.7.3-5 .3-1.4.3.1.3.5.3 2.7.3-2.4.3.8.3-.5.3.7.3-.7.3 1.8.3 1.7.3-3.7.3-2.3.3 3.6.3 1.6.3-.1.3-2.9.3 4 .3-1.4.3-1.5.3 0 .3 2.9.3 1.6.3-3.1.3 3.9.3-2.6.3-.1.3.4.3 2.5.3-3.1.3.4.3 4.3.3-4.1.3 3.7.3-1.7.3-.8.3 1.4.3.3.3-.6.3-1 .3-.3.3-2.1.3 3.7.3-3.3.3-3 .3 6.1.3-4.8.3 0 .3.9.3-3 .3 1.2.3 2.1.3-3.8.3-2.4.3 1.7.3.5.3 1.5.3-1.9.3-.2.3-.7.3 2.5.3-2.7.3-.5.3.3.3 1.8.3-3.3.3-.2.3-.6.3-.7.3 1.1.3 1.2.3-1.4.3 1.4.3-1.6.3 1 .3-2.8.3 4.9.3-.4.3-2.4.3.1.3-.8.3.6.3 1.3.3-2.4.3.7.3 1.7.3 1.6.3-3.9.3 2.2.3-.3.3-.5.3-.6.3 3 .3-3.2.3 2.2.3 0 .3-2.2.3-2.4.3 2.3.3-.4.3-.2.3.9.3.9.3-.3.3-.8.3-1.8.3-1.6.3.5.3 5.7.3-1.5.3-2.1.3-1.1.3.9.3 1 .3-2.1.3 0 .3 1.4.3 2.7.3-1 .3 2.2.3-4.5.3 4.9.3-2.8.3 2.6.3-3.2.3.5.3.8.3.1.3.8.3-2.7.3 4.1.3-6.5.3.2.3 4.1.3-.3.3-.4.3-2.2.3 2.6.3 2.8.3-3.1.3 0 .3 0 .3 2 .3 1.2.3-1.6.3-3.9.3 4.4.3-2.4.3-.6.3-2 .3 1.2.3-.9.3.4.3 3 .3-2.2.3 3.2.3-5.9.3 2 .3 4.3.3-.7.3-2.7.3 2.8.3-1.9.3-.7.3 1.5.3 3.7.3-.8.3-4.1.3 2.5.3-1.1.3-.5.3 2.9.3-2.7.3 4 .3-2.6.3-1.4.3-2.2.3 1.3.3-1 .3 1.3.3 1 .3 1 .3-2.3.3 4.7.3-.2.3.2.3.4.3-.3.3-2.3.3 2.9.3-2.3.3-.1.3-.8.3.9.3.3.3-1 .3-1.9.3.7.3.1.3.6.3-2.7.3 4.3.3 1.2.3-.8.3-5.1.3 1.8.3 2.2.3-3.2.3.3.3.1.3.7.3.5.3-2.7.3 1.9.3.5.3 1.3.3-1.5.3-.7.3 3.5.3-3.3.3 1.4.3.9.3-2.5.3-3 .3 5.7.3-.9.3 2.1.3-4.8.3.5.3 2.4.3-3.9.3 1 .3 1.5.3-.9.3.2.3-1.8.3 5.7.3-5.8.3 4.8.3-5.2.3 1.7.3.6.3 1.6.3-1 .3-1.2.3-.6.3-1.4.3 3.6.3 0 .3-.4.3-.1.3-.9.3 1.3.3-1.8.3 2.9.3-1.4.3-1.8.3 3.2.3-1.1.3-2.2.3.8.3.6.3-3.6.3 3.1.3-2.1.3 1.5.3 1.7.3-.7.3-1.4.3-.4.3 2.9.3-1.2.3-2.7.3 1.7.3 3.1.3-2.1.3-.4.3 2 .3.6.3-2.6.3 1.1.3-3.6.3 5.2.3-2.2.3-.4.3 2.7.3-3 .3 2 .3-2.9.3 4.1.3-2.1.3-1 .3-1.1.3 2.9.3.9.3-3.8.3 1.8.3-1.9.3 3.6.3-.7.3.2.3-.1.3-2.2.3 2.4.3-2.4.3 2.6.3.8.3-2.6.3 0 .3-2.7.3 7.9.3-2.9.3-1.9.3 1 .3-3.5.3 3.9.3-1.3.3 1.4.3 2.8.3 1 .3-1.7.3 1.4.3-5.2.3 1.3.3 3.2.3-3.7.3-1.6.3 3.5.3.9.3-.7.3-1.3.3-2 .3 1.1.3.3.3.6.3 1.4.3 1.9.3-3.5.3.1.3 1.9.3-.8.3 1.4.3 0 .3-2.8.3 2.2.3-1.3.3.8.3-.3.3-2.8.3 5.4.3-2.7.3-4.9.3 3 .3 0 .3-1 .3-.9.3 1.1.3 1.7.3-.8.3-3.4.3 3.9.3 1.7.3-3.2.3-.5.3-.2.3.5.3 1.6.3-3.6.3-1.1.3 4.8.3-4.7.3 2 .3 2.9.3-2.2.3-.3.3-1 .3.3.3-.8.3.9.3-1.7.3 2.3.3-1.6.3 3.7.3-2.5.3-3.6.3 5.2.3-6.8.3.8.3 4.2.3 2.8.3-3.4.3 3.3.3-4.5.3 3.7.3-1.5.3 2.7.3-2.6.3-.4.3-1 .3-1.1.3-1 .3 2.4.3 1.7.3-3.1.3 3.9.3-4.2.3 3.4.3-1.1.3 1.2.3 1 .3-1.3.3-1.4.3 2.9.3-4.3.3 3 .3-.3.3.5.3-.7.3-.4.3-.1.3 1.2.3-4.3.3 2.1.3.7.3 1.2.3.3.3-3.2.3 4.8.3-1.4.3-.2.3-2.5.3.3.3-.9.3 3.1.3-2 .3.4.3.2.3-.8.3-.9.3.9.3-.4.3 3.1.3-2.3.3 1.5.3-1.1.3-1.6.3 6 .3-3.5.3-3.1.3.1.3 4.1.3-1.1.3 1.5.3-4.7.3 2.6.3-.2.3 2.3.3-1.8.3.5.3 3.9.3-2 .3 2.6.3-4.4.3.2.3-3.2.3 6.8.3-6.4.3 1.6.3-.5.3 1.5.3.8.3-3.5.3 5.3.3-4.9.3.3.3.9.3 1.2.3-1.7.3.7.3 3.1.3-3 .3.5.3-.8.3-.8.3-.1.3.9.3 1.2.3-.2.3.8.3 1.4.3-3.2.3.5.3.1.3-.1.3.7.3 1.8.3-.5.3-.8.3-2.4.3 1.8.3.6.3.7.3 0 .3.3.3 1.7.3-5.6.3 6.1.3-2.5.3 1.5.3.3.3-5.1.3 2.8.3 3.7.3-5.1.3-2.6.3 3 .3 3.9.3-4.3.3 1.8.3-1.9.3-.5.3 1.6.3 2.2.3-2.3.3 1.5.3-3.3.3 1.5.3.9.3 2.4.3-.1.3-3.2.3-.8.3.3.3-2.5.3 2.2.3 3.6.3-5.7.3 1.1.3 3.3.3-.1.3-4.1.3 1.5.3-.1.3 3.7.3-1.3.3 1.1.3-.6.3-.1.3-2.1.3-.2.3 2.2.3-4.2.3 3.3.3.4.3-1.3.3 4.6.3-3.7.3-.3.3 1.7.3-2.4.3 0 .3-.3.3-.1.3-1.2.3 1.7.3 1.8.3-1.2.3-.8.3 1.1.3-3.1.3-.6.3 4.3.3-1.3.3-1 .3.2.3 1.9.3-4.2.3-.3.3.1.3 4.9.3-3.4.3 3.3.3-3.3.3-2.5.3 2.6.3 1.8.3.3.3-3 .3-1 .3 1.9.3-.3.3-.4.3 1.1.3 1 .3-1.8.3-1 .3 3.3.3-2.5.3 4.2.3.5.3-2.8.3-1.7.3 2.3.3-.9.3-.7.3 1 .3-.8.3-.6.3.4.3 4 .3-2.1.3-.6.3-3.1.3 2.3.3-.7.3 0 .3 1.8.3-1.9.3-.1.3-.2.3 5 .3-5.2.3 1.6.3 1.5.3-1.5.3-.9.3.4.3-.2.3 3.5.3-1.8.3-3.7.3 1.4.3.8.3 2.9.3-2.3.3-1.5.3 1.2.3 1.6.3-1.2.3-.4.3 2.6.3.3.3-3.9.3 3.3.3-1.5.3 3.8.3-4.9.3 3.3.3-.5.3-.6.3 1.1.3-2.6.3-.1.3 2.3.3-1.4.3 1.1.3-3.1.3 2.6.3-2.5.3 1.9.3-1.6.3.4.3-.1.3 1.7.3.2.3 2.8.3-3.9.3-.3.3 3.2.3 1.2.3-3.4.3 1.3.3-2.1.3-4.6.3 5.5.3-1.6.3-.1.3 3 .3.2.3-1.3.3-3.3.3 2.1.3-4.2.3 2.9.3.6.3 1.8.3-3.6.3 5.5.3-4.1.3-.4.3-3.8.3.9.3 2.2.3.9.3-2.9.3 1.6.3.6.3-5.1.3 6.1.3-3.1.3 1.5.3-3 .3 5.6.3-.1.3-1.6.3.2.3-1.5.3 2 .3-2.5.3 1.5.3-1.3.3-3.4.3 4.8.3-1.6.3.8.3-2.1.3.4.3.7.3 1.9.3-2.6.3.1.3.3.3-.6.3-3.1.3 6.9.3-.7.3 2.3.3-3 .3-.1.3 2.9.3-4.3.3 2 .3-4 .3 3.8.3-1.2.3 1 .3 1.9.3-4.9.3 1.1.3 3.6.3-1.4.3-4 .3 5.6.3-.6.3-.7.3-.1.3-.2.3-2.5.3 1.4.3 1.1.3-1.2.3-4.7.3 0 .3 2.9.3.4.3-1.3.3 3.1.3-2.5.3 1.5.3-3.2.3 2.6.3-1.4.3 0 .3-.3.3-.6.3-2.7.3 4.7.3-1.1.3-1.5.3.9.3-1 .3-.1.3 3.8.3-3 .3 1.6.3-1.4.3-1.5.3 1.5.3-.9.3 4.5.3-3.6.3 1 .3-.4.3.7.3-1.4.3 1.3.3 2.5.3-2.4.3.7.3.1.3-1.2.3-1.7.3 2.3.3-5.1.3 3.3.3 3.3.3.8.3-4 .3.8.3 0 .3-.1.3.9.3 3.2.3.3.3 0 .3.1.3.4.3 1 .3 1.3.3-3.2.3-1 .3-2.3.3.9.3 4.1.3-1.6.3-1 .3 1.6.3 2.1.3-3.7.3.3.3-.2.3-.3.3 1.9.3-2.5.3 0 .3 1 .3 1 .3.3.3-2.8.3.4.3 2.5.3-2.5.3-.6.3 4.3.3-3.9.3.3.3 3.7.3-4 .3.8.3.3.3 1.7.3-1.1.3-1.4.3.5.3 2.9.3-2.8.3 1 .3-2.8.3-1 .3 6.5.3-5.2.3.8.3-.4.3-.7.3 4 .3-5.6.3-.7.3 6.8.3-5.1.3 2.1.3-1.7.3.9.3 1.7.3-.2.3 1 .3-.1.3 0 .3-.2.3-3 .3.6.3 4.6.3-1.5.3-5.3.3 3 .3.8.3-1 .3 1.4.3-2.4.3 1.6.3.1.3 0 .3-1.4.3 1.1.3 3.6.3-2.8.3 3.7.3-4.9.3 2 .3 3 .3-2.3.3-1.9.3 2.1.3-.7.3-1.8.3-2.4.3 3.1.3-1.8.3 3.1.3-1 .3.6.3-1 .3-3.9.3 4.8.3-2.1.3.2.3 1.2.3 2.1.3-.5.3-1.3.3-3.4.3 1.2.3 2.6.3-.6.3 2.8.3-1.4.3-2.2.3 2.1.3-.7.3-1.3.3-.4.3-2.3.3 3.6.3 1.4.3-1.7.3-1.9.3 2 .3-.1.3 2.2.3-.7.3-1.2.3 2.8.3-2 .3-2.3.3 2.2.3 1.1.3-.2.3-2.5.3 3 .3 2.1.3-.1.3-4.6.3.4.3.4.3-.4.3 1 .3-.3.3 2.1.3.9.3-4 .3 4.8.3-5 .3 1.4.3.4.3-.2.3 4.3.3-.7.3-.3.3-2.8.3 3.2.3-1 .3.8.3.1.3 2.1.3-2.9.3.1.3.6.3 0 .3-1.2.3 1.4.3-1.4.3 1.8.3-.9.3 2.6.3-1.2.3-1 .3 1.2.3.4.3-.1.3 1 .3-1.5.3-1.1.3-.4.3 2.4.3.7.3-.7.3-1.1.3-.9.3.3.3-1.7.3 1.5.3-1.5.3.2.3 1.3.3-.3.3-4.6.3-.3.3-.6.3-1.5.3 1.1.3-1.1.3 3.4.3-1.8.3 1.4.3-1.8.3 4.6.3-2.3.3-1 .3 3.6.3-5.3.3 4.2.3-2.1.3 2.9.3-1.5.3-1.7.3.3.3 4.5.3-2.6.3.1.3.5.3-.9.3-1.8.3 2.3.3-2.6.3 3.9.3-4.3.3 2.1.3.5.3-2 .3.5.3-.9.3-.7.3 1.2.3.6.3-2.7.3-2.2.3 1.8.3 2 .3 2.2.3-4.7.3-3.1.3 4.3.3-.5.3 3.1.3-2.7.3-.4.3-.4.3-2.7.3 3.4.3 1.2.3-3.5.3 1.5.3.5.3-1 .3.2.3-.6.3-1.7.3.6.3 2.6.3-2.8.3-.8.3 2.5.3-5.4.3.6.3 2.8.3 2.7.3-.3.3-2.9.3-1.1.3-.8.3 2.4.3-2 .3.4.3-1.3.3.8.3 2.8.3-4.2.3 1.3.3-1.2.3 3.2.3-2.6.3 3 .3-1.1.3 1.2.3-.5.3-1.1.3 3 .3 0 .3-4.8.3 4.5.3-2.7.3 4.7.3-4.4.3-.7.3 2.7.3-.1.3.2.3-2.7.3-1.7.3 1.8.3 1.1.3 3.8.3-6.8.3-.3.3-.9.3 3 .3 2 .3-3.3.3-.1.3 1.7.3 1.1.3-3.2.3.1.3 3.3.3-2.3.3 1.4.3 1.3.3-1.1.3-.4.3-3.2.3 6.7.3-4.1.3.9.3-1.4.3 3.9.3 1.2.3-7.8.3 7.1.3-.4.3 1.9.3-5.8.3 2 .3 4.4.3-4.2.3-5.7.3 7.6.3-2.2.3.9.3-.3.3 4.9.3-2.5.3 2.2.3-4.6.3-4 .3 7 .3-4 .3-1.2.3.8.3 1.7.3 0 .3 1.2.3-8 .3 5.9.3-.3.3.4.3-2.3.3 1.3.3 0 .3-4.9.3 6.4.3-2.6.3-.2.3 5 .3-.9.3-4.8.3 6.2.3-7 .3 4.5.3.3.3.4.3-2.9.3 4.7.3-2.5.3-1 .3-3 .3.9.3-.9.3 3.1.3-.7.3.2.3-3 .3 1.1.3-.8.3.5.3 1.4.3-.5.3-3.4.3 3 .3-3 .3 6.1.3-1.5.3.3.3 4.4.3-6.4.3 4.2.3-3 .3-.6.3.4.3.4.3.9.3-2.1.3 3 .3-4 .3 2.4.3 2.3.3 1 .3-7 .3 3 .3 3.4.3-2.9.3-1.3.3-2.2.3 8.6.3 2 .3-9.3.3 3.4.3 3.3.3-2.8.3 3.3.3-3.5.3-.2.3-1.1.3-2.1.3 6.9.3 1.1.3-5.3.3.6.3-4.2.3 3.5.3-4.8.3 4.3.3-.5.3-1.4.3-.8.3-2.3.3 4.1.3.2.3.8.3-4.2.3 6.9.3-6 .3 5 .3-1.3.3-3.8.3 2.7.3 2.4.3-2.8.3.7.3-1.3.3-.7.3-2.1.3 1.2.3 3.4.3 1.2.3-3.1.3-5.1.3 2.6.3-3.6.3 6.9.3-1.4.3 3.1.3-4.6.3-.5.3-1.1.3 6.6.3.4.3-4.6.3 2.4.3 4.2.3-3.3.3-.5.3 4.3.3-2.2.3-1.6.3 1.7.3-1.5.3.4.3 2.6.3-2.6.3 3.9.3.2.3-5.5.3 5.3.3-4.7.3 3.1.3-2.7.3 3.7.3-1.3.3 3.4.3-4.8.3.1.3 6.1.3-3 .3 2.3.3-2.3.3 6.2.3-3.6.3-1.7.3 1.1.3 3.1.3 4.4.3-4.8.3.5.3.8.3-.6.3-4.7.3 2.2.3 3.5.3-5.6.3 6.6.3-2.2.3-3.9.3.6.3 3.8.3-5 .3 2.6.3 4.1.3-6.8.3 6.7.3-4.1.3 4.8.3 2.9.3-7.1.3 3.9.3-8.8.3 5.6.3-4.1.3.9.3-2.7.3 3.5.3-5.7.3 5.9.3-.1.3.1.3-.4.3-4.6.3 6.7.3 2.8.3-2.7.3-2.3.3 2.8.3-3.6.3 1.2.3-4.5.3.3.3 1.2.3-3.3.3 2.1.3 3.7.3-9.2.3 3 .3 3.1.3-.2.3-1.4.3 6.8.3-2 .3-4.4.3-2.7.3-1.2.3 3.3.3-2.6.3 3.6.3-1 .3 2.3.3 2.7.3-1.4.3-3.5.3 3.1.3 2.2.3-4.1.3-6 .3 2.6.3 7.8.3-7 .3-.2.3 3.3.3-2.2.3.1.3-1.2.3 2.8.3-.3.3 2 .3-2.4.3-2.6.3-.3.3 1.3.3-.2.3 0 .3-2.4.3 4 .3-.8.3 1.3.3-.4.3-6.7.3 5.4.3-3.9.3 6.9.3-3.9.3.1.3-2.7.3 5 .3-1.1.3-1.3.3 2.1.3-5.4.3 7.1.3-6.4.3 7.9.3-11.3.3 7 .3-2.6.3 1.8.3-1 .3.8.3-1.7.3 5 .3-3.1.3.8.3-2.3.3 6.4.3-3.9.3.1.3-5.9.3 1.5.3.5.3 1.4.3 0 .3 3.3.3-.8.3-4 .3-.7.3 4 .3-4.3.3 4.1.3-3 .3 1.3.3-2.5.3 1.3.3.7.3-2.2.3 1.1.3-1.1.3 1.6.3-6.9.3 8.9.3-5.2.3 3.7.3-2.8.3 4.3.3-2.4.3-3.5.3 9.6.3 1.8.3-6 .3 5.6.3 4.9.3-3.8.3 3.8.3.1.3-3.4.3 2.5.3-1.5.3 3.2.3-.7.3 2 .3-1.9.3-1.6.3 4.3.3-6.3.3 7.8.3 3.1.3-2.5.3-5.9.3 5.3.3-1.4.3-3.7.3 4.4.3 1 .3 3.2.3.6.3-3.6.3-3.4.3 7.6.3-3.4.3 3.8.3-8.2.3 3.4.3 2.3.3-1.6.3-8.9.3 7.4.3-9.7.3 10.5.3 2.2.3-4 .3-6.5.3 9.1.3-2.2.3-8.1.3 3.2.3 3.2.3 2.9.3 6 .3-6.2.3-5.2.3 3.1.3-3.7.3 4.8.3-5.3.3-.5.3-8 .3 3.8.3-.9.3 2.5.3-2.9.3-3.1.3 1.1.3.6.3-4 .3-.2.3-2.6.3 3.6.3 6.2.3-8.4.3 1.6.3-7.7.3 10.9.3-3.3.3-4.6.3-5.8.3 4.1.3-1.2.3.7.3.1.3-7 .3 8.7.3 4.5.3-6 .3 1.2.3 2.2.3 4.3.3-12.4.3 8.5.3 9.2.3-5.9.3 4.6.3-.8.3-3.2.3-9.3.3-1.7.3 9.6.3 4.2.3-4.8.3-1.8.3.9.3 1.1.3.8.3-2.8.3 5.8.3-5 .3.7.3-6.5.3-2.1.3 17.9.3-21.3.3.3.3 10.4.3 4.6.3-15.7.3 13 .3-6.5.3-4.1.3 8.3.3-7.8.3 1.3.3 6.6.3-.7.3 2.9.3-10.2.3 4.3.3-1.9.3.7.3 10.2.3-7.6.3-2.5.3 5.5.3 3.3.3-10.3.3 3.3.3 6.1.3-6 .3-3.1.3 12.6.3 15.4.3-30.9.3 6.5.3 2.6.3 1.6.3 9.7.3-7.1.3 3.3.3-7.6.3-1.2.3 7.2.3 1.5.3-.3.3-12.3.3 8.8.3-13.1.3 8.1.3-2.1.3-4.5.3 5.3.3 1.7.3-7 .3 11.8.3-4.3.3-2 .3-.8.3-.4.3-2.1.3 2.6.3-2.4.3-9.3.3 15.3.3-7.3.3 1.6.3.4.3 2.8.3 2.6.3-18.7.3 15 .3-5.9.3 3.4.3.5.3-6.3.3 9.9.3-9.2.3 5.8.3-4.1.3-9.7.3 10.2.3 6.9.3-.2.3-11.4.3 2.9.3-3.6.3 4.3.3.6.3 4.2.3 2.1.3-7.4.3-1.7.3 3 .3-3 .3 7.3.3.4.3-13.5.3 3.4.3 4.7.3-1.9.3 3.8.3-8.8.3 6.5.3-.1.3.6.3.5.3-2.9.3 0 .3.8.3-2.4.3-.1.3 2.3.3-1.1.3 2.5.3-4.3.3.9.3-5.7.3 5.1.3 4.9.3-6 .3 1.6.3 1.3.3-8.8.3 4.1.3 5.5.3-8.4.3 4.6.3-.6.3 6.3.3-7.6.3 2.3.3 1.2.3-4.8.3 6.5.3-4.5.3.5.3 4.1.3-7 .3 5.1.3.2.3-2 .3 1.4.3 1.7.3-2.1.3-.3.3 2.9.3-3.7.3-3.3.3-.7.3 1.7.3-.5.3-.6.3 2.1.3-4.1.3 5.8.3.2.3-2.3.3-1.5.3 4.5.3-1.9.3-3.3.3-.2.3-1 .3-.1.3 3.9.3 2.9.3-3.3.3-2 .3 7.9.3 1.1.3-10.2.3 5.7.3-2.2.3-1.7.3 1.1.3-.4.3 4.2.3-7.2.3 0 .3 4.8.3-2.3.3 8.4.3-9.2.3 1.8.3 1.3.3-2.3.3.3.3 3.5.3-1.8.3 2 .3-1 .3 2 .3-3 .3-.5.3 6.2.3-3.8.3-6.2.3 2.9.3 3.1.3 2.5.3-5.8.3.6.3 3.1.3-1.6.3-3.5.3 9.4.3-3.7.3 1.6.3-2 .3 3.9.3.1.3-1.2.3-4.3.3 3.3.3-1 .3 1.4.3-.1.3.7.3-6.2.3-.1.3-3 .3 5.4.3.4.3-1 .3-1.4.3 2.3.3 3.6.3-6.6.3 4.3.3.5.3-4.8.3 2.8.3-5.7.3 3 .3-.1.3-2.9.3 2.1.3 5.8.3 1.8.3-7.6.3 3.2.3.5.3.9.3-1.3.3 6.3.3-7.3.3 1 .3-2.9.3 5.3.3 1.4.3-3 .3-4 .3 4.6.3-3.2.3-3.1.3 2.7.3 5 .3-2 .3-.2.3-.7.3.9.3 6.8.3-9.3.3 5.9.3-6.7.3 6.3.3-3.1.3-2.2.3-2.7.3 3.8.3.6.3-.6.3 4.1.3-1.7.3-3.8.3.6.3 3.8.3 1.8.3-1.2.3.5.3-6.4.3 2.8.3-5.6.3 4 .3 1.5.3-1.7.3.6.3-1.1.3 4.6.3 2.6.3-4.3.3 1.2.3 1.1.3-3.3.3-3.1.3 3.4.3.3.3 1.2.3 1.7.3-5.6.3 3.4.3 2.5.3-2.4.3-4.9.3 3.6.3 1.6.3 1 .3-4.8.3 1.8.3 1.1.3 2.5.3-2.4.3-1.1.3 2.5.3-2.9.3.2.3 8.2.3-10.2.3 7.5.3-3.5.3 3.7.3 4.2.3-9.4.3 3.9.3-4 .3 4.4.3-2.4.3-5.9.3 4 .3 4.7.3-6.8.3 6.1.3-1.7.3 1.9.3-6.7.3 4.4.3-.9.3 1.4.3 3.2.3-8.2.3-.2.3 2.4.3-.6.3-3.3.3 7.2.3 0 .3-1.6.3-.3.3-4 .3 6.1.3-1.5.3 2.1.3-5.9.3-3.1.3 4.9.3 4.3.3-9.2.3.9.3 1 .3 5.3.3-6.9.3 2.7.3 1.7.3.2.3-4.9.3 5.8.3-1.9.3 3.5.3-.1.3-.5.3-3.8.3 2.4.3 1 .3-.4.3-1.7.3 2.8.3-3.2.3-2.6.3 3.6.3-.3.3 4.1.3-.2.3-4.9.3 2 .3-.1.3-1.1.3 4 .3-3.1.3 3.1.3-6.4.3 3.6.3-.6.3-2.3.3 3.2.3-5.9.3 6.2.3-2.5.3 1.8.3-.6.3.4.3-5.3.3 6.8.3-1 .3 1.3.3-3.7.3-3.4.3 4.3.3 1.4.3-5.7.3 0 .3 7.6.3.1.3 3.3.3-7 .3-4 .3 8.1.3-2.7.3-1.4.3 3.8.3-5.3.3 3.7.3-3.9.3 10.1.3-4.1.3-5.6.3 4.5.3 1.1.3 3.4.3-1.7.3-1.6.3-3.2.3 2 .3-5.1.3 7.7.3-3.2.3-1.9.3 3.5.3-2.8.3 1.6.3-.2.3 1.1.3.3.3 1.6.3-6.4.3 3.1.3 3.4.3-1.7.3.3.3-.8.3-2.6.3-5 .3 6.2.3-1.3.3-2.2.3.9.3.8.3 2.4.3 1.5.3-8.4.3 6.3.3 1.2.3-6.6.3 8.1.3-1.2.3-3.7.3-.6.3 7.8.3-8.1.3 1.5.3 3.6.3-2.9.3-5.4.3 3.2.3 2.9.3 3.5.3-8.4.3 2 .3.8.3-2.3.3 1.3.3.1.3 6.1.3-6.1.3 3.6.3 6.2.3-1.1.3-3.1.3-5.7.3-3 .3 9.5.3 1.9.3-7.1.3 6.6.3-7 .3 3.2.3-2.5.3-2.8.3 5.5.3-4.9.3 6.2.3-1.3.3 2.8.3-2 .3-8.1.3 4.7.3 2.8.3-6 .3.7.3-.4.3 2.8.3 1 .3-1 .3-1.4.3 8.5.3-2.9.3-4.2.3.7.3 1.3.3-3.9.3 2.5.3 6.5.3-5.6.3-3.7.3 3.8.3-1.7.3 1 .3.1.3 3.5.3-8.1.3 5.4.3 3.8.3-2.7.3 3.2.3-5.9.3 5.6.3-1.4.3 1.7.3-1.8.3 4 .3-2.3.3 1.2.3-1.6.3 2.2.3 1.7.3-3.4.3-4.7.3 1.7.3-6.1.3 5.7.3-1.6.3.5.3 5.2.3.3.3-6.3.3 2.9.3-4.9.3 2.3.3 2.8.3.7.3-3.1.3-2.2.3 3.8.3-5.4.3 5.6.3-1.9.3 2.8.3-8.3.3 13.8.3-6.2.3-.2.3 4.3.3-7.1.3 2.6.3 2.8.3-4.6.3-1.7.3 5.1.3 3.4.3-4.4.3 2.1.3.8.3-3.8.3 3.7.3-1.8.3.4.3 5.4.3-9.9.3.1.3-3.3.3 1.6.3.8.3-2.8.3 4.1.3 2.5.3 2.2.3-5.6.3 1 .3 1.4.3-3.3.3-2.1.3 8.2.3-3.7.3 1.4.3-.4.3-2.6.3-3.5.3 5.5.3-2.1.3-.4.3 5.7.3-4.7.3 5.7.3-8.5.3 3.5.3-1 .3-4.9.3 7.9.3 3.3.3-2.1.3-6.3.3 2.9.3 2.3.3-8 .3 6.6.3-5.6.3 5.1.3 4.7.3-5.1.3 1.4.3 1.8.3.7.3 1.7.3-4.4.3 1.3.3-1.7.3-1.2.3-.7.3.9.3-3 .3 4.7.3-7.1.3 4.3.3-2.5.3 8.7.3-6.4.3-4.2.3 4 .3 4.3.3-2.2.3 3.1.3-1.2.3 0 .3 2.8.3-5 .3 2.1.3-2.9.3.1.3-1.6.3 3.1.3-.2.3.7.3-6.9.3 10.5.3 1.8.3-3.2.3-2.8.3.9.3 1.2.3-2.8.3 5.2.3 1.2.3 0 .3-9.2.3 4.5.3.2.3 4.5.3-6.5.3-.5.3 3.8.3 1.5.3-6.2.3 1.4.3-2.2.3 2.4.3 1.8.3-4.2.3 4.5.3 2.4.3-6.8.3 5.4.3-3.2.3-2.2.3 6.4.3-.8.3-3 .3-.3.3 4.6.3-1.9.3-1.4.3-.8.3 2 .3.3.3 3.5.3.3.3-1.3.3-2 .3 1.1.3-2.9.3 1.8.3-2.2.3 7.2.3-3.4.3 2.9.3-5.2.3-.8.3-4.6.3 2.4.3-3.4.3 7.4.3 6.2.3-8.3.3 4.5.3-6.4.3-1.8.3 3.4.3 2.1.3-3.6.3 5.1.3.3.3-3.1.3-4.9.3 1.4.3 2.1.3-1.9.3 6.6.3-5.9.3 6.8.3-2.9.3-2.6.3-.2.3-.9.3 1.3.3 7 .3-8.8.3 3.7.3.3.3-3.2.3 2.7.3 3.5.3-6.6.3 2.7.3 6.9.3-9.2.3 4.6.3-3.4.3 6.4.3-10 .3 8 .3-2.9.3 3.7.3-12.2.3 5.3.3 1.5.3.4.3 13.8.3-14.5.3 5.4.3-1.8.3-1.6.3-.3.3-1.8.3 4.5.3-1.7.3 1.7.3-.5.3-4.7.3 3.2.3-1.1.3 3.7.3-3 .3-.9.3.3.3-1.4.3-1.5.3 2.8.3 6.8.3-4.8.3 1.8.3-2.9.3-.8.3-1.8.3 6.1.3.5.3 1.1.3-.9.3.1.3-5.3.3 7.2.3-3.8.3.3.3 4 .3-4.9.3 1.7.3.2.3-1 .3-3.8.3 3.4.3-2.4.3-.5.3 2 .3-2.2.3 1.5.3-3.6.3 3.9.3-.4.3-1.2.3 1.1.3.4.3-4.9.3 5.5.3 3.1.3-5.8.3-.5.3 5.7.3 2.4.3-3.6.3-1.8.3-1.6.3 8.1.3-7.9.3-.5.3-2.5.3 6.1.3-1.4.3 3.2.3-11 .3 8.6.3-2.1.3-.6.3 8.1.3-3.2.3-8.5.3 8.9.3-2.5.3 3.7.3.2.3-9.7.3.9.3 6.2.3-3.5.3 2.2.3-4.7.3 4.4.3 1 .3 2.4.3-4 .3 2.6.3-1.8.3-2 .3-1.7.3 2.1.3 5.1.3 3 .3-3.3.3-6.5.3-1.9.3 5.8.3 1.2.3-6.6.3 3.1.3 1.3.3-2.5.3-3.1.3 4.6.3 1.5.3-4.8.3 5.8.3-3.7.3-2.5.3-2.8.3 7.5.3-.9.3-4.8.3 3.4.3-1 .3-.3.3-3.8.3 10.3.3-8.9.3 4.7.3-2.9.3-.7.3 6.8.3-6.2.3-1.3.3-4.7.3 9.3.3-.7.3.3.3-6.2.3 1.6.3 13.8.3 8.5.3-6.4.3-8.5.3 10.8.3 6.3.3-6.9.3 8.7.3-5.4.3-3.4.3 12.3.3.4.3 5.8.3-7.4.3-10.6.3 2.3.3 1.1.3 5 .3 1.4.3-5.5.3-2.2.3 5.5.3-4.5.3-7.1.3-5.4.3 20.1.3-11.2.3-3.9.3 1.9.3 2.2.3-2.3.3-13.5.3 6.3.3 10.3.3-6.6.3-12.7.3 6.4.3 10.4.3-6.3.3 2.3.3-3.1.3 5.7.3-7.8.3-5.6.3 8.5.3-.2.3-2.7.3 8.2.3 6.8.3-1.5.3-10.7.3 3 .3-2.8.3 3.2.3 4.5.3 2.2.3.8.3.1.3 6 .3 2.6.3-.3.3-5.2.3 4.4.3-1 .3.9.3 1.8.3 4.4.3-11.9.3 15.2.3-6.5.3 2.6.3-4.7.3-2.5.3 12 .3-8.9.3 11.4.3-1.6.3-3.6.3 3.7.3-6.1.3-3.5.3-5.6.3 0 .3-2.2.3 12.4.3-10 .3 0 .3 3.8.3-18.7.3 25 .3-12 .3 7.8.3-6.4.3-2.3.3 2.3.3-2.8.3 2.1.3-.3.3 6.9.3 1.2.3.7.3 2.9.3 9.2.3-15.8.3 5.9.3-10.9.3 10 .3-.3.3 9.7.3-8.7.3 1 .3 4.8.3-1.4.3-2.5.3 10.4.3 3.5.3-21.4.3 11.1.3-1.2.3 4.5.3-12.4.3-6.2.3 13.6.3-13.7.3-5.3.3 14.6.3-3.4.3-9.8.3-4.2.3 6.5.3-11.5.3-.3.3 13 .3-8.9.3-.5.3-14.8.3 15.4.3-6.4.3 5.1.3-12.3.3 9.3.3 8 .3-8.5.3-7.5.3 10 .3-4.9.3 4.2.3 4.7.3-9.2.3-4.3.3-4.7.3 1.8.3 14.6.3-2.9.3-.2.3-1.6.3 0 .3-4.2.3-.7.3 9.7.3-10.2.3 6.4.3.5.3-4.9.3 5.7.3-1.8.3-3.7.3 2.2.3 6 .3-1.8.3 1.9.3-7.7.3-.4.3 7.3.3-13.8.3 7.9.3-3.4.3 1.3.3 7.8.3-9.5.3 10.4.3 1.9.3-6.4.3.3.3 6.7.3-4.6.3-17.1.3 15.8.3-4.2.3 10.1.3-5.5.3 1.5.3-4.2.3 5.4.3-1.3.3-.2.3-9.9.3 4.5.3 6.9.3-4.9.3 6.6.3 5 .3-9 .3 2 .3 2.7.3 4.4.3 2.5.3-7.2.3-.9.3 1.2.3.3.3 5 .3.3.3 2.6.3.3.3 4.2.3-4.4.3-5.2.3 11.2.3-13.5.3 1.3.3 2.2.3 7.6.3-8.2.3-10.3.3 11.2.3-4.8.3 3.7.3-12.4.3 3.2.3.5.3-4.9.3 1.3"/>
<path fill="none" stroke="#0072BD" stroke-width=".6" stroke-opacity=".4" stroke-linejoin="round"  d="M49.5 155.1l.3-12.3.3 8.1.3-4.4.3 2 .3.2.3 2.6.3-.6.3 7.2.3-5 .3 1.6.3-9.2.3 7 .3-1.7.3 8.4.3-7.8.3-6.5.3 6.5.3-3.1.3 5.7.3 1.5.3-7.1.3 6.7.3 2.9.3-4.3.3 1.5.3-6.5.3 1.7.3 19 .3-17.8.3 8.6.3-6.8.3-1.8.3 5.2.3.1.3-5.8.3 4.9.3 3.9.3-12.7.3 3.5.3 1.8.3.6.3-3.2.3 4.3.3-3.4.3 2 .3 4.4.3-8.2.3 3.9.3 4.2.3-2 .3 8.7.3-3.7.3-1.3.3-10.2.3-.1.3-2.5.3 8.2.3-11.5.3 9.8.3 1.2.3.7.3-5.1.3 3.9.3 1.4.3-1.5.3-3 .3 7 .3-5.6.3.4.3-7.5.3 7.4.3 6.9.3-6.8.3.6.3 6.9.3 8.4.3-17.3.3 4.4.3-3.8.3 4 .3-6.9.3-2.2.3 10.1.3-9.3.3 7.2.3-.5.3-.6.3.6.3.2.3 2.3.3-3.4.3 4.1.3-8.6.3 4.2.3-6.7.3 1.4.3 6.8.3-14.5.3 3.2.3.8.3.4.3-10.7.3 8.8.3-5.9.3 3.4.3 7 .3-9.8.3 10.5.3-9.4.3.2.3.8.3 4.8.3-10.3.3-1.8.3 13.1.3-2.6.3-10 .3 10 .3-7.1.3 9.4.3-2 .3-4.7.3-1.3.3 9.2.3-2.3.3-8.4.3-4.3.3 3.4.3.3.3-.9.3 8.1.3-8.8.3-3.1.3 1.2.3 8.9.3-1.4.3-11.2.3 13 .3-1.9.3-14.4.3 13.1.3-1 .3-7.5.3-.9.3 5.2.3 6.8.3-5 .3-3.7.3 6 .3.3.3-12.2.3 4.2.3-1.1.3-.5.3 10.9.3-8.2.3-3.9.3 3 .3 10.6.3 2.3.3-4.2.3-7.8.3 4.2.3-2.7.3 8.5.3-11.9.3 9.1.3-11.1.3 6.6.3 17.3.3-16.6.3 3.6.3-.6.3-4.5.3-7.7.3.9.3-3.6.3 7.8.3 10.6.3-8.1.3 1.7.3-1.7.3-20 .3 10.8.3 16.2.3-18.9.3 8.6.3 6.1.3-14.9.3 9.7.3-3.6.3-12.7.3 19.5.3-12.1.3 8 .3 4.7.3-5.2.3-2.5.3-.1.3 10.2.3-14.1.3 13 .3-10.3.3.4.3 13.8.3-16.7.3 7.4.3 1.1.3 2.5.3 2.3.3-7 .3 8.6.3-10.9.3 1 .3-12.9.3 16.6.3-13.5.3 4.8.3.6.3 5.7.3 1.5.3-2.6.3-1.3.3-3.3.3 6.8.3-11.8.3-.3.3 24.8.3-15 .3 1.7.3 5.3.3 10.2.3-5.6.3-9 .3-5.2.3 1.5.3-.4.3 4.3.3-7.4.3 3.2.3-3.8.3 7.5.3 3.1.3 5.2.3-18 .3 12.5.3 2.7.3 6.4.3-16 .3 13.5.3-10.8.3-1.5.3-7 .3 12.4.3 6.9.3-3.1.3-10.3.3 5 .3-3.7.3-11.4.3 4.8.3 10.1.3-3.4.3-3.8.3 1.3.3.3.3.1.3 9 .3-10.4.3-2.4.3 2.4.3 4.4.3-.1.3-1.7.3.6.3 10 .3-9.1.3-8.2.3 9.2.3 1.1.3-6.8.3 3 .3 4.5.3-5.3.3-9.2.3-1 .3 9.7.3 1.7.3-8.3.3 4 .3-.8.3 3.3.3 6.7.3.1.3-8.7.3 5.2.3-11.9.3-1.6.3-3.9.3 7.3.3-11.6.3 3.3.3 4.5.3-2.8.3 7.2.3 14.8.3-24.8.3 3.3.3-6.9.3 21.3.3-10.1.3 1.9.3.7.3-4.6.3 11.6.3-4.2.3-11.5.3 16.5.3-3.1.3-6 .3-1.3.3-3.1.3-10.3.3 8.5.3-1.9.3 6.8.3-3.8.3 4.2.3-3.6.3-4.2.3.3.3 14 .3-4.6.3-18.1.3 24.3.3-12 .3 7.8.3-5.1.3 2.8.3-3.2.3 7.7.3-11.9.3-5.9.3 28.2.3-8.6.3 4.8.3-8.9.3-6.8.3.4.3.8.3 6.7.3 24.5.3-29.4.3 10.4.3 1.1.3-4.9.3 7.8.3-6.1.3 4.5.3-6.1.3-5 .3 9.1.3-6 .3-2.8.3 10.3.3-4.2.3 1.7.3-12.9.3 13.6.3-3.8.3 8.9.3-2.9.3-9.1.3 5.1.3-6.2.3 3.8.3-15.1.3 16.7.3-7.1.3 9.8.3-1.7.3 6.4.3-24.6.3 27.9.3-13.3.3 3.1.3-7.4.3 7.7.3-14.5.3 4.4.3 3.5.3.1.3-3.3.3 3.6.3-6.9.3 4.1.3 5.4.3-19.2.3 17.4.3-5.9.3 8.6.3-2.1.3 8.1.3-11.4.3 2.5.3 5.4.3-14 .3 10.1.3 7 .3-13.4.3 8 .3 17.4.3-20.1.3 2.4.3-.2.3 1.8.3 3.1.3-5.9.3 10.4.3-9.3.3-6.6.3-1.2.3 8.4.3-14.8.3 9.1.3 3.9.3-4.2.3 4.4.3-9.9.3 9.9.3-2.1.3 2.1.3-2.5.3-3.6.3-13.1.3 9.1.3-5.9.3 6.2.3-5.6.3 11.4.3.2.3-17.8.3 8.6.3 11.4.3-11.8.3 3.6.3.4.3-6.2.3 12.5.3-14.1.3 6 .3 4.7.3 5.3.3-13.2.3 7.7.3 6.1.3-7.2.3-3.7.3-.9.3-5.1.3 5.4.3 3.6.3.6.3-12.7.3 18.8.3-12.2.3 9.5.3-12 .3 14.8.3-7 .3-7.2.3 7.8.3-4 .3 11.1.3 3.6.3 0 .3-10.1.3 7.8.3-12.1.3 11 .3-9.7.3 6.2.3 8.8.3 2 .3-10.9.3.2.3 3.6.3-7.5.3.6.3-.2.3 10.1.3 7.7.3-16.1.3 8.3.3-1.7.3-1.7.3-3.4.3 12.4.3-9.5.3-8.9.3 16.8.3-6.9.3-10.4.3 3.6.3 1.2.3 2.7.3 9.2.3-9.2.3 6.2.3-6.6.3 5.3.3 2.5.3-6.9.3-6.2.3 9.3.3-4 .3-3 .3 18.1.3-6.3.3-14.8.3 5.1.3 1.8.3-6.7.3 2.9.3 8.4.3-9.6.3-3 .3 2.4.3.5.3 11.1.3-8.4.3-4.1.3 5.7.3-.5.3-4.9.3 6.3.3 1.4.3-4.4.3-.5.3-5.7.3 5.9.3 5.7.3-9.8.3 7.4.3-9.3.3 7.5.3-7 .3 1.4.3 2.8.3 6.2.3-5.2.3-10.7.3 7.3.3-5.7.3 6.6.3.5.3 5.9.3-7.7.3 7.5.3.3.3-10.8.3.9.3-8 .3 13.7.3 3.4.3-11.2.3 13.6.3-6.6.3.6.3-5.4.3-4.6.3 8.2.3 9.7.3.2.3-4.8.3-7.6.3 4.1.3-.8.3 3.5.3-9.9.3 14.6.3-18.1.3 4.2.3 2.8.3 4.1.3 1.4.3-2 .3 3 .3-.8.3 2.1.3-9.4.3 3.8.3-2 .3 6.9.3 3 .3-1.8.3-6.6.3 17 .3-18.8.3 9.2.3-2.8.3-3.9.3 8.5.3 5.3.3-32.5.3 20.9.3 7.8.3-25.6.3 2.3.3 12 .3-2.3.3-14.3.3 18.5.3-11.3.3.7.3 8.5.3 1.8.3-1.7.3-5.9.3-1.8.3-13.7.3 21.2.3-7.4.3 5.6.3-10 .3 2.5.3 10.1.3-5.3.3-3.1.3-4.4.3 1.5.3-.9.3 3.7.3-3.4.3 3 .3-5.3.3 2.2.3 8.6.3-4.9.3 4.2.3-3.9.3-17.3.3 16.1.3 1.2.3 2.9.3-12.3.3 8.6.3 5.8.3-2.9.3-8.4.3-6.4.3 4.4.3 9.4.3-11.1.3 18.9.3-14.7.3 6.3.3-2.8.3 8.8.3-9.3.3 9.8.3 2.2.3-18.2.3 16.1.3-12.7.3 8.8.3-2.6.3-1.6.3-8.5.3 7.5.3 8 .3-1.9.3-11.5.3 1.1.3 11 .3-7.6.3 6 .3-6 .3 12.2.3-10.2.3 8.5.3 4.6.3-10.7.3 2.8.3 10.1.3 4.9.3-12.8.3-3.3.3 5.7.3-3.7.3 2.9.3.6.3-5.8.3-5.1.3 4.3.3 4.3.3 2 .3-5.4.3 14.1.3-13.9.3.8.3-.9.3 1 .3-.8.3 7 .3-12.8.3 2.9.3.1.3 2.6.3 5.3.3-12.8.3 4.5.3-.3.3-4.3.3-8.2.3 9.8.3-3.6.3-7.8.3 12.4.3-9.1.3 6.8.3-5.8.3 5.2.3-5 .3 12 .3-3.6.3.8.3-1.9.3-8.2.3 3.9.3-1.3.3 5.2.3-1.6.3-1.8.3.6.3 5.6.3-.8.3 4.1.3-10.4.3-1.5.3-4.7.3 29.5.3-22.7.3 1.8.3-11.9.3 18.5.3 2.1.3-5.7.3 10 .3-.1.3-11.5.3 13.4.3-3.1.3-13.4.3 3.6.3 11.3.3-13.7.3 5.9.3 2.7.3-2.7.3 1.6.3-7.2.3 3.6.3 8.8.3-2 .3-4.6.3 5.6.3 2.4.3 8.6.3-18.7.3 5.3.3 1.5.3 4.3.3-1.7.3-2.8.3 6.6.3-9.6.3-33.5.3 39.3.3-3.4.3-9.6.3 8.4.3-9.1.3 2.8.3.1.3 6 .3 1.3.3-10.9.3 6.5.3 1.2.3 11.9.3-12.4.3-15.9.3 10.6.3-7 .3 8.8.3 9.3.3-9.4.3-9.9.3 9.2.3 2.6.3-.9.3 5.7.3-5 .3-3 .3-16.7.3 12.8.3 11 .3 4.9.3-1 .3-5.8.3-8 .3 9.8.3-9.3.3 6.4.3-9 .3 6.7.3 12.3.3 2.6.3-15.3.3 8.3.3-11.4.3 6.5.3-9.9.3 11.5.3 5.1.3 8.2.3-14 .3 5 .3 1.3.3-17 .3 11.9.3 1.9.3 22.4.3-8.4.3-4.7.3-8.3.3 6.5.3-.5.3 0 .3-.3.3 7.1.3 3 .3-8 .3-3.4.3 10 .3-10.3.3-1.2.3 5.1.3-3.6.3.8.3-.7.3 6.1.3.5.3-.3.3-5.4.3 9.8.3-12.2.3 13.9.3-17.6.3 7.2.3-12.7.3 13.7.3-3.1.3 12.5.3-8.4.3-3.6.3-2.1.3-2.2.3 2.2.3 1.3.3-5.8.3 14.7.3-6.1.3-6.5.3 4.8.3-7.2.3 11.3.3-1.5.3-5.6.3-6.6.3 18.4.3 2.7.3-2.8.3.4.3-8.7.3-3.7.3 5.8.3-1.3.3-2.1.3-5.1.3 7.5.3.6.3-5.2.3 13.6.3-3.6.3-4.3.3-14.2.3 21.3.3-9.5.3 9.2.3-3.2.3 3.5.3-15.7.3 8.8.3 5.2.3-8.7.3 10 .3-5.6.3 9.6.3-6 .3-3.7.3.1.3 7 .3-.5.3 5.7.3 2.2.3-11.1.3-8 .3 3.8.3-.6.3 3.3.3.1.3 0 .3-10.3.3 11.7.3-9.2.3 15.3.3-2.1.3-6.1.3 8.3.3-18.1.3 7.6.3-1.2.3 5.1.3-5.7.3 6.6.3-11.7.3.1.3 11.7.3 1.1.3 4 .3 0 .3-16 .3 3.4.3-4.4.3 6.5.3-1.9.3 1.6.3 7.1.3-3.7.3-4 .3 5 .3 6.9.3.5.3-22.9.3 22.9.3-.9.3-3.9.3 1.2.3-6.7.3 7.2.3-7.5.3 2.2.3-1.2.3.4.3 2.9.3-3.3.3 2.6.3-5.4.3-4.4.3-1.7.3 7.5.3-1.9.3-2.1.3-9.4.3 6.9.3-.5.3-4.7.3 4.7.3 6.2.3-12.5.3 10.9.3-7.5.3 4.8.3-1.2.3-3.7.3 10.5.3 5.9.3-10 .3 2.3.3 1.4.3-1.4.3 9.5.3-9 .3 1.8.3-3.2.3 2.4.3 1.8.3-5.8.3-2.4.3 14.8.3-3.2.3-.9.3-11.1.3 17 .3-10 .3-1.3.3-1.2.3 14.4.3-13.1.3 14 .3-9.9.3 2.1.3 5.8.3-22.3.3 12 .3 7.1.3-3.2.3-5.9.3-5.2.3 3.8.3 6.9.3-16.4.3 7 .3-1.8.3-4.5.3 6.5.3-5.5.3 9.2.3-6.1.3 16.5.3 1.8.3-3.5.3-8.7.3 2.9.3 5.8.3 0 .3.5.3-3.4.3-4.9.3 1.2.3 7.6.3-.4.3-3.2.3 10.2.3-6 .3-2.9.3 1.1.3 5.6.3 2.5.3.8.3-13.3.3 8.3.3 7.6.3 4.8.3-11.8.3-8.7.3 10.5.3 3.6.3-8.9.3 5.6.3-1 .3-2.4.3 3.6.3-5.8.3-.7.3 5.5.3 2.8.3-4.9.3 16.9.3-12.2.3 1.1.3-7.2.3 10.8.3-12.2.3 7.5.3-2.9.3-4.9.3 7.1.3 4.8.3-5 .3.2.3-9.6.3 11.7.3-5.8.3-2.5.3 1.3.3 7.8.3 5.5.3-13.1.3-3.8.3 6.1.3-3.1.3 6 .3-4 .3-2.9.3 7.7.3-7.2.3 7.4.3 5 .3-7.8.3 3 .3-3.9.3-1 .3 3.9.3-3.9.3 4.5.3-8 .3 9.5.3 2.1.3-14.7.3 19.5.3-13 .3-.9.3-6.7.3 5.8.3-.5.3 9 .3-16.7.3 11.7.3-6.2.3 4.4.3-11.4.3 12 .3 2.3.3-15.7.3 11.4.3-5.4.3-1 .3 11 .3-14.6.3 12.2.3-6.4.3-2 .3 3.2.3 4.8.3-10.5.3 10.8.3 2.7.3-14.5.3-.1.3 18.5.3-9.5.3-1 .3 16.9.3-13.1.3-20.7.3 23.9.3-13.3.3-3.7.3 12.9.3 3.8.3-4.4.3 9.3.3-15.7.3 5 .3 11.6.3-3.5.3-2.9.3-8.5.3 1.3.3 8.5.3-5.1.3 3.4.3-5.8.3 4.2.3-14.5.3 9.4.3 3.9.3 4.3.3 1.7.3-13.1.3-1.1.3-4.5.3 15.4.3-10.5.3 11.7.3-11.4.3.6.3 1.9.3 3.2.3 1 .3 15.7.3-7.1.3-15.3.3 10.9.3-7.4.3 1.6.3-4.2.3 4.3.3.9.3-1.1.3-3.5.3 8.8.3 3.5.3-4.8.3 19.2.3-22.6.3 2.1.3 1.5.3-5.7.3 4.9.3-2 .3 6 .3-11.4.3 4.9.3 9.2.3-.3.3-15.9.3 9 .3-9 .3-3.7.3 13 .3-.9.3-3 .3 10.2.3 5.6.3-21.7.3 16 .3-3.9.3-9.4.3 8.8.3-4.7.3 4 .3 9.8.3-2.8.3-4.8.3 6.4.3-11.3.3 3.7.3 11.5.3-12.1.3 5.9.3-1.2.3-6 .3 15.3.3-5.5.3-7 .3 10.4.3-16.2.3 27.2.3-25.5.3 2.2.3 8.6.3-4.2.3 5 .3-15.5.3 11.4.3-2.9.3 1.3.3 10 .3 3.4.3-12.5.3-7.5.3 4.6.3 4.7.3-3.7.3 6.8.3-12.2.3 3.8.3 4.9.3-14.2.3 15.8.3 1.9.3-4.2.3 1.6.3.2.3-7.1.3.1.3 13 .3-6.6.3-1.2.3 7.5.3-14.9.3 12.5.3-12.1.3 6.5.3-.6.3 11.4.3-15.9.3 4.7.3-4.2.3 8.4.3-3.2.3-.8.3 7.1.3 5.2.3-11.9.3 0 .3 7.4.3-7.2.3 4.5.3-4 .3 15.6.3-5.6.3-5.2.3-1.4.3 1.6.3.9.3 9.8.3-20.1.3 1.5.3 6.7.3-3.8.3 3.3.3-10.4.3 6.6.3-9 .3 9.1.3 1.7.3 3.5.3-13 .3 5.4.3-7.8.3-3.8.3 3.6.3-7.8.3 10.5.3 1.6.3-6.5.3 3.1.3-9.8.3 20.2.3-3.3.3-13.5.3 12.9.3-2.6.3 2.4.3-1.9.3-11.7.3 6.7.3 7.3.3-10.2.3 18 .3-5.8.3-9.2.3 19.7.3-1 .3.9.3-2.6.3-6 .3-3.6.3-9.6.3 11.9.3 6.3.3 5.9.3 2.7.3-6.3.3 4.5.3.9.3-11.3.3 7.5.3-4.2.3-14.9.3 8.5.3-1 .3 3.7.3 3.2.3-9.5.3 5.1.3-8.6.3 8.8.3-6.4.3.7.3 22.6.3-15.8.3-4.7.3-12.1.3 16.5.3-8 .3-4.2.3 1 .3 10.4.3-7.5.3 4.7.3 1.9.3 4.2.3 8.4.3-6.5.3 7 .3-13.4.3 3.5.3-7 .3 20.1.3 1.4.3-7.2.3-1.8.3-3.6.3 12.3.3 4.3.3-4.5.3-25.7.3 34.7.3-10.7.3-8.6.3 1.5.3 6.1.3 15.7.3-22 .3 6.9.3-11 .3 7.4.3-2.9.3 14.7.3-11.7.3 1.1.3 2.5.3-4.9.3-.6.3 6.3.3-6.5.3-5.3.3 3.7.3 5.7.3-2.9.3 2.7.3-3.2.3-3.5.3 6.3.3-6.4.3-6.4.3 10.6.3 2.6.3-2.6.3-6.8.3 1.1.3 5.3.3 7.1.3-14.3.3 0 .3-.1.3 6.4.3 8.9.3-11 .3 2.2.3-7.8.3-5.7.3 4 .3 6.9.3-6.4.3 7.9.3-7.5.3 4 .3 3.5.3-5 .3 1.5.3-7.2.3 8.8.3.6.3-9 .3 6.3.3.9.3-10.5.3 26.5.3-5.7.3-5.2.3-11.4.3-1.2.3 7.1.3 5.6.3 4.5.3-11.6.3 1.1.3 5.6.3-9.5.3-3.7.3 15.1.3 19.7.3-17.5.3-2.7.3 2.5.3-8 .3-11 .3 14.6.3-12.2.3.6.3.7.3 9.4.3 6 .3-8.7.3-3.5.3 7.3.3 1.9.3 2.3.3-25 .3 30 .3-16.7.3 7.7.3-9.8.3-.6.3 13.6.3-5.7.3 1.3.3-5.4.3 4 .3-5.7.3 1.6.3 6.3.3-9.9.3 3.3.3-.3.3 5.6.3-6.7.3 6.8.3-10.1.3 5.3.3 16.1.3-17.2.3.6.3 3 .3-4.4.3 13.7.3-10.7.3 6.7.3-5.7.3 5.6.3 14.8.3-17 .3 7.9.3-10.3.3-4.3.3-3.5.3 5 .3 4.9.3-2 .3-.7.3-8.4.3 12.6.3-2.8.3 8.7.3-19.9.3 14.1.3.1.3 3.7.3-13.2.3 2.9.3.3.3 5.9.3-5.1.3-4 .3 9.7.3-9.3.3-6.8.3 15.1.3-10 .3.3.3 9 .3-3.7.3-4 .3-.8.3 9 .3 5.5.3-9.3.3.4.3-2.7.3-3.9.3 1.9.3 1.8.3 7.4.3-8.9.3 1 .3 9.3.3 1.1.3 13.3.3-12.6.3-2.6.3 1.7.3-4.6.3 3.6.3 5.6.3-12.1.3 17.5.3-15.9.3 5.4.3-1.6.3 5.3.3-4.9.3-8.9.3 13 .3-5.7.3 1 .3 26.4.3-22.3.3-5.2.3 5.8.3-2.8.3 6 .3-16.7.3 7.9.3 2.8.3 3.3.3-10.1.3 4.7.3-4.2.3 1.1.3 11.3.3-11 .3 16.8.3 1.8.3-14.2.3-11.8.3 6.7.3-.1.3 8.2.3-4.2.3-4.1.3 15.3.3-7.9.3-1.9.3 7.5.3-17.8.3 10.4.3-12.6.3 7.8.3 1.1.3-23.9.3 27.7.3-1 .3 3.4.3-2.8.3 8.4.3-27.8.3-3.1.3 10 .3 16.6.3 1.7.3-19.4.3-5 .3 13.8.3-.5.3 3.7.3-16.1.3-7.2.3 17.5.3-16.6.3 4.9.3-4.1.3-3.6.3 11.1.3-12.6.3.9.3-15 .3 11.9.3-4 .3 6.2.3.5.3 2.2.3 3.4.3-4.6.3 6.1.3.7.3-.3.3 11.1.3-.2.3-1.6.3-1.7.3-9.5.3 23.2.3-12.3.3-.9.3-8.3.3-.4.3 6.4.3-4.7.3 1 .3 5.7.3-3.3.3-1.6.3-9 .3 6.4.3 4.4.3 2.3.3-2.3.3-7.5.3.4.3 12.6.3-2.9.3-2.9.3-.9.3 8.1.3-9.6.3-1.3.3-.4.3-5.7.3 3.2.3 14.8.3 1.8.3-7.8.3 3.6.3-10.2.3 7.1.3 6.9.3-4.3.3-6.4.3 7.5.3-5 .3-5.1.3 4.7.3 9.6.3.4.3-3.2.3-7.4.3 1.2.3 6.2.3-4.3.3-1.1.3 11.5.3-2.1.3-7.5.3-5.7.3 8.1.3-1.9.3-7.1.3 14 .3-4.1.3 2.1.3-12.1.3 14.4.3 2.4.3-10.3.3-11.1.3 12 .3 6.7.3-9.9.3 3.8.3 3.4.3-12.5.3 6.9.3 8.8.3-4.5.3-3.7.3 4.2.3-5.5.3 1.4.3-.1.3 6.6.3-17.1.3 15.6.3 1.3.3-11.3.3 5.2.3-.2.3-11.2.3 15.2.3 3.6.3-2.2.3-.9.3-5.1.3-1.1.3-3.2.3 9.8.3-4.8.3 9.1.3-2.3.3-3.4.3 7.9.3-16.6.3 12.9.3 3.1.3.3.3-6.5.3-8.4.3 18.3.3-8.6.3 6.4.3-9.8.3 8.4.3 10.2.3-5.9.3-4.7.3.4.3-10.6.3 6.8.3 8.9.3-10.6.3 5.7.3-12.7.3 14 .3 2.2.3-5.5.3-8.6.3 12.9.3-11.2.3 8.8.3-.9.3-6 .3 1.3.3 3.1.3-7.5.3 14 .3 12 .3-18.7.3 7.5.3 9.7.3-19.6.3 20.4.3-11 .3-11.8.3 2.4.3-9.1.3 2.4.3 5.4.3-3.4.3-8.2.3 9 .3-17.3.3 14.7.3 5.3.3-9.2.3-5 .3 3.2.3.1.3 1 .3 7.2.3-12.3.3-4.8.3 31 .3-31.1.3 12.2.3-12.1.3 6.6.3-11.8.3 12.9.3-16.3.3 8.6.3-2.2.3 1 .3-6.7.3 3.5.3 1 .3-12.5.3 3.4.3 3.5.3-1.5.3 12.3.3-4 .3-20.9.3 21.2.3-15.3.3 2.9.3 4.6.3-18.2.3 18.3.3-8.6.3 15.2.3-3.8.3 1.8.3 2.7.3-3.9.3 6.7.3 11.2.3-7.8.3 13.5.3-18.2.3 4 .3 1.8.3 8.3.3-3.2.3 18.4.3-8.7.3-3.9.3 15.7.3-15.4.3 3.8.3-4.3.3 5.8.3-20 .3 16.8.3-8.1.3 2.2.3 13.8.3 5.9.3-11.3.3-4 .3 0 .3 5.8.3-17.2.3 15.6.3-10 .3 21.7.3-14.1.3 4.4.3-7.8.3-9.3.3 21.6.3-.2.3-2.7.3 1.6.3-1.5.3-4.3.3 8.6.3-3.8.3 1.8.3-10.6.3 13.1.3-9.8.3 1.3.3 2.7.3-6.8.3 20.5.3-16.3.3 7.6.3 10.7.3-13.7.3-6.4.3 14.8.3-17.5.3 7.7.3-2.5.3-17.9.3 1 .3 2.4.3.6.3 9.6.3-18.4.3 6.3.3 3.9.3-4.2.3 9.7.3 2 .3-4.3.3.6.3-5.3.3 15.6.3-15.2.3 13.2.3-6.2.3-10.3.3 32.4.3-11.4.3.7.3 2.3.3-20.7.3 22.1.3-6.4.3-.1.3 9 .3 8.1.3-2.9.3-17.9.3 17.8.3-1.4.3-.3.3 6.2.3 12.6.3-27.6.3 12.5.3-7.6.3-2 .3-12.9.3 12.2.3 8.3.3-30 .3 20.4.3-4.8.3-1.1.3 9.9.3-26 .3 2.1.3 1.3.3 4 .3-23.5.3 35.8.3-12 .3 2.8.3 15.8.3-12.4.3-5 .3-1.1.3 4.5.3-5.9.3-2.2.3 3.1.3-12.6.3 10.3.3-11.9.3-1.1.3 10 .3 8.1.3-10.6.3-7.8.3 28.9.3-16.2.3-22.5.3 20.9.3 3.9.3-.2.3-1.7.3-1.4.3 6.2.3-12.6.3.4.3 11.1.3-22.5.3.8.3 13 .3-2.7.3-6.3.3 2.8.3-5.2.3-5 .3-4.7.3 3.9.3 10.3.3.7.3 10.2.3-15.6.3-14.6.3 9 .3 11.3.3-9.8.3 6.9.3-5.1.3 6.6.3-23.2.3 38.3.3-11.6.3-17.6.3 29.2.3-18.6.3 9.2.3-17.4.3 3.5.3 1.2.3-1.1.3 2.5.3-24.8.3 26 .3 8.1.3-13.1.3 19 .3-5.3.3-25.4.3 9.9.3 3.4.3-15.4.3 25.5.3 11.7.3-37.7.3 16.1.3-35.9.3 52.1.3-22.6.3 7.6.3-11.6.3 3.4.3 2.7.3-27.3.3 5.1.3 8.8.3 13.7.3 5.5.3 8.8.3-14.1.3-18.1.3 1.5.3-23.7.3 42.5.3-15.2.3-3.2.3-9.8.3-9.3.3 32.6.3-30 .3 44.7.3-5.6.3-2.5.3-19.8.3-31.1.3 22.7.3-4.2.3 4.6.3 25.7.3-9 .3 16.8.3-65 .3 45.8.3-28 .3 23.9.3 24.1.3-16.9.3-23.5.3 23.4.3 6.4.3 16.2.3-19 .3-18.4.3 15 .3-4.8.3 28.7.3-10.7.3.5.3-12 .3 10.6.3-41.7.3 2.5.3 4.6.3 23.6.3 24.7.3-39.6.3 24 .3-25.3.3 19.3.3 4.6.3 19.5.3-38.1.3-5.6.3-1.8.3-5.8.3 43.2.3-31.6.3-13 .3 5.3.3 58.2.3-54.8.3-13.6.3 6 .3 25 .3-29.3.3 11.2.3-19.6.3 36.3.3-14 .3 2.6.3-10.9.3 35.8.3-22.4.3 21 .3-18.4.3 76.7.3-79.4.3-.5.3-7 .3-2.3.3.5.3 9 .3-24.4.3 15.7.3 34.4.3-45.6.3-4.7.3 31.1.3-14.2.3-1.1.3 19.3.3-18.5.3-10 .3 20.4.3-24.2.3 35.6.3-9.9.3-26.4.3 16.2.3 4.8.3-17.6.3-4 .3 13.4.3-6.8.3 5.1.3 10.7.3-13.5.3 9.1.3 30.3.3-25.6.3-16.7.3 8.1.3-8 .3-15.8.3 50.9.3-8.4.3 6.4.3 2.6.3-32.3.3 15.9.3 12.6.3-28.2.3-5.4.3 37.8.3-35.7.3 31.8.3-63.5.3 36.7.3 38.7.3-52.8.3 51.8.3-40.3.3-21.3.3 12.3.3 42.4.3-29 .3 12.2.3-14.9.3 9 .3-3.7.3-28.3.3 24.2.3-20.1.3 35.6.3-13 .3 20.7.3-83.8.3 56.6.3 23.5.3-24.6.3 8.4.3 1.1.3 10.9.3-28.4.3 22 .3-27 .3 7.4.3-4.7.3-1.6.3 11.8.3 19.8.3-25.4.3 38.7.3 33.7.3-74.8.3 48.6.3-15 .3 7.3.3-28.2.3 22.6.3-20.4.3 2 .3-32.1.3-2.3.3 47.7.3-2.8.3-10.1.3 5.3.3-.3.3-2.6.3-17 .3-7 .3 46.3.3-32.2.3 8.1.3 19.3.3-54.9.3 48.5.3-9.7.3.5.3 30 .3-19.1.3-12.2.3 14.3.3 40.7.3-72.5.3 23.9.3-13.1.3 20.7.3 3.5.3-31.2.3 14 .3 9.2.3-14.4.3 10.6.3-9.8.3-10.5.3 13 .3 7.6.3-18.7.3-8.6.3 15.5.3 3.6.3 0 .3 11.4.3-21.2.3 18 .3-.2.3-12 .3-17.2.3 5.4.3 37 .3-40.8.3 10.8.3 10.9.3-13.5.3 11.3.3-26.6.3 43.1.3-36.4.3 31.2.3-9.2.3-12.6.3 46.4.3-47.1.3-6.8.3 49 .3-17.2.3-27.6.3 33.2.3 6 .3-50.9.3 36.2.3-33 .3 10.2.3 11.1.3 19.6.3-30.7.3 10 .3 18 .3 11.9.3-12.1.3 10.1.3-10.5.3-15.9.3 22.6.3-8.7.3-.7.3-2.7.3 9.1.3-17.9.3-12.5.3 40.9.3-12 .3-6.3.3-21.7.3 21.5.3 6.3.3-23.1.3 17.1.3 14.7.3-21.9.3 2.1.3 11.9.3 16.9.3-18.9.3-15.7.3.7.3 30.1.3-5.6.3-33.9.3 24.5.3-23.6.3 3.9.3-21.9.3 60.9.3-40.4.3 24.2.3-9.7.3 18.3.3-31.5.3 6.8.3 28.9.3 5.7.3-28.5.3 13.9.3-10.4.3.9.3-2.2.3 5.2.3 9.9.3-24.5.3 4.6.3 12.8.3-6.9.3 6.4.3 1.4.3-44.7.3 12.4.3 38 .3-31.4.3 10.7.3.9.3-2.6.3 3.7.3 27.3.3 3.2.3-43.1.3 27.4.3 15.4.3-23.4.3-8.6.3 32.8.3-30.4.3 13.8.3-1.2.3-.5.3-11.8.3 14.3.3-27.2.3-1.1.3 23.1.3-.5.3-11.7.3-20.4.3 9.2.3 52.3.3-40.9.3 18.1.3-12.7.3 18.3.3-35.4.3 48.3.3-39.5.3 24.5.3-19 .3-1.6.3-25.2.3 45 .3-12.7.3-.3.3-23.1.3 16.2.3-29.7.3-6.4.3 56.9.3-52.8.3 9.3.3-1.6.3 4.3.3 13 .3 3.8.3 1.5.3 4.8.3-19 .3 5.8.3 7.2.3-11.1.3 29.7.3-26.2.3 11.1.3 2.3.3-13.5.3-14.8.3 17.1.3-7.1.3-20.7.3 14.7.3 2.4.3 21.3.3-25.2.3 20.1.3-29.8.3-6.8.3 43.5.3-15.6.3 1.9.3-21.8.3 46 .3-40.2.3 1.6.3 16.1.3-7.3.3 10.7.3-6.7.3 8.2.3 19.9.3-13.3.3-.5.3-17.6.3 15.9.3-14.7.3-9.3.3 23.1.3-14.7.3 29.9.3-23.6.3-14.2.3 1.1.3-41.5.3 66 .3-9.8.3 1.3.3-28.7.3 31.8.3 20.4.3-14.8.3-52.6.3 29.9.3 4.4.3-6.3.3-1.7.3 13 .3 5.5.3-9.6.3-2.4.3 40.4.3-49.2.3 84.6.3-77.4.3-1.4.3 10 .3 24.7.3 8.6.3-42.9.3 24.9.3 13.4.3-15.5.3-8.3.3-25.8.3 43.1.3-25.3.3 4.9.3 9.7.3 9.1.3-12.3.3-1.5.3-8.6.3 8.7.3-34.1.3 24.3.3 31 .3-41.1.3 12 .3 18.6.3 8.1.3-14.6.3-.9.3 16.8.3 8.5.3-36 .3 1.3.3-8.8.3 29.3.3-19.1.3-1.7.3 7.2.3 8.6.3-14.4.3 9 .3 1.9.3-3.9.3 10.1.3 1.2.3-13.5.3-2.1.3-11.3.3 16.1.3 9.5.3 6.1.3-33.3.3 23.9.3 9.2.3-40.6.3 7.3.3 26.6.3-7.2.3 13 .3-10.9.3-33.2.3 34.5.3-18 .3-3.6.3 52.2.3-17.4.3-33 .3 31.9.3.5.3 2.5.3-27 .3 17 .3-71.8.3 65 .3 38.2.3-13.8.3-23.3.3-29.2.3 14.1.3 25.9.3-2.7.3 15.9.3-43.7.3 43.1.3-58.6.3 16.3.3 8.5.3-12.3.3-16.7.3 48.8.3-41.2.3 64.1.3-27.7.3-24.9.3 21.8.3-19.2.3 23.4.3 12.6.3 1.4.3-9 .3-14.4.3 27 .3-5.4.3-.6.3-18.2.3-38.2.3 65.4.3 1.8.3-7.4.3-16.6.3-15.4.3 19.4.3 13.9.3-22.2.3-1.2.3 53 .3-49.6.3-7.5.3 22.5.3 5.8.3 17.1.3-27.2.3-9.4.3 1.5.3 2.9.3 16.4.3-13.6.3 1.9.3 6.6.3-37.1.3 31.7.3-1.8.3-34.4.3 33.8.3-.6.3-5.5.3 16.9.3-29.3.3 14.4.3-9.2.3-13.5.3 25.3.3-1.9.3 16.3.3-35.1.3 18.3.3-18.9.3 13 .3 6.3.3 4.3.3 16.5.3-38.6.3-6 .3 15.6.3 18.7.3-17.8.3-10.8.3-1.2.3-2.8.3-2.7.3 1.6.3-9.9.3 46.3.3-33.3.3.4.3-2.6.3 9.3.3 11.3.3-13.4.3-6.5.3 9.5.3-12 .3 2.6.3 39.7.3-56.7.3 44.4.3-44.7.3 21.7.3 17.9.3-11 .3 5.3.3-8 .3 25.7.3-12.8.3 26.3.3-28.5.3 7 .3 8.3.3-.2.3-9.3.3 2.7.3-.8.3 5.2.3 1.7.3 2 .3-20.4.3 18.8.3-3.9.3-8.5.3-6.5.3 34.2.3-12.5.3 8.1.3-13.4.3.7.3 23.3.3-7.5.3-44.4.3 22 .3 37.9.3-32.4.3 6.5.3 8 .3-9 .3 10.8.3-32.2.3 22.5.3 12.2.3-25.1.3 12.6.3 11.1.3-8.1.3-8.2.3 3.6.3-2.6.3-.5.3-5.9.3 9.2.3-23.7.3 15.3.3-8 .3 14.7.3 8 .3-8.3.3-3.4.3 8.4.3 28.5.3-29.4.3-21.6.3-5.8.3.3.3 22.2.3-.6.3-26.5.3 11.4.3 22.5.3-1.9.3 13.2.3-21.2.3 21.2.3-21.1.3-2.8.3-16.7.3 11.1.3 16.6.3-26.2.3-7.9.3-10.5.3 9.1.3.9.3-45.3.3 70.9.3-37.3.3-.9.3 32.9.3-22 .3 26.7.3-46.6.3 26.2.3 11.6.3 12.3.3-12 .3-7 .3 9.6.3-12.6.3 10.3.3 11.3.3-19 .3-25.3.3 64.9.3-26.6.3-11.6.3 20.3.3 5.6.3-9.4.3-5.5.3 15.3.3 9.2.3-4.3.3-19.8.3 5.5.3-13.5.3 11 .3 16.5.3-4.9.3 2.4.3-19.8.3 12.2.3 2 .3-5.3.3-2.4.3 16.6.3 9.7.3-15.5.3-28.4.3 26 .3 20.7.3-33.1.3 19.5.3-16.5.3 10.1.3 8.6.3 10.6.3-9 .3 9.2.3-31.5.3 30.9.3-10.4.3 10.2.3-1.7.3-9.8.3-23.7.3 40.3.3-14.8.3-12.1.3 13.7.3 6.5.3-41.1.3 31.3.3 12.3.3 13.5.3-8.4.3-4 .3-18.7.3 12 .3 10.6.3-30.7.3 7.4.3 19.6.3-16 .3 10.9.3 7.2.3 7 .3-11.5.3-5 .3-3.6.3.6.3-11.8.3-6.5.3 37 .3-28.6.3-8.2.3 17.8.3 4.9.3 16 .3-23.1.3 22.8.3-14.7.3-17.6.3 15.2.3 7.3.3 10.5.3-8.2.3-20.4.3-20.9.3 27.9.3 24.6.3-10 .3-28.3.3 10.3.3-1.9.3 10.3.3.2.3 25.2.3-36.2.3-24.7.3 44.3.3 1.8.3-8.4.3 3.4.3 11.1.3-1.8.3-17.5.3-12.3.3 21.4.3 10.3.3-25 .3-9.5.3 21.5.3 4 .3-7.4.3-3.9.3-22 .3 31.6.3-17.3.3-1 .3 11.4.3-26.8.3 14.6.3 16.2.3-3.1.3-3.2.3-19 .3 25.4.3-12.1.3 4.6.3 18.5.3-16.4.3 17.7.3-7.7.3-3.3.3-9 .3 8.9.3 3.7.3 1.7.3-11.1.3 1.8.3 18.6.3-7.9.3-8.8.3 30.1.3-38.8.3-3.2.3 18.9.3-8.5.3-.2.3 3.8.3-7.6.3 16 .3-24.1.3 17.5.3-21.5.3-20 .3 29.8.3-67.1.3 66.9.3 5.3.3-10 .3-4.6.3 19 .3-23.6.3 18.9.3-22 .3 20.1.3 22.6.3-21.7.3 5.5.3-10 .3-13.9.3 17.7.3-1.4.3-11.2.3 18.3.3-12.6.3-36.7.3 12.7.3 25.2.3-2.1.3-13.6.3-5.7.3 20 .3 6.7.3-1.5.3-23 .3 38.6.3-13.4.3-29.7.3 24.1.3 6.3.3-22.8.3-.1.3 21.1.3-2.1.3-14.7.3 11 .3-19.8.3 4.1.3 16 .3 27.4.3-36.4.3.5.3-28.4.3 38.8.3-11.9.3-22.3.3 21.6.3-14.8.3 8.2.3 3.1.3-9.1.3 12.6.3 5.6.3-17 .3 9.7.3-9.5.3-11.4.3 6 .3 24.5.3-2.8.3 5.7.3-45.9.3 38.4.3-14.6.3-9.4.3 10.2.3 30.8.3-30.6.3 5.5.3-15.1.3 11 .3-3.6.3 6.9.3 22.2.3-24 .3-5.6.3 27.2.3-34.3.3-5.9.3 39.6.3-1.8.3 6.2.3-15 .3 38.6.3-54.4.3 29.3.3-5.6.3-8.5.3 14.3.3-24.5.3 20.7.3-2.8.3-6.7.3 25.1.3-18.3.3 9.7.3-11 .3 16.3.3-32.6.3 7.4.3 10.2.3-4.7.3 16.9.3-24.5.3 15.9.3-26.7.3 17.7.3-30.4.3 23 .3 2.2.3-21.4.3 14.9.3-27.1"/>
<path fill="none" stroke="#0072BD" stroke-width=".9" stroke-linejoin="round"  d="M49.5 153.5l.3-9 .3 6.2.3-3 .3 1.7.3-.2.3 1.8.3-.4.3 4.8.3-3.2.3 1.1.3-6.1.3 4.8.3-1.1.3 5.7.3-5.2.3-4.2.3 4.4.3-2 .3 3.8.3 1.1.3-4.7.3 4.5.3 2 .3-2.8.3 1 .3-4.2.3 1.1.3 6.8.3-5.9.3 5.8.3-4.5.3-1.1.3 3.4.3.1.3-3.8.3 3.3.3 2.6.3-8.4.3 2.3.3 1.2.3.4.3-2.1.3 2.7.3-2.2.3 1.3.3 2.9.3-5.6.3 2.5.3 2.7.3-1.4.3 5.7.3-2.6.3-1 .3-6.9.3-.2.3-1.7.3 1.9.3-4.4.3 6.5.3.8.3.4.3-3.4.3 2.6.3 1 .3-1 .3-1.9.3 4.8.3-3.7.3.4.3-4.9.3 5 .3 4.8.3-4.5.3.5.3 4.7.3 5.7.3-11.5.3 3 .3 1.7.3-1.7.3-4.5.3-1.4.3 6.7.3-6.3.3 4.7.3-.3.3.1.3-.2.3 0 .3 1.5.3-2.4.3 2.6.3-6.2.3 2.3.3-4.9.3.4.3 4.3.3-9.9.3 1.8.3.2.3 0 .3-7.4.3 5.6.3-4 .3 2.2.3 4.6.3-6.5.3 6.9.3-6.2.3.1.3.5.3 3.2.3-6.9.3-1.2.3 8.8.3-1.7.3-6.7.3 6.6.3-4.8.3 6.2.3-1.4.3-3.3.3-.9.3 6 .3-1.7.3-5.7.3-3.1.3 2.2.3 0 .3-.7.3 5.2.3-6 .3-2.2.3.7.3 5.8.3-1 .3-7.6.3 8.5.3-1.3.3-9.7.3 8.7.3-.7.3-5 .3-.6.3 3.3.3 4.6.3-3.3.3-2.5.3 4 .3.2.3-8.1.3 2.9.3-.7.3-.2.3 7.3.3-5.4.3-2.5.3 2 .3 7.1.3 1.5.3-2.8.3-5.1.3 2.7.3-1.8.3 5.9.3-8.2.3 6 .3-7.4.3 4.4.3 11.4.3-11.1.3 2.2.3-.5.3-3.1.3-5.3.3.5.3-2.6.3 5.1.3 6.9.3-5.5.3 1 .3-1.2.3-13.5.3 7.1.3 6.7.3-8.6.3 5.7.3 4.1.3-10 .3 6.5.3-2.4.3-8.5.3 13 .3-8.1.3 5.3.3 3.2.3-3.5.3-1.7.3 0 .3 6.7.3-9.4.3 6.5.3-4.8.3.2.3 2.7.3-4.8.3 4.8.3.6.3 1.6.3 1.5.3-4.8.3 5.7.3-7.3.3.6.3-8.6.3 11.1.3-8.9.3 3.2.3.5.3 3.9.3 1 .3-1.6.3-.7.3-2.1.3 4.7.3-7.8.3 0 .3 16.6.3-9.9.3 1.2.3 3.6.3 6.9.3-3.7.3-6 .3-3.4.3.9.3-.3.3 2.9.3-4.9.3 2.2.3-2.6.3 5 .3 2.1.3 3.5.3-12 .3 8.4.3 1.8.3 4.2.3-10.7.3 7.6.3-5.9.3-1 .3-4.8.3 8.2.3 4.5.3-11.3.3 2.2.3 3.3.3-2.5.3-7.7.3 7.1.3 2.8.3-2.3.3-2.5.3.9.3.2.3.2.3 6 .3-6.9.3-1.5.3 1.6.3 3 .3-.1.3-1.2.3.4.3 6.6.3-6.1.3-5.6.3 6.2.3.7.3-4.6.3 1.9.3 3 .3-3.5.3-6.2.3-.7.3 6.4.3 1 .3-5.6.3 2.6.3-.7.3 2.1.3 4.3.3-.1.3-6.1.3 3.2.3-8.2.3-1.3.3-2.9.3 4.7.3-8 .3 1.9.3 2.9.3-2.1.3 4.6.3 9.7.3-16.5.3 2.2.3-4.6.3 4.8.3 2.7.3 1.3.3.5.3-3.1.3 7.7.3-2.8.3-7.9.3 11 .3-2.1.3-4.1.3-1 .3-2.1.3-3.3.3 2 .3-1.4.3 4.5.3-2.6.3 2.8.3-2.5.3-2.9.3.2.3 9.3.3-3.1.3-11.9.3 16.3.3-7.9.3 5.4.3-3.2.3 2.1.3-1.9.3 5.4.3-7.7.3-3.7.3 19.1.3-5.5.3 3.5.3-5.6.3-4.3.3.4.3.6.3 4.6.3 3.3.3-6.4.3 6.9.3.8.3-3.2.3 5.2.3-4.1.3 3 .3-3.9.3-3.4.3 6.1.3-3.9.3-1.8.3 6.8.3-2.8.3 1.1.3-8.6.3 9.1.3-2.6.3 5.9.3-2 .3-6.1.3 3.3.3-4.1.3 2.5.3-10.1.3 11.1.3-4.7.3 6.5.3-1.2.3 4.2.3-16.4.3 18.6.3-8.9.3 2 .3-5 .3 5.1.3-9.7.3 2.9.3 2.3.3.1.3-2.3.3 2.4.3-4.6.3 2.8.3 3.5.3-2 .3.8.3-4 .3 5.8.3-1.4.3 5.4.3-7.6.3 1.7.3 3.6.3-9.3.3 6.7.3 4.8.3-9 .3 5.4.3 11.7.3-13.3.3 1.7.3-.1.3 1.2.3 2 .3-4 .3 6.7.3-6.3.3-4.5.3-.9.3 5.5.3-10.1.3 5.9.3 2.4.3-3 .3 2.7.3-6.8.3 6.4.3-1.7.3 1.2.3-1.8.3-2.5.3-8.9.3 5.9.3-4.1.3 4 .3-3.9.3 7.5.3.1.3-12 .3 5.7.3 7.6.3-8.7.3 3.2.3.3.3-4.1.3 8.5.3-9.3.3 4.1.3 3.2.3 3.6.3-12 .3 8.5.3 4 .3-4.8.3-2.4.3-.6.3-3.4.3 3.5.3 2.4.3-9 .3 1 .3 12.6.3-8.1.3 6.5.3-7.9.3 10 .3-4.6.3-4.6.3 5.3.3-2.5.3 7.5.3 2.6.3.2.3-6.7.3 5.4.3-8 .3 7.5.3-6.3.3 4.2.3 5.9.3-4.3.3-1.5.3.2.3 2.4.3-5.1.3.4.3-.2.3 6.6.3 5.1.3-10.7.3 5.5.3-1.2.3-1.2.3-2.2.3 8.3.3-6.3.3-5.9.3 11.2.3-4.6.3-6.9.3 2.4.3.7.3 1.8.3 6.1.3-6.2.3 4 .3-4.4.3 3.5.3 1.7.3-4.5.3-4.1.3 6.2.3-2.6.3-2.1.3.9.3 7.1.3-2.9.3-3.7.3 1.2.3-7 .3 4.3.3 5.6.3-6.6.3-2.1.3 1.5.3.2.3 7.2.3-5.6.3-2.8.3 3.7.3-.4.3-3.3.3 4.1.3.9.3-3 .3-.3.3-3.9.3 4 .3 3.7.3-6.6.3 4.8.3-6.2.3 4.9.3-4.7.3.8.3 1.9.3 4.1.3-3.5.3-7.2.3 4.9.3-3.7.3 4.4.3.4.3 4 .3-5.1.3 5.1.3.3.3-7.1.3 8.2.3-12.8.3 9.1.3 2.3.3-7.5.3 9.1.3-4.4.3.4.3-3.6.3-3.1.3 5.5.3 6.5.3.2.3-3.2.3-5.1.3 2.8.3-.5.3 2.3.3-6.6.3 9.7.3-12.1.3 2.8.3 1.8.3 2.6.3.9.3-1.3.3 1.9.3-.7.3 1.4.3-6.3.3 2.5.3-1.4.3 4.7.3 2 .3-1.2.3-4.3.3 5.6.3-6.8.3 6.2.3-1.8.3-2.5.3 5.7.3 3.5.3-12.6.3 4.7.3 1.3.3-9.3.3-2.9.3 7.8.3-1.7.3-9.8.3 12.1.3-7.7.3.3.3 5.5.3 1 .3-1.4.3-4.1.3-1.3.3-9.3.3 14 .3-5 .3 3.7.3-6.7.3 1.6.3 6.7.3-3.6.3-2.1.3-2.7.3.7.3-.6.3 2.5.3-2.4.3 2 .3-3.5.3 1.5.3 5.7.3-3.3.3 2.8.3-2.6.3-2.7.3 1.9.3.8.3 2 .3-8.2.3 5.7.3 3.8.3-1.9.3-5.6.3-4.3.3 2.9.3 6.3.3-4.7.3 9.9.3-9.8.3 4.2.3-1.9.3 6 .3-6.2.3 6.5.3 1.6.3-12.2.3 10.8.3-8.4.3 5.9.3-1.8.3-.4.3-4.1.3 3 .3 5.4.3-1.2.3-6.9.3.2.3 7.4.3-5 .3 4.2.3-3.9.3 8.3.3-6.7.3 5.8.3 3.2.3-7 .3.5.3 8.3.3 3.3.3-8.5.3-2.2.3 3.8.3-2.6.3 1.9.3.4.3-3.9.3-3.5.3 2.7.3 2.9.3 1.3.3-3.7.3 9.3.3-9.3.3.4.3-.8.3.5.3-.6.3 4.5.3-8.7.3 3.5.3-1.7.3 1.6.3 3.4.3-8.7.3 2.8.3-.4.3-3 .3-5.7.3 6.5.3-2.5.3-5.3.3 8.3.3-6.1.3 4.5.3-3.9.3 3.4.3-3.4.3 6.7.3-1.1.3.5.3-1.2.3-5.5.3 2.7.3-.9.3 3.5.3-1 .3-1.1.3.4.3 3.8.3-.5.3 2.9.3-6.9.3-1 .3-3 .3 19.8.3-15.1.3 1.3.3-7.9.3 12.5.3 1.4.3-3.7.3 6.7.3 0 .3-7.6.3 9 .3-2.1.3-8.9.3 2.5.3 7.6.3-10.4.3 5.3.3 1.8.3-1.7.3 1.1.3-4.7.3 2.5.3 5.8.3-1.2.3-4.9.3 5.7.3 1.7.3 5.8.3-12.3.3 3.6.3 1.1.3 3 .3-1 .3-1.9.3 4.5.3-4.9.3-6.4.3 8.6.3-2.3.3-6.4.3 5.4.3-6.2.3 1.7.3 0 .3 3.8.3.7.3-7.4.3 4.2.3.7.3 7.8.3-8.4.3-10.6.3 6.9.3-4.7.3 5.7.3 6.1.3-6.3.3-6.7.3 6 .3 1.7.3-.6.3 3.7.3-3.4.3-2 .3-3.4.3.7.3 7.3.3 3.3.3-6.2.3 1.7.3-6.1.3 7.4.3-6.1.3 4.3.3-5.9.3 4.6.3 8.3.3 1.9.3-10.1.3 5.6.3-7.4.3 4.5.3-6.4.3 8 .3 3.6.3 5.7.3-9 .3 3.5.3 1.2.3-11.1.3 8.2.3 7.5.3-5.6.3 9.3.3-2.9.3-5.3.3 9 .3-4.7.3.1.3-.1.3 4.9.3 2.1.3-5.2.3-2.2.3 6.8.3-6.7.3-.7.3 3.6.3-2.2.3.7.3-.2.3 4.3.3.5.3-.2.3-3.7.3 6.4.3-8.2.3 9.1.3-11.9.3 4.7.3-8.7.3 8.9.3-2.3.3 8.1.3-5.9.3-2.6.3-1.7.3-1.8.3 1.3.3.9.3-3.8.3 9.8.3-4 .3-4.2.3 3.2.3-4.7.3 7.7.3-.9.3-3.7.3-4.3.3 12.3.3 1.9.3-1.8.3.3.3-5.7.3-2.4.3 3.9.3-.8.3-1.3.3 1.2.3.6.3.4.3-3.4.3 9.1.3-2.3.3-2.8.3-9.4.3 14.2.3-6.2.3 6.3.3-2.2.3 2.3.3-10.5.3 5.9.3 3.5.3-5.8.3 6.7.3-3.7.3 6.5.3-4 .3-2.5.3.1.3 4.7.3-.3.3 3.8.3 1.4.3-7.4.3-5.3.3 2.5.3-.4.3 2.1.3.1.3 0 .3-6.9.3 7.8.3-6.2.3 10.1.3-1.5.3-4 .3 5.4.3-12.1.3 5.1.3-.9.3 3.4.3-3.9.3 4.4.3-7.8.3.1.3 7.8.3.7.3 2.8.3.1.3-10.4.3 2.2.3-2.8.3 4.4.3-1.1.3 1.2.3 4.9.3-2.4.3-2.6.3 3.5.3 4.7.3.4.3-15.1.3 15.4.3-.5.3-2.5.3 1 .3-4.6.3 4.5.3-5.4.3 1 .3-1.2.3-.2.3 1.6.3-2.6.3 1.3.3-3.9.3-3.3.3-1.5.3 4.8.3-1.2.3-1.3.3-6.1.3 4.7.3-.2.3-3 .3 3.2.3 4.3.3-8.2.3 7.3.3-4.9.3 3.3.3-.7.3-2.4.3 7 .3 4 .3-6.6.3 1.6.3 1 .3-.9.3 6.4.3-5.9.3 1.2.3-2.1.3 1.7.3 1.2.3-3.8.3-1.6.3 4.7.3 3.1.3-.6.3-7.3.3 11.3.3-6.7.3-.9.3-.9.3 9.6.3-8.8.3 9.3.3-6.8.3 1.3.3 3.7.3-15 .3 7.8.3 4.6.3-2.2.3-4.1.3-3.5.3 2.5.3 4.6.3-11 .3 4.6.3-5.1.3.9.3 4.4.3-3.4.3 6.3.3-3.7.3 11.1.3 1.5.3-2 .3-5.6.3 2.2.3 4.1.3.2.3.6.3-2 .3-3.1.3 1.1.3 5.2.3-.1.3-1.9.3 6.9.3-3.8.3-1.9.3.9.3 3.9.3 1.8.3.6.3-8.8.3 5.7.3 5.1.3 3.2.3-7.8.3-5.8.3 7 .3 2.5.3-6.6.3 4.4.3-.7.3-1.6.3 2.4.3-3.8.3-.4.3 3.7.3 1.9.3-3.3.3 11.4.3-8 .3.8.3-4.8.3 7.4.3-8 .3 5.1.3-1.8.3-3.2.3 4.8.3 3.4.3-3.2.3.2.3-6.4.3 7.7.3-3.8.3-1.7.3.9.3 5.1.3 3.7.3-8.7.3-2.5.3 4 .3-2 .3 4 .3-2.6.3-2 .3 5.2.3-4.8.3 4.8.3 3.4.3-5.3.3 1.9.3-2.6.3-.8.3 2.4.3-2.8.3 2.9.3-5.6.3 6.2.3 1.2.3-10 .3 11.1.3-7.2.3-.8.3-4.7.3 3.7.3-.4.3 5.8.3-11.2.3 7.7.3-4.2.3 2.8.3-7.6.3 8 .3 1.5.3-10.5.3 7.5.3-3.7.3-1 .3 7.7.3-9.7.3 8.1.3-4.1.3-1.4.3 2.2.3 3.3.3-7 .3 7.3.3 1.8.3-9.6.3 0 .3 12.4.3-6.3.3-.5.3 11.3.3-8.6.3-6.4.3 8.7.3-8.8.3-2.3.3 8.7.3 2.6.3-2.8.3 6.3.3-10.3.3 3.4.3 7.9.3-2.2.3-2.1.3-5.7.3.8.3 5.6.3-3.5.3 2.2.3-3.9.3 2.6.3-9.7.3 6.1.3 2.5.3 2.7.3 1 .3-8.9.3-.9.3-3 .3 10.3.3-7 .3 7.8.3-7.7.3.4.3 1.3.3 2.1.3.6.3-.4.3 6.2.3-10.2.3 7.4.3-4.9.3 1.2.3-2.6.3 3 .3.7.3-.5.3-2.1.3 6.1.3 2.5.3-3 .3 1.2.3-3.2.3 1.5.3 1 .3-3.8.3 3.3.3-1.4.3 4 .3-7.7.3 3.3.3 6.1.3-.3.3-10.6.3 6 .3-6 .3-2.5.3 8.7.3-.7.3-1.9.3 6.8.3 3.7.3-14.3.3 10.6.3-2.5.3-6.1.3 6 .3-3 .3 2.7.3 6.7.3-1.8.3-3.1.3 4.3.3-7.5.3 2.5.3 7.7.3-8.1.3 4 .3-.8.3-4 .3 10.2.3-3.6.3-4.7.3 6.9.3-10.7.3 18.1.3-16.9.3 1.6.3 5.8.3-2.7.3 3.3.3-10.3.3 7.6.3-1.9.3 1 .3 6.7.3 2.2.3-8.3.3-5 .3 3 .3 3.1.3-2.5.3 2.9.3-6.6.3 2.4.3 1 .3-7.3.3 10.5.3 1.2.3-2.8.3 1 .3.2.3-4.8.3-.1.3 8.5.3-4.5.3-.9.3 4.9.3-10 .3 1.7.3-1.6.3 4.2.3-.5.3-3.5.3.3.3 3.6.3-2.2.3 6 .3-5.1.3 3.3.3 5.1.3 3.9.3-5.1.3-2.1.3 5.2.3-4.4.3 3.1.3-2.9.3 10.2.3-4 .3-3.7.3-1.2.3.9.3.4.3 6.3.3-13.6.3.8.3 4.2.3-2.7.3 1.9.3-7.1.3 4.1.3-6.2.3 5.8.3.8.3 2.1.3-8.9.3 3.4.3-5.5.3-2.8.3 2.1.3-5.4.3 6.7.3.8.3-4.3.3 2.2.3-6.4.3 13.6.3-2 .3-8.8.3 8.8.3-1.4.3 1.8.3-1 .3-7.6.3 4.8.3 5.2.3-6.5.3 12.4.3-3.5.3-5.9.3 13.5.3-.4.3.9.3-1.5.3-3.7.3-2.2.3 2.1.3-.1.3 4.4.3 4.1.3 2 .3-4.5.3 2.7.3.3.3-7.8.3 4.6.3-3 .3-10.3.3 5.4.3-.9.3 2.2.3 1.8.3-6.5.3 3.2.3-1.5.3 1.2.3-4.4.3.4.3 9.5.3-5 .3-3.2.3-8.1.3 11 .3-5.4.3-2.8.3 1 .3 7.3.3-4.8.3 3.4.3 1.6.3 3.1.3 5.9.3-4.1.3 5 .3-8.7.3 2.7.3-4.4.3 13.7.3 1.2.3-4.5.3-1 .3-2.3.3 8.3.3 3 .3-3 .3-17 .3 17.5.3-1.4.3-5.7.3 1 .3 4.1.3 10.4.3-14.6.3 4.5.3-7.3.3 4.9.3-1.9.3 9.8.3-7.7.3.8.3 1.8.3-3.2.3-.3.3 4.3.3-4.3.3-3.6.3 3.6.3 2.5.3-2 .3 1.7.3-2.2.3-2.4.3 4 .3-4.4.3-4.4.3 6.8.3 1.6.3-1.9.3-4.7.3.5.3 3.4.3 7.6.3-12.6.3-.1.3-.2.3 4.2.3 5.9.3-7.4.3 1.5.3-5.2.3-3.8.3 2.7.3 4.6.3-4.2.3 5.3.3-5 .3 2.7.3 2.4.3-3.3.3 1 .3-4.7.3 6 .3.4.3-5.9.3 4.2.3.7.3-6.9.3 17.6.3-3.7.3-3.4.3-7.6.3-.8.3 4.8.3 3.7.3 3.1.3-7.7.3.7.3 3.8.3-6.3.3-2.5.3 10.1.3-4.8.3 6.2.3-6.1.3 5.9.3-5.3.3-7.4.3 9.7.3-8.2.3.3.3.5.3 6.2.3 4 .3-5.8.3-2.4.3 4.8.3 1.4.3 1.6.3-16.7.3 20.1.3-11.2.3 5.2.3-6.6.3-.3.3 9 .3-3.8.3.8.3-3.6.3 2.6.3-3.9.3 1 .3 4.1.3-6.6.3 2.2.3-.2.3 3.7.3-4.5.3 4.6.3-6.7.3 3.5.3 10.8.3-11.5.3.5.3 2 .3-2.9.3 9.2.3-7.1.3 4.5.3-3.7.3 3.7.3 2.3.3-3.8.3 5.2.3-6.9.3-2.9.3-2.4.3 3.3.3 3.1.3-1.4.3-.6.3-5.7.3 8.3.3-2 .3 5.7.3-13.4.3 9.3.3 0 .3 2.3.3-8.9.3 1.9.3.1.3 3.9.3-3.5.3-6.7.3 10.5.3-6.1.3-4.4.3 10.2.3-6.5.3.3.3 6.2.3-2.3.3-2.6.3-.4.3 6.2.3 3.8.3-6.1.3.3.3-1.7.3-2.5.3 1.4.3 1.3.3 5.1.3-5.8.3.8.3 6.4.3.9.3 3.8.3-3.2.3-1.6.3 1.3.3-3 .3 2.5.3 3.8.3-8 .3 11.8.3-10.6.3 3.5.3-1.1.3 3.4.3-3.3.3-6.1.3 8.7.3-3.9.3.6.3 12.5.3-9.8.3-3.4.3 3.8.3-1.8.3 4 .3-11.1.3 5.2.3 1.9.3 2.2.3-6.8.3 3.1.3-2.8.3.6.3 7.5.3-7.4.3 11.2.3 1.2.3-9.6.3-7.9.3 4.5.3-.2.3 5.5.3-2.9.3-2.7.3 10.1.3-5.3.3-1.3.3-5.6.3-1.4.3 6.9.3-8.5.3 5.1.3.7.3-5.7.3 8.1.3-.7.3 2.2.3-1.9.3 5.5.3-18.6.3 7 .3-4.8.3 13.5.3 1.1.3-12.9.3 6.3.3-1.1.3-.8.3 2 .3-3.8.3-12.6.3 11.1.3-11.5.3 2.7.3-3.2.3-2.9.3 6.8.3-8.9.3.1.3-10.5.3 7.4.3-2.9.3 4.7.3.8.3 2 .3 2.8.3-2.5.3 4.7.3 1.1.3.4.3 8.1.3.5.3-.4.3-1.4.3-7 .3 13.2.3-7.2.3-1.4.3-6.2.3-1 .3 3.4.3-3.1.3.9.3 4.2.3-2 .3-.7.3-5.8.3 4.5.3 3.3.3 1.8.3-1.2.3-4.7.3.5.3 8.4.3-1.9.3-2 .3-.5.3 5.4.3-6.4.3-.8.3-.2.3-3.8.3 3.7.3 4.6.3 5 .3-5.1.3 2.4.3-6.8.3 4.8.3 4.7.3-2.9.3-7.7.3 8.5.3-3.3.3-3.4.3 2.7.3 6.8.3.3.3-2.1.3-4.8.3.9.3 4.1.3-2.8.3-.6.3 7.8.3-1.4.3-4.9.3-3.7.3 5.6.3-1.1.3-4.6.3 9.5.3-2.5.3 1.5.3-7.9.3 9.8.3 1.8.3-6.8.3-7.3.3 8.2.3-1.7.3-.8.3 2.3.3 2 .3-8.5.3 4.3.3 5.6.3-3.2.3-2.7.3 2.5.3-3.9.3.6.3-.1.3 4.5.3-11.3.3 10.5.3 1 .3-7.5.3 3.5.3 0 .3-7.5.3 10.2.3 2.5.3-1.4.3-.4.3-3.3.3-.6.3-2 .3 6.8.3-3.1.3 6.2.3-1.3.3-2.2.3 5.4.3-11 .3 8.7.3 2.1.3.3.3-4.2.3-5.6.3 12.3.3-5.6.3 4.4.3-6.5.3 5.7.3 7 .3-3.9.3-3 .3.4.3-7 .3 4.6.3 6 .3-6.9.3 3.8.3-8.4.3 9.5.3 1.5.3-3.7.3-5.7.3 8.7.3-7.5.3 5.9.3-.5.3-4 .3.9.3 2.2.3-4.9.3 9.4.3 8 .3-12.4.3 2.1.3 1.8.3-5.4.3 13.6.3-7.2.3-8.6.3.4.3-7.2.3.5.3 2.4.3-3.4.3-5.4.3 6 .3-11.5.3 9.7.3 3.5.3-6.2.3-3.5.3 2.1.3-.1.3.5.3 4.5.3-8.5.3-3.5.3 6.1.3-6.8.3 7.9.3-8.4.3 4.2.3-8.1.3 8.4.3-1.5.3-4.1.3-1.6.3.5.3-4.7.3 2.1.3.4.3-8.6.3 2 .3 2.1.3-1.3.3 8 .3-2.9.3-14.1.3 14 .3-10.4.3 1.8.3 2.9.3-12.3.3 12.7.3-5 .3 10.8.3-1.9.3 1.9.3 2.5.3-2 .3 5 .3 7.9.3-4.7.3 9.4.3-11.6.3 3.1.3 1.6.3 6 .3-1.7.3 12.7.3-5.3.3-2.4.3 10.6.3-10.2.3 2.6.3-2.9.3 3.9.3-8.2.3 6.2.3-5.4.3 1.5.3 9.2.3 4 .3-7.5.3-2.5.3.1.3 4 .3-11.3.3 10.5.3-6.5.3 14.7.3-9.3.3 3.1.3-5.1.3-6.1.3 14.5.3 0 .3-1.7.3 1.2.3-.9.3 0 .3 3.1.3-2.5.3 1.3.3-7.1.3 8.7.3-6.5.3.8.3 1.7.3-4.7.3 13.6.3-11 .3 5 .3 7 .3-9.2.3-4.8.3 9.3.3-12 .3 4.6.3-2.1.3-12.4.3.3.3 1.1.3 0 .3 6.6.3-12 .3 4.6.3 3 .3-2.5.3 6.8.3 1.7.3-2.6.3.7.3-3.3.3 10.6.3-9.8.3 9.1.3-3.9.3 4.1.3 11.1.3-7.5.3.7.3 1.8.3-13.6.3 15 .3-4 .3.1.3 6.3.3 5.6.3-1.7.3-11.7.3 12.1.3-4.8.3.8.3 7.5.3-10.9.3 0 .3 7.9.3-3.3.3-4.1.3-9.1.3 7.7.3 5.1.3-20.5.3 13.1.3-3.6.3-1.1.3 6.2.3-17.4.3 1.4.3-.7.3 4 .3-15.8.3 23.8.3-8.1.3 1.8.3 10.4.3-8.4.3-3.4.3-.9.3.8.3-2 .3-1.6.3 1.9.3-8.5.3 6.8.3-8 .3-.9.3 6.6.3 5.3.3-7.2.3-5.2.3 19.1.3-10.9.3-15.2.3 13.9.3 2.5.3-.3.3-1.4.3-1.1.3 4 .3-8.6.3 0 .3 7.2.3-15.1.3.3.3 8.5.3-2 .3-4.3.3 1.6.3-3.6.3-3.5.3-3.3.3 2.5.3 6.7.3.3.3 6.5.3-10.5.3-9.9.3 5.8.3 7.4.3-6.7.3 4.4.3-3.5.3 4.3.3-15.6.3 25.5.3-7.9.3-11.9.3 19.3.3-12.5.3 6.2.3-11.6.3 2.4.3.7.3-.7.3 1.6.3-16.6.3 17.3.3 5.4.3-8.7.3 12.6.3-3.6.3-17 .3 6.6.3 2.2.3-10.3.3 16.9.3 7.7.3-25.3.3 10.6.3-24.2.3 34.5.3-15.3.3 4.8.3-8 .3 1.9.3 1.5.3-18.6.3 3.1.3 5.5.3-3.8.3 2.1.3 19.4.3-9.6.3-12.4.3.8.3-15.9.3 24.2.3-6.4.3-2.2.3-2.2.3-10.6.3 21.6.3-20.1.3 6.4.3 19.6.3-1.8.3-13.4.3-20.8.3 15 .3-2.8.3 3 .3 17.2.3-6"/>
<path fill="none" stroke="#0072BD" stroke-width=".65" stroke-linejoin="round"  d="M671.1 82.3l.3 3 .3 17.2.3-6 .3 11.4.3-27.5.3 15 .3-18.4.3 16.1.3 16.4.3-11 .3-15.4.3 15.8.3-3.5.3 19.2.3-12.4.3-12 .3 10.2.3-3 .3-.2.3 12.5.3-9.4.3 1.9.3 7.1.3-27.7.3 1.6.3 3.1.3 15.7.3 16.3.3-26.5.3 15.9.3-17.1.3 12.6.3 2.9.3 12.8.3-25.7.3-4.1.3-1.4.3-4.1.3 28.5.3-21.3.3-8.9.3-2.7.3 29.7.3-21.8.3-9.1.3 4 .3 17.7.3-20.7.3 7.5.3-13 .3 24.3.3-9.3.3 1.8.3-7.1.3 23.9.3-14.8.3 14 .3-12.2.3 4.1.3-5.9.3-9.8.3 4.6.3-1.7.3.3.3 5.8.3 5.2.3-11.3.3 22.7.3-22.8.3 7.6.3 1.7.3-9.7.3-1 .3 12.7.3-12.6.3-6.9.3 13.5.3-16.3.3 23.6.3-6.7.3-17.7.3 10.8.3 3.2.3-11.7.3-2.7.3 9 .3-4.5.3 3.5.3 7.1.3-8.8.3 6.1.3 20.3.3-17 .3-11 .3 5.5.3 1.1.3 6.9.3 10.4.3-5.5.3 4.4.3 2.3.3-21.9.3 10.6.3 8.5.3-18.9.3-3.5.3 25.2.3-23.9.3 21.2.3-42.4.3 24.4.3 25.8.3-35.3.3 23.6.3-16.1.3-14.2.3 8.2.3 28.2.3-19.5.3 8 .3-10 .3 5.8.3-2.6.3-19.1.3 23.4.3-21 .3 23.5.3-8.9.3 13.6.3-29.9.3 11.4.3 15.6.3-16.5.3 5.6.3.8.3 1.2.3-12.7.3 14.9.3-17.8.3 5.2.3-2.8.3-.8.3 8.2.3 13.5.3-16.6.3 26 .3-7.6.3-19.5.3 32.6.3-10 .3 4.8.3-18.9.3 15 .3-13.8.3 1.3.3-21.6.3-1.6.3 31.7.3-2 .3-6.7.3 3.6.3-.2.3-1.6.3-11.2.3-4.4.3 31.1.3-21.2.3 5.6.3 13.1.3-9.5.3 5.7.3-6.3.3.5.3 20.1.3-12.7.3-8 .3 9.6.3 27.1.3-48.4.3 15.9.3-8.8.3 13.7.3 2.3.3-21 .3 9.2.3 5.9.3-9.8.3 7 .3-6.7.3-7.2.3 8.6.3 4.9.3-12.6.3-5.7.3 10.3.3 2.4.3 0 .3 7.7.3-14 .3 12.2.3-.1.3-7.8.3-11.3.3 3.7.3 24.8.3-27.1.3 7.2.3 7.4.3-8.9.3 7.5.3-17.7.3 28.7.3-24.3.3 20.7.3-1.8.3-12.9.3 30.9.3-31.5.3-4.5.3 32.6.3-11.4.3-18.5.3 22.2.3 4.1.3-33.9.3 24.3.3-21.9.3 6.9.3 7.6.3 13.2.3-20.4.3 6.8.3 12 .3 2.1.3-4.1.3 8.8.3-7 .3-10.5.3 15 .3-5.7.3-.5.3-1.7.3 6 .3-11.8.3-8.3.3 27.4.3-8 .3-4.2.3-14.4.3 14.3.3 4.3.3-15.5.3 11.4.3 9.7.3-14.6.3 1.3.3 7.8.3 11.2.3-12.7.3-10.5.3.4.3 20 .3-3.8.3-22.6.3 30.1.3-29.4.3 2.8.3-14.5.3 40.8.3-26.8.3 16.4.3-6.3.3 12.5.3-20.7.3 4.7.3 19.6.3 4 .3-18.7.3 9.5.3-6.7.3.8.3-1.3.3 3.6.3 6.8.3-16.2.3 3.1.3 8.6.3-4.6.3 4.2.3.9.3 3.9.3-20.8.3 20.4.3-21.2.3 7 .3.3.3-1.8.3 2.2.3 18 .3 2 .3-8.5.3-2.4.3-6.5.3.8.3-5.9.3 21.7.3-20.5.3 9 .3-1 .3-.6.3-8.1.3 9.3.3-18.3.3-.9.3 15.1.3-.5.3-7.9.3-13.7.3 5.9.3 14.1.3-6.6.3 11.9.3-8.5.3 6.4.3-18.1.3 8.2.3-2.6.3 16.1.3-12.9.3-1.3.3-17 .3 29.8.3-8.6.3-.4.3-15.6.3 10.6.3-19.9.3-4.3.3 37.8.3-35.1.3 6.2.3-1.2.3 3 .3 8.7.3 2.5.3 1 .3 3.3.3-12.7.3 3.9.3-2.9.3.2.3 19.8.3-17.5.3 7.4.3 1.5.3-9 .3-9.8.3 12.1.3-5.2.3-13.6.3 9.9.3 1.8.3 14.4.3-16.6.3 13.6.3-19.7.3-4.3.3 29.1.3-10.3.3 1.4.3-14.4.3 30.7.3-26.7.3 1.1.3 10.9.3-4.9.3 7.2.3-4.4.3 5.5.3 13.3.3-8.8.3-.4.3-11.7.3 10.6.3-9.8.3-6.2.3 15.3.3-9.8.3 19.9.3-15.8.3-9.4.3.8.3-27.6.3 44.2.3-6.4.3 1.1.3 8.6.3-6.1.3 13.8.3-9.7.3-34.8.3 40.9.3-17.7.3-4.1.3-1.1.3 8.6.3 3.7.3-6.5.3-1.8.3 26.8.3-33 .3 14.3.3-9.8.3-1.2.3 6.5.3 16.3.3 5.6.3-28.7.3 16.5.3 8.8.3-10.4.3-5.5.3-17.2.3 28.6.3-16.8.3 3.1.3 6.4.3 6 .3-26.8.3 17.5.3-5.8.3 5.6.3-22.8.3 16.1.3 8 .3-14.9.3 7.9.3 12.4.3 5.4.3-9.8.3-.6.3 11.2.3 5.6.3-24 .3.8.3-5.9.3 19.5.3-12.8.3-1.1.3 4.8.3 5.7.3-9.5.3 6.1.3 1.3.3-2.5.3 6.8.3 1 .3-8.9.3-1.3.3-7.4.3 10.8.3 6.5.3 4.1.3-22 .3 16.1.3 6.3.3-26.9.3 5 .3 17.9.3-4.6.3 8.9.3-7 .3-15.8.3 17.2.3-11.6.3-2.2.3 35.1.3-11.2.3-21.8.3 21.4.3.5.3 1.7.3-17.4.3 10.9.3-27.9.3 23.3.3 25.4.3-9.4.3-15.7.3-19.7.3 9.1.3 17 .3-2.2.3 10.3.3-29.4.3 28.7.3-26.5.3-1.9.3 5.7.3-8.2.3-11 .3 32.6.3-27.3.3 43 .3-18.3.3-1.1.3-.3.3-12.5.3 15.9.3 8.8.3 1.2.3-5.9.3-9.4.3 18.2.3-3.5.3-.2.3-12.1.3 2.3.3 16.1.3 1.3.3-4.7.3-10.9.3-10.2.3 13.1.3 9.5.3-30 .3 14.8.3 35.5.3-32.9.3-4.8.3 1.2.3 17.8.3 11.5.3-18.1.3-6.4.3.9.3 1.8.3 10.8.3-9.2.3 1 .3 4.2.3-24.9.3 20.6.3-1.7.3-23.4.3 22.2.3-.8.3-3.9.3 11 .3-19.7.3 9.4.3-6.3.3-9.1.3 16.8.3-1.3.3 10.8.3-23.5.3 12.2.3-12.7.3 8.7.3 4.2.3 2.7.3-19.8.3 5 .3-4.2.3 10.4.3 12.4.3-11.9.3-7.1.3-.9.3-1.9.3-1.8.3 1 .3-6.6.3 30.8.3-22.2.3.2.3-1.7.3 6.1.3 7.5.3-8.9.3-4.2.3 6.5.3-7.8.3 2 .3 26.6.3-37.6.3 29.7.3-29.6.3 14.6.3 12 .3-7.2.3 3.7.3-5.1.3 17.3.3-8.2.3 17.8.3-18.8.3 4.9.3 5.9.3.1.3-5.9.3 4.5.3-2.5.3 3.8.3 1.5.3 1.6.3-13.3.3 12.8.3-2.4.3-5.4.3-4.2.3 23.1.3-8.1.3 5.6.3-8.8.3.7.3 15.7.3-4.8.3-1 .3-13.5.3 25.4.3-21.5.3 4.5.3 5.4.3-5.9.3 7.3.3-21.5.3 15 .3 4.7.3-13.3.3 8.3.3 7.3.3-5.5.3-5.6.3 2.2.3-1.8.3-.5.3-4 .3 6 .3-15.9.3 10.2.3-5.4.3 9.7.3 5.3.3-5.8.3-2.5.3 5.4.3 18.8.3-19.8.3-14.6.3-4 .3 0 .3 14.5.3-.6.3-17.9.3 7.3.3 14.7.3-1.5.3-2.5.3-3.5.3 13.7.3-14.3.3-2.2.3-11.5.3 7.1.3 10.8.3-17.7.3-5.5.3-7.1.3 5.9.3.5.3-7.3.3 24.3.3-24.9.3-.6.3 22.3.3-14.3.3 21.6.3-34.2.3 17.8.3 8.1.3 8.5.3-7.8.3-4.3.3 6.6.3-8.1.3 7 .3 7.8.3-12.5.3-16.7.3 43.3.3-17.6.3-7.7.3 13.5.3 3.8.3-2.7.3-7.2.3 10.3.3 6.1.3-2.7.3-13.1.3 3.8.3-8.8.3 7.5.3 11.2.3-3.1.3 1.9.3-13 .3 8.4.3 1.6.3-3.2.3-1.3.3 11.3.3 6.8.3-10.1.3 3.9.3-5.8.3 15.1.3-21.8.3 13.3.3-10.7.3 7 .3 5.9.3 7.2.3-5.8.3 6.2.3-20.9.3 20.7.3-6.9.3 6.8.3-1.1.3-6.5.3-15.8.3 27 .3-9.8.3-7.9.3 9.2.3 4.6.3-27.3.3 21 .3 8.3.3 9.1.3-5.4.3-2.6.3-12.3.3 8.1.3 7.2.3-20.3.3 5 .3 13.2.3-10.6.3 7.4.3 4.9.3 4.8.3-8.1.3-3.7.3-2.7.3.1.3-8.2.3-4.7.3 11.6.3-6.6.3-5.8.3 11.6.3 3 .3 10.4.3-15.6.3 15 .3-10 .3-11.8.3-2.8.3 18.2.3 7.2.3-5.2.3-13.2.3-13.8.3 18.8.3 16.7.3-6.4.3-18.6.3 7.1.3-1 .3 7.2.3.4.3 17 .3-24 .3-5.7.3 18.9.3 1.3.3-5.6.3 2.3.3 7.3.3-1.2.3-11.9.3-8.3.3 14 .3 6.6.3-17 .3-6.6.3 13.9.3 2.3.3-5.2.3-2.6.3-14.7.3 21 .3-11.4.3-.7.3 7.8.3-17.7.3 10 .3 11 .3-1.8.3-1.8.3-12.3.3 17.2.3-7.8.3 3.4.3 12.5.3-10.8.3 11.9.3-5 .3-2.1.3-6 .3 5.9.3 2.5.3 1.1.3-1 .3-5.3.3 12.4.3-5.4.3-5.9.3 20 .3-26 .3-2.3.3 12.4.3-5.8.3-.3.3 2.4.3-5.2.3 10.6.3-16.2.3 11.6.3-14.4.3-13.3.3 19.9.3-1.8.3 1.7.3 3.6.3-6.6.3-3.3.3 12.6.3-15.9.3 12.4.3-14.8.3 13.1.3 14.8.3-14.8.3 3.4.3-7.1.3-9.6.3 11.4.3-1.2.3-7.8.3 11.8.3-8.7.3-14.6.3-1.4.3 16.8.3-1.4.3-9 .3-3.6.3 13.4.3 4.6.3-.8.3-15.2.3 5.7.3 11.4.3-19.7.3 16.2.3 4.2.3-15.2.3-.1.3 14 .3-1.5.3-10 .3 7.2.3-13.4.3 2.5.3 10.4.3 18 .3-24.6.3.1.3-19.3.3 25.6.3-8.2.3-15.2.3 14.2.3-10.1.3 5.3.3 1.9.3-6.1.3 8.3.3 3.6.3-11.5.3 6.5.3-6.5.3-7.6.3 3.9.3 16.3.3-1.8.3 3.8.3-6.7.3 1.8.3-9.7.3-6.1.3 6.8.3 20.6.3-14.3.3-2.2.3-9.9.3 7.4.3-2.2.3 4.8.3 15 .3-15.8.3-3.4.3 18.4.3-22.6.3-3.6.3 26.7.3-.9.3 4.4.3-9.6.3 10.4.3-20.1.3 19.8.3-3.4.3-5.4.3 9.7.3-16.2.3 13.9.3-1.8.3-4.5.3 16.7.3-12.2.3 6.4.3-7.4.3 10.8.3-22.5.3 4.3.3 6.2.3-3.7.3 10.6.3-18.8.3 11.9.3-18.2.3 11.3.3-20.6.3 14.9.3 1.1.3-14.5.3 9.7.3-18.3"/>
</g>
<path d="M49.5 31.9H960.5" stroke="#8c8c8c" stroke-width="0.8"/>
<path d="M49.5 168.4H960.5" stroke="#8c8c8c" stroke-width="0.8"/>
<path d="M78.89 168.4V159.3M78.89 31.9V41M108.27 168.4V159.3M108.27 31.9V41M137.66 168.4V159.3M137.66 31.9V41M167.05 168.4V159.3M167.05 31.9V41M196.44 168.4V159.3M196.44 31.9V41M225.82 168.4V159.3M225.82 31.9V41M255.21 168.4V159.3M255.21 31.9V41M284.6 168.4V159.3M284.6 31.9V41M313.98 168.4V159.3M313.98 31.9V41M343.37 168.4V159.3M343.37 31.9V41M372.76 168.4V159.3M372.76 31.9V41M402.15 168.4V159.3M402.15 31.9V41M431.53 168.4V159.3M431.53 31.9V41M460.92 168.4V159.3M460.92 31.9V41M490.31 168.4V159.3M490.31 31.9V41M519.69 168.4V159.3M519.69 31.9V41M549.08 168.4V159.3M549.08 31.9V41M578.47 168.4V159.3M578.47 31.9V41M607.85 168.4V159.3M607.85 31.9V41M637.24 168.4V159.3M637.24 31.9V41M666.63 168.4V159.3M666.63 31.9V41M696.02 168.4V159.3M696.02 31.9V41M725.4 168.4V159.3M725.4 31.9V41M754.79 168.4V159.3M754.79 31.9V41M784.18 168.4V159.3M784.18 31.9V41M813.56 168.4V159.3M813.56 31.9V41M842.95 168.4V159.3M842.95 31.9V41M872.34 168.4V159.3M872.34 31.9V41M901.73 168.4V159.3M901.73 31.9V41M931.11 168.4V159.3M931.11 31.9V41" stroke="#555555" stroke-width="0.6" fill="none"/>
<path d="M49.5 31.9V168.4" stroke="#4d86c6" stroke-width="0.9"/>
<path d="M960.5 31.9V168.4" stroke="#d9704a" stroke-width="0.9"/>
<path d="M49.5 168.4h9.1M49.5 134.28h9.1M49.5 100.15h9.1M49.5 66.03h9.1M49.5 31.9h9.1" stroke="#4d86c6" stroke-width="0.9"/>
<path d="M960.5 168.4h-9.1M960.5 134.28h-9.1M960.5 100.15h-9.1M960.5 66.03h-9.1M960.5 31.9h-9.1" stroke="#d9704a" stroke-width="0.9"/>
<g font-family='"Liberation Sans", sans-serif' font-size="10.5"><text x="45.5" y="172" text-anchor="end" fill="#4d86c6">0</text><text x="45.5" y="137.88" text-anchor="end" fill="#4d86c6">10</text><text x="45.5" y="103.75" text-anchor="end" fill="#4d86c6">20</text><text x="45.5" y="69.62" text-anchor="end" fill="#4d86c6">30</text><text x="45.5" y="35.5" text-anchor="end" fill="#4d86c6">40</text><text x="964.5" y="172" fill="#d9704a">0</text><text x="964.5" y="137.88" fill="#d9704a">90</text><text x="964.5" y="103.75" fill="#d9704a">180</text><text x="964.5" y="69.62" fill="#d9704a">270</text><text x="964.5" y="35.5" fill="#d9704a">360</text></g>
<g font-family='"Liberation Sans", sans-serif' font-size="10.7" fill="#262626"><text transform="translate(53.4,179.6) rotate(-30)" text-anchor="end">04:00</text><text transform="translate(82.79,179.6) rotate(-30)" text-anchor="end">05:00</text><text transform="translate(112.17,179.6) rotate(-30)" text-anchor="end">06:00</text><text transform="translate(141.56,179.6) rotate(-30)" text-anchor="end">07:00</text><text transform="translate(170.95,179.6) rotate(-30)" text-anchor="end">08:00</text><text transform="translate(200.34,179.6) rotate(-30)" text-anchor="end">09:00</text><text transform="translate(229.72,179.6) rotate(-30)" text-anchor="end">10:00</text><text transform="translate(259.11,179.6) rotate(-30)" text-anchor="end">11:00</text><text transform="translate(288.5,179.6) rotate(-30)" text-anchor="end">12:00</text><text transform="translate(317.88,179.6) rotate(-30)" text-anchor="end">13:00</text><text transform="translate(347.27,179.6) rotate(-30)" text-anchor="end">14:00</text><text transform="translate(376.66,179.6) rotate(-30)" text-anchor="end">15:00</text><text transform="translate(406.05,179.6) rotate(-30)" text-anchor="end">16:00</text><text transform="translate(435.43,179.6) rotate(-30)" text-anchor="end">17:00</text><text transform="translate(464.82,179.6) rotate(-30)" text-anchor="end">18:00</text><text transform="translate(494.21,179.6) rotate(-30)" text-anchor="end">19:00</text><text transform="translate(523.59,179.6) rotate(-30)" text-anchor="end">20:00</text><text transform="translate(552.98,179.6) rotate(-30)" text-anchor="end">21:00</text><text transform="translate(582.37,179.6) rotate(-30)" text-anchor="end">22:00</text><text transform="translate(611.75,179.6) rotate(-30)" text-anchor="end">23:00</text><text transform="translate(641.14,179.6) rotate(-30)" text-anchor="end">00:00</text><text transform="translate(670.53,179.6) rotate(-30)" text-anchor="end">01:00</text><text transform="translate(699.92,179.6) rotate(-30)" text-anchor="end">02:00</text><text transform="translate(729.3,179.6) rotate(-30)" text-anchor="end">03:00</text><text transform="translate(758.69,179.6) rotate(-30)" text-anchor="end">04:00</text><text transform="translate(788.08,179.6) rotate(-30)" text-anchor="end">05:00</text><text transform="translate(817.46,179.6) rotate(-30)" text-anchor="end">06:00</text><text transform="translate(846.85,179.6) rotate(-30)" text-anchor="end">07:00</text><text transform="translate(876.24,179.6) rotate(-30)" text-anchor="end">08:00</text><text transform="translate(905.63,179.6) rotate(-30)" text-anchor="end">09:00</text><text transform="translate(935.01,179.6) rotate(-30)" text-anchor="end">10:00</text><text transform="translate(964.4,179.6) rotate(-30)" text-anchor="end">11:00</text></g>
<text x="59" y="28.6" letter-spacing="0.5" font-family='"Liberation Sans", sans-serif' font-size="10.5" fill="#262626">(a)</text>
<text transform="translate(25.1,98.5) rotate(-90)" text-anchor="middle" font-family='"Liberation Serif", serif' font-size="10.5" fill="#4d86c6" fill-opacity="0.85">Wind Speed, <tspan font-style="italic">U</tspan> [m s<tspan dy="-3.5" font-size="7">−1</tspan><tspan dy="3.5">]</tspan></text>
<text transform="translate(993.3,100.7) rotate(-90)" text-anchor="middle" font-family='"Liberation Serif", serif' font-size="11.5" fill="#d9704a" fill-opacity="0.8">Wind Direction, <tspan font-style="italic">φ</tspan><tspan font-size="7" dy="2" font-style="italic">U</tspan><tspan dy="-2"> [°]</tspan></text>
<text x="279.1" y="28.6" text-anchor="middle" textLength="13.2" lengthAdjust="spacingAndGlyphs" font-family='"Liberation Sans", sans-serif' font-size="10.6" fill="#0072BD" fill-opacity="0.88">#1</text>
<text x="279.1" y="19.4" text-anchor="middle" textLength="19.5" lengthAdjust="spacingAndGlyphs" font-family='"Liberation Serif", serif' font-size="6.2" fill="#0072BD" fill-opacity="0.6">δ = 20°</text>
<text x="306.5" y="28.6" text-anchor="middle" textLength="13.2" lengthAdjust="spacingAndGlyphs" font-family='"Liberation Sans", sans-serif' font-size="10.6" fill="#D95319" fill-opacity="0.88">#2</text>
<text x="306.5" y="19.4" text-anchor="middle" textLength="19.5" lengthAdjust="spacingAndGlyphs" font-family='"Liberation Serif", serif' font-size="6.2" fill="#D95319" fill-opacity="0.6">δ = 20°</text>
<text x="327.9" y="28.6" text-anchor="middle" textLength="13.2" lengthAdjust="spacingAndGlyphs" font-family='"Liberation Sans", sans-serif' font-size="10.6" fill="#EDB120" fill-opacity="0.88">#3</text>
<text x="327.9" y="19.4" text-anchor="middle" textLength="19.5" lengthAdjust="spacingAndGlyphs" font-family='"Liberation Serif", serif' font-size="6.2" fill="#EDB120" fill-opacity="0.6">δ = 20°</text>
<text x="347.5" y="28.6" text-anchor="middle" textLength="13.2" lengthAdjust="spacingAndGlyphs" font-family='"Liberation Sans", sans-serif' font-size="10.6" fill="#7E2F8E" fill-opacity="0.88">#4</text>
<text x="347.5" y="19.4" text-anchor="middle" textLength="19.5" lengthAdjust="spacingAndGlyphs" font-family='"Liberation Serif", serif' font-size="6.2" fill="#7E2F8E" fill-opacity="0.6">δ = 20°</text>
<text x="616.3" y="28.6" text-anchor="middle" textLength="13.2" lengthAdjust="spacingAndGlyphs" font-family='"Liberation Sans", sans-serif' font-size="10.6" fill="#77AC30" fill-opacity="0.88">#5</text>
<text x="616.3" y="19.4" text-anchor="middle" textLength="19.5" lengthAdjust="spacingAndGlyphs" font-family='"Liberation Serif", serif' font-size="6.2" fill="#77AC30" fill-opacity="0.6">δ = 20°</text>
<text x="788.5" y="28.6" text-anchor="middle" textLength="13.2" lengthAdjust="spacingAndGlyphs" font-family='"Liberation Sans", sans-serif' font-size="10.6" fill="#4DBEEE" fill-opacity="0.88">#6</text>
<text x="788.5" y="19.4" text-anchor="middle" textLength="19.5" lengthAdjust="spacingAndGlyphs" font-family='"Liberation Serif", serif' font-size="6.2" fill="#4DBEEE" fill-opacity="0.6">δ = 20°</text>
<text x="855.1" y="28.6" text-anchor="middle" textLength="13.2" lengthAdjust="spacingAndGlyphs" font-family='"Liberation Sans", sans-serif' font-size="10.6" fill="#A2142F" fill-opacity="0.88">#7</text>
<text x="855.1" y="19.4" text-anchor="middle" textLength="19.5" lengthAdjust="spacingAndGlyphs" font-family='"Liberation Serif", serif' font-size="6.2" fill="#A2142F" fill-opacity="0.6">δ = 45°</text>
<text x="752.8" y="30.3" text-anchor="middle" font-family='"Liberation Serif", serif' font-size="11" fill="#222">SAR</text>
<path stroke-opacity="0.45" d="M78.89 229.4V366.4M108.27 229.4V366.4M137.66 229.4V366.4M167.05 229.4V366.4M196.44 229.4V366.4M225.82 229.4V366.4M255.21 229.4V366.4M284.6 229.4V366.4M313.98 229.4V366.4M343.37 229.4V366.4M372.76 229.4V366.4M402.15 229.4V366.4M431.53 229.4V366.4M460.92 229.4V366.4M490.31 229.4V366.4M519.69 229.4V366.4M549.08 229.4V366.4M578.47 229.4V366.4M607.85 229.4V366.4M637.24 229.4V366.4M666.63 229.4V366.4M696.02 229.4V366.4M725.4 229.4V366.4M754.79 229.4V366.4M784.18 229.4V366.4M813.56 229.4V366.4M842.95 229.4V366.4M872.34 229.4V366.4M901.73 229.4V366.4M931.11 229.4V366.4" stroke="#1a1a1a" stroke-width="0.35" fill="none"/>
<path d="M49.5 275.07H960.5M49.5 320.73H960.5" stroke="#1a1a1a" stroke-opacity="0.12" stroke-width="0.5" fill="none"/>
<path fill="none" stroke="#e4481c" stroke-width="2.2" stroke-linejoin="round"  d="M49.5 340.4l2 0 2 0 2 0 2 0 2 0 2 0 2 0 2 0 2-.2 2-.4 2-.5 2-.5 2-.5 2-.5 2-.5 2-.5 2-.4 2-.4 2-.3 2-.4 2-.4 2-.4 2-.3 2-.4 2-.4 2-.4 2-1 2-1 2-.9 2-1 2-.7 2-.7 2-.8 2-.7 2-.6 2-.5 2-.4 2-.4 2-.5 2-.4 2-.4 2-.5 2-.7 2-.8 2-1.2 2-1.5 2-1.5 2-1.5 2-1.5 2-.8 2-.5 2-.4 2 0 2 0 2 0 2 0 2 0 2 0 2 0 2-.7 2-.8 2-.5 2-.2 2-.2 2-.2 2 0 2 1.3 2 1.3 2 1.2 2 1.3 2 .4 2 .3 2 .3 2-.9 2-1.4 2-1.4 2-.8 2-.7 2 .2 2 .4 2 .5 2 .5 2 .5 2 .4 2 .5 2-.3 2-.4 2-.4 2-.2 2 .3 2 .3 2 .3 2 .3 2 .3 2 .3 2-.3 2-.3 2-.3 2-.3 2-.3 2-.3 2-.3 2-.2 2 .4 2 .3 2 .3 2 .3 2-.6 2-.7 2-.8 2-.7 2-.8 2-.2 2 .6 2 .6 2 .7 2 .6 2 .6 2 .6 2 .7 2 .5 2 .2 2 .3 2 .2 2 .3 2 .2 2 .3 2 .2 2 .2 2 .1 2 .2 2 .1 2 .2 2 .2 2 .1 2 .2 2 .3 2 .4 2 .5 2 .5 2 .5 2 .5 2 .4 2 .5 2 .5 2-.1 2-.2 2-.2 2-.3 2-.2 2-.2 2 .1 2 .2 2 .2 2 .3 2 .1 2 .2 2 .1 2 .2 2 .1 2 .1 2 .2 2 .1 2 .2 2 .1 2-.3 2-.3 2-.3 2-.3 2-.3 2-.3 2-.3 2-.3 2-.3 2-.4 2 .2 2 .6 2 .5 2 .6 2 .6 2 .5 2 .6 2 .4 2-.1 2-.1 2 0 2-.1 2-.1 2 .1 2 .3 2 .3 2 .3 2 .3 2-.2 2-.3 2-.2 2-.3 2-.3 2 .4 2 .6 2 .6 2 .5 2 .6 2 0 2 0 2 0 2 0 2 0 2 0 2 0 2 0 2 0 2-.1 2-.8 2-.7 2-.7 2-.5 2-.1 2-.2 2-.1 2-.2 2-.1 2-.1 2-.2 2-.1 2-.2 2 0 2 0 2 0 2 0 2-.3 2-.4 2-.3 2-.4 2-.4 2 .2 2 .3 2 .3 2 .2 2 .3 2-.5 2-.6 2-.6 2-.6 2-.6 2-.5 2-.6 2-.6 2-.3 2 .4 2 .4 2 .4 2 .3 2 .4 2 .3 2 .1 2 .1 2 0 2 .1 2 .1 2 0 2-.4 2-.3 2-.4 2-.4 2-.3 2-.4 2-.4 2-.4 2-.1 2 0 2 0 2 0 2 0 2 0 2 0 2 0 2 .5 2 .6 2 .5 2 .5 2 .5 2 .5 2 .2 2 .2 2 .2 2 .2 2 .2 2 .3 2 .3 2 .3 2 .3 2 .3 2 .3 2 .2 2 .2 2 .2 2 .3 2 .2 2 .2 2 .2 2 .3 2 .2 2 .2 2 .2 2 .3 2 .3 2 .3 2 .4 2 .3 2 .1 2 0 2 0 2 0 2-.2 2-.3 2-.2 2-.2 2-.2 2-.3 2 0 2 0 2 0 2 0 2 0 2 0 2 0 2 0 2 .8 2 .8 2 .8 2 .8 2 .9 2 .8 2 .8 2 .7 2 .2 2 .2 2 .2 2 .2 2 .1 2-.3 2-.3 2-.3 2-.3 2-.3 2-.3 2 .6 2 .6 2 .5 2 .6 2 .6 2 .2 2-.4 2-.3 2-.4 2-.3 2-.3 2-.4 2 .2 2 .5 2 .5 2 .4 2 .5 2 .2 2 .2 2 .1 2 .2 2 .1 2 .2 2-.2 2-.3 2-.3 2-.3 2-.3 2-.3 2-.2 2-.1 2 0 2-.1 2-.1 2 .1 2 .2 2 .3 2 .2 2 .4 2 .6 2 .5 2 .5 2 .5 2 .5 2 .3 2 .1 2 .1 2 .1 2 .1 2-.3 2-.3 2-.3 2 .1 2 .1 2 .1 2 0 2 .1 2 .1 2 .1 2 .1 2 .1 2 0 2 .1 2 .3 2 .2 2 .2 2 .2 2-.2 2-.3 2-.2 2-.3 2-.3 2-.2 2-.3 2-.3 2-.2 2-.3 2 0 2 .1 2 .1 2 .2 2 .1 2 .2 2 0 2-.2 2-.3 2-.2 2-.3 2-.2 2-.3 2-.2 2 .3 2 .3 2 .3 2 .3 2 .3 2 .3 2 .3 2 .2 2 0 2 .1 2 0 2 .1 2 0 2 0 2 .1 2 0 2 .1"/>
<rect x="49.5" y="229.4" width="911" height="137" fill="none" stroke="#4a4a4a" stroke-width="0.7"/>
<path d="M78.89 366.4V357.3M78.89 229.4V238.5M108.27 366.4V357.3M108.27 229.4V238.5M137.66 366.4V357.3M137.66 229.4V238.5M167.05 366.4V357.3M167.05 229.4V238.5M196.44 366.4V357.3M196.44 229.4V238.5M225.82 366.4V357.3M225.82 229.4V238.5M255.21 366.4V357.3M255.21 229.4V238.5M284.6 366.4V357.3M284.6 229.4V238.5M313.98 366.4V357.3M313.98 229.4V238.5M343.37 366.4V357.3M343.37 229.4V238.5M372.76 366.4V357.3M372.76 229.4V238.5M402.15 366.4V357.3M402.15 229.4V238.5M431.53 366.4V357.3M431.53 229.4V238.5M460.92 366.4V357.3M460.92 229.4V238.5M490.31 366.4V357.3M490.31 229.4V238.5M519.69 366.4V357.3M519.69 229.4V238.5M549.08 366.4V357.3M549.08 229.4V238.5M578.47 366.4V357.3M578.47 229.4V238.5M607.85 366.4V357.3M607.85 229.4V238.5M637.24 366.4V357.3M637.24 229.4V238.5M666.63 366.4V357.3M666.63 229.4V238.5M696.02 366.4V357.3M696.02 229.4V238.5M725.4 366.4V357.3M725.4 229.4V238.5M754.79 366.4V357.3M754.79 229.4V238.5M784.18 366.4V357.3M784.18 229.4V238.5M813.56 366.4V357.3M813.56 229.4V238.5M842.95 366.4V357.3M842.95 229.4V238.5M872.34 366.4V357.3M872.34 229.4V238.5M901.73 366.4V357.3M901.73 229.4V238.5M931.11 366.4V357.3M931.11 229.4V238.5" stroke="#262626" stroke-width="0.6" fill="none"/>
<path d="M49.5 229.4V366.4" stroke="#4d86c6" stroke-width="0.9"/>
<path d="M960.5 229.4V366.4" stroke="#d9704a" stroke-width="0.9"/>
<path d="M49.5 229.4h9.1M49.5 275.07h9.1M49.5 320.73h9.1M49.5 366.4h9.1" stroke="#4d86c6" stroke-width="0.9"/>
<path d="M960.5 366.4h-9.1M960.5 343.57h-9.1M960.5 320.73h-9.1M960.5 297.9h-9.1M960.5 275.07h-9.1M960.5 252.23h-9.1M960.5 229.4h-9.1" stroke="#d9704a" stroke-width="0.9"/>
<g font-family='"Liberation Sans", sans-serif' font-size="10.5"><text x="45.5" y="233" text-anchor="end" fill="#4d86c6">0</text><text x="45.5" y="278.67" text-anchor="end" fill="#4d86c6">0.5</text><text x="45.5" y="324.33" text-anchor="end" fill="#4d86c6">1</text><text x="45.5" y="370" text-anchor="end" fill="#4d86c6">1.5</text><text x="964.5" y="370" fill="#d9704a">0</text><text x="964.5" y="347.17" fill="#d9704a">0.5</text><text x="964.5" y="324.33" fill="#d9704a">1</text><text x="964.5" y="301.5" fill="#d9704a">1.5</text><text x="964.5" y="278.67" fill="#d9704a">2</text><text x="964.5" y="255.83" fill="#d9704a">2.5</text><text x="964.5" y="233" fill="#d9704a">3</text></g>
<g font-family='"Liberation Sans", sans-serif' font-size="10.7" fill="#262626"><text transform="translate(53.4,377.6) rotate(-30)" text-anchor="end">04:00</text><text transform="translate(82.79,377.6) rotate(-30)" text-anchor="end">05:00</text><text transform="translate(112.17,377.6) rotate(-30)" text-anchor="end">06:00</text><text transform="translate(141.56,377.6) rotate(-30)" text-anchor="end">07:00</text><text transform="translate(170.95,377.6) rotate(-30)" text-anchor="end">08:00</text><text transform="translate(200.34,377.6) rotate(-30)" text-anchor="end">09:00</text><text transform="translate(229.72,377.6) rotate(-30)" text-anchor="end">10:00</text><text transform="translate(259.11,377.6) rotate(-30)" text-anchor="end">11:00</text><text transform="translate(288.5,377.6) rotate(-30)" text-anchor="end">12:00</text><text transform="translate(317.88,377.6) rotate(-30)" text-anchor="end">13:00</text><text transform="translate(347.27,377.6) rotate(-30)" text-anchor="end">14:00</text><text transform="translate(376.66,377.6) rotate(-30)" text-anchor="end">15:00</text><text transform="translate(406.05,377.6) rotate(-30)" text-anchor="end">16:00</text><text transform="translate(435.43,377.6) rotate(-30)" text-anchor="end">17:00</text><text transform="translate(464.82,377.6) rotate(-30)" text-anchor="end">18:00</text><text transform="translate(494.21,377.6) rotate(-30)" text-anchor="end">19:00</text><text transform="translate(523.59,377.6) rotate(-30)" text-anchor="end">20:00</text><text transform="translate(552.98,377.6) rotate(-30)" text-anchor="end">21:00</text><text transform="translate(582.37,377.6) rotate(-30)" text-anchor="end">22:00</text><text transform="translate(611.75,377.6) rotate(-30)" text-anchor="end">23:00</text><text transform="translate(641.14,377.6) rotate(-30)" text-anchor="end">00:00</text><text transform="translate(670.53,377.6) rotate(-30)" text-anchor="end">01:00</text><text transform="translate(699.92,377.6) rotate(-30)" text-anchor="end">02:00</text><text transform="translate(729.3,377.6) rotate(-30)" text-anchor="end">03:00</text><text transform="translate(758.69,377.6) rotate(-30)" text-anchor="end">04:00</text><text transform="translate(788.08,377.6) rotate(-30)" text-anchor="end">05:00</text><text transform="translate(817.46,377.6) rotate(-30)" text-anchor="end">06:00</text><text transform="translate(846.85,377.6) rotate(-30)" text-anchor="end">07:00</text><text transform="translate(876.24,377.6) rotate(-30)" text-anchor="end">08:00</text><text transform="translate(905.63,377.6) rotate(-30)" text-anchor="end">09:00</text><text transform="translate(935.01,377.6) rotate(-30)" text-anchor="end">10:00</text><text transform="translate(964.4,377.6) rotate(-30)" text-anchor="end">11:00</text></g>
<text x="58.5" y="226.2" letter-spacing="0.5" font-family='"Liberation Sans", sans-serif' font-size="10.5" fill="#262626">(b)</text>
<text transform="translate(25.5,297.9) rotate(-90)" text-anchor="middle" font-family='"Liberation Serif", serif' font-size="10.5" fill="#4d86c6" fill-opacity="0.85">Frequency [Hz]</text>
<text transform="translate(988.5,297.9) rotate(-90)" text-anchor="middle" font-family='"Liberation Serif", serif' font-size="10.5" fill="#d9704a" fill-opacity="0.8">SWH [m]</text>
<defs><linearGradient id="cb"><stop offset="0" stop-color="#30123b"/><stop offset=".031" stop-color="#392a73"/><stop offset=".062" stop-color="#4040a2"/><stop offset=".094" stop-color="#4456c7"/><stop offset=".125" stop-color="#466be3"/><stop offset=".156" stop-color="#4680f6"/><stop offset=".188" stop-color="#4294ff"/><stop offset=".219" stop-color="#37a8fa"/><stop offset=".25" stop-color="#28bceb"/><stop offset=".281" stop-color="#1ccdd8"/><stop offset=".312" stop-color="#18ddc2"/><stop offset=".344" stop-color="#1fe9af"/><stop offset=".375" stop-color="#32f298"/><stop offset=".406" stop-color="#4ef97d"/><stop offset=".438" stop-color="#6dfe62"/><stop offset=".469" stop-color="#8bff4b"/><stop offset=".5" stop-color="#a4fc3c"/><stop offset=".531" stop-color="#b9f635"/><stop offset=".562" stop-color="#cdec34"/><stop offset=".594" stop-color="#dfdf37"/><stop offset=".625" stop-color="#eecf3a"/><stop offset=".656" stop-color="#f8be39"/><stop offset=".688" stop-color="#fdac34"/><stop offset=".719" stop-color="#fe962b"/><stop offset=".75" stop-color="#fb7e21"/><stop offset=".781" stop-color="#f46617"/><stop offset=".812" stop-color="#eb500e"/><stop offset=".844" stop-color="#df3f08"/><stop offset=".875" stop-color="#d02f05"/><stop offset=".906" stop-color="#be2102"/><stop offset=".938" stop-color="#a91601"/><stop offset=".969" stop-color="#920b01"/><stop offset="1" stop-color="#7a0403"/></linearGradient></defs>
<rect x="598.3" y="215.1" width="302.3" height="11.5" fill="url(#cb)" stroke="#262626" stroke-width="0.5"/>
<path d="M598.3 215.1v2.2M658.76 215.1v2.2M719.22 215.1v2.2M779.68 215.1v2.2M840.14 215.1v2.2M900.6 215.1v2.2" stroke="#262626" stroke-width="0.5"/>
<g font-family='"Liberation Sans", sans-serif' font-size="9.6" fill="#333"><text x="598.3" y="209.3" text-anchor="middle">−10</text><text x="658.76" y="209.3" text-anchor="middle">−8</text><text x="719.22" y="209.3" text-anchor="middle">−6</text><text x="779.68" y="209.3" text-anchor="middle">−4</text><text x="840.14" y="209.3" text-anchor="middle">−2</text><text x="900.6" y="209.3" text-anchor="middle">0</text></g>
<text x="391.4" y="224.2" textLength="191.9" lengthAdjust="spacing" font-family='"Liberation Serif", serif' font-size="10.3" fill="#4a4a4a">Elevation Spectrum (log-units, not to scale)</text>
<path d="M78.89 404.7V540.8M108.27 404.7V540.8M137.66 404.7V540.8M167.05 404.7V540.8M196.44 404.7V540.8M225.82 404.7V540.8M255.21 404.7V540.8M284.6 404.7V540.8M313.98 404.7V540.8M343.37 404.7V540.8M372.76 404.7V540.8M402.15 404.7V540.8M431.53 404.7V540.8M460.92 404.7V540.8M490.31 404.7V540.8M519.69 404.7V540.8M549.08 404.7V540.8M578.47 404.7V540.8M607.85 404.7V540.8M637.24 404.7V540.8M666.63 404.7V540.8M696.02 404.7V540.8M725.4 404.7V540.8M754.79 404.7V540.8M784.18 404.7V540.8M813.56 404.7V540.8M842.95 404.7V540.8M872.34 404.7V540.8M901.73 404.7V540.8M931.11 404.7V540.8" stroke="#dedede" stroke-width="0.5" fill="none"/>
<path d="M49.5 506.77H960.5M49.5 472.75H960.5M49.5 438.72H960.5" stroke="#dfe9f3" stroke-width="0.6" fill="none"/>
<path fill="none" stroke="#D95319" stroke-width=".9" stroke-linejoin="round"  d="M49.5 442l2.5.3 2.5-.1 2.5.1 2.5-.8 2.5-.7 2.5-1 2.5 1.2 2.5-1.1 2.5.4 2.5-.9 2.5.9 2.5.2 2.5-.8 2.5-.1 2.5-.9 2.5-.7 2.5.1 2.5.1 2.5.1 2.5-.3 2.5-.4 2.5-.4 2.5.1 2.5 1.6 2.5-.7 2.5-.1 2.5-.5 2.5.1 2.5 1.6 2.5-.8 2.5 1.3 2.5-.6 2.5.5 2.5-.1 2.5-1.1 2.5 1.4 2.5.1 2.5-.2 2.5-.4 2.5 1.8 2.5-1.9 2.5 1.4 2.5.1 2.5-.6 2.5-.4 2.5-1.2 2.5 1.1 2.5.9 2.5-.2 2.5.4 2.5-.9 2.5-.1 2.5.8 2.5-.8 2.5 1.7 2.5-.6 2.5.3 2.5-.2 2.5.7 2.5-1.5 2.5 1.4 2.5-.3 2.5-.6 2.5 0 2.5.5 2.5 2.3 2.5-.7 2.5.4 2.5.7 2.5.5 2.5.3 2.5-.2 2.5 1.1 2.5.9 2.5.6 2.5-.6 2.5 1.6 2.5-1.1 2.5 1.9 2.5 1.3 2.5.8 2.5 1.7 2.5-1.2 2.5.3 2.5-.6 2.5-3.3 2.5 1.5 2.5 2.3 2.5-1.9 2.5 2.5 2.5-2.8 2.5-.8 2.5-.5 2.5-.5 2.5.9 2.5-.4 2.5 2 2.5.4 2.5.2 2.5 1 2.5.8 2.5-.2 2.5 0 2.5-.8 2.5.2 2.5-1.9 2.5 1.4 2.5.1 2.5 2.1 2.5 5 2.5 7.4 2.5-3.1 2.5-3.1 2.5-1.4 2.5-2.6 2.5-1.7 2.5 4.4 2.5 4.6 2.5 8.2 2.5-2.6 2.5-8.9 2.5 1.9 2.5 1.6 2.5.3 2.5-2.3 2.5-.7 2.5.3 2.5-1.5 2.5.4 2.5 4 2.5.4 2.5-3.2 2.5-2.9 2.5 2 2.5 1.3 2.5-5.8 2.5-3.1 2.5 8.5 2.5 9.5 2.5-9 2.5-9.5 2.5-8.1 2.5 7 2.5 3.1 2.5 2.8 2.5-3.6 2.5-1.7 2.5 22.4 2.5-.1 2.5 6.5 2.5 13.2 2.5-16.4 2.5-30.3 2.5-7.3 2.5-3.5 2.5-.2 2.5-1.2 2.5-.5 2.5-2.2 2.5 3.6 2.5 9 2.5-4 2.5-1 2.5 1.2 2.5 3.1 2.5 1 2.5-5.1 2.5-4.4 2.5-2.8 2.5-4.5 2.5 4.1 2.5-2.3 2.5-5 2.5-2.9 2.5-6.6 2.5-.8 2.5 2.1 2.5 1.4 2.5-1.7 2.5 93.6 2.5 19.9 2.5 2 2.5.4 2.5-.6 2.5-1.7 2.5-.8 2.5-1.2 2.5-3 2.5-1.9 2.5-.5 2.5.5 2.5-.1 2.5 2.3 2.5-2.2 2.5-2.5 2.5.1 2.5-.4 2.5.1 2.5-.7 2.5-1.8 2.5-.9 2.5 4.4 2.5-2.1 2.5-1.7 2.5-1.1 2.5 1.7 2.5-.5 2.5 1 2.5.3 2.5-1.1 2.5.5 2.5.2 2.5-1.2 2.5-.2 2.5.3 2.5-1.5 2.5.7 2.5.1 2.5-.1 2.5.1 2.5-.4 2.5 1 2.5.6 2.5-1.5 2.5-1.3 2.5-.5 2.5-.7 2.5-.3 2.5-1.7 2.5-1.4 2.5.8 2.5 1.7 2.5.7 2.5-.1 2.5-1.4 2.5.8 2.5-.6 2.5.1 2.5 0 2.5-.4 2.5-.7 2.5.9 2.5-.8 2.5 1 2.5-.1 2.5-.8 2.5-.3 2.5-.5 2.5-1.9 2.5-1.8 2.5-2.4 2.5.4 2.5-1.9 2.5-1.5 2.5 2.1 2.5-2.6 2.5-4.2 2.5 4.9 2.5-6.6 2.5 4.9 2.5 3.9 2.5-7.1 2.5 1.8 2.5-.6 2.5-2 2.5 6.2 2.5-2.5 2.5-.7 2.5 1.4 2.5 8.8 2.5-6.4 2.5 1.6 2.5 2.2 2.5-2.4 2.5-.7 2.5 1.8 2.5 2.3 2.5-9.8 2.5-4.1 2.5 4.5 2.5 9.8 2.5-.4 2.5-2.1 2.5-2.8 2.5 11.7 2.5-13.3 2.5-8.8 2.5-2.5 2.5-3.1 2.5 2.1 2.5 6.9 2.5 7.8 2.5-18.2 2.5 1.8 2.5 12.1 2.5-12.8 2.5 6.9 2.5 8 2.5-14.9 2.5-1.8 2.5-3.3 2.5-4 2.5 2.4 2.5-3.8 2.5 1 2.5 7.7 2.5-7.4 2.5-2.3 2.5 2.1 2.5.2 2.5-1.5 2.5-1.6 2.5-.5 2.5-1.1 2.5 1.8 2.5 5.6 2.5 10.7 2.5-3.7 2.5-11.8 2.5 4.8 2.5 11.2 2.5 16.9 2.5-28.5 2.5.2 2.5 9.8 2.5-1.8 2.5-5.1 2.5 6.9 2.5-3.8 2.5-5.2 2.5 3.9 2.5 1.6 2.5-5.6 2.5 1.4 2.5-.8 2.5 1.1 2.5-.2 2.5.1 2.5 2.5 2.5.7 2.5 2.5 2.5-3.4 2.5 1.9 2.5 3 2.5 1.2 2.5.8 2.5 1.7 2.5 1.5 2.5 3.6 2.5 2.8 2.5 3.6 2.5 1.5 2.5 1.5 2.5-.3 2.5-.1 2.5-.8 2.5 1 2.5 1.5 2.5 3 2.5-.7 2.5-1.7 2.5.4 2.5 1.4 2.5 2"/>
<path fill="none" stroke="#0072BD" stroke-width=".9" stroke-linejoin="round"  d="M49.5 473.3l2.5-3.6 2.5 2 2.5-.7 2.5.8 2.5 1.7 2.5.2 2.5 1.9 2.5 0 2.5-1.5 2.5.5 2.5-1.4 2.5 1.8 2.5-2.5 2.5-.1 2.5.3 2.5.8 2.5-1.3 2.5 1.4 2.5-1.2 2.5 1.4 2.5 0 2.5 1.5 2.5-2.2 2.5 2 2.5.7 2.5-.4 2.5 1.6 2.5-.7 2.5 1.8 2.5-.7 2.5 1.5 2.5 1 2.5-.5 2.5 1.1 2.5-1 2.5.8 2.5.3 2.5.9 2.5 1 2.5.4 2.5 0 2.5 1.5 2.5 1 2.5.8 2.5.1 2.5 1 2.5-1.1 2.5 2.7 2.5.4 2.5 0 2.5-.2 2.5 1 2.5 1 2.5.3 2.5.8 2.5.4 2.5 2.6 2.5.7 2.5 1.3 2.5.2 2.5.8 2.5 2.2 2.5-1.7 2.5 2.3 2.5 1.9 2.5 1.8 2.5 1.1 2.5 1.3 2.5 1.2 2.5 1.9 2.5 1.1 2.5 2.7 2.5.8 2.5 1.5 2.5.5 2.5 1.1 2.5 2.3 2.5 0 2.5.3 2.5.7 2.5 2.3 2.5-.3 2.5-.7 2.5-.8 2.5-2.9 2.5.7 2.5 1 2.5 1.8 2.5 2.4 2.5 2.5 2.5-1.3 2.5-.9 2.5-.5 2.5-.9 2.5-.1 2.5-.1 2.5-1.4 2.5 3.4 2.5-2.7 2.5.7 2.5-.9 2.5 3.6 2.5.1 2.5-.4 2.5-3 2.5-.5 2.5.4 2.5.9 2.5-.1 2.5 5.4 2.5.6 2.5-.6 2.5.4 2.5-2.5 2.5 3.4 2.5-1.9 2.5 3.1 2.5.1 2.5.9 2.5.9 2.5-3.4 2.5-2.9 2.5 2.5 2.5.3 2.5-1.1 2.5 2.8 2.5.5 2.5.3 2.5.3 2.5-.6 2.5-.2 2.5-.3 2.5-.7 2.5.2 2.5.4 2.5-.4 2.5 1.5 2.5.8 2.5.8 2.5-.6 2.5-3.1 2.5-2.6 2.5 2.5 2.5.6 2.5.9 2.5 1.4 2.5 1.1 2.5.4 2.5 1 2.5 2.5 2.5-.8 2.5-1.3 2.5-2.7 2.5-2.6 2.5-.4 2.5.7 2.5 1.8 2.5 1.9 2.5 1.4 2.5 2 2.5-2.5 2.5-1.8 2.5.7 2.5 1.8 2.5.4 2.5.3 2.5 1.6 2.5 1.7 2.5-1.8 2.5-.5 2.5 0 2.5-.7 2.5 1.1 2.5-1.7 2.5.6 2.5.8 2.5-.5 2.5.2 2.5.8 2.5-.2 2.5-1.5 2.5-4.9 2.5 1.3 2.5-1 2.5-1 2.5-.2 2.5-2.3 2.5 1.2 2.5-.2 2.5 2.6 2.5-1.8 2.5-1.1 2.5-.3 2.5 2.6 2.5-.7 2.5-2.9 2.5-2.6 2.5.7 2.5-1.9 2.5.9 2.5-1.2 2.5-.1 2.5-.3 2.5 1.1 2.5-1.2 2.5-1.9 2.5-.6 2.5-.2 2.5-2.4 2.5-1.5 2.5.5 2.5 3.8 2.5.7 2.5 2 2.5-1.7 2.5-2.1 2.5-2.6 2.5-2.3 2.5-1.7 2.5-2.6 2.5-2.4 2.5.2 2.5 4.7 2.5 2.4 2.5.5 2.5-3.1 2.5-2.4 2.5 5.6 2.5 4.2 2.5-.8 2.5-2.2 2.5-2.7 2.5-2.9 2.5 7.1 2.5.1 2.5 1.5 2.5.2 2.5.2 2.5.3 2.5 1 2.5-1.5 2.5-2.6 2.5-1.5 2.5 4.8 2.5 5.3 2.5-.9 2.5-1.3 2.5.4 2.5 2.3 2.5 3.4 2.5-.4 2.5.5 2.5 1.2 2.5-1.3 2.5 1.4 2.5-1.3 2.5 1.5 2.5.5 2.5-.8 2.5-.6 2.5-1.2 2.5.9 2.5-.1 2.5 1.2 2.5-.9 2.5-1.1 2.5-.5 2.5-.4 2.5-2.8 2.5-3.3 2.5 2.9 2.5 0 2.5 0 2.5-.3 2.5 3 2.5 1 2.5-1 2.5-2.1 2.5.7 2.5 1.7 2.5-.3 2.5.9 2.5-.7 2.5-3.3 2.5-3.9 2.5 10.9 2.5-3.1 2.5-3.1 2.5-.8 2.5-1.6 2.5 3.2 2.5 4.7 2.5 2.3 2.5-10.5 2.5 6.7 2.5.1 2.5-1.1 2.5 0 2.5-4.3 2.5 2.4 2.5-4.8 2.5.2 2.5 3 2.5 5.5 2.5 3.8 2.5-4.2 2.5-1.4 2.5-.4 2.5 1 2.5-1.2 2.5 2.6 2.5-4.6 2.5-2 2.5 4.7 2.5 2 2.5 1.9 2.5 1.4 2.5-1 2.5-.1 2.5.5 2.5 1 2.5 2.4 2.5-2 2.5-2.7 2.5 2.2 2.5-.1 2.5-.9 2.5-.7 2.5-2.7 2.5 1.3 2.5 3.6 2.5.8 2.5-4.5 2.5-3.6 2.5-1.3 2.5-1.3 2.5.9 2.5 1.5 2.5-1.4 2.5-.4 2.5 2 2.5-.8 2.5-2.8 2.5 1.6 2.5 1.7 2.5 1.2 2.5 1.2 2.5 1.5 2.5 1.8 2.5-1.6 2.5-1.3 2.5-1.2 2.5.9 2.5 1.1 2.5 1 2.5.7 2.5-.8 2.5-.6 2.5-2 2.5-1.8 2.5 1.2 2.5-.6 2.5 1.8 2.5-1.1"/>
<path d="M49.5 404.7H960.5" stroke="#8c8c8c" stroke-width="0.8"/>
<path d="M49.5 540.8H960.5" stroke="#8c8c8c" stroke-width="0.8"/>
<path d="M78.89 540.8V531.7M78.89 404.7V413.8M108.27 540.8V531.7M108.27 404.7V413.8M137.66 540.8V531.7M137.66 404.7V413.8M167.05 540.8V531.7M167.05 404.7V413.8M196.44 540.8V531.7M196.44 404.7V413.8M225.82 540.8V531.7M225.82 404.7V413.8M255.21 540.8V531.7M255.21 404.7V413.8M284.6 540.8V531.7M284.6 404.7V413.8M313.98 540.8V531.7M313.98 404.7V413.8M343.37 540.8V531.7M343.37 404.7V413.8M372.76 540.8V531.7M372.76 404.7V413.8M402.15 540.8V531.7M402.15 404.7V413.8M431.53 540.8V531.7M431.53 404.7V413.8M460.92 540.8V531.7M460.92 404.7V413.8M490.31 540.8V531.7M490.31 404.7V413.8M519.69 540.8V531.7M519.69 404.7V413.8M549.08 540.8V531.7M549.08 404.7V413.8M578.47 540.8V531.7M578.47 404.7V413.8M607.85 540.8V531.7M607.85 404.7V413.8M637.24 540.8V531.7M637.24 404.7V413.8M666.63 540.8V531.7M666.63 404.7V413.8M696.02 540.8V531.7M696.02 404.7V413.8M725.4 540.8V531.7M725.4 404.7V413.8M754.79 540.8V531.7M754.79 404.7V413.8M784.18 540.8V531.7M784.18 404.7V413.8M813.56 540.8V531.7M813.56 404.7V413.8M842.95 540.8V531.7M842.95 404.7V413.8M872.34 540.8V531.7M872.34 404.7V413.8M901.73 540.8V531.7M901.73 404.7V413.8M931.11 540.8V531.7M931.11 404.7V413.8" stroke="#555555" stroke-width="0.6" fill="none"/>
<path d="M49.5 404.7V540.8" stroke="#4d86c6" stroke-width="0.9"/>
<path d="M960.5 404.7V540.8" stroke="#d9704a" stroke-width="0.9"/>
<path d="M49.5 540.8h9.1M49.5 506.77h9.1M49.5 472.75h9.1M49.5 438.72h9.1M49.5 404.7h9.1" stroke="#4d86c6" stroke-width="0.9"/>
<path d="M960.5 540.8h-9.1M960.5 506.77h-9.1M960.5 472.75h-9.1M960.5 438.72h-9.1M960.5 404.7h-9.1" stroke="#d9704a" stroke-width="0.9"/>
<g font-family='"Liberation Sans", sans-serif' font-size="10.5"><text x="45.5" y="544.4" text-anchor="end" fill="#4d86c6">0</text><text x="45.5" y="510.38" text-anchor="end" fill="#4d86c6">0.2</text><text x="45.5" y="476.35" text-anchor="end" fill="#4d86c6">0.4</text><text x="45.5" y="442.32" text-anchor="end" fill="#4d86c6">0.6</text><text x="45.5" y="408.3" text-anchor="end" fill="#4d86c6">0.8</text><text x="964.5" y="544.4" fill="#d9704a">0</text><text x="964.5" y="510.38" fill="#d9704a">90</text><text x="964.5" y="476.35" fill="#d9704a">180</text><text x="964.5" y="442.32" fill="#d9704a">270</text><text x="964.5" y="408.3" fill="#d9704a">360</text></g>
<g font-family='"Liberation Sans", sans-serif' font-size="10.7" fill="#262626"><text transform="translate(53.4,552) rotate(-30)" text-anchor="end">04:00</text><text transform="translate(82.79,552) rotate(-30)" text-anchor="end">05:00</text><text transform="translate(112.17,552) rotate(-30)" text-anchor="end">06:00</text><text transform="translate(141.56,552) rotate(-30)" text-anchor="end">07:00</text><text transform="translate(170.95,552) rotate(-30)" text-anchor="end">08:00</text><text transform="translate(200.34,552) rotate(-30)" text-anchor="end">09:00</text><text transform="translate(229.72,552) rotate(-30)" text-anchor="end">10:00</text><text transform="translate(259.11,552) rotate(-30)" text-anchor="end">11:00</text><text transform="translate(288.5,552) rotate(-30)" text-anchor="end">12:00</text><text transform="translate(317.88,552) rotate(-30)" text-anchor="end">13:00</text><text transform="translate(347.27,552) rotate(-30)" text-anchor="end">14:00</text><text transform="translate(376.66,552) rotate(-30)" text-anchor="end">15:00</text><text transform="translate(406.05,552) rotate(-30)" text-anchor="end">16:00</text><text transform="translate(435.43,552) rotate(-30)" text-anchor="end">17:00</text><text transform="translate(464.82,552) rotate(-30)" text-anchor="end">18:00</text><text transform="translate(494.21,552) rotate(-30)" text-anchor="end">19:00</text><text transform="translate(523.59,552) rotate(-30)" text-anchor="end">20:00</text><text transform="translate(552.98,552) rotate(-30)" text-anchor="end">21:00</text><text transform="translate(582.37,552) rotate(-30)" text-anchor="end">22:00</text><text transform="translate(611.75,552) rotate(-30)" text-anchor="end">23:00</text><text transform="translate(641.14,552) rotate(-30)" text-anchor="end">00:00</text><text transform="translate(670.53,552) rotate(-30)" text-anchor="end">01:00</text><text transform="translate(699.92,552) rotate(-30)" text-anchor="end">02:00</text><text transform="translate(729.3,552) rotate(-30)" text-anchor="end">03:00</text><text transform="translate(758.69,552) rotate(-30)" text-anchor="end">04:00</text><text transform="translate(788.08,552) rotate(-30)" text-anchor="end">05:00</text><text transform="translate(817.46,552) rotate(-30)" text-anchor="end">06:00</text><text transform="translate(846.85,552) rotate(-30)" text-anchor="end">07:00</text><text transform="translate(876.24,552) rotate(-30)" text-anchor="end">08:00</text><text transform="translate(905.63,552) rotate(-30)" text-anchor="end">09:00</text><text transform="translate(935.01,552) rotate(-30)" text-anchor="end">10:00</text><text transform="translate(964.4,552) rotate(-30)" text-anchor="end">11:00</text></g>
<text x="59" y="400.4" letter-spacing="0.5" font-family='"Liberation Sans", sans-serif' font-size="10.5" fill="#262626">(c)</text>
<text transform="translate(23.8,472.2) rotate(-90)" text-anchor="middle" font-family='"Liberation Serif", serif' font-size="11.7" fill="#4d86c6" fill-opacity="0.85">10-m Depth Current Speed [m s<tspan dy="-3.5" font-size="7">−1</tspan><tspan dy="3.5">]</tspan></text>
<text transform="translate(994.5,472.2) rotate(-90)" text-anchor="middle" font-family='"Liberation Serif", serif' font-size="11.5" fill="#d9704a" fill-opacity="0.8">10-m Depth Current Direction [°]</text>
<text x="504.8" y="577.5" text-anchor="middle" font-family='"Liberation Serif", serif' font-size="11.1" fill="#505050">UTC [HH:MM]</text>
</svg>
</body></html>
